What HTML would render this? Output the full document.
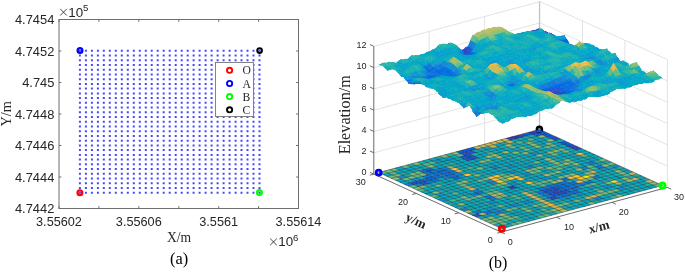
<!DOCTYPE html>
<html><head><meta charset="utf-8"><style>
html,body{margin:0;padding:0;background:#fff;width:685px;height:278px;overflow:hidden}
svg{display:block;transform:translateZ(0)}
.ts path{fill:currentColor;stroke:currentColor;stroke-width:1px;stroke-linejoin:round}
</style></head><body><svg width="685" height="278" viewBox="0 0 685 278"><rect x="59.0" y="19.5" width="239.5" height="189.0" fill="#fff" stroke="none"/><path d="M78.9 49.8h2v2h-2zM84.9 49.8h2v2h-2zM90.9 49.8h2v2h-2zM96.9 49.8h2v2h-2zM102.8 49.8h2v2h-2zM108.8 49.8h2v2h-2zM114.8 49.8h2v2h-2zM120.8 49.8h2v2h-2zM126.8 49.8h2v2h-2zM132.8 49.8h2v2h-2zM138.8 49.8h2v2h-2zM144.8 49.8h2v2h-2zM150.7 49.8h2v2h-2zM156.7 49.8h2v2h-2zM162.7 49.8h2v2h-2zM168.7 49.8h2v2h-2zM174.7 49.8h2v2h-2zM180.7 49.8h2v2h-2zM186.7 49.8h2v2h-2zM192.6 49.8h2v2h-2zM198.6 49.8h2v2h-2zM204.6 49.8h2v2h-2zM210.6 49.8h2v2h-2zM216.6 49.8h2v2h-2zM222.6 49.8h2v2h-2zM228.6 49.8h2v2h-2zM234.6 49.8h2v2h-2zM240.5 49.8h2v2h-2zM246.5 49.8h2v2h-2zM252.5 49.8h2v2h-2zM258.5 49.8h2v2h-2zM78.9 54.5h2v2h-2zM84.9 54.5h2v2h-2zM90.9 54.5h2v2h-2zM96.9 54.5h2v2h-2zM102.8 54.5h2v2h-2zM108.8 54.5h2v2h-2zM114.8 54.5h2v2h-2zM120.8 54.5h2v2h-2zM126.8 54.5h2v2h-2zM132.8 54.5h2v2h-2zM138.8 54.5h2v2h-2zM144.8 54.5h2v2h-2zM150.7 54.5h2v2h-2zM156.7 54.5h2v2h-2zM162.7 54.5h2v2h-2zM168.7 54.5h2v2h-2zM174.7 54.5h2v2h-2zM180.7 54.5h2v2h-2zM186.7 54.5h2v2h-2zM192.6 54.5h2v2h-2zM198.6 54.5h2v2h-2zM204.6 54.5h2v2h-2zM210.6 54.5h2v2h-2zM216.6 54.5h2v2h-2zM222.6 54.5h2v2h-2zM228.6 54.5h2v2h-2zM234.6 54.5h2v2h-2zM240.5 54.5h2v2h-2zM246.5 54.5h2v2h-2zM252.5 54.5h2v2h-2zM258.5 54.5h2v2h-2zM78.9 59.3h2v2h-2zM84.9 59.3h2v2h-2zM90.9 59.3h2v2h-2zM96.9 59.3h2v2h-2zM102.8 59.3h2v2h-2zM108.8 59.3h2v2h-2zM114.8 59.3h2v2h-2zM120.8 59.3h2v2h-2zM126.8 59.3h2v2h-2zM132.8 59.3h2v2h-2zM138.8 59.3h2v2h-2zM144.8 59.3h2v2h-2zM150.7 59.3h2v2h-2zM156.7 59.3h2v2h-2zM162.7 59.3h2v2h-2zM168.7 59.3h2v2h-2zM174.7 59.3h2v2h-2zM180.7 59.3h2v2h-2zM186.7 59.3h2v2h-2zM192.6 59.3h2v2h-2zM198.6 59.3h2v2h-2zM204.6 59.3h2v2h-2zM210.6 59.3h2v2h-2zM216.6 59.3h2v2h-2zM222.6 59.3h2v2h-2zM228.6 59.3h2v2h-2zM234.6 59.3h2v2h-2zM240.5 59.3h2v2h-2zM246.5 59.3h2v2h-2zM252.5 59.3h2v2h-2zM258.5 59.3h2v2h-2zM78.9 64h2v2h-2zM84.9 64h2v2h-2zM90.9 64h2v2h-2zM96.9 64h2v2h-2zM102.8 64h2v2h-2zM108.8 64h2v2h-2zM114.8 64h2v2h-2zM120.8 64h2v2h-2zM126.8 64h2v2h-2zM132.8 64h2v2h-2zM138.8 64h2v2h-2zM144.8 64h2v2h-2zM150.7 64h2v2h-2zM156.7 64h2v2h-2zM162.7 64h2v2h-2zM168.7 64h2v2h-2zM174.7 64h2v2h-2zM180.7 64h2v2h-2zM186.7 64h2v2h-2zM192.6 64h2v2h-2zM198.6 64h2v2h-2zM204.6 64h2v2h-2zM210.6 64h2v2h-2zM216.6 64h2v2h-2zM222.6 64h2v2h-2zM228.6 64h2v2h-2zM234.6 64h2v2h-2zM240.5 64h2v2h-2zM246.5 64h2v2h-2zM252.5 64h2v2h-2zM258.5 64h2v2h-2zM78.9 68.7h2v2h-2zM84.9 68.7h2v2h-2zM90.9 68.7h2v2h-2zM96.9 68.7h2v2h-2zM102.8 68.7h2v2h-2zM108.8 68.7h2v2h-2zM114.8 68.7h2v2h-2zM120.8 68.7h2v2h-2zM126.8 68.7h2v2h-2zM132.8 68.7h2v2h-2zM138.8 68.7h2v2h-2zM144.8 68.7h2v2h-2zM150.7 68.7h2v2h-2zM156.7 68.7h2v2h-2zM162.7 68.7h2v2h-2zM168.7 68.7h2v2h-2zM174.7 68.7h2v2h-2zM180.7 68.7h2v2h-2zM186.7 68.7h2v2h-2zM192.6 68.7h2v2h-2zM198.6 68.7h2v2h-2zM204.6 68.7h2v2h-2zM210.6 68.7h2v2h-2zM216.6 68.7h2v2h-2zM222.6 68.7h2v2h-2zM228.6 68.7h2v2h-2zM234.6 68.7h2v2h-2zM240.5 68.7h2v2h-2zM246.5 68.7h2v2h-2zM252.5 68.7h2v2h-2zM258.5 68.7h2v2h-2zM78.9 73.4h2v2h-2zM84.9 73.4h2v2h-2zM90.9 73.4h2v2h-2zM96.9 73.4h2v2h-2zM102.8 73.4h2v2h-2zM108.8 73.4h2v2h-2zM114.8 73.4h2v2h-2zM120.8 73.4h2v2h-2zM126.8 73.4h2v2h-2zM132.8 73.4h2v2h-2zM138.8 73.4h2v2h-2zM144.8 73.4h2v2h-2zM150.7 73.4h2v2h-2zM156.7 73.4h2v2h-2zM162.7 73.4h2v2h-2zM168.7 73.4h2v2h-2zM174.7 73.4h2v2h-2zM180.7 73.4h2v2h-2zM186.7 73.4h2v2h-2zM192.6 73.4h2v2h-2zM198.6 73.4h2v2h-2zM204.6 73.4h2v2h-2zM210.6 73.4h2v2h-2zM216.6 73.4h2v2h-2zM222.6 73.4h2v2h-2zM228.6 73.4h2v2h-2zM234.6 73.4h2v2h-2zM240.5 73.4h2v2h-2zM246.5 73.4h2v2h-2zM252.5 73.4h2v2h-2zM258.5 73.4h2v2h-2zM78.9 78.2h2v2h-2zM84.9 78.2h2v2h-2zM90.9 78.2h2v2h-2zM96.9 78.2h2v2h-2zM102.8 78.2h2v2h-2zM108.8 78.2h2v2h-2zM114.8 78.2h2v2h-2zM120.8 78.2h2v2h-2zM126.8 78.2h2v2h-2zM132.8 78.2h2v2h-2zM138.8 78.2h2v2h-2zM144.8 78.2h2v2h-2zM150.7 78.2h2v2h-2zM156.7 78.2h2v2h-2zM162.7 78.2h2v2h-2zM168.7 78.2h2v2h-2zM174.7 78.2h2v2h-2zM180.7 78.2h2v2h-2zM186.7 78.2h2v2h-2zM192.6 78.2h2v2h-2zM198.6 78.2h2v2h-2zM204.6 78.2h2v2h-2zM210.6 78.2h2v2h-2zM216.6 78.2h2v2h-2zM222.6 78.2h2v2h-2zM228.6 78.2h2v2h-2zM234.6 78.2h2v2h-2zM240.5 78.2h2v2h-2zM246.5 78.2h2v2h-2zM252.5 78.2h2v2h-2zM258.5 78.2h2v2h-2zM78.9 82.9h2v2h-2zM84.9 82.9h2v2h-2zM90.9 82.9h2v2h-2zM96.9 82.9h2v2h-2zM102.8 82.9h2v2h-2zM108.8 82.9h2v2h-2zM114.8 82.9h2v2h-2zM120.8 82.9h2v2h-2zM126.8 82.9h2v2h-2zM132.8 82.9h2v2h-2zM138.8 82.9h2v2h-2zM144.8 82.9h2v2h-2zM150.7 82.9h2v2h-2zM156.7 82.9h2v2h-2zM162.7 82.9h2v2h-2zM168.7 82.9h2v2h-2zM174.7 82.9h2v2h-2zM180.7 82.9h2v2h-2zM186.7 82.9h2v2h-2zM192.6 82.9h2v2h-2zM198.6 82.9h2v2h-2zM204.6 82.9h2v2h-2zM210.6 82.9h2v2h-2zM216.6 82.9h2v2h-2zM222.6 82.9h2v2h-2zM228.6 82.9h2v2h-2zM234.6 82.9h2v2h-2zM240.5 82.9h2v2h-2zM246.5 82.9h2v2h-2zM252.5 82.9h2v2h-2zM258.5 82.9h2v2h-2zM78.9 87.6h2v2h-2zM84.9 87.6h2v2h-2zM90.9 87.6h2v2h-2zM96.9 87.6h2v2h-2zM102.8 87.6h2v2h-2zM108.8 87.6h2v2h-2zM114.8 87.6h2v2h-2zM120.8 87.6h2v2h-2zM126.8 87.6h2v2h-2zM132.8 87.6h2v2h-2zM138.8 87.6h2v2h-2zM144.8 87.6h2v2h-2zM150.7 87.6h2v2h-2zM156.7 87.6h2v2h-2zM162.7 87.6h2v2h-2zM168.7 87.6h2v2h-2zM174.7 87.6h2v2h-2zM180.7 87.6h2v2h-2zM186.7 87.6h2v2h-2zM192.6 87.6h2v2h-2zM198.6 87.6h2v2h-2zM204.6 87.6h2v2h-2zM210.6 87.6h2v2h-2zM216.6 87.6h2v2h-2zM222.6 87.6h2v2h-2zM228.6 87.6h2v2h-2zM234.6 87.6h2v2h-2zM240.5 87.6h2v2h-2zM246.5 87.6h2v2h-2zM252.5 87.6h2v2h-2zM258.5 87.6h2v2h-2zM78.9 92.4h2v2h-2zM84.9 92.4h2v2h-2zM90.9 92.4h2v2h-2zM96.9 92.4h2v2h-2zM102.8 92.4h2v2h-2zM108.8 92.4h2v2h-2zM114.8 92.4h2v2h-2zM120.8 92.4h2v2h-2zM126.8 92.4h2v2h-2zM132.8 92.4h2v2h-2zM138.8 92.4h2v2h-2zM144.8 92.4h2v2h-2zM150.7 92.4h2v2h-2zM156.7 92.4h2v2h-2zM162.7 92.4h2v2h-2zM168.7 92.4h2v2h-2zM174.7 92.4h2v2h-2zM180.7 92.4h2v2h-2zM186.7 92.4h2v2h-2zM192.6 92.4h2v2h-2zM198.6 92.4h2v2h-2zM204.6 92.4h2v2h-2zM210.6 92.4h2v2h-2zM216.6 92.4h2v2h-2zM222.6 92.4h2v2h-2zM228.6 92.4h2v2h-2zM234.6 92.4h2v2h-2zM240.5 92.4h2v2h-2zM246.5 92.4h2v2h-2zM252.5 92.4h2v2h-2zM258.5 92.4h2v2h-2zM78.9 97.1h2v2h-2zM84.9 97.1h2v2h-2zM90.9 97.1h2v2h-2zM96.9 97.1h2v2h-2zM102.8 97.1h2v2h-2zM108.8 97.1h2v2h-2zM114.8 97.1h2v2h-2zM120.8 97.1h2v2h-2zM126.8 97.1h2v2h-2zM132.8 97.1h2v2h-2zM138.8 97.1h2v2h-2zM144.8 97.1h2v2h-2zM150.7 97.1h2v2h-2zM156.7 97.1h2v2h-2zM162.7 97.1h2v2h-2zM168.7 97.1h2v2h-2zM174.7 97.1h2v2h-2zM180.7 97.1h2v2h-2zM186.7 97.1h2v2h-2zM192.6 97.1h2v2h-2zM198.6 97.1h2v2h-2zM204.6 97.1h2v2h-2zM210.6 97.1h2v2h-2zM216.6 97.1h2v2h-2zM222.6 97.1h2v2h-2zM228.6 97.1h2v2h-2zM234.6 97.1h2v2h-2zM240.5 97.1h2v2h-2zM246.5 97.1h2v2h-2zM252.5 97.1h2v2h-2zM258.5 97.1h2v2h-2zM78.9 101.8h2v2h-2zM84.9 101.8h2v2h-2zM90.9 101.8h2v2h-2zM96.9 101.8h2v2h-2zM102.8 101.8h2v2h-2zM108.8 101.8h2v2h-2zM114.8 101.8h2v2h-2zM120.8 101.8h2v2h-2zM126.8 101.8h2v2h-2zM132.8 101.8h2v2h-2zM138.8 101.8h2v2h-2zM144.8 101.8h2v2h-2zM150.7 101.8h2v2h-2zM156.7 101.8h2v2h-2zM162.7 101.8h2v2h-2zM168.7 101.8h2v2h-2zM174.7 101.8h2v2h-2zM180.7 101.8h2v2h-2zM186.7 101.8h2v2h-2zM192.6 101.8h2v2h-2zM198.6 101.8h2v2h-2zM204.6 101.8h2v2h-2zM210.6 101.8h2v2h-2zM216.6 101.8h2v2h-2zM222.6 101.8h2v2h-2zM228.6 101.8h2v2h-2zM234.6 101.8h2v2h-2zM240.5 101.8h2v2h-2zM246.5 101.8h2v2h-2zM252.5 101.8h2v2h-2zM258.5 101.8h2v2h-2zM78.9 106.6h2v2h-2zM84.9 106.6h2v2h-2zM90.9 106.6h2v2h-2zM96.9 106.6h2v2h-2zM102.8 106.6h2v2h-2zM108.8 106.6h2v2h-2zM114.8 106.6h2v2h-2zM120.8 106.6h2v2h-2zM126.8 106.6h2v2h-2zM132.8 106.6h2v2h-2zM138.8 106.6h2v2h-2zM144.8 106.6h2v2h-2zM150.7 106.6h2v2h-2zM156.7 106.6h2v2h-2zM162.7 106.6h2v2h-2zM168.7 106.6h2v2h-2zM174.7 106.6h2v2h-2zM180.7 106.6h2v2h-2zM186.7 106.6h2v2h-2zM192.6 106.6h2v2h-2zM198.6 106.6h2v2h-2zM204.6 106.6h2v2h-2zM210.6 106.6h2v2h-2zM216.6 106.6h2v2h-2zM222.6 106.6h2v2h-2zM228.6 106.6h2v2h-2zM234.6 106.6h2v2h-2zM240.5 106.6h2v2h-2zM246.5 106.6h2v2h-2zM252.5 106.6h2v2h-2zM258.5 106.6h2v2h-2zM78.9 111.3h2v2h-2zM84.9 111.3h2v2h-2zM90.9 111.3h2v2h-2zM96.9 111.3h2v2h-2zM102.8 111.3h2v2h-2zM108.8 111.3h2v2h-2zM114.8 111.3h2v2h-2zM120.8 111.3h2v2h-2zM126.8 111.3h2v2h-2zM132.8 111.3h2v2h-2zM138.8 111.3h2v2h-2zM144.8 111.3h2v2h-2zM150.7 111.3h2v2h-2zM156.7 111.3h2v2h-2zM162.7 111.3h2v2h-2zM168.7 111.3h2v2h-2zM174.7 111.3h2v2h-2zM180.7 111.3h2v2h-2zM186.7 111.3h2v2h-2zM192.6 111.3h2v2h-2zM198.6 111.3h2v2h-2zM204.6 111.3h2v2h-2zM210.6 111.3h2v2h-2zM216.6 111.3h2v2h-2zM222.6 111.3h2v2h-2zM228.6 111.3h2v2h-2zM234.6 111.3h2v2h-2zM240.5 111.3h2v2h-2zM246.5 111.3h2v2h-2zM252.5 111.3h2v2h-2zM258.5 111.3h2v2h-2zM78.9 116h2v2h-2zM84.9 116h2v2h-2zM90.9 116h2v2h-2zM96.9 116h2v2h-2zM102.8 116h2v2h-2zM108.8 116h2v2h-2zM114.8 116h2v2h-2zM120.8 116h2v2h-2zM126.8 116h2v2h-2zM132.8 116h2v2h-2zM138.8 116h2v2h-2zM144.8 116h2v2h-2zM150.7 116h2v2h-2zM156.7 116h2v2h-2zM162.7 116h2v2h-2zM168.7 116h2v2h-2zM174.7 116h2v2h-2zM180.7 116h2v2h-2zM186.7 116h2v2h-2zM192.6 116h2v2h-2zM198.6 116h2v2h-2zM204.6 116h2v2h-2zM210.6 116h2v2h-2zM216.6 116h2v2h-2zM222.6 116h2v2h-2zM228.6 116h2v2h-2zM234.6 116h2v2h-2zM240.5 116h2v2h-2zM246.5 116h2v2h-2zM252.5 116h2v2h-2zM258.5 116h2v2h-2zM78.9 120.7h2v2h-2zM84.9 120.7h2v2h-2zM90.9 120.7h2v2h-2zM96.9 120.7h2v2h-2zM102.8 120.7h2v2h-2zM108.8 120.7h2v2h-2zM114.8 120.7h2v2h-2zM120.8 120.7h2v2h-2zM126.8 120.7h2v2h-2zM132.8 120.7h2v2h-2zM138.8 120.7h2v2h-2zM144.8 120.7h2v2h-2zM150.7 120.7h2v2h-2zM156.7 120.7h2v2h-2zM162.7 120.7h2v2h-2zM168.7 120.7h2v2h-2zM174.7 120.7h2v2h-2zM180.7 120.7h2v2h-2zM186.7 120.7h2v2h-2zM192.6 120.7h2v2h-2zM198.6 120.7h2v2h-2zM204.6 120.7h2v2h-2zM210.6 120.7h2v2h-2zM216.6 120.7h2v2h-2zM222.6 120.7h2v2h-2zM228.6 120.7h2v2h-2zM234.6 120.7h2v2h-2zM240.5 120.7h2v2h-2zM246.5 120.7h2v2h-2zM252.5 120.7h2v2h-2zM258.5 120.7h2v2h-2zM78.9 125.5h2v2h-2zM84.9 125.5h2v2h-2zM90.9 125.5h2v2h-2zM96.9 125.5h2v2h-2zM102.8 125.5h2v2h-2zM108.8 125.5h2v2h-2zM114.8 125.5h2v2h-2zM120.8 125.5h2v2h-2zM126.8 125.5h2v2h-2zM132.8 125.5h2v2h-2zM138.8 125.5h2v2h-2zM144.8 125.5h2v2h-2zM150.7 125.5h2v2h-2zM156.7 125.5h2v2h-2zM162.7 125.5h2v2h-2zM168.7 125.5h2v2h-2zM174.7 125.5h2v2h-2zM180.7 125.5h2v2h-2zM186.7 125.5h2v2h-2zM192.6 125.5h2v2h-2zM198.6 125.5h2v2h-2zM204.6 125.5h2v2h-2zM210.6 125.5h2v2h-2zM216.6 125.5h2v2h-2zM222.6 125.5h2v2h-2zM228.6 125.5h2v2h-2zM234.6 125.5h2v2h-2zM240.5 125.5h2v2h-2zM246.5 125.5h2v2h-2zM252.5 125.5h2v2h-2zM258.5 125.5h2v2h-2zM78.9 130.2h2v2h-2zM84.9 130.2h2v2h-2zM90.9 130.2h2v2h-2zM96.9 130.2h2v2h-2zM102.8 130.2h2v2h-2zM108.8 130.2h2v2h-2zM114.8 130.2h2v2h-2zM120.8 130.2h2v2h-2zM126.8 130.2h2v2h-2zM132.8 130.2h2v2h-2zM138.8 130.2h2v2h-2zM144.8 130.2h2v2h-2zM150.7 130.2h2v2h-2zM156.7 130.2h2v2h-2zM162.7 130.2h2v2h-2zM168.7 130.2h2v2h-2zM174.7 130.2h2v2h-2zM180.7 130.2h2v2h-2zM186.7 130.2h2v2h-2zM192.6 130.2h2v2h-2zM198.6 130.2h2v2h-2zM204.6 130.2h2v2h-2zM210.6 130.2h2v2h-2zM216.6 130.2h2v2h-2zM222.6 130.2h2v2h-2zM228.6 130.2h2v2h-2zM234.6 130.2h2v2h-2zM240.5 130.2h2v2h-2zM246.5 130.2h2v2h-2zM252.5 130.2h2v2h-2zM258.5 130.2h2v2h-2zM78.9 134.9h2v2h-2zM84.9 134.9h2v2h-2zM90.9 134.9h2v2h-2zM96.9 134.9h2v2h-2zM102.8 134.9h2v2h-2zM108.8 134.9h2v2h-2zM114.8 134.9h2v2h-2zM120.8 134.9h2v2h-2zM126.8 134.9h2v2h-2zM132.8 134.9h2v2h-2zM138.8 134.9h2v2h-2zM144.8 134.9h2v2h-2zM150.7 134.9h2v2h-2zM156.7 134.9h2v2h-2zM162.7 134.9h2v2h-2zM168.7 134.9h2v2h-2zM174.7 134.9h2v2h-2zM180.7 134.9h2v2h-2zM186.7 134.9h2v2h-2zM192.6 134.9h2v2h-2zM198.6 134.9h2v2h-2zM204.6 134.9h2v2h-2zM210.6 134.9h2v2h-2zM216.6 134.9h2v2h-2zM222.6 134.9h2v2h-2zM228.6 134.9h2v2h-2zM234.6 134.9h2v2h-2zM240.5 134.9h2v2h-2zM246.5 134.9h2v2h-2zM252.5 134.9h2v2h-2zM258.5 134.9h2v2h-2zM78.9 139.7h2v2h-2zM84.9 139.7h2v2h-2zM90.9 139.7h2v2h-2zM96.9 139.7h2v2h-2zM102.8 139.7h2v2h-2zM108.8 139.7h2v2h-2zM114.8 139.7h2v2h-2zM120.8 139.7h2v2h-2zM126.8 139.7h2v2h-2zM132.8 139.7h2v2h-2zM138.8 139.7h2v2h-2zM144.8 139.7h2v2h-2zM150.7 139.7h2v2h-2zM156.7 139.7h2v2h-2zM162.7 139.7h2v2h-2zM168.7 139.7h2v2h-2zM174.7 139.7h2v2h-2zM180.7 139.7h2v2h-2zM186.7 139.7h2v2h-2zM192.6 139.7h2v2h-2zM198.6 139.7h2v2h-2zM204.6 139.7h2v2h-2zM210.6 139.7h2v2h-2zM216.6 139.7h2v2h-2zM222.6 139.7h2v2h-2zM228.6 139.7h2v2h-2zM234.6 139.7h2v2h-2zM240.5 139.7h2v2h-2zM246.5 139.7h2v2h-2zM252.5 139.7h2v2h-2zM258.5 139.7h2v2h-2zM78.9 144.4h2v2h-2zM84.9 144.4h2v2h-2zM90.9 144.4h2v2h-2zM96.9 144.4h2v2h-2zM102.8 144.4h2v2h-2zM108.8 144.4h2v2h-2zM114.8 144.4h2v2h-2zM120.8 144.4h2v2h-2zM126.8 144.4h2v2h-2zM132.8 144.4h2v2h-2zM138.8 144.4h2v2h-2zM144.8 144.4h2v2h-2zM150.7 144.4h2v2h-2zM156.7 144.4h2v2h-2zM162.7 144.4h2v2h-2zM168.7 144.4h2v2h-2zM174.7 144.4h2v2h-2zM180.7 144.4h2v2h-2zM186.7 144.4h2v2h-2zM192.6 144.4h2v2h-2zM198.6 144.4h2v2h-2zM204.6 144.4h2v2h-2zM210.6 144.4h2v2h-2zM216.6 144.4h2v2h-2zM222.6 144.4h2v2h-2zM228.6 144.4h2v2h-2zM234.6 144.4h2v2h-2zM240.5 144.4h2v2h-2zM246.5 144.4h2v2h-2zM252.5 144.4h2v2h-2zM258.5 144.4h2v2h-2zM78.9 149.1h2v2h-2zM84.9 149.1h2v2h-2zM90.9 149.1h2v2h-2zM96.9 149.1h2v2h-2zM102.8 149.1h2v2h-2zM108.8 149.1h2v2h-2zM114.8 149.1h2v2h-2zM120.8 149.1h2v2h-2zM126.8 149.1h2v2h-2zM132.8 149.1h2v2h-2zM138.8 149.1h2v2h-2zM144.8 149.1h2v2h-2zM150.7 149.1h2v2h-2zM156.7 149.1h2v2h-2zM162.7 149.1h2v2h-2zM168.7 149.1h2v2h-2zM174.7 149.1h2v2h-2zM180.7 149.1h2v2h-2zM186.7 149.1h2v2h-2zM192.6 149.1h2v2h-2zM198.6 149.1h2v2h-2zM204.6 149.1h2v2h-2zM210.6 149.1h2v2h-2zM216.6 149.1h2v2h-2zM222.6 149.1h2v2h-2zM228.6 149.1h2v2h-2zM234.6 149.1h2v2h-2zM240.5 149.1h2v2h-2zM246.5 149.1h2v2h-2zM252.5 149.1h2v2h-2zM258.5 149.1h2v2h-2zM78.9 153.9h2v2h-2zM84.9 153.9h2v2h-2zM90.9 153.9h2v2h-2zM96.9 153.9h2v2h-2zM102.8 153.9h2v2h-2zM108.8 153.9h2v2h-2zM114.8 153.9h2v2h-2zM120.8 153.9h2v2h-2zM126.8 153.9h2v2h-2zM132.8 153.9h2v2h-2zM138.8 153.9h2v2h-2zM144.8 153.9h2v2h-2zM150.7 153.9h2v2h-2zM156.7 153.9h2v2h-2zM162.7 153.9h2v2h-2zM168.7 153.9h2v2h-2zM174.7 153.9h2v2h-2zM180.7 153.9h2v2h-2zM186.7 153.9h2v2h-2zM192.6 153.9h2v2h-2zM198.6 153.9h2v2h-2zM204.6 153.9h2v2h-2zM210.6 153.9h2v2h-2zM216.6 153.9h2v2h-2zM222.6 153.9h2v2h-2zM228.6 153.9h2v2h-2zM234.6 153.9h2v2h-2zM240.5 153.9h2v2h-2zM246.5 153.9h2v2h-2zM252.5 153.9h2v2h-2zM258.5 153.9h2v2h-2zM78.9 158.6h2v2h-2zM84.9 158.6h2v2h-2zM90.9 158.6h2v2h-2zM96.9 158.6h2v2h-2zM102.8 158.6h2v2h-2zM108.8 158.6h2v2h-2zM114.8 158.6h2v2h-2zM120.8 158.6h2v2h-2zM126.8 158.6h2v2h-2zM132.8 158.6h2v2h-2zM138.8 158.6h2v2h-2zM144.8 158.6h2v2h-2zM150.7 158.6h2v2h-2zM156.7 158.6h2v2h-2zM162.7 158.6h2v2h-2zM168.7 158.6h2v2h-2zM174.7 158.6h2v2h-2zM180.7 158.6h2v2h-2zM186.7 158.6h2v2h-2zM192.6 158.6h2v2h-2zM198.6 158.6h2v2h-2zM204.6 158.6h2v2h-2zM210.6 158.6h2v2h-2zM216.6 158.6h2v2h-2zM222.6 158.6h2v2h-2zM228.6 158.6h2v2h-2zM234.6 158.6h2v2h-2zM240.5 158.6h2v2h-2zM246.5 158.6h2v2h-2zM252.5 158.6h2v2h-2zM258.5 158.6h2v2h-2zM78.9 163.3h2v2h-2zM84.9 163.3h2v2h-2zM90.9 163.3h2v2h-2zM96.9 163.3h2v2h-2zM102.8 163.3h2v2h-2zM108.8 163.3h2v2h-2zM114.8 163.3h2v2h-2zM120.8 163.3h2v2h-2zM126.8 163.3h2v2h-2zM132.8 163.3h2v2h-2zM138.8 163.3h2v2h-2zM144.8 163.3h2v2h-2zM150.7 163.3h2v2h-2zM156.7 163.3h2v2h-2zM162.7 163.3h2v2h-2zM168.7 163.3h2v2h-2zM174.7 163.3h2v2h-2zM180.7 163.3h2v2h-2zM186.7 163.3h2v2h-2zM192.6 163.3h2v2h-2zM198.6 163.3h2v2h-2zM204.6 163.3h2v2h-2zM210.6 163.3h2v2h-2zM216.6 163.3h2v2h-2zM222.6 163.3h2v2h-2zM228.6 163.3h2v2h-2zM234.6 163.3h2v2h-2zM240.5 163.3h2v2h-2zM246.5 163.3h2v2h-2zM252.5 163.3h2v2h-2zM258.5 163.3h2v2h-2zM78.9 168h2v2h-2zM84.9 168h2v2h-2zM90.9 168h2v2h-2zM96.9 168h2v2h-2zM102.8 168h2v2h-2zM108.8 168h2v2h-2zM114.8 168h2v2h-2zM120.8 168h2v2h-2zM126.8 168h2v2h-2zM132.8 168h2v2h-2zM138.8 168h2v2h-2zM144.8 168h2v2h-2zM150.7 168h2v2h-2zM156.7 168h2v2h-2zM162.7 168h2v2h-2zM168.7 168h2v2h-2zM174.7 168h2v2h-2zM180.7 168h2v2h-2zM186.7 168h2v2h-2zM192.6 168h2v2h-2zM198.6 168h2v2h-2zM204.6 168h2v2h-2zM210.6 168h2v2h-2zM216.6 168h2v2h-2zM222.6 168h2v2h-2zM228.6 168h2v2h-2zM234.6 168h2v2h-2zM240.5 168h2v2h-2zM246.5 168h2v2h-2zM252.5 168h2v2h-2zM258.5 168h2v2h-2zM78.9 172.8h2v2h-2zM84.9 172.8h2v2h-2zM90.9 172.8h2v2h-2zM96.9 172.8h2v2h-2zM102.8 172.8h2v2h-2zM108.8 172.8h2v2h-2zM114.8 172.8h2v2h-2zM120.8 172.8h2v2h-2zM126.8 172.8h2v2h-2zM132.8 172.8h2v2h-2zM138.8 172.8h2v2h-2zM144.8 172.8h2v2h-2zM150.7 172.8h2v2h-2zM156.7 172.8h2v2h-2zM162.7 172.8h2v2h-2zM168.7 172.8h2v2h-2zM174.7 172.8h2v2h-2zM180.7 172.8h2v2h-2zM186.7 172.8h2v2h-2zM192.6 172.8h2v2h-2zM198.6 172.8h2v2h-2zM204.6 172.8h2v2h-2zM210.6 172.8h2v2h-2zM216.6 172.8h2v2h-2zM222.6 172.8h2v2h-2zM228.6 172.8h2v2h-2zM234.6 172.8h2v2h-2zM240.5 172.8h2v2h-2zM246.5 172.8h2v2h-2zM252.5 172.8h2v2h-2zM258.5 172.8h2v2h-2zM78.9 177.5h2v2h-2zM84.9 177.5h2v2h-2zM90.9 177.5h2v2h-2zM96.9 177.5h2v2h-2zM102.8 177.5h2v2h-2zM108.8 177.5h2v2h-2zM114.8 177.5h2v2h-2zM120.8 177.5h2v2h-2zM126.8 177.5h2v2h-2zM132.8 177.5h2v2h-2zM138.8 177.5h2v2h-2zM144.8 177.5h2v2h-2zM150.7 177.5h2v2h-2zM156.7 177.5h2v2h-2zM162.7 177.5h2v2h-2zM168.7 177.5h2v2h-2zM174.7 177.5h2v2h-2zM180.7 177.5h2v2h-2zM186.7 177.5h2v2h-2zM192.6 177.5h2v2h-2zM198.6 177.5h2v2h-2zM204.6 177.5h2v2h-2zM210.6 177.5h2v2h-2zM216.6 177.5h2v2h-2zM222.6 177.5h2v2h-2zM228.6 177.5h2v2h-2zM234.6 177.5h2v2h-2zM240.5 177.5h2v2h-2zM246.5 177.5h2v2h-2zM252.5 177.5h2v2h-2zM258.5 177.5h2v2h-2zM78.9 182.2h2v2h-2zM84.9 182.2h2v2h-2zM90.9 182.2h2v2h-2zM96.9 182.2h2v2h-2zM102.8 182.2h2v2h-2zM108.8 182.2h2v2h-2zM114.8 182.2h2v2h-2zM120.8 182.2h2v2h-2zM126.8 182.2h2v2h-2zM132.8 182.2h2v2h-2zM138.8 182.2h2v2h-2zM144.8 182.2h2v2h-2zM150.7 182.2h2v2h-2zM156.7 182.2h2v2h-2zM162.7 182.2h2v2h-2zM168.7 182.2h2v2h-2zM174.7 182.2h2v2h-2zM180.7 182.2h2v2h-2zM186.7 182.2h2v2h-2zM192.6 182.2h2v2h-2zM198.6 182.2h2v2h-2zM204.6 182.2h2v2h-2zM210.6 182.2h2v2h-2zM216.6 182.2h2v2h-2zM222.6 182.2h2v2h-2zM228.6 182.2h2v2h-2zM234.6 182.2h2v2h-2zM240.5 182.2h2v2h-2zM246.5 182.2h2v2h-2zM252.5 182.2h2v2h-2zM258.5 182.2h2v2h-2zM78.9 187h2v2h-2zM84.9 187h2v2h-2zM90.9 187h2v2h-2zM96.9 187h2v2h-2zM102.8 187h2v2h-2zM108.8 187h2v2h-2zM114.8 187h2v2h-2zM120.8 187h2v2h-2zM126.8 187h2v2h-2zM132.8 187h2v2h-2zM138.8 187h2v2h-2zM144.8 187h2v2h-2zM150.7 187h2v2h-2zM156.7 187h2v2h-2zM162.7 187h2v2h-2zM168.7 187h2v2h-2zM174.7 187h2v2h-2zM180.7 187h2v2h-2zM186.7 187h2v2h-2zM192.6 187h2v2h-2zM198.6 187h2v2h-2zM204.6 187h2v2h-2zM210.6 187h2v2h-2zM216.6 187h2v2h-2zM222.6 187h2v2h-2zM228.6 187h2v2h-2zM234.6 187h2v2h-2zM240.5 187h2v2h-2zM246.5 187h2v2h-2zM252.5 187h2v2h-2zM258.5 187h2v2h-2zM78.9 191.7h2v2h-2zM84.9 191.7h2v2h-2zM90.9 191.7h2v2h-2zM96.9 191.7h2v2h-2zM102.8 191.7h2v2h-2zM108.8 191.7h2v2h-2zM114.8 191.7h2v2h-2zM120.8 191.7h2v2h-2zM126.8 191.7h2v2h-2zM132.8 191.7h2v2h-2zM138.8 191.7h2v2h-2zM144.8 191.7h2v2h-2zM150.7 191.7h2v2h-2zM156.7 191.7h2v2h-2zM162.7 191.7h2v2h-2zM168.7 191.7h2v2h-2zM174.7 191.7h2v2h-2zM180.7 191.7h2v2h-2zM186.7 191.7h2v2h-2zM192.6 191.7h2v2h-2zM198.6 191.7h2v2h-2zM204.6 191.7h2v2h-2zM210.6 191.7h2v2h-2zM216.6 191.7h2v2h-2zM222.6 191.7h2v2h-2zM228.6 191.7h2v2h-2zM234.6 191.7h2v2h-2zM240.5 191.7h2v2h-2zM246.5 191.7h2v2h-2zM252.5 191.7h2v2h-2zM258.5 191.7h2v2h-2z" fill="#4848ff"/><rect x="59.0" y="19.5" width="239.5" height="189.0" fill="none" stroke="#6f6f6f" stroke-width="1"/><path d="M59 208.5v-2.4M59 19.5v2.4M59.0 19.5h2.4M298.5 19.5h-2.4M98.9 208.5v-2.4M98.9 19.5v2.4M59.0 51h2.4M298.5 51h-2.4M138.8 208.5v-2.4M138.8 19.5v2.4M59.0 82.5h2.4M298.5 82.5h-2.4M178.8 208.5v-2.4M178.8 19.5v2.4M59.0 114h2.4M298.5 114h-2.4M218.7 208.5v-2.4M218.7 19.5v2.4M59.0 145.5h2.4M298.5 145.5h-2.4M258.6 208.5v-2.4M258.6 19.5v2.4M59.0 177h2.4M298.5 177h-2.4M298.5 208.5v-2.4M298.5 19.5v2.4M59.0 208.5h2.4M298.5 208.5h-2.4" stroke="#6f6f6f" stroke-width="1" fill="none"/><circle cx="79.9" cy="192.7" r="2.35" fill="none" stroke="#ff0000" stroke-width="2.3"/><circle cx="80.0" cy="50.5" r="2.35" fill="none" stroke="#0000ff" stroke-width="2.3"/><circle cx="259.4" cy="192.6" r="2.35" fill="none" stroke="#00ff00" stroke-width="2.3"/><circle cx="259.6" cy="50.6" r="2.35" fill="none" stroke="#000000" stroke-width="2.0"/><rect x="215.5" y="62.5" width="38" height="54" fill="#fff" stroke="#777" stroke-width="0.9"/><circle cx="229.6" cy="70.3" r="2.6" fill="none" stroke="#ff0000" stroke-width="1.9"/><text x="242.6" y="74.3" font-family="'Liberation Serif', serif" font-size="11.6" fill="#262626">O</text><circle cx="229.6" cy="83.5" r="2.6" fill="none" stroke="#0000ff" stroke-width="1.9"/><text x="242.6" y="87.5" font-family="'Liberation Serif', serif" font-size="11.6" fill="#262626">A</text><circle cx="229.6" cy="96.6" r="2.6" fill="none" stroke="#00ff00" stroke-width="1.9"/><text x="242.6" y="100.6" font-family="'Liberation Serif', serif" font-size="11.6" fill="#262626">B</text><circle cx="229.6" cy="109.8" r="2.6" fill="none" stroke="#000000" stroke-width="1.9"/><text x="242.6" y="113.8" font-family="'Liberation Serif', serif" font-size="11.6" fill="#262626">C</text><text x="59" y="225.6" text-anchor="middle" font-family="'Liberation Sans', sans-serif" font-size="12.7" fill="#262626">3.55602</text><text x="138.8" y="225.6" text-anchor="middle" font-family="'Liberation Sans', sans-serif" font-size="12.7" fill="#262626">3.55606</text><text x="218.7" y="225.6" text-anchor="middle" font-family="'Liberation Sans', sans-serif" font-size="12.7" fill="#262626">3.5561</text><text x="298.5" y="225.6" text-anchor="middle" font-family="'Liberation Sans', sans-serif" font-size="12.7" fill="#262626">3.55614</text><text x="54.4" y="24.3" text-anchor="end" font-family="'Liberation Sans', sans-serif" font-size="12.9" fill="#262626">4.7454</text><text x="54.4" y="55.8" text-anchor="end" font-family="'Liberation Sans', sans-serif" font-size="12.9" fill="#262626">4.7452</text><text x="54.4" y="87.3" text-anchor="end" font-family="'Liberation Sans', sans-serif" font-size="12.9" fill="#262626">4.745</text><text x="54.4" y="118.8" text-anchor="end" font-family="'Liberation Sans', sans-serif" font-size="12.9" fill="#262626">4.7448</text><text x="54.4" y="150.3" text-anchor="end" font-family="'Liberation Sans', sans-serif" font-size="12.9" fill="#262626">4.7446</text><text x="54.4" y="181.8" text-anchor="end" font-family="'Liberation Sans', sans-serif" font-size="12.9" fill="#262626">4.7444</text><text x="54.4" y="213.3" text-anchor="end" font-family="'Liberation Sans', sans-serif" font-size="12.9" fill="#262626">4.7442</text><path d="M60.2 8.9l6.6 6.6M66.8 8.9l-6.6 6.6" stroke="#262626" stroke-width="0.85" fill="none"/><text x="68.2" y="16.6" font-family="'Liberation Sans', sans-serif" font-size="13.4" fill="#262626">10<tspan font-size="9.6" dy="-5.6">5</tspan></text><path d="M270.2 238.6l6.6 6.6M276.8 238.6l-6.6 6.6" stroke="#262626" stroke-width="0.85" fill="none"/><text x="278.2" y="246.3" font-family="'Liberation Sans', sans-serif" font-size="13.4" fill="#262626">10<tspan font-size="9.6" dy="-5.6">6</tspan></text><text x="179" y="242" text-anchor="middle" font-family="'Liberation Serif', serif" font-size="13.6" fill="#262626">X/m</text><text transform="translate(10.6,113.8) rotate(-90)" text-anchor="middle" font-family="'Liberation Serif', serif" font-size="14.3" fill="#262626">Y/m</text><text x="179.2" y="264" text-anchor="middle" font-family="'Liberation Serif', serif" font-size="16.4" fill="#000">(a)</text><path d="M373.8 174.1L540 129.4L667.4 187.4M373.8 152.8L540 108.1L667.4 166.1M373.8 131.5L540 86.8L667.4 144.8M373.8 110.2L540 65.5L667.4 123.5M373.8 88.9L540 44.2L667.4 102.2M373.8 67.6L540 22.9L667.4 80.9M373.8 46.3L540 1.6L667.4 59.6M429.2 159.2L429.2 31.4M484.6 144.3L484.6 16.5M540 129.4L540 1.6M667.4 187.4L667.4 59.6M624.9 168.1L624.9 40.3M582.5 148.7L582.5 20.9" stroke="#dcdcdc" stroke-width="0.8" fill="none"/><path d="M539.4 129.4V1.6" stroke="#b0b0b0" stroke-width="0.8"/><circle cx="539.4" cy="129.4" r="2.5" fill="none" stroke="#000000" stroke-width="2.6"/><path d="M501.8 228.7L507.3 227.2L503.1 225.3L497.6 226.8zM507.3 227.2L512.9 225.7L508.6 223.8L503.1 225.3zM481.5 203.4L487.1 201.9L482.8 200L477.3 201.5zM454.4 183L459.9 181.5L455.7 179.6L450.2 181.1zM483.8 184.3L489.3 182.9L485.1 180.9L479.5 182.4zM508.9 183.7L514.4 182.3L510.2 180.3L504.6 181.8zM491.2 151.6L496.7 150.1L492.5 148.2L486.9 149.7zM544.4 155.7L549.9 154.3L545.7 152.3L540.1 153.8zM605.1 179.4L610.6 177.9L606.4 176L600.8 177.5zM607.7 172.6L613.2 171.1L609 169.1L603.4 170.6z" fill="#09acbe"/><path d="M497.6 226.8L503.1 225.3L498.9 223.3L493.3 224.8zM525.8 191.5L531.4 190L527.1 188.1L521.6 189.5zM574.4 181.5L580 180L575.7 178.1L570.2 179.6zM517.6 147.6L523.1 146.1L518.9 144.1L513.3 145.6zM561.3 163.5L566.9 162L562.6 160.1L557.1 161.6zM631.8 187.6L637.4 186.1L633.1 184.2L627.6 185.7zM623.4 183.7L628.9 182.2L624.7 180.3L619.1 181.8zM582.2 161L587.7 159.5L583.5 157.5L578 159z" fill="#13b0b6"/><path d="M493.3 224.8L498.9 223.3L494.6 221.4L489.1 222.9zM489.7 195.1L495.2 193.6L490.9 191.6L485.4 193.1zM503.7 197.4L509.2 195.9L505 194L499.4 195.5zM559.8 207L565.3 205.5L561.1 203.5L555.6 205zM604.1 195L609.7 193.5L605.4 191.6L599.9 193.1zM571.5 176.1L577 174.6L572.8 172.7L567.2 174.2z" fill="#6dbf82"/><path d="M489.1 222.9L494.6 221.4L490.4 219.5L484.8 221zM437.8 187.5L443.3 186L439.1 184.1L433.5 185.5z" fill="#6fbf81"/><path d="M484.8 221L490.4 219.5L486.1 217.5L480.6 219zM467.5 201L473 199.5L468.8 197.6L463.2 199.1zM558.7 170.3L564.3 168.8L560 166.9L554.5 168.4zM512 149.1L517.6 147.6L513.3 145.6L507.8 147.1zM546.9 148.9L552.5 147.4L548.2 145.5L542.7 147z" fill="#69be84"/><path d="M480.6 219L486.1 217.5L481.9 215.6L476.3 217.1zM466.2 204.4L471.7 203L467.5 201L461.9 202.5zM413.6 172.4L419.1 171L414.9 169L409.4 170.5zM518.1 212L523.6 210.5L519.4 208.6L513.8 210.1zM476.9 189.3L482.5 187.8L478.2 185.8L472.7 187.3zM551.7 215.3L557.2 213.8L553 211.9L547.4 213.4zM531.7 202.2L537.3 200.7L533 198.8L527.5 200.3zM456.6 164L462.2 162.5L457.9 160.5L452.4 162zM497.4 174.5L503 173L498.7 171.1L493.2 172.6zM566.6 202L572.2 200.6L567.9 198.6L562.4 200.1zM520.9 165.1L526.4 163.6L522.2 161.7L516.6 163.2zM508.2 159.3L513.7 157.8L509.5 155.9L503.9 157.4zM598.2 184.3L603.8 182.8L599.5 180.9L594 182.4zM545.7 152.3L551.2 150.8L546.9 148.9L541.4 150.4zM614.9 179.9L620.4 178.4L616.2 176.4L610.6 177.9zM580.9 164.4L586.4 162.9L582.2 161L576.7 162.4zM620.4 178.4L625.9 176.9L621.7 174.9L616.2 176.4zM623 171.5L628.5 170L624.3 168.1L618.8 169.6zM593.3 158L598.8 156.5L594.6 154.5L589 156z" fill="#07aac1"/><path d="M476.3 217.1L481.9 215.6L477.6 213.7L472.1 215.2z" fill="#2d49c4"/><path d="M472.1 215.2L477.6 213.7L473.4 211.7L467.8 213.2zM455.1 207.4L460.6 205.9L456.4 204L450.9 205.5zM446.6 203.6L452.2 202.1L447.9 200.1L442.4 201.6zM429.6 195.8L435.2 194.3L430.9 192.4L425.4 193.9zM425.4 193.9L430.9 192.4L426.7 190.5L421.1 191.9zM469.1 209.8L474.7 208.3L470.4 206.4L464.9 207.9zM474.7 208.3L480.2 206.8L476 204.9L470.4 206.4zM453.5 198.6L459 197.1L454.8 195.2L449.2 196.7zM450.5 193.3L456 191.8L451.8 189.9L446.3 191.3zM529.5 221.3L535 219.8L530.8 217.8L525.3 219.3zM512.5 213.5L518.1 212L513.8 210.1L508.3 211.6zM522.3 214L527.9 212.5L523.6 210.5L518.1 212zM468.1 173.2L473.6 171.7L469.4 169.8L463.8 171.2zM438.4 159.6L443.9 158.1L439.7 156.2L434.1 157.7zM516.1 191L521.6 189.5L517.4 187.6L511.8 189.1zM465.1 167.8L470.7 166.3L466.4 164.4L460.9 165.9zM470.7 166.3L476.2 164.8L472 162.9L466.4 164.4zM522.9 186.1L528.4 184.6L524.2 182.7L518.7 184.2zM570.9 204L576.4 202.5L572.2 200.6L566.6 202zM495.8 165.7L501.3 164.2L497.1 162.3L491.5 163.8zM505.6 166.2L511.1 164.7L506.9 162.8L501.3 164.2zM515.4 166.6L520.9 165.1L516.6 163.2L511.1 164.7zM506.9 162.8L512.4 161.3L508.2 159.3L502.6 160.8zM485.6 153.1L491.2 151.6L486.9 149.7L481.4 151.1zM534.9 167.5L540.5 166L536.2 164.1L530.7 165.6zM613.9 195.5L619.5 194L615.2 192.1L609.7 193.5zM541.8 162.6L547.3 161.1L543.1 159.2L537.5 160.7zM537.5 160.7L543.1 159.2L538.8 157.2L533.3 158.7zM619.5 194L625 192.5L620.8 190.6L615.2 192.1zM611 190.1L616.5 188.6L612.3 186.7L606.7 188.2zM572.8 172.7L578.3 171.2L574.1 169.3L568.5 170.8zM552.8 159.6L558.4 158.1L554.1 156.2L548.6 157.7zM514.6 142.2L520.2 140.7L515.9 138.8L510.4 140.3zM579.6 167.8L585.2 166.3L580.9 164.4L575.4 165.9zM585.2 166.3L590.7 164.8L586.4 162.9L580.9 164.4zM600.5 165.3L606 163.8L601.8 161.8L596.2 163.3zM566.5 149.8L572.1 148.3L567.8 146.4L562.3 147.9zM640 179.3L645.5 177.8L641.3 175.8L635.7 177.3z" fill="#09abbf"/><path d="M467.8 213.2L473.4 211.7L469.1 209.8L463.6 211.3z" fill="#bebc61"/><path d="M463.6 211.3L469.1 209.8L464.9 207.9L459.4 209.4zM475.6 192.7L481.2 191.2L476.9 189.3L471.4 190.7zM529.4 169L534.9 167.5L530.7 165.6L525.1 167.1z" fill="#1483d5"/><path d="M459.4 209.4L464.9 207.9L460.6 205.9L455.1 207.4zM445.6 166.9L451.1 165.4L446.8 163.5L441.3 165zM488.9 170.6L494.5 169.2L490.2 167.2L484.7 168.7zM596.9 187.7L602.5 186.3L598.2 184.3L592.7 185.8zM531.6 149.9L537.2 148.5L532.9 146.5L527.4 148z" fill="#14b0b5"/><path d="M450.9 205.5L456.4 204L452.2 202.1L446.6 203.6zM582.6 173.2L588.1 171.7L583.9 169.7L578.3 171.2zM596.6 175.5L602.1 174L597.9 172.1L592.3 173.6zM520.2 140.7L525.7 139.2L521.5 137.3L515.9 138.8zM644.2 181.2L649.8 179.7L645.5 177.8L640 179.3z" fill="#0daeba"/><path d="M442.4 201.6L447.9 200.1L443.7 198.2L438.1 199.7zM461.2 178.1L466.8 176.6L462.5 174.7L457 176.2z" fill="#0b95d2"/><path d="M438.1 199.7L443.7 198.2L439.4 196.3L433.9 197.7zM470.4 206.4L476 204.9L471.7 203L466.2 204.4zM428 187L433.5 185.5L429.3 183.6L423.7 185.1zM484.5 208.8L490 207.3L485.8 205.3L480.2 206.8zM461.6 190.3L467.1 188.8L462.9 186.9L457.3 188.4zM536.3 216.3L541.9 214.8L537.6 212.9L532.1 214.4zM524.9 207.1L530.4 205.6L526.2 203.7L520.7 205.2zM506.3 190.6L511.8 189.1L507.6 187.2L502 188.7zM472.3 175.1L477.9 173.6L473.6 171.7L468.1 173.2zM555.6 205L561.1 203.5L556.9 201.6L551.3 203.1zM487.6 174.1L493.2 172.6L488.9 170.6L483.4 172.1zM474.9 168.3L480.5 166.8L476.2 164.8L470.7 166.3zM556.9 201.6L562.4 200.1L558.2 198.2L552.6 199.7zM480.5 166.8L486 165.3L481.7 163.4L476.2 164.8zM521.2 177.3L526.8 175.8L522.5 173.9L517 175.4zM511.1 164.7L516.6 163.2L512.4 161.3L506.9 162.8zM623.7 195.9L629.3 194.4L625 192.5L619.5 194zM524.4 142.7L530 141.2L525.7 139.2L520.2 140.7zM597.5 159.9L603.1 158.4L598.8 156.5L593.3 158zM559.3 142.5L564.9 141L560.6 139.1L555.1 140.6z" fill="#0cadbc"/><path d="M433.9 197.7L439.4 196.3L435.2 194.3L429.6 195.8zM392.7 175L398.3 173.5L394 171.6L388.5 173zM454.8 195.2L460.3 193.7L456 191.8L450.5 193.3zM543.2 211.4L548.7 209.9L544.5 208L538.9 209.5z" fill="#54bd8e"/><path d="M421.1 191.9L426.7 190.5L422.4 188.5L416.9 190z" fill="#4dbc91"/><path d="M416.9 190L422.4 188.5L418.2 186.6L412.7 188.1zM463.2 199.1L468.8 197.6L464.5 195.7L459 197.1zM555.8 165L561.3 163.5L557.1 161.6L551.5 163zM548.2 145.5L553.8 144L549.5 142.1L544 143.5z" fill="#7dbf7b"/><path d="M412.7 188.1L418.2 186.6L414 184.7L408.4 186.1zM530 141.2L535.5 139.7L531.3 137.7L525.7 139.2z" fill="#58bd8c"/><path d="M408.4 186.1L414 184.7L409.7 182.7L404.2 184.2zM576.1 190.3L581.6 188.8L577.4 186.9L571.8 188.3zM571.8 188.3L577.4 186.9L573.1 184.9L567.6 186.4zM595.3 179L600.8 177.5L596.6 175.5L591 177z" fill="#117ad9"/><path d="M404.2 184.2L409.7 182.7L405.5 180.8L399.9 182.3zM443.7 198.2L449.2 196.7L445 194.8L439.4 196.3zM480.2 206.8L485.8 205.3L481.5 203.4L476 204.9zM511.2 216.9L516.8 215.4L512.5 213.5L507 215zM495.5 205.8L501.1 204.3L496.8 202.4L491.3 203.8zM440 168.4L445.6 166.9L441.3 165L435.8 166.5zM500.7 192.1L506.3 190.6L502 188.7L496.5 190.1zM548.7 209.9L554.3 208.4L550 206.5L544.5 208zM459.6 169.3L465.1 167.8L460.9 165.9L455.3 167.4zM452.4 162L457.9 160.5L453.7 158.6L448.1 160.1zM472 162.9L477.5 161.4L473.3 159.5L467.7 161zM572.2 200.6L577.7 199.1L573.5 197.1L567.9 198.6zM525.5 179.3L531 177.8L526.8 175.8L521.2 177.3zM573.5 197.1L579 195.6L574.8 193.7L569.2 195.2zM484.3 156.5L489.9 155L485.6 153.1L480.1 154.6zM540.8 178.2L546.4 176.7L542.1 174.8L536.6 176.3zM540.1 153.8L545.7 152.3L541.4 150.4L535.9 151.9zM558.4 158.1L563.9 156.6L559.7 154.7L554.1 156.2zM542.7 147L548.2 145.5L544 143.5L538.5 145zM573.7 157.1L579.3 155.6L575 153.7L569.5 155.1zM556.7 149.3L562.3 147.9L558 145.9L552.5 147.4zM580.6 152.2L586.1 150.7L581.8 148.7L576.3 150.2z" fill="#07a9c2"/><path d="M399.9 182.3L405.5 180.8L401.2 178.8L395.7 180.3zM516.8 215.4L522.3 214L518.1 212L512.5 213.5zM533.4 211L538.9 209.5L534.7 207.6L529.2 209zM505 194L510.5 192.5L506.3 190.6L500.7 192.1zM480.8 179L486.3 177.5L482.1 175.6L476.6 177zM597.9 172.1L603.4 170.6L599.2 168.7L593.6 170.2zM633.1 184.2L638.7 182.7L634.4 180.7L628.9 182.2z" fill="#06a5c8"/><path d="M395.7 180.3L401.2 178.8L397 176.9L391.4 178.4zM617.5 173L623 171.5L618.8 169.6L613.2 171.1z" fill="#91bf73"/><path d="M391.4 178.4L397 176.9L392.7 175L387.2 176.5zM479.5 182.4L485.1 180.9L480.8 179L475.3 180.5zM504.6 181.8L510.2 180.3L505.9 178.4L500.4 179.9zM505.9 178.4L511.5 176.9L507.2 175L501.7 176.4z" fill="#6abe83"/><path d="M387.2 176.5L392.7 175L388.5 173L382.9 174.5zM450.2 181.1L455.7 179.6L451.4 177.6L445.9 179.1zM530.4 205.6L536 204.1L531.7 202.2L526.2 203.7zM521.6 189.5L527.1 188.1L522.9 186.1L517.4 187.6zM492.8 160.4L498.4 158.9L494.1 156.9L488.6 158.4zM577 174.6L582.6 173.2L578.3 171.2L572.8 172.7z" fill="#06a8c5"/><path d="M382.9 174.5L388.5 173L384.2 171.1L378.7 172.6zM615.2 192.1L620.8 190.6L616.5 188.6L611 190.1zM589.4 168.2L594.9 166.8L590.7 164.8L585.2 166.3z" fill="#67be85"/><path d="M503.1 225.3L508.6 223.8L504.4 221.9L498.9 223.3z" fill="#5dbe89"/><path d="M498.9 223.3L504.4 221.9L500.1 219.9L494.6 221.4zM397 176.9L402.5 175.4L398.3 173.5L392.7 175zM526.1 151.4L531.6 149.9L527.4 148L521.8 149.5z" fill="#62be87"/><path d="M494.6 221.4L500.1 219.9L495.9 218L490.4 219.5zM534.7 207.6L540.2 206.1L536 204.1L530.4 205.6zM537.9 172.9L543.4 171.4L539.2 169.4L533.6 170.9zM589.8 180.5L595.3 179L591 177L585.5 178.5z" fill="#65be86"/><path d="M490.4 219.5L495.9 218L491.7 216L486.1 217.5zM553.6 184L559.1 182.5L554.9 180.6L549.3 182.1zM618.2 197.4L623.7 195.9L619.5 194L613.9 195.5z" fill="#8fbf74"/><path d="M486.1 217.5L491.7 216L487.4 214.1L481.9 215.6z" fill="#079bd0"/><path d="M481.9 215.6L487.4 214.1L483.2 212.2L477.6 213.7z" fill="#a4be6b"/><path d="M477.6 213.7L483.2 212.2L478.9 210.2L473.4 211.7zM426.3 178.2L431.9 176.8L427.6 174.8L422.1 176.3zM474.3 196.1L479.9 194.6L475.6 192.7L470.1 194.2zM479.9 194.6L485.4 193.1L481.2 191.2L475.6 192.7zM448.5 172.3L454 170.8L449.8 168.9L444.3 170.4zM567.6 186.4L573.1 184.9L568.9 183L563.3 184.5z" fill="#0d75dc"/><path d="M473.4 211.7L478.9 210.2L474.7 208.3L469.1 209.8zM461.9 202.5L467.5 201L463.2 199.1L457.7 200.6zM485.8 205.3L491.3 203.8L487.1 201.9L481.5 203.4zM504 209.6L509.6 208.2L505.3 206.2L499.8 207.7zM541.9 214.8L547.4 213.4L543.2 211.4L537.6 212.9zM508.5 171.5L514.1 170L509.8 168.1L504.3 169.6zM523.8 170.5L529.4 169L525.1 167.1L519.6 168.6zM503.9 157.4L509.5 155.9L505.2 154L499.7 155.5zM499.7 155.5L505.2 154L501 152L495.4 153.5zM495.4 153.5L501 152L496.7 150.1L491.2 151.6zM543.1 159.2L548.6 157.7L544.4 155.7L538.8 157.2z" fill="#10afb8"/><path d="M464.9 207.9L470.4 206.4L466.2 204.4L460.6 205.9zM483.2 212.2L488.7 210.7L484.5 208.8L478.9 210.2zM470.1 194.2L475.6 192.7L471.4 190.7L465.8 192.2zM507.9 199.4L513.5 197.9L509.2 195.9L503.7 197.4zM446.8 163.5L452.4 162L448.1 160.1L442.6 161.6zM442.6 161.6L448.1 160.1L443.9 158.1L438.4 159.6zM460.9 165.9L466.4 164.4L462.2 162.5L456.6 164zM584.6 194.1L590.1 192.7L585.9 190.7L580.3 192.2zM513.3 145.6L518.9 144.1L514.6 142.2L509.1 143.7zM603.8 182.8L609.3 181.3L605.1 179.4L599.5 180.9zM548.6 157.7L554.1 156.2L549.9 154.3L544.4 155.7zM586.4 162.9L592 161.4L587.7 159.5L582.2 161zM642.9 184.6L648.5 183.1L644.2 181.2L638.7 182.7z" fill="#07a9c3"/><path d="M460.6 205.9L466.2 204.4L461.9 202.5L456.4 204zM505.2 154L510.8 152.5L506.5 150.5L501 152zM538.8 157.2L544.4 155.7L540.1 153.8L534.6 155.3zM541.1 138.2L546.6 136.7L542.3 134.8L536.8 136.2z" fill="#8cbf75"/><path d="M456.4 204L461.9 202.5L457.7 200.6L452.2 202.1zM514.2 222.3L519.7 220.8L515.5 218.9L509.9 220.4zM476 204.9L481.5 203.4L477.3 201.5L471.7 203zM525.3 219.3L530.8 217.8L526.6 215.9L521 217.4zM410.7 167.1L416.2 165.6L411.9 163.7L406.4 165.2zM535 219.8L540.6 218.3L536.3 216.3L530.8 217.8zM532.1 214.4L537.6 212.9L533.4 211L527.9 212.5zM516.4 203.2L522 201.8L517.7 199.8L512.2 201.3zM496.5 190.1L502 188.7L497.8 186.7L492.2 188.2zM462.5 174.7L468.1 173.2L463.8 171.2L458.3 172.7zM500 167.7L505.6 166.2L501.3 164.2L495.8 165.7zM509.5 155.9L515 154.4L510.8 152.5L505.2 154zM594 182.4L599.5 180.9L595.3 179L589.8 180.5zM531.3 137.7L536.8 136.2L532.6 134.3L527 135.8zM553.8 144L559.3 142.5L555.1 140.6L549.5 142.1z" fill="#0bacbd"/><path d="M452.2 202.1L457.7 200.6L453.5 198.6L447.9 200.1zM469.4 169.8L474.9 168.3L470.7 166.3L465.1 167.8zM593.6 170.2L599.2 168.7L594.9 166.8L589.4 168.2z" fill="#42bb98"/><path d="M447.9 200.1L453.5 198.6L449.2 196.7L443.7 198.2zM442 189.4L447.6 187.9L443.3 186L437.8 187.5zM501.1 204.3L506.6 202.8L502.4 200.9L496.8 202.4zM531.4 190L536.9 188.5L532.7 186.6L527.1 188.1zM507.2 175L512.8 173.5L508.5 171.5L503 173zM503 173L508.5 171.5L504.3 169.6L498.7 171.1zM522.5 173.9L528.1 172.4L523.8 170.5L518.3 172zM583.3 197.6L588.8 196.1L584.6 194.1L579 195.6zM543.4 171.4L549 169.9L544.7 168L539.2 169.4zM523.5 158.3L529 156.8L524.8 154.9L519.2 156.3zM544 143.5L549.5 142.1L545.3 140.1L539.8 141.6zM638.7 182.7L644.2 181.2L640 179.3L634.4 180.7zM545.3 140.1L550.8 138.6L546.6 136.7L541.1 138.2z" fill="#06a7c5"/><path d="M439.4 196.3L445 194.8L440.7 192.8L435.2 194.3zM509.6 208.2L515.1 206.7L510.9 204.7L505.3 206.2z" fill="#0a96d1"/><path d="M435.2 194.3L440.7 192.8L436.5 190.9L430.9 192.4zM566.9 162L572.4 160.5L568.2 158.6L562.6 160.1z" fill="#7fbf7a"/><path d="M430.9 192.4L436.5 190.9L432.2 189L426.7 190.5zM408.1 173.9L413.6 172.4L409.4 170.5L403.8 172zM530.8 217.8L536.3 216.3L532.1 214.4L526.6 215.9zM459.9 181.5L465.5 180L461.2 178.1L455.7 179.6zM529.2 209L534.7 207.6L530.4 205.6L524.9 207.1zM514.8 194.5L520.3 193L516.1 191L510.5 192.5zM498.7 171.1L504.3 169.6L500 167.7L494.5 169.2zM531 177.8L536.6 176.3L532.3 174.4L526.8 175.8zM516.6 163.2L522.2 161.7L517.9 159.8L512.4 161.3zM540.5 166L546 164.5L541.8 162.6L536.2 164.1zM567.2 174.2L572.8 172.7L568.5 170.8L563 172.3zM612.3 186.7L617.8 185.2L613.6 183.3L608 184.8zM523.1 146.1L528.7 144.6L524.4 142.7L518.9 144.1zM626.3 189.1L631.8 187.6L627.6 185.7L622.1 187.1zM640.3 191.5L645.9 190L641.6 188L636.1 189.5zM525.7 139.2L531.3 137.7L527 135.8L521.5 137.3zM589 156L594.6 154.5L590.3 152.6L584.8 154.1z" fill="#0aacbe"/><path d="M426.7 190.5L432.2 189L428 187L422.4 188.5zM443.3 186L448.9 184.5L444.6 182.6L439.1 184.1zM453.1 186.4L458.6 184.9L454.4 183L448.9 184.5zM424.7 169.5L430.2 168L426 166L420.4 167.5zM538.9 209.5L544.5 208L540.2 206.1L534.7 207.6zM482.1 175.6L487.6 174.1L483.4 172.1L477.9 173.6zM538.6 197.3L544.1 195.8L539.9 193.9L534.3 195.3zM453.7 158.6L459.2 157.1L455 155.2L449.4 156.7zM542.1 174.8L547.7 173.3L543.4 171.4L537.9 172.9zM516.3 151L521.8 149.5L517.6 147.6L512 149.1zM569.5 155.1L575 153.7L570.8 151.7L565.2 153.2z" fill="#0cadbb"/><path d="M422.4 188.5L428 187L423.7 185.1L418.2 186.6z" fill="#6cbf83"/><path d="M418.2 186.6L423.7 185.1L419.5 183.2L414 184.7z" fill="#127dd8"/><path d="M414 184.7L419.5 183.2L415.3 181.2L409.7 182.7z" fill="#284dcb"/><path d="M409.7 182.7L415.3 181.2L411 179.3L405.5 180.8zM478.9 210.2L484.5 208.8L480.2 206.8L474.7 208.3zM449.2 196.7L454.8 195.2L450.5 193.3L445 194.8zM406.8 177.4L412.3 175.9L408.1 173.9L402.5 175.4zM507 215L512.5 213.5L508.3 211.6L502.7 213.1zM447.6 187.9L453.1 186.4L448.9 184.5L443.3 186zM457.3 188.4L462.9 186.9L458.6 184.9L453.1 186.4zM419.1 171L424.7 169.5L420.4 167.5L414.9 169zM505.3 206.2L510.9 204.7L506.6 202.8L501.1 204.3zM510.9 204.7L516.4 203.2L512.2 201.3L506.6 202.8zM512.2 201.3L517.7 199.8L513.5 197.9L507.9 199.4zM435.8 166.5L441.3 165L437.1 163.1L431.5 164.6zM520.3 193L525.8 191.5L521.6 189.5L516.1 191zM568.3 210.8L573.8 209.3L569.6 207.4L564.1 208.9zM535.6 191.9L541.2 190.4L536.9 188.5L531.4 190zM491.5 163.8L497.1 162.3L492.8 160.4L487.3 161.9zM581.6 188.8L587.2 187.3L582.9 185.4L577.4 186.9zM568.9 183L574.4 181.5L570.2 179.6L564.6 181.1zM608.4 197L613.9 195.5L609.7 193.5L604.1 195zM532 162.2L537.5 160.7L533.3 158.7L527.7 160.2zM519.2 156.3L524.8 154.9L520.5 152.9L515 154.4z" fill="#0dadbb"/><path d="M405.5 180.8L411 179.3L406.8 177.4L401.2 178.8zM411 179.3L416.5 177.8L412.3 175.9L406.8 177.4z" fill="#77bf7e"/><path d="M401.2 178.8L406.8 177.4L402.5 175.4L397 176.9zM614.5 167.6L620.1 166.2L615.8 164.2L610.3 165.7z" fill="#108fd2"/><path d="M388.5 173L394 171.6L389.8 169.6L384.2 171.1zM601.8 161.8L607.3 160.4L603.1 158.4L597.5 159.9z" fill="#79bf7d"/><path d="M512.9 225.7L518.4 224.2L514.2 222.3L508.6 223.8zM473 199.5L478.6 198L474.3 196.1L468.8 197.6z" fill="#49bc94"/><path d="M508.6 223.8L514.2 222.3L509.9 220.4L504.4 221.9zM459 197.1L464.5 195.7L460.3 193.7L454.8 195.2zM468.8 197.6L474.3 196.1L470.1 194.2L464.5 195.7zM465.8 192.2L471.4 190.7L467.1 188.8L461.6 190.3zM519.4 208.6L524.9 207.1L520.7 205.2L515.1 206.7zM427.3 162.6L432.8 161.1L428.6 159.2L423 160.7zM522 201.8L527.5 200.3L523.3 198.3L517.7 199.8zM441.3 165L446.8 163.5L442.6 161.6L437.1 163.1zM432.8 161.1L438.4 159.6L434.1 157.7L428.6 159.2zM551.3 203.1L556.9 201.6L552.6 199.7L547.1 201.2zM493.2 172.6L498.7 171.1L494.5 169.2L488.9 170.6zM484.7 168.7L490.2 167.2L486 165.3L480.5 166.8zM476.2 164.8L481.7 163.4L477.5 161.4L472 162.9zM480.1 154.6L485.6 153.1L481.4 151.1L475.9 152.6zM602.8 198.5L608.4 197L604.1 195L598.6 196.5zM564.3 168.8L569.8 167.4L565.6 165.4L560 166.9zM527.4 148L532.9 146.5L528.7 144.6L523.1 146.1z" fill="#0badbc"/><path d="M504.4 221.9L509.9 220.4L505.7 218.4L500.1 219.9zM431.5 164.6L437.1 163.1L432.8 161.1L427.3 162.6z" fill="#51bc90"/><path d="M500.1 219.9L505.7 218.4L501.4 216.5L495.9 218z" fill="#56bd8d"/><path d="M495.9 218L501.4 216.5L497.2 214.6L491.7 216zM403.8 172L409.4 170.5L405.1 168.6L399.6 170.1zM526.6 215.9L532.1 214.4L527.9 212.5L522.3 214zM468.4 185.4L474 183.9L469.7 182L464.2 183.5zM520.7 205.2L526.2 203.7L522 201.8L516.4 203.2zM478.2 185.8L483.8 184.3L479.5 182.4L474 183.9zM509.2 195.9L514.8 194.5L510.5 192.5L505 194zM483.4 172.1L488.9 170.6L484.7 168.7L479.2 170.2zM529.7 181.2L535.3 179.7L531 177.8L525.5 179.3zM514.1 170L519.6 168.6L515.4 166.6L509.8 168.1zM580.3 192.2L585.9 190.7L581.6 188.8L576.1 190.3zM534.2 143.1L539.8 141.6L535.5 139.7L530 141.2z" fill="#08aac1"/><path d="M491.7 216L497.2 214.6L493 212.6L487.4 214.1zM471.7 203L477.3 201.5L473 199.5L467.5 201zM462.2 162.5L467.7 161L463.5 159L457.9 160.5zM483 159.9L488.6 158.4L484.3 156.5L478.8 158zM585.9 190.7L591.4 189.2L587.2 187.3L581.6 188.8z" fill="#09abbe"/><path d="M487.4 214.1L493 212.6L488.7 210.7L483.2 212.2zM566.3 189.8L571.8 188.3L567.6 186.4L562 187.9z" fill="#0972de"/><path d="M457.7 200.6L463.2 199.1L459 197.1L453.5 198.6z" fill="#24b5aa"/><path d="M445 194.8L450.5 193.3L446.3 191.3L440.7 192.8zM402.5 175.4L408.1 173.9L403.8 172L398.3 173.5zM486.3 177.5L491.9 176L487.6 174.1L482.1 175.6zM473.6 171.7L479.2 170.2L474.9 168.3L469.4 169.8zM580.7 204.4L586.2 202.9L582 201L576.4 202.5zM601.5 201.9L607.1 200.4L602.8 198.5L597.3 200zM513.7 157.8L519.2 156.3L515 154.4L509.5 155.9z" fill="#12afb7"/><path d="M440.7 192.8L446.3 191.3L442 189.4L436.5 190.9zM482.5 187.8L488 186.3L483.8 184.3L478.2 185.8zM569.6 207.4L575.1 205.9L570.9 204L565.3 205.5z" fill="#16b1b4"/><path d="M436.5 190.9L442 189.4L437.8 187.5L432.2 189zM398.3 173.5L403.8 172L399.6 170.1L394 171.6zM527.5 200.3L533 198.8L528.8 196.8L523.3 198.3zM490.2 167.2L495.8 165.7L491.5 163.8L486 165.3zM588.8 196.1L594.4 194.6L590.1 192.7L584.6 194.1zM581.3 176.6L586.8 175.1L582.6 173.2L577 174.6z" fill="#06a6c7"/><path d="M432.2 189L437.8 187.5L433.5 185.5L428 187zM477.3 201.5L482.8 200L478.6 198L473 199.5zM496.8 202.4L502.4 200.9L498.1 198.9L492.6 200.4zM481.2 191.2L486.7 189.7L482.5 187.8L476.9 189.3zM469.7 182L475.3 180.5L471 178.5L465.5 180zM507.6 187.2L513.1 185.7L508.9 183.7L503.3 185.2zM625 192.5L630.5 191L626.3 189.1L620.8 190.6zM634.8 192.9L640.3 191.5L636.1 189.5L630.5 191zM572.4 160.5L578 159L573.7 157.1L568.2 158.6zM570.8 151.7L576.3 150.2L572.1 148.3L566.5 149.8zM606 163.8L611.6 162.3L607.3 160.4L601.8 161.8z" fill="#0faeb9"/><path d="M423.7 185.1L429.3 183.6L425 181.7L419.5 183.2zM555.2 192.8L560.7 191.3L556.5 189.4L551 190.9zM576.3 150.2L581.8 148.7L577.6 146.8L572.1 148.3zM555.1 140.6L560.6 139.1L556.4 137.1L550.8 138.6z" fill="#2c4ac6"/><path d="M419.5 183.2L425 181.7L420.8 179.7L415.3 181.2zM471.6 150.7L477.1 149.2L472.9 147.3L467.4 148.8z" fill="#0661e0"/><path d="M415.3 181.2L420.8 179.7L416.5 177.8L411 179.3z" fill="#0c93d2"/><path d="M394 171.6L399.6 170.1L395.3 168.1L389.8 169.6zM462.9 186.9L468.4 185.4L464.2 183.5L458.6 184.9zM532.3 174.4L537.9 172.9L533.6 170.9L528.1 172.4z" fill="#63be87"/><path d="M518.4 224.2L524 222.7L519.7 220.8L514.2 222.3zM499.8 207.7L505.3 206.2L501.1 204.3L495.5 205.8z" fill="#61be88"/><path d="M509.9 220.4L515.5 218.9L511.2 216.9L505.7 218.4zM485.1 180.9L490.6 179.4L486.3 177.5L480.8 179z" fill="#66be85"/><path d="M505.7 218.4L511.2 216.9L507 215L501.4 216.5z" fill="#6bbf83"/><path d="M501.4 216.5L507 215L502.7 213.1L497.2 214.6z" fill="#a3be6c"/><path d="M497.2 214.6L502.7 213.1L498.5 211.1L493 212.6z" fill="#1481d6"/><path d="M493 212.6L498.5 211.1L494.3 209.2L488.7 210.7zM489.3 182.9L494.8 181.4L490.6 179.4L485.1 180.9zM579 195.6L584.6 194.1L580.3 192.2L574.8 193.7z" fill="#118cd2"/><path d="M488.7 210.7L494.3 209.2L490 207.3L484.5 208.8z" fill="#089ad0"/><path d="M446.3 191.3L451.8 189.9L447.6 187.9L442 189.4zM537.6 212.9L543.2 211.4L538.9 209.5L533.4 211zM475.3 180.5L480.8 179L476.6 177L471 178.5zM523.3 198.3L528.8 196.8L524.6 194.9L519 196.4zM564.1 208.9L569.6 207.4L565.3 205.5L559.8 207zM542.8 199.2L548.4 197.7L544.1 195.8L538.6 197.3zM579.4 207.8L584.9 206.4L580.7 204.4L575.1 205.9zM536.9 188.5L542.5 187L538.2 185.1L532.7 186.6zM519.6 168.6L525.1 167.1L520.9 165.1L515.4 166.6zM486.9 149.7L492.5 148.2L488.2 146.2L482.7 147.7zM501 152L506.5 150.5L502.3 148.6L496.7 150.1zM520.5 152.9L526.1 151.4L521.8 149.5L516.3 151zM641.6 188L647.2 186.5L642.9 184.6L637.4 186.1z" fill="#08abc0"/><path d="M433.5 185.5L439.1 184.1L434.8 182.1L429.3 183.6zM471 178.5L476.6 177L472.3 175.1L466.8 176.6zM596 203.4L601.5 201.9L597.3 200L591.8 201.4zM533.3 158.7L538.8 157.2L534.6 155.3L529 156.8zM636.1 189.5L641.6 188L637.4 186.1L631.8 187.6zM596.2 163.3L601.8 161.8L597.5 159.9L592 161.4zM635.7 177.3L641.3 175.8L637 173.9L631.5 175.4z" fill="#11afb7"/><path d="M429.3 183.6L434.8 182.1L430.6 180.2L425 181.7zM443 173.8L448.5 172.3L444.3 170.4L438.7 171.8zM438.7 171.8L444.3 170.4L440 168.4L434.5 169.9zM452.7 174.2L458.3 172.7L454 170.8L448.5 172.3z" fill="#0e76dc"/><path d="M425 181.7L430.6 180.2L426.3 178.2L420.8 179.7z" fill="#066edf"/><path d="M420.8 179.7L426.3 178.2L422.1 176.3L416.5 177.8zM536 204.1L541.5 202.6L537.3 200.7L531.7 202.2zM534 183.1L539.5 181.7L535.3 179.7L529.7 181.2zM616.2 176.4L621.7 174.9L617.5 173L611.9 174.5z" fill="#12b0b6"/><path d="M416.5 177.8L422.1 176.3L417.8 174.4L412.3 175.9zM546.1 216.8L551.7 215.3L547.4 213.4L541.9 214.8zM518.9 144.1L524.4 142.7L520.2 140.7L514.6 142.2z" fill="#5abd8b"/><path d="M412.3 175.9L417.8 174.4L413.6 172.4L408.1 173.9zM476.6 177L482.1 175.6L477.9 173.6L472.3 175.1zM590.5 204.9L596 203.4L591.8 201.4L586.2 202.9z" fill="#7bbf7c"/><path d="M399.6 170.1L405.1 168.6L400.9 166.6L395.3 168.1zM460.3 193.7L465.8 192.2L461.6 190.3L456 191.8zM420.4 167.5L426 166L421.7 164.1L416.2 165.6zM524.2 182.7L529.7 181.2L525.5 179.3L520 180.8zM477.5 161.4L483 159.9L478.8 158L473.3 159.5zM584.9 206.4L590.5 204.9L586.2 202.9L580.7 204.4zM481.4 151.1L486.9 149.7L482.7 147.7L477.1 149.2zM525.1 167.1L530.7 165.6L526.4 163.6L520.9 165.1zM512.4 161.3L517.9 159.8L513.7 157.8L508.2 159.3zM547.7 173.3L553.2 171.8L549 169.9L543.4 171.4zM510.8 152.5L516.3 151L512 149.1L506.5 150.5zM529 156.8L534.6 155.3L530.3 153.4L524.8 154.9zM576.7 162.4L582.2 161L578 159L572.4 160.5zM535.5 139.7L541.1 138.2L536.8 136.2L531.3 137.7zM592 161.4L597.5 159.9L593.3 158L587.7 159.5z" fill="#06a7c6"/><path d="M524 222.7L529.5 221.3L525.3 219.3L519.7 220.8zM439.1 184.1L444.6 182.6L440.4 180.6L434.8 182.1z" fill="#12b0b7"/><path d="M519.7 220.8L525.3 219.3L521 217.4L515.5 218.9zM647.2 186.5L652.7 185.1L648.5 183.1L642.9 184.6z" fill="#1db3af"/><path d="M515.5 218.9L521 217.4L516.8 215.4L511.2 216.9zM549.3 182.1L554.9 180.6L550.6 178.7L545.1 180.2z" fill="#5fbe88"/><path d="M502.7 213.1L508.3 211.6L504 209.6L498.5 211.1z" fill="#1487d3"/><path d="M498.5 211.1L504 209.6L499.8 207.7L494.3 209.2zM437.1 163.1L442.6 161.6L438.4 159.6L432.8 161.1z" fill="#0997d1"/><path d="M494.3 209.2L499.8 207.7L495.5 205.8L490 207.3zM521 217.4L526.6 215.9L522.3 214L516.8 215.4zM519 196.4L524.6 194.9L520.3 193L514.8 194.5zM477.9 173.6L483.4 172.1L479.2 170.2L473.6 171.7zM517 175.4L522.5 173.9L518.3 172L512.8 173.5zM607.1 200.4L612.6 198.9L608.4 197L602.8 198.5zM594.4 194.6L599.9 193.1L595.6 191.2L590.1 192.7zM569.8 167.4L575.4 165.9L571.1 163.9L565.6 165.4zM535.9 151.9L541.4 150.4L537.2 148.5L531.6 149.9zM630.5 191L636.1 189.5L631.8 187.6L626.3 189.1zM610.6 177.9L616.2 176.4L611.9 174.5L606.4 176zM563.9 156.6L569.5 155.1L565.2 153.2L559.7 154.7zM645.9 190L651.4 188.5L647.2 186.5L641.6 188zM609 169.1L614.5 167.6L610.3 165.7L604.7 167.2zM587.7 159.5L593.3 158L589 156L583.5 157.5z" fill="#08aac0"/><path d="M490 207.3L495.5 205.8L491.3 203.8L485.8 205.3zM448.9 184.5L454.4 183L450.2 181.1L444.6 182.6zM444.6 182.6L450.2 181.1L445.9 179.1L440.4 180.6zM488 186.3L493.5 184.8L489.3 182.9L483.8 184.3zM455.3 167.4L460.9 165.9L456.6 164L451.1 165.4zM548 185.5L553.6 184L549.3 182.1L543.8 183.6zM591.8 201.4L597.3 200L593.1 198L587.5 199.5zM556.1 177.2L561.7 175.7L557.4 173.8L551.9 175.2zM526.4 163.6L532 162.2L527.7 160.2L522.2 161.7zM605.4 191.6L611 190.1L606.7 188.2L601.2 189.7zM503.6 145.2L509.1 143.7L504.9 141.8L499.3 143.3zM599.5 180.9L605.1 179.4L600.8 177.5L595.3 179zM637.4 186.1L642.9 184.6L638.7 182.7L633.1 184.2zM611.9 174.5L617.5 173L613.2 171.1L607.7 172.6zM594.9 166.8L600.5 165.3L596.2 163.3L590.7 164.8zM584.8 154.1L590.3 152.6L586.1 150.7L580.6 152.2z" fill="#0aacbd"/><path d="M464.5 195.7L470.1 194.2L465.8 192.2L460.3 193.7zM558 145.9L563.6 144.4L559.3 142.5L553.8 144z" fill="#06a4c9"/><path d="M456 191.8L461.6 190.3L457.3 188.4L451.8 189.9zM482.8 200L488.4 198.5L484.1 196.5L478.6 198zM414.9 169L420.4 167.5L416.2 165.6L410.7 167.1zM502.4 200.9L507.9 199.4L503.7 197.4L498.1 198.9zM472.7 187.3L478.2 185.8L474 183.9L468.4 185.4zM474 183.9L479.5 182.4L475.3 180.5L469.7 182zM465.5 180L471 178.5L466.8 176.6L461.2 178.1zM457.9 160.5L463.5 159L459.2 157.1L453.7 158.6zM575.1 205.9L580.7 204.4L576.4 202.5L570.9 204zM486 165.3L491.5 163.8L487.3 161.9L481.7 163.4zM582 201L587.5 199.5L583.3 197.6L577.7 199.1zM539.5 181.7L545.1 180.2L540.8 178.2L535.3 179.7zM536.6 176.3L542.1 174.8L537.9 172.9L532.3 174.4zM502.6 160.8L508.2 159.3L503.9 157.4L498.4 158.9zM544.7 168L550.3 166.5L546 164.5L540.5 166zM616.5 188.6L622.1 187.1L617.8 185.2L612.3 186.7zM551.2 150.8L556.7 149.3L552.5 147.4L546.9 148.9z" fill="#0eaeba"/><path d="M451.8 189.9L457.3 188.4L453.1 186.4L447.6 187.9zM573.8 209.3L579.4 207.8L575.1 205.9L569.6 207.4zM527.1 188.1L532.7 186.6L528.4 184.6L522.9 186.1zM475.9 152.6L481.4 151.1L477.1 149.2L471.6 150.7zM590.1 192.7L595.6 191.2L591.4 189.2L585.9 190.7zM559.7 154.7L565.2 153.2L561 151.3L555.4 152.8z" fill="#07aac2"/><path d="M434.8 182.1L440.4 180.6L436.1 178.7L430.6 180.2z" fill="#0a72de"/><path d="M430.6 180.2L436.1 178.7L431.9 176.8L426.3 178.2zM455.7 179.6L461.2 178.1L457 176.2L451.4 177.6z" fill="#046de0"/><path d="M422.1 176.3L427.6 174.8L423.4 172.9L417.8 174.4z" fill="#7abf7d"/><path d="M417.8 174.4L423.4 172.9L419.1 171L413.6 172.4zM449.8 168.9L455.3 167.4L451.1 165.4L445.6 166.9zM609.7 193.5L615.2 192.1L611 190.1L605.4 191.6z" fill="#70bf81"/><path d="M409.4 170.5L414.9 169L410.7 167.1L405.1 168.6zM510.5 192.5L516.1 191L511.8 189.1L506.3 190.6zM478.8 158L484.3 156.5L480.1 154.6L474.6 156.1zM501.3 164.2L506.9 162.8L502.6 160.8L497.1 162.3zM530.7 165.6L536.2 164.1L532 162.2L526.4 163.6zM496.7 150.1L502.3 148.6L498 146.7L492.5 148.2zM563 172.3L568.5 170.8L564.3 168.8L558.7 170.3zM546 164.5L551.5 163L547.3 161.1L541.8 162.6zM629.3 194.4L634.8 192.9L630.5 191L625 192.5zM600.8 177.5L606.4 176L602.1 174L596.6 175.5zM627.6 185.7L633.1 184.2L628.9 182.2L623.4 183.7zM578 159L583.5 157.5L579.3 155.6L573.7 157.1zM539.8 141.6L545.3 140.1L541.1 138.2L535.5 139.7z" fill="#06a8c4"/><path d="M405.1 168.6L410.7 167.1L406.4 165.2L400.9 166.6zM508.3 211.6L513.8 210.1L509.6 208.2L504 209.6zM539.2 169.4L544.7 168L540.5 166L534.9 167.5z" fill="#72bf80"/><path d="M491.3 203.8L496.8 202.4L492.6 200.4L487.1 201.9zM603.4 170.6L609 169.1L604.7 167.2L599.2 168.7z" fill="#108ed2"/><path d="M487.1 201.9L492.6 200.4L488.4 198.5L482.8 200zM619.1 181.8L624.7 180.3L620.4 178.4L614.9 179.9z" fill="#18b1b2"/><path d="M478.6 198L484.1 196.5L479.9 194.6L474.3 196.1zM500.4 179.9L505.9 178.4L501.7 176.4L496.1 177.9zM608 184.8L613.6 183.3L609.3 181.3L603.8 182.8z" fill="#7abf7c"/><path d="M440.4 180.6L445.9 179.1L441.7 177.2L436.1 178.7zM434.5 169.9L440 168.4L435.8 166.5L430.2 168zM491.9 176L497.4 174.5L493.2 172.6L487.6 174.1zM535.3 179.7L540.8 178.2L536.6 176.3L531 177.8z" fill="#06a6c6"/><path d="M436.1 178.7L441.7 177.2L437.4 175.3L431.9 176.8zM590.7 164.8L596.2 163.3L592 161.4L586.4 162.9z" fill="#0e76db"/><path d="M431.9 176.8L437.4 175.3L433.2 173.3L427.6 174.8zM494.5 169.2L500 167.7L495.8 165.7L490.2 167.2zM597.3 200L602.8 198.5L598.6 196.5L593.1 198z" fill="#1480d6"/><path d="M427.6 174.8L433.2 173.3L428.9 171.4L423.4 172.9zM433.2 173.3L438.7 171.8L434.5 169.9L428.9 171.4z" fill="#0e77db"/><path d="M423.4 172.9L428.9 171.4L424.7 169.5L419.1 171z" fill="#0a73de"/><path d="M513.8 210.1L519.4 208.6L515.1 206.7L509.6 208.2zM513.5 197.9L519 196.4L514.8 194.5L509.2 195.9zM501.7 176.4L507.2 175L503 173L497.4 174.5zM583.5 157.5L589 156L584.8 154.1L579.3 155.6z" fill="#50bc90"/><path d="M492.6 200.4L498.1 198.9L493.9 197L488.4 198.5zM546.7 188.9L552.3 187.5L548 185.5L542.5 187z" fill="#1079da"/><path d="M488.4 198.5L493.9 197L489.7 195.1L484.1 196.5zM569.2 195.2L574.8 193.7L570.5 191.8L565 193.3zM557.8 186L563.3 184.5L559.1 182.5L553.6 184zM599.2 168.7L604.7 167.2L600.5 165.3L594.9 166.8z" fill="#0d76dc"/><path d="M484.1 196.5L489.7 195.1L485.4 193.1L479.9 194.6zM451.1 165.4L456.6 164L452.4 162L446.8 163.5z" fill="#21b4ac"/><path d="M471.4 190.7L476.9 189.3L472.7 187.3L467.1 188.8z" fill="#c9bb5c"/><path d="M467.1 188.8L472.7 187.3L468.4 185.4L462.9 186.9zM527.9 212.5L533.4 211L529.2 209L523.6 210.5zM560.4 179.1L565.9 177.6L561.7 175.7L556.1 177.2z" fill="#80bf7a"/><path d="M458.6 184.9L464.2 183.5L459.9 181.5L454.4 183zM487.3 161.9L492.8 160.4L488.6 158.4L483 159.9z" fill="#6cbf82"/><path d="M445.9 179.1L451.4 177.6L447.2 175.7L441.7 177.2z" fill="#117ada"/><path d="M441.7 177.2L447.2 175.7L443 173.8L437.4 175.3zM444.3 170.4L449.8 168.9L445.6 166.9L440 168.4z" fill="#137dd8"/><path d="M437.4 175.3L443 173.8L438.7 171.8L433.2 173.3zM451.4 177.6L457 176.2L452.7 174.2L447.2 175.7z" fill="#0c75dd"/><path d="M428.9 171.4L434.5 169.9L430.2 168L424.7 169.5z" fill="#0266e1"/><path d="M416.2 165.6L421.7 164.1L417.5 162.2L411.9 163.7z" fill="#86bf77"/><path d="M540.6 218.3L546.1 216.8L541.9 214.8L536.3 216.3z" fill="#57bd8c"/><path d="M523.6 210.5L529.2 209L524.9 207.1L519.4 208.6z" fill="#57bd8d"/><path d="M515.1 206.7L520.7 205.2L516.4 203.2L510.9 204.7z" fill="#0d92d2"/><path d="M506.6 202.8L512.2 201.3L507.9 199.4L502.4 200.9zM554.9 180.6L560.4 179.1L556.1 177.2L550.6 178.7zM498 146.7L503.6 145.2L499.3 143.3L493.8 144.7zM568.2 158.6L573.7 157.1L569.5 155.1L563.9 156.6zM538.5 145L544 143.5L539.8 141.6L534.2 143.1z" fill="#06a8c3"/><path d="M498.1 198.9L503.7 197.4L499.4 195.5L493.9 197z" fill="#75bf7f"/><path d="M493.9 197L499.4 195.5L495.2 193.6L489.7 195.1z" fill="#b3bd65"/><path d="M485.4 193.1L490.9 191.6L486.7 189.7L481.2 191.2zM421.7 164.1L427.3 162.6L423 160.7L417.5 162.2zM504.3 169.6L509.8 168.1L505.6 166.2L500 167.7zM522.2 161.7L527.7 160.2L523.5 158.3L517.9 159.8zM574.1 169.3L579.6 167.8L575.4 165.9L569.8 167.4z" fill="#15b1b4"/><path d="M464.2 183.5L469.7 182L465.5 180L459.9 181.5z" fill="#8ebf74"/><path d="M447.2 175.7L452.7 174.2L448.5 172.3L443 173.8zM574.8 193.7L580.3 192.2L576.1 190.3L570.5 191.8z" fill="#0c74dd"/><path d="M430.2 168L435.8 166.5L431.5 164.6L426 166zM528.1 172.4L533.6 170.9L529.4 169L523.8 170.5zM532.9 146.5L538.5 145L534.2 143.1L528.7 144.6z" fill="#87bf77"/><path d="M426 166L431.5 164.6L427.3 162.6L421.7 164.1z" fill="#52bd8f"/><path d="M499.4 195.5L505 194L500.7 192.1L495.2 193.6z" fill="#aebe67"/><path d="M495.2 193.6L500.7 192.1L496.5 190.1L490.9 191.6zM521.8 149.5L527.4 148L523.1 146.1L517.6 147.6z" fill="#53bd8f"/><path d="M490.9 191.6L496.5 190.1L492.2 188.2L486.7 189.7z" fill="#2cb7a5"/><path d="M486.7 189.7L492.2 188.2L488 186.3L482.5 187.8zM561.1 203.5L566.6 202L562.4 200.1L556.9 201.6zM518.3 172L523.8 170.5L519.6 168.6L514.1 170z" fill="#10afb9"/><path d="M457 176.2L462.5 174.7L458.3 172.7L452.7 174.2zM493.5 184.8L499.1 183.3L494.8 181.4L489.3 182.9z" fill="#1482d5"/><path d="M547.4 213.4L553 211.9L548.7 209.9L543.2 211.4z" fill="#37b99e"/><path d="M526.2 203.7L531.7 202.2L527.5 200.3L522 201.8zM545.1 180.2L550.6 178.7L546.4 176.7L540.8 178.2z" fill="#118dd2"/><path d="M517.7 199.8L523.3 198.3L519 196.4L513.5 197.9z" fill="#48bb94"/><path d="M492.2 188.2L497.8 186.7L493.5 184.8L488 186.3zM449.4 156.7L455 155.2L450.7 153.2L445.2 154.7z" fill="#30b7a2"/><path d="M466.8 176.6L472.3 175.1L468.1 173.2L462.5 174.7z" fill="#fbd02c"/><path d="M458.3 172.7L463.8 171.2L459.6 169.3L454 170.8z" fill="#daba55"/><path d="M454 170.8L459.6 169.3L455.3 167.4L449.8 168.9z" fill="#fec536"/><path d="M557.2 213.8L562.8 212.3L558.5 210.4L553 211.9z" fill="#4ebc91"/><path d="M553 211.9L558.5 210.4L554.3 208.4L548.7 209.9zM537.2 148.5L542.7 147L538.5 145L532.9 146.5z" fill="#84bf78"/><path d="M544.5 208L550 206.5L545.8 204.6L540.2 206.1z" fill="#83bf78"/><path d="M540.2 206.1L545.8 204.6L541.5 202.6L536 204.1zM459.2 157.1L464.8 155.6L460.5 153.7L455 155.2zM542.5 187L548 185.5L543.8 183.6L538.2 185.1z" fill="#4bbc93"/><path d="M502 188.7L507.6 187.2L503.3 185.2L497.8 186.7zM595.6 191.2L601.2 189.7L596.9 187.7L591.4 189.2z" fill="#29b6a7"/><path d="M497.8 186.7L503.3 185.2L499.1 183.3L493.5 184.8z" fill="#59bd8b"/><path d="M463.8 171.2L469.4 169.8L465.1 167.8L459.6 169.3zM534.3 195.3L539.9 193.9L535.6 191.9L530.1 193.4zM518.7 184.2L524.2 182.7L520 180.8L514.4 182.3zM577.7 199.1L583.3 197.6L579 195.6L573.5 197.1zM527.7 160.2L533.3 158.7L529 156.8L523.5 158.3zM506.5 150.5L512 149.1L507.8 147.1L502.3 148.6zM550.3 166.5L555.8 165L551.5 163L546 164.5z" fill="#15b0b5"/><path d="M562.8 212.3L568.3 210.8L564.1 208.9L558.5 210.4z" fill="#b7bd64"/><path d="M558.5 210.4L564.1 208.9L559.8 207L554.3 208.4zM631.5 175.4L637 173.9L632.8 172L627.2 173.4z" fill="#c3bc5f"/><path d="M554.3 208.4L559.8 207L555.6 205L550 206.5z" fill="#c9bc5c"/><path d="M550 206.5L555.6 205L551.3 203.1L545.8 204.6z" fill="#fec13a"/><path d="M545.8 204.6L551.3 203.1L547.1 201.2L541.5 202.6z" fill="#cabb5c"/><path d="M541.5 202.6L547.1 201.2L542.8 199.2L537.3 200.7z" fill="#cbbb5c"/><path d="M537.3 200.7L542.8 199.2L538.6 197.3L533 198.8z" fill="#c1bc60"/><path d="M533 198.8L538.6 197.3L534.3 195.3L528.8 196.8z" fill="#cebb5a"/><path d="M528.8 196.8L534.3 195.3L530.1 193.4L524.6 194.9z" fill="#e5b950"/><path d="M524.6 194.9L530.1 193.4L525.8 191.5L520.3 193z" fill="#bcbd62"/><path d="M511.8 189.1L517.4 187.6L513.1 185.7L507.6 187.2z" fill="#353cab"/><path d="M503.3 185.2L508.9 183.7L504.6 181.8L499.1 183.3zM565.6 165.4L571.1 163.9L566.9 162L561.3 163.5z" fill="#99bf70"/><path d="M499.1 183.3L504.6 181.8L500.4 179.9L494.8 181.4z" fill="#f9d429"/><path d="M494.8 181.4L500.4 179.9L496.1 177.9L490.6 179.4z" fill="#fec733"/><path d="M490.6 179.4L496.1 177.9L491.9 176L486.3 177.5zM515.7 178.8L521.2 177.3L517 175.4L511.5 176.9z" fill="#fec635"/><path d="M448.1 160.1L453.7 158.6L449.4 156.7L443.9 158.1zM627.2 173.4L632.8 172L628.5 170L623 171.5z" fill="#06a1cc"/><path d="M443.9 158.1L449.4 156.7L445.2 154.7L439.7 156.2z" fill="#81bf7a"/><path d="M547.1 201.2L552.6 199.7L548.4 197.7L542.8 199.2zM586.2 202.9L591.8 201.4L587.5 199.5L582 201z" fill="#06a3cb"/><path d="M530.1 193.4L535.6 191.9L531.4 190L525.8 191.5zM606.4 176L611.9 174.5L607.7 172.6L602.1 174z" fill="#17b1b3"/><path d="M517.4 187.6L522.9 186.1L518.7 184.2L513.1 185.7z" fill="#06a4ca"/><path d="M513.1 185.7L518.7 184.2L514.4 182.3L508.9 183.7zM620.8 190.6L626.3 189.1L622.1 187.1L616.5 188.6zM622.1 187.1L627.6 185.7L623.4 183.7L617.8 185.2z" fill="#0e91d2"/><path d="M496.1 177.9L501.7 176.4L497.4 174.5L491.9 176z" fill="#fec734"/><path d="M479.2 170.2L484.7 168.7L480.5 166.8L474.9 168.3z" fill="#7cbf7b"/><path d="M466.4 164.4L472 162.9L467.7 161L462.2 162.5zM497.1 162.3L502.6 160.8L498.4 158.9L492.8 160.4zM601.2 189.7L606.7 188.2L602.5 186.3L596.9 187.7z" fill="#0badbd"/><path d="M565.3 205.5L570.9 204L566.6 202L561.1 203.5z" fill="#73bf7f"/><path d="M552.6 199.7L558.2 198.2L553.9 196.2L548.4 197.7z" fill="#2f47c0"/><path d="M548.4 197.7L553.9 196.2L549.7 194.3L544.1 195.8zM570.5 191.8L576.1 190.3L571.8 188.3L566.3 189.8z" fill="#127cd8"/><path d="M544.1 195.8L549.7 194.3L545.4 192.4L539.9 193.9zM582.9 185.4L588.5 183.9L584.2 181.9L578.7 183.4z" fill="#117bd9"/><path d="M539.9 193.9L545.4 192.4L541.2 190.4L535.6 191.9z" fill="#0f77db"/><path d="M514.4 182.3L520 180.8L515.7 178.8L510.2 180.3z" fill="#06a3ca"/><path d="M510.2 180.3L515.7 178.8L511.5 176.9L505.9 178.4z" fill="#fcce2d"/><path d="M467.7 161L473.3 159.5L469 157.5L463.5 159z" fill="#105bdd"/><path d="M463.5 159L469 157.5L464.8 155.6L459.2 157.1z" fill="#135adb"/><path d="M455 155.2L460.5 153.7L456.3 151.7L450.7 153.2zM515 154.4L520.5 152.9L516.3 151L510.8 152.5zM652.7 185.1L658.3 183.6L654 181.6L648.5 183.1z" fill="#81bf79"/><path d="M562.4 200.1L567.9 198.6L563.7 196.7L558.2 198.2z" fill="#0c94d2"/><path d="M558.2 198.2L563.7 196.7L559.5 194.7L553.9 196.2z" fill="#1078da"/><path d="M553.9 196.2L559.5 194.7L555.2 192.8L549.7 194.3z" fill="#2152d3"/><path d="M549.7 194.3L555.2 192.8L551 190.9L545.4 192.4z" fill="#1857d8"/><path d="M545.4 192.4L551 190.9L546.7 188.9L541.2 190.4z" fill="#2251d2"/><path d="M541.2 190.4L546.7 188.9L542.5 187L536.9 188.5zM563.3 184.5L568.9 183L564.6 181.1L559.1 182.5z" fill="#0f78db"/><path d="M532.7 186.6L538.2 185.1L534 183.1L528.4 184.6z" fill="#5dbe8a"/><path d="M528.4 184.6L534 183.1L529.7 181.2L524.2 182.7z" fill="#fec833"/><path d="M520 180.8L525.5 179.3L521.2 177.3L515.7 178.8z" fill="#ffc536"/><path d="M511.5 176.9L517 175.4L512.8 173.5L507.2 175z" fill="#5cbe8a"/><path d="M481.7 163.4L487.3 161.9L483 159.9L477.5 161.4zM557.4 173.8L563 172.3L558.7 170.3L553.2 171.8z" fill="#85bf78"/><path d="M473.3 159.5L478.8 158L474.6 156.1L469 157.5zM466.1 152.2L471.6 150.7L467.4 148.8L461.8 150.3z" fill="#1e54d5"/><path d="M469 157.5L474.6 156.1L470.3 154.1L464.8 155.6z" fill="#1956d8"/><path d="M464.8 155.6L470.3 154.1L466.1 152.2L460.5 153.7z" fill="#1a56d7"/><path d="M460.5 153.7L466.1 152.2L461.8 150.3L456.3 151.7z" fill="#0462e1"/><path d="M576.4 202.5L582 201L577.7 199.1L572.2 200.6zM543.8 183.6L549.3 182.1L545.1 180.2L539.5 181.7zM561 151.3L566.5 149.8L562.3 147.9L556.7 149.3z" fill="#68be84"/><path d="M567.9 198.6L573.5 197.1L569.2 195.2L563.7 196.7zM534.6 155.3L540.1 153.8L535.9 151.9L530.3 153.4z" fill="#1388d3"/><path d="M563.7 196.7L569.2 195.2L565 193.3L559.5 194.7z" fill="#0b73dd"/><path d="M559.5 194.7L565 193.3L560.7 191.3L555.2 192.8z" fill="#294cca"/><path d="M551 190.9L556.5 189.4L552.3 187.5L546.7 188.9zM550.8 138.6L556.4 137.1L552.1 135.2L546.6 136.7z" fill="#0c5dde"/><path d="M538.2 185.1L543.8 183.6L539.5 181.7L534 183.1z" fill="#5ebe89"/><path d="M512.8 173.5L518.3 172L514.1 170L508.5 171.5zM509.8 168.1L515.4 166.6L511.1 164.7L505.6 166.2z" fill="#128ad3"/><path d="M474.6 156.1L480.1 154.6L475.9 152.6L470.3 154.1z" fill="#1cb3b0"/><path d="M470.3 154.1L475.9 152.6L471.6 150.7L466.1 152.2zM565 193.3L570.5 191.8L566.3 189.8L560.7 191.3z" fill="#1f53d4"/><path d="M560.7 191.3L566.3 189.8L562 187.9L556.5 189.4z" fill="#046ce0"/><path d="M556.5 189.4L562 187.9L557.8 186L552.3 187.5z" fill="#0e5dde"/><path d="M552.3 187.5L557.8 186L553.6 184L548 185.5z" fill="#0b74dd"/><path d="M526.8 175.8L532.3 174.4L528.1 172.4L522.5 173.9z" fill="#1389d3"/><path d="M488.6 158.4L494.1 156.9L489.9 155L484.3 156.5z" fill="#92bf72"/><path d="M587.5 199.5L593.1 198L588.8 196.1L583.3 197.6z" fill="#bfbc60"/><path d="M562 187.9L567.6 186.4L563.3 184.5L557.8 186z" fill="#0a73dd"/><path d="M498.4 158.9L503.9 157.4L499.7 155.5L494.1 156.9z" fill="#96bf71"/><path d="M494.1 156.9L499.7 155.5L495.4 153.5L489.9 155z" fill="#92bf73"/><path d="M489.9 155L495.4 153.5L491.2 151.6L485.6 153.1z" fill="#3bb99c"/><path d="M477.1 149.2L482.7 147.7L478.4 145.8L472.9 147.3zM488.2 146.2L493.8 144.7L489.5 142.8L484 144.3zM493.8 144.7L499.3 143.3L495.1 141.3L489.5 142.8zM499.3 143.3L504.9 141.8L500.6 139.8L495.1 141.3zM504.9 141.8L510.4 140.3L506.2 138.3L500.6 139.8z" fill="#cebb5b"/><path d="M593.1 198L598.6 196.5L594.4 194.6L588.8 196.1z" fill="#d6ba57"/><path d="M559.1 182.5L564.6 181.1L560.4 179.1L554.9 180.6z" fill="#98bf70"/><path d="M550.6 178.7L556.1 177.2L551.9 175.2L546.4 176.7z" fill="#06a9c3"/><path d="M546.4 176.7L551.9 175.2L547.7 173.3L542.1 174.8z" fill="#a8be6a"/><path d="M533.6 170.9L539.2 169.4L534.9 167.5L529.4 169z" fill="#71bf80"/><path d="M482.7 147.7L488.2 146.2L484 144.3L478.4 145.8zM648.5 183.1L654 181.6L649.8 179.7L644.2 181.2z" fill="#c0bc60"/><path d="M598.6 196.5L604.1 195L599.9 193.1L594.4 194.6zM617.8 185.2L623.4 183.7L619.1 181.8L613.6 183.3zM555.4 152.8L561 151.3L556.7 149.3L551.2 150.8z" fill="#88bf77"/><path d="M577.4 186.9L582.9 185.4L578.7 183.4L573.1 184.9z" fill="#127bd9"/><path d="M573.1 184.9L578.7 183.4L574.4 181.5L568.9 183zM588.5 183.9L594 182.4L589.8 180.5L584.2 181.9z" fill="#0971de"/><path d="M564.6 181.1L570.2 179.6L565.9 177.6L560.4 179.1z" fill="#066fdf"/><path d="M551.9 175.2L557.4 173.8L553.2 171.8L547.7 173.3z" fill="#51bd8f"/><path d="M517.9 159.8L523.5 158.3L519.2 156.3L513.7 157.8z" fill="#20b4ad"/><path d="M492.5 148.2L498 146.7L493.8 144.7L488.2 146.2zM509.1 143.7L514.6 142.2L510.4 140.3L504.9 141.8z" fill="#b8bd63"/><path d="M612.6 198.9L618.2 197.4L613.9 195.5L608.4 197zM554.5 168.4L560 166.9L555.8 165L550.3 166.5z" fill="#3eba9a"/><path d="M599.9 193.1L605.4 191.6L601.2 189.7L595.6 191.2zM549 169.9L554.5 168.4L550.3 166.5L544.7 168zM624.7 180.3L630.2 178.8L625.9 176.9L620.4 178.4z" fill="#7ebf7b"/><path d="M591.4 189.2L596.9 187.7L592.7 185.8L587.2 187.3z" fill="#0999d1"/><path d="M587.2 187.3L592.7 185.8L588.5 183.9L582.9 185.4z" fill="#34b8a0"/><path d="M578.7 183.4L584.2 181.9L580 180L574.4 181.5z" fill="#f3b948"/><path d="M570.2 179.6L575.7 178.1L571.5 176.1L565.9 177.6z" fill="#f8ba45"/><path d="M565.9 177.6L571.5 176.1L567.2 174.2L561.7 175.7z" fill="#77bf7d"/><path d="M561.7 175.7L567.2 174.2L563 172.3L557.4 173.8z" fill="#06a2cb"/><path d="M553.2 171.8L558.7 170.3L554.5 168.4L549 169.9z" fill="#1ab2b1"/><path d="M536.2 164.1L541.8 162.6L537.5 160.7L532 162.2zM565.2 153.2L570.8 151.7L566.5 149.8L561 151.3z" fill="#61be87"/><path d="M502.3 148.6L507.8 147.1L503.6 145.2L498 146.7z" fill="#18b1b3"/><path d="M592.7 185.8L598.2 184.3L594 182.4L588.5 183.9zM552.5 147.4L558 145.9L553.8 144L548.2 145.5z" fill="#60be88"/><path d="M584.2 181.9L589.8 180.5L585.5 178.5L580 180z" fill="#6bbe83"/><path d="M580 180L585.5 178.5L581.3 176.6L575.7 178.1z" fill="#fdca31"/><path d="M575.7 178.1L581.3 176.6L577 174.6L571.5 176.1z" fill="#fdcb30"/><path d="M524.8 154.9L530.3 153.4L526.1 151.4L520.5 152.9z" fill="#76bf7e"/><path d="M507.8 147.1L513.3 145.6L509.1 143.7L503.6 145.2z" fill="#9abf6f"/><path d="M606.7 188.2L612.3 186.7L608 184.8L602.5 186.3z" fill="#0f90d2"/><path d="M602.5 186.3L608 184.8L603.8 182.8L598.2 184.3z" fill="#1bb2b1"/><path d="M585.5 178.5L591 177L586.8 175.1L581.3 176.6z" fill="#f5e81a"/><path d="M568.5 170.8L574.1 169.3L569.8 167.4L564.3 168.8z" fill="#1cb3af"/><path d="M560 166.9L565.6 165.4L561.3 163.5L555.8 165z" fill="#55bd8e"/><path d="M551.5 163L557.1 161.6L552.8 159.6L547.3 161.1zM604.7 167.2L610.3 165.7L606 163.8L600.5 165.3z" fill="#8dbf74"/><path d="M547.3 161.1L552.8 159.6L548.6 157.7L543.1 159.2zM578.3 171.2L583.9 169.7L579.6 167.8L574.1 169.3z" fill="#95bf71"/><path d="M530.3 153.4L535.9 151.9L531.6 149.9L526.1 151.4zM562.6 160.1L568.2 158.6L563.9 156.6L558.4 158.1zM630.2 178.8L635.7 177.3L631.5 175.4L625.9 176.9zM613.2 171.1L618.8 169.6L614.5 167.6L609 169.1z" fill="#11afb8"/><path d="M591 177L596.6 175.5L592.3 173.6L586.8 175.1z" fill="#b9bd63"/><path d="M586.8 175.1L592.3 173.6L588.1 171.7L582.6 173.2z" fill="#7cbf7c"/><path d="M557.1 161.6L562.6 160.1L558.4 158.1L552.8 159.6z" fill="#15b0b4"/><path d="M510.4 140.3L515.9 138.8L511.7 136.8L506.2 138.3z" fill="#3244ba"/><path d="M613.6 183.3L619.1 181.8L614.9 179.9L609.3 181.3z" fill="#f5ec18"/><path d="M609.3 181.3L614.9 179.9L610.6 177.9L605.1 179.4z" fill="#19b2b2"/><path d="M592.3 173.6L597.9 172.1L593.6 170.2L588.1 171.7z" fill="#c6bc5e"/><path d="M588.1 171.7L593.6 170.2L589.4 168.2L583.9 169.7z" fill="#4abc94"/><path d="M583.9 169.7L589.4 168.2L585.2 166.3L579.6 167.8z" fill="#1486d4"/><path d="M575.4 165.9L580.9 164.4L576.7 162.4L571.1 163.9zM549.9 154.3L555.4 152.8L551.2 150.8L545.7 152.3z" fill="#88bf76"/><path d="M571.1 163.9L576.7 162.4L572.4 160.5L566.9 162z" fill="#4fbc91"/><path d="M554.1 156.2L559.7 154.7L555.4 152.8L549.9 154.3z" fill="#64be86"/><path d="M541.4 150.4L546.9 148.9L542.7 147L537.2 148.5z" fill="#14b0b6"/><path d="M528.7 144.6L534.2 143.1L530 141.2L524.4 142.7z" fill="#78bf7d"/><path d="M515.9 138.8L521.5 137.3L517.2 135.4L511.7 136.8z" fill="#3637a2"/><path d="M602.1 174L607.7 172.6L603.4 170.6L597.9 172.1z" fill="#0fafb9"/><path d="M521.5 137.3L527 135.8L522.8 133.9L517.2 135.4z" fill="#3046bf"/><path d="M628.9 182.2L634.4 180.7L630.2 178.8L624.7 180.3z" fill="#aabe69"/><path d="M527 135.8L532.6 134.3L528.3 132.4L522.8 133.9z" fill="#0364e1"/><path d="M651.4 188.5L657 187L652.7 185.1L647.2 186.5z" fill="#06a5c9"/><path d="M634.4 180.7L640 179.3L635.7 177.3L630.2 178.8z" fill="#c4bc5f"/><path d="M625.9 176.9L631.5 175.4L627.2 173.4L621.7 174.9z" fill="#51bd90"/><path d="M621.7 174.9L627.2 173.4L623 171.5L617.5 173zM610.3 165.7L615.8 164.2L611.6 162.3L606 163.8z" fill="#74bf7f"/><path d="M579.3 155.6L584.8 154.1L580.6 152.2L575 153.7z" fill="#fec03b"/><path d="M575 153.7L580.6 152.2L576.3 150.2L570.8 151.7z" fill="#16b1b3"/><path d="M562.3 147.9L567.8 146.4L563.6 144.4L558 145.9z" fill="#0daebb"/><path d="M549.5 142.1L555.1 140.6L550.8 138.6L545.3 140.1z" fill="#82bf79"/><path d="M536.8 136.2L542.3 134.8L538.1 132.8L532.6 134.3z" fill="#1658da"/><path d="M532.6 134.3L538.1 132.8L533.9 130.9L528.3 132.4z" fill="#353baa"/><path d="M657 187L662.5 185.5L658.3 183.6L652.7 185.1z" fill="#63be86"/><path d="M618.8 169.6L624.3 168.1L620.1 166.2L614.5 167.6z" fill="#19b2b1"/><path d="M572.1 148.3L577.6 146.8L573.4 144.9L567.8 146.4z" fill="#2d48c3"/><path d="M567.8 146.4L573.4 144.9L569.1 142.9L563.6 144.4z" fill="#0e5cde"/><path d="M563.6 144.4L569.1 142.9L564.9 141L559.3 142.5z" fill="#0b5edf"/><path d="M546.6 136.7L552.1 135.2L547.9 133.3L542.3 134.8z" fill="#0265e1"/><path d="M542.3 134.8L547.9 133.3L543.6 131.3L538.1 132.8z" fill="#2252d2"/><path d="M538.1 132.8L543.6 131.3L539.4 129.4L533.9 130.9z" fill="#1758d9"/><path d="M501.8 228.7L378.7 172.6M501.8 228.7L662.5 185.5M507.3 227.2L384.2 171.1M497.6 226.8L658.3 183.6M512.9 225.7L389.8 169.6M493.3 224.8L654 181.6M518.4 224.2L395.3 168.1M489.1 222.9L649.8 179.7M524 222.7L400.9 166.6M484.8 221L645.5 177.8M529.5 221.3L406.4 165.2M480.6 219L641.3 175.8M535 219.8L411.9 163.7M476.3 217.1L637 173.9M540.6 218.3L417.5 162.2M472.1 215.2L632.8 172M546.1 216.8L423 160.7M467.8 213.2L628.5 170M551.7 215.3L428.6 159.2M463.6 211.3L624.3 168.1M557.2 213.8L434.1 157.7M459.4 209.4L620.1 166.2M562.8 212.3L439.7 156.2M455.1 207.4L615.8 164.2M568.3 210.8L445.2 154.7M450.9 205.5L611.6 162.3M573.8 209.3L450.7 153.2M446.6 203.6L607.3 160.4M579.4 207.8L456.3 151.7M442.4 201.6L603.1 158.4M584.9 206.4L461.8 150.3M438.1 199.7L598.8 156.5M590.5 204.9L467.4 148.8M433.9 197.7L594.6 154.5M596 203.4L472.9 147.3M429.6 195.8L590.3 152.6M601.5 201.9L478.4 145.8M425.4 193.9L586.1 150.7M607.1 200.4L484 144.3M421.1 191.9L581.8 148.7M612.6 198.9L489.5 142.8M416.9 190L577.6 146.8M618.2 197.4L495.1 141.3M412.7 188.1L573.4 144.9M623.7 195.9L500.6 139.8M408.4 186.1L569.1 142.9M629.3 194.4L506.2 138.3M404.2 184.2L564.9 141M634.8 192.9L511.7 136.8M399.9 182.3L560.6 139.1M640.3 191.5L517.2 135.4M395.7 180.3L556.4 137.1M645.9 190L522.8 133.9M391.4 178.4L552.1 135.2M651.4 188.5L528.3 132.4M387.2 176.5L547.9 133.3M657 187L533.9 130.9M382.9 174.5L543.6 131.3M662.5 185.5L539.4 129.4M378.7 172.6L539.4 129.4" stroke="#000" stroke-width="0.36" fill="none"/><filter id="sm" x="0" y="0" width="1" height="1"><feGaussianBlur stdDeviation="0.4"/><feComposite in2="SourceAlpha" operator="in"/></filter><g class="ts" filter="url(#sm)"><path color="#3046be" d="M539.4 28.5l-2.8 .8 2.2 1 2.7-.9"/><path color="#3046be" d="M533.9 30.1l2.1 1 2.8-.8-2.2-1"/><path color="#3046be" d="M543.6 30.4l-2.1-1-2.7 .9 2.1 1"/><path color="#3340b3" d="M533.9 30.1l-2.8 1.1 2.1 1 2.8-1.1"/><path color="#3145bc" d="M543.6 30.4l-2.7 .9 2.1 .9 2.8-.7"/><path color="#3046be" d="M538.1 32.1l2.8-.8-2.1-1-2.8 .8"/><path color="#363398" d="M528.3 32.4l2.1 .9 2.8-1.1-2.1-1"/><path color="#3340b3" d="M538.1 32.1l-2.1-1-2.8 1.1 2.1 1"/><path color="#3145bc" d="M538.1 32.1l2.1 .9 2.8-.8-2.1-.9"/><path color="#36359d" d="M528.3 32.4l-2.8 .2 2.2 .9 2.7-.2"/><path color="#3342b7" d="M547.9 32.6l-2.1-1.1-2.8 .7 2.1 1"/><path color="#3340b3" d="M538.1 32.1l-2.8 1.1 2.2 .4 2.7-.6"/><path color="#363398" d="M532.6 34.2l2.7-1-2.1-1-2.8 1.1"/><path color="#3145bc" d="M547.9 32.6l-2.8 .6 2.1 .4 2.8-.5"/><path color="#2d49c4" d="M522.8 32.8l2.1 .9 2.8-.2-2.2-.9"/><path color="#3342b7" d="M542.3 33.9l2.8-.7-2.1-1-2.8 .8"/><path color="#36359d" d="M532.6 34.2l-2.2-.9-2.7 .2 2.1 .9"/><path color="#3637a1" d="M532.6 34.2l2.1 .1 2.8-.7-2.2-.4"/><path color="#2a4bc8" d="M522.8 32.8l-2.8 1.2 2.1 .8 2.8-1.1"/><path color="#3342b7" d="M542.3 33.9l-2.1-.9-2.7 .6 2.1 .5"/><path color="#3145bc" d="M542.3 33.9l2.2 .1 2.7-.4-2.1-.4"/><path color="#353dae" d="M532.6 34.2l-2.8 .2 2.1-.9 2.8 .8"/><path color="#2d49c4" d="M527 34.6l2.8-.2-2.1-.9-2.8 .2"/><path color="#2450cf" d="M552.1 33.7l-2.1-.6-2.8 .5 2.2 .3"/><path color="#353dad" d="M517.2 35.1l2.2 .8 2.7-1.1-2.1-.8"/><path color="#284dcb" d="M542.3 33.9l-2.7 .2 2.1-1.4 2.8 1.3"/><path color="#3341b4" d="M536.8 34.3l2.8-.2-2.1-.5-2.8 .7"/><path color="#2a4bc8" d="M527 34.6l-2.1-.9-2.8 1.1 2.1 .9"/><path color="#36359c" d="M517.2 35.1l-2.7 .9 2.1 .8 2.8-.9"/><path color="#2052d3" d="M552.1 33.7l-2.7 .2 2.1 1.5 2.8-.3"/><path color="#0364e1" d="M527 34.6l2.1-1.8 2.8 .7-2.1 .9"/><path color="#2450cf" d="M546.6 34.1l2.8-.2-2.2-.3-2.7 .4"/><path color="#0b5edf" d="M536.8 34.3l-2.1 0-2.8-.8 2.1-.8"/><path color="#036ae1" d="M536.8 34.3l2.1-2.9 2.8 1.3-2.1 1.4"/><path color="#353dad" d="M521.5 36.7l2.7-1-2.1-.9-2.7 1.1"/><path color="#0269e1" d="M527 34.6l-2.8 1.1 2.2-2.1 2.7-.8"/><path color="#352d8c" d="M511.7 36.9l2.1 .9 2.8-1-2.1-.8"/><path color="#066fdf" d="M546.6 34.1l-2.1-.1-2.8-1.3 2.1-1.4"/><path color="#2052d3" d="M546.6 34.1l2.1 1.5 2.8-.2-2.1-1.5"/><path color="#284dca" d="M556.4 36.5l-2.1-1.4-2.8 .3 2.1 1.4"/><path color="#36359c" d="M521.5 36.7l-2.1-.8-2.8 .9 2.1 .9"/><path color="#127bd9" d="M536.8 34.3l-2.8-1.6 2.2-1.2 2.7-.1"/><path color="#352d8b" d="M511.7 36.9l-2.8-.3 2.1 .9 2.8 .3"/><path color="#0860df" d="M521.5 36.7l2.1-2.4 2.8-.7-2.2 2.1"/><path color="#1486d4" d="M531.3 31.1l2.7 1.6-2.1 .8-2.8-.7"/><path color="#0a72de" d="M546.6 34.1l-2.8-2.8 2.1 2.2 2.8 2.1"/><path color="#2f47c0" d="M556.4 36.5l-2.8 .3 2.1 1.3 2.8-.2"/><path color="#352d8c" d="M515.9 38.6l2.8-.9-2.1-.9-2.8 1"/><path color="#1757d9" d="M521.5 36.7l-2.8 1 2.1-2.6 2.8-.8"/><path color="#284dca" d="M550.8 37.1l2.8-.3-2.1-1.4-2.8 .2"/><path color="#0998d1" d="M531.3 31.1l-2.2 1.7-2.7 .8 2.1-2.1"/><path color="#069fce" d="M541.1 28.6l2.7 2.7-2.1 1.4-2.8-1.3"/><path color="#363399" d="M506.2 36.2l2.1 1 2.7 .3-2.1-.9"/><path color="#089ad0" d="M531.3 31.1l2.1 .5 2.8-.1-2.2 1.2"/><path color="#352d8b" d="M515.9 38.6l-2.1-.8-2.8-.3 2.2 .8"/><path color="#2f47c0" d="M550.8 37.1l2.2 1.2 2.7-.2-2.1-1.3"/><path color="#026ae1" d="M550.8 37.1l-2.1-1.5-2.8-2.1 2.2 2.2"/><path color="#343eaf" d="M560.6 39.3l-2.1-1.4-2.8 .2 2.2 1.3"/><path color="#2450d0" d="M515.9 38.6l2.2-2.7 2.7-.8-2.1 2.6"/><path color="#07aac1" d="M541.1 28.6l-2.2 2.8-2.7 .1 2.1-1.2"/><path color="#07a9c3" d="M541.1 28.6l2.1 2.8 2.7 2.1-2.1-2.2"/><path color="#06a6c7" d="M531.3 31.1l-2.8 .4 2.1 .1 2.8 0"/><path color="#0c94d2" d="M525.7 31.9l2.8-.4-2.1 2.1-2.8 .7"/><path color="#0972de" d="M506.2 36.2l-2.8-4.6 2.1 1.1 2.8 4.5"/><path color="#0266e1" d="M550.8 37.1l-2.7-1.4 2.1 .3 2.8 2.3"/><path color="#244fcf" d="M515.9 38.6l-2.7-.3 2.1-2.2 2.8-.2"/><path color="#0a5fdf" d="M560.6 39.3l-2.7 .1 2.1-1.7 2.7-.4"/><path color="#363399" d="M510.4 38.1l2.8 .2-2.2-.8-2.7-.3"/><path color="#0c94d2" d="M525.7 31.9l-2.1 2.4-2.8 .8 2.2-2.5"/><path color="#17b1b3" d="M541.1 28.6l-2.8 1.7 2.1 2.1 2.8-1"/><path color="#343eaf" d="M555.1 39.5l2.8-.1-2.2-1.3-2.7 .2"/><path color="#06a5c8" d="M535.5 32l2.8-1.7-2.1 1.2-2.8 .1"/><path color="#0899d1" d="M545.3 34.2l2.8 1.5-2.2-2.2-2.7-2.1"/><path color="#07a9c3" d="M525.7 31.9l2.1-.2 2.8-.1-2.1-.1"/><path color="#06a6c7" d="M535.5 32l-2.1-.4-2.8 0 2.1 .2"/><path color="#0972de" d="M510.4 38.1l-2.1-.9-2.8-4.5 2.1 1"/><path color="#1b55d6" d="M510.4 38.1l2.1-1.9 2.8-.1-2.1 2.2"/><path color="#0269e1" d="M555.1 39.5l-2.1-1.2-2.8-2.3 2.1 .4"/><path color="#06a6c7" d="M535.5 32l2.1 1.4 2.8-1-2.1-2.1"/><path color="#0a5fdf" d="M555.1 39.5l2.1-1.5 2.8-.3-2.1 1.7"/><path color="#0c94d2" d="M520.2 33.2l2.8-.6-2.2 2.5-2.7 .8"/><path color="#07a9c2" d="M525.7 31.9l-2.7 .7 2.1 .2 2.7-1.1"/><path color="#06a6c6" d="M545.3 34.2l-2.1-2.8-2.8 1 2.1 2.1"/><path color="#0998d1" d="M545.3 34.2l2.1-.5 2.8 2.3-2.1-.3"/><path color="#06a5c8" d="M535.5 32l-2.8-.2 2.2 1.7 2.7-.1"/><path color="#5abd8b" d="M500.6 27.1l2.1 1.1 2.8 4.5-2.1-1.1"/><path color="#0c93d2" d="M520.2 33.2l-2.1 2.7-2.8 .2 2.1-2.3"/><path color="#0a96d1" d="M564.9 35.4l-2.2 1.9-2.7 .4 2.1-1.8"/><path color="#1480d6" d="M510.4 38.1l-2.8-4.4 2.1-.2 2.8 2.7"/><path color="#0f78db" d="M555.1 39.5l-2.8-3.1 2.1 .2 2.8 1.4"/><path color="#06a6c7" d="M545.3 34.2l-2.8 .3 2.1 .2 2.8-1"/><path color="#0eaeb9" d="M530 31.5l2.7 .3-2.1-.2-2.8 .1"/><path color="#06a8c4" d="M520.2 33.2l2.1 .7 2.8-1.1-2.1-.2"/><path color="#06a2cb" d="M539.8 34.8l2.7-.3-2.1-2.1-2.8 1"/><path color="#bbbd62" d="M500.6 27.1l-2.8-.1 2.2 1.2 2.7 0"/><path color="#0998d1" d="M564.9 35.4l-2.8 .5 2.1 3.9 2.8-.5"/><path color="#11afb7" d="M530 31.5l-2.2 .2-2.7 1.1 2.1 .3"/><path color="#06a6c7" d="M549.5 33.3l2.8 3.1-2.1-.4-2.8-2.3"/><path color="#06a8c4" d="M520.2 33.2l-2.8 .6 2.1 .5 2.8-.4"/><path color="#0d93d2" d="M514.6 34.4l2.8-.6-2.1 2.3-2.8 .1"/><path color="#0daeba" d="M530 31.5l2.1 2.1 2.8-.1-2.2-1.7"/><path color="#06a2cb" d="M539.8 34.8l-2.2-1.4-2.7 .1 2.1 1.8"/><path color="#0a96d1" d="M559.3 36.5l2.8-.6-2.1 1.8-2.8 .3"/><path color="#5abd8b" d="M504.9 29.3l2.7 4.4-2.1-1-2.8-4.5"/><path color="#06a2cb" d="M539.8 34.8l2.1 .9 2.7-1-2.1-.2"/><path color="#026ae1" d="M569.1 43.3l-2.1-4-2.8 .5 2.1 3.8"/><path color="#12afb7" d="M530 31.5l-2.8 1.6 2.1 1.1 2.8-.6"/><path color="#15b1b4" d="M549.5 33.3l-2.1 .4-2.8 1 2.2 .2"/><path color="#07aac1" d="M524.4 34.6l2.8-1.5-2.1-.3-2.8 1.1"/><path color="#07a9c3" d="M549.5 33.3l2.2 1.8 2.7 1.5-2.1-.2"/><path color="#089bd0" d="M559.3 36.5l-2.1 1.5-2.8-1.4 2.2 .2"/><path color="#06a2cc" d="M539.8 34.8l-2.8 .5 2.1 1 2.8-.6"/><path color="#06a6c7" d="M514.6 34.4l-2.1 1.8-2.8-2.7 2.2-.2"/><path color="#0998d1" d="M559.3 36.5l2.1 3.7 2.8-.4-2.1-3.9"/><path color="#5ebe89" d="M504.9 29.3l2.1 1.4 2.7 2.8-2.1 .2"/><path color="#bbbd62" d="M495.1 26.9l2.1 1.2 2.8 .1-2.2-1.2"/><path color="#07a9c3" d="M514.6 34.4l2.2 .3 2.7-.4-2.1-.5"/><path color="#bbbd62" d="M504.9 29.3l-2.2-1.1-2.7 0 2.1 1.1"/><path color="#06a7c6" d="M534.2 35.7l2.8-.4-2.1-1.8-2.8 .1"/><path color="#2b4bc8" d="M569.1 43.3l-2.8 .3 2.2 1.1 2.7-.3"/><path color="#07aac1" d="M524.4 34.6l-2.1-.7-2.8 .4 2.2 .5"/><path color="#1ab2b1" d="M549.5 33.3l-2.7 1.6 2.1 .8 2.8-.6"/><path color="#06a6c6" d="M544 36.6l2.8-1.7-2.2-.2-2.7 1"/><path color="#089bd0" d="M559.3 36.5l-2.7 .3 2.1 2.7 2.7 .7"/><path color="#0cadbc" d="M524.4 34.6l2.2 .1 2.7-.5-2.1-1.1"/><path color="#bbbd62" d="M495.1 26.9l-2.8 .7 2.1 1.3 2.8-.8"/><path color="#026ae1" d="M563.6 43.9l2.7-.3-2.1-3.8-2.8 .4"/><path color="#15b1b4" d="M514.6 34.4l-2.7-1.1 2.1 1.7 2.8-.3"/><path color="#b0bd66" d="M504.9 29.3l-2.8 0 2.1 2.8 2.8-1.4"/><path color="#09abbf" d="M534.2 35.7l-2.1-2.1-2.8 .6 2.1 1.1"/><path color="#06a3cb" d="M534.2 35.7l2.1 1.1 2.8-.5-2.1-1"/><path color="#06a9c3" d="M553.8 37l2.8-.2-2.2-.2-2.7-1.5"/><path color="#06a1cc" d="M544 36.6l-2.1-.9-2.8 .6 2.1 1"/><path color="#0cadbb" d="M524.4 34.6l-2.7 .2 2.1 1 2.8-1.1"/><path color="#bbbd62" d="M499.3 29.4l2.8-.1-2.1-1.1-2.8-.1"/><path color="#77bf7e" d="M509.1 32.2l2.8 1.1-2.2 .2-2.7-2.8"/><path color="#2b4bc8" d="M563.6 43.9l2.1 1 2.8-.2-2.2-1.1"/><path color="#0d76dc" d="M563.6 43.9l-2.2-3.7-2.7-.7 2.1 2.8"/><path color="#09abbf" d="M544 36.6l2.1-.4 2.8-.5-2.1-.8"/><path color="#11afb7" d="M518.9 34.9l2.8-.1-2.2-.5-2.7 .4"/><path color="#2c4ac6" d="M573.4 45.5l-2.2-1.1-2.7 .3 2.1 1"/><path color="#07a9c3" d="M534.2 35.7l-2.8-.4 2.2 1 2.7 .5"/><path color="#bbbd62" d="M489.5 28.3l2.1 1.3 2.8-.7-2.1-1.3"/><path color="#06a3ca" d="M553.8 37l2.1 1.9 2.8 .6-2.1-2.7"/><path color="#0eaeba" d="M553.8 37l-2.1-1.9-2.8 .6 2.1 .7"/><path color="#98bf70" d="M499.3 29.4l2.1 4 2.8-1.3-2.1-2.8"/><path color="#bbbd62" d="M499.3 29.4l-2.1-1.3-2.8 .8 2.1 1.2"/><path color="#89bf76" d="M509.1 32.2l-2.1-1.5-2.8 1.4 2.1 2.7"/><path color="#06a6c6" d="M544 36.6l-2.8 .7 2.2 .1 2.7-1.2"/><path color="#54bd8e" d="M509.1 32.2l2.1 3.1 2.8-.3-2.1-1.7"/><path color="#19b2b2" d="M528.7 34.9l2.7 .4-2.1-1.1-2.7 .5"/><path color="#0266e1" d="M563.6 43.9l-2.8-1.6 2.1 .9 2.8 1.7"/><path color="#14b0b5" d="M518.9 34.9l-2.1-.2-2.8 .3 2.1 1.6"/><path color="#06a2cb" d="M538.5 37.9l2.7-.6-2.1-1-2.8 .5"/><path color="#3046bf" d="M573.4 45.5l-2.8 .2 2.1 1.1 2.8-.3"/><path color="#13b0b6" d="M518.9 34.9l2.1 2 2.8-1.1-2.1-1"/><path color="#bbbd62" d="M489.5 28.3l-2.7 .8 2.1 1.2 2.7-.7"/><path color="#07a9c2" d="M553.8 37l-2.8-.6 2.1 1.6 2.8 .9"/><path color="#90bf73" d="M499.3 29.4l-2.8 .7 2.2 4.2 2.7-.9"/><path color="#2c4ac6" d="M567.8 46l2.8-.3-2.1-1-2.8 .2"/><path color="#1ab2b1" d="M528.7 34.9l-2.1-.2-2.8 1.1 2.1 1.1"/><path color="#57bd8d" d="M509.1 32.2l-2.8 2.6 2.2 1.5 2.7-1"/><path color="#34b8a0" d="M503.6 37.4l2.7-2.6-2.1-2.7-2.8 1.3"/><path color="#0d92d2" d="M558 40.7l2.8 1.6-2.1-2.8-2.8-.6"/><path color="#22b4ab" d="M528.7 34.9l2.1 .9 2.8 .5-2.2-1"/><path color="#10afb8" d="M518.9 34.9l-2.8 1.7 2.1 1.6 2.8-1.3"/><path color="#06a8c3" d="M538.5 37.9l-2.2-1.1-2.7-.5 2.1 1"/><path color="#bbbd62" d="M493.8 30.8l2.7-.7-2.1-1.2-2.8 .7"/><path color="#19b2b2" d="M548.2 35.8l2.8 .6-2.1-.7-2.8 .5"/><path color="#12afb7" d="M513.3 38.4l2.8-1.8-2.1-1.6-2.8 .3"/><path color="#06a3cb" d="M538.5 37.9l2.1 .8 2.8-1.3-2.2-.1"/><path color="#16b1b3" d="M503.6 37.4l-2.2-4-2.7 .9 2.1 4.1"/><path color="#bbbd62" d="M484 29.8l2.1 1.3 2.8-.8-2.1-1.2"/><path color="#1cb3b0" d="M503.6 37.4l2.1-.1 2.8-1-2.2-1.5"/><path color="#0269e1" d="M567.8 46l-2.1-1.1-2.8-1.7 2.1 .9"/><path color="#3046bf" d="M567.8 46l2.1 1 2.8-.2-2.1-1.1"/><path color="#0badbc" d="M523.1 39l2.8-2.1-2.1-1.1-2.8 1.1"/><path color="#24b5aa" d="M528.7 34.9l-2.8 2 2.1 .9 2.8-2"/><path color="#8ebf74" d="M493.8 30.8l2.1 4.3 2.8-.8-2.2-4.2"/><path color="#108fd2" d="M558 40.7l2.2 .8 2.7 1.7-2.1-.9"/><path color="#bbbd62" d="M493.8 30.8l-2.2-1.2-2.7 .7 2.1 1.2"/><path color="#15b0b4" d="M548.2 35.8l-2.1 .4-2.7 1.2 2.1 .2"/><path color="#353dad" d="M577.6 47.6l-2.1-1.1-2.8 .3 2.1 1"/><path color="#17b1b3" d="M513.3 38.4l-2.1-3.1-2.7 1 2.1 1.5"/><path color="#06a5c8" d="M558 40.7l-2.1-1.8-2.8-.9 2.2 1.5"/><path color="#06a8c4" d="M538.5 37.9l-2.8-.6 2.1 .9 2.8 .5"/><path color="#06a8c4" d="M513.3 38.4l2.2 1.1 2.7-1.3-2.1-1.6"/><path color="#21b4ac" d="M548.2 35.8l2.2 1.2 2.7 1-2.1-1.6"/><path color="#b8bd63" d="M484 29.8l-2.8 1.1 2.1 1.2 2.8-1"/><path color="#08abc0" d="M503.6 37.4l-2.8 1 2.1 .5 2.8-1.6"/><path color="#07aac1" d="M523.1 39l-2.1-2.1-2.8 1.3 2.2 1.6"/><path color="#24b5aa" d="M532.9 36.7l2.8 .6-2.1-1-2.8-.5"/><path color="#95bf71" d="M493.8 30.8l-2.8 .7 2.1 3.4 2.8 .2"/><path color="#0267e1" d="M567.8 46l-2.8-1.9 2.2 .9 2.7 2"/><path color="#08abc0" d="M523.1 39l2.2 .9 2.7-2.1-2.1-.9"/><path color="#12b0b7" d="M498 39.4l2.8-1-2.1-4.1-2.8 .8"/><path color="#08aac0" d="M513.3 38.4l-2.7-.6 2.1 1.4 2.8 .3"/><path color="#06a5c9" d="M558 40.7l-2.7-1.2 2.1 1.5 2.8 .5"/><path color="#06a7c5" d="M542.7 39.5l2.8-1.9-2.1-.2-2.8 1.3"/><path color="#363aa7" d="M577.6 47.6l-2.8 .2 2.2 .4 2.7-.2"/><path color="#22b4ab" d="M548.2 35.8l-2.7 1.8 2.1 .6 2.8-1.2"/><path color="#bbbd62" d="M488.2 32.3l2.8-.8-2.1-1.2-2.8 .8"/><path color="#353dad" d="M572.1 48l2.7-.2-2.1-1-2.8 .2"/><path color="#06a8c5" d="M523.1 39l-2.7 .8 2.1 .7 2.8-.6"/><path color="#27b5a8" d="M532.9 36.7l-2.1-.9-2.8 2 2.1 1"/><path color="#25b5a9" d="M507.8 37.2l2.8 .6-2.1-1.5-2.8 1"/><path color="#06a6c7" d="M498 39.4l2.1 1 2.8-1.5-2.1-.5"/><path color="#afbe67" d="M478.4 31.9l2.2 1.2 2.7-1-2.1-1.2"/><path color="#2cb7a5" d="M498 39.4l-2.1-4.3-2.8-.2 2.1 3.4"/><path color="#0a96d1" d="M562.3 42.2l2.7 1.9-2.1-.9-2.7-1.7"/><path color="#25b5a9" d="M532.9 36.7l2.1 1 2.8 .5-2.1-.9"/><path color="#07a9c3" d="M517.6 40.6l2.8-.8-2.2-1.6-2.7 1.3"/><path color="#19b2b2" d="M552.5 38.3l2.8 1.2-2.2-1.5-2.7-1"/><path color="#07a9c3" d="M542.7 39.5l-2.1-.8-2.8-.5 2.1 .9"/><path color="#b8bd63" d="M488.2 32.3l-2.1-1.2-2.8 1 2.2 1.2"/><path color="#b0bd67" d="M488.2 32.3l2.2 2.4 2.7 .2-2.1-3.4"/><path color="#0aacbd" d="M542.7 39.5l2.1-.1 2.8-1.2-2.1-.6"/><path color="#25b5aa" d="M507.8 37.2l-2.1 .1-2.8 1.6 2.1 .5"/><path color="#afbe67" d="M478.4 31.9l-2.7 1.6 2.1 1.1 2.8-1.5"/><path color="#0dadbb" d="M498 39.4l-2.8-1.1 2.2 2.2 2.7-.1"/><path color="#0860df" d="M572.1 48l-2.2-1-2.7-2 2.1 .9"/><path color="#363aa7" d="M572.1 48l2.1 .5 2.8-.3-2.2-.4"/><path color="#09abbf" d="M527.4 40.9l2.7-2.1-2.1-1-2.7 2.1"/><path color="#29b6a7" d="M532.9 36.7l-2.8 2.1 2.2 .9 2.7-2"/><path color="#2bb6a6" d="M507.8 37.2l2.1 1.7 2.8 .3-2.1-1.4"/><path color="#0bacbd" d="M517.6 40.6l-2.1-1.1-2.8-.3 2.1 1.4"/><path color="#0998d1" d="M562.3 42.2l2.1 .8 2.8 2-2.2-.9"/><path color="#06a6c7" d="M562.3 42.2l-2.1-.7-2.8-.5 2.1 1.6"/><path color="#26b5a9" d="M552.5 38.3l-2.1-1.3-2.8 1.2 2.1 .7"/><path color="#0eaeba" d="M552.5 38.3l2.1 2.3 2.8 .4-2.1-1.5"/><path color="#09abbf" d="M517.6 40.6l2.1 .4 2.8-.5-2.1-.7"/><path color="#353ba9" d="M581.8 48.4l-2.1-.4-2.7 .2 2.1 .5"/><path color="#adbe68" d="M488.2 32.3l-2.7 1 2.1 3.2 2.8-1.8"/><path color="#0aacbe" d="M542.7 39.5l-2.8-.4 2.2 1.1 2.7-.8"/><path color="#07a9c2" d="M527.4 40.9l-2.1-1-2.8 .6 2.1 .7"/><path color="#afbe67" d="M482.7 34.3l2.8-1-2.2-1.2-2.7 1"/><path color="#0daeba" d="M502.3 41.5l2.7-2.1-2.1-.5-2.8 1.5"/><path color="#30b7a2" d="M507.8 37.2l-2.8 2.2 2.2 1.4 2.7-1.9"/><path color="#86bf77" d="M492.5 37.1l2.7 1.2-2.1-3.4-2.7-.2"/><path color="#b8bd63" d="M472.9 35l2.1 1.1 2.8-1.5-2.1-1.1"/><path color="#25b5a9" d="M537.2 38.7l2.7 .4-2.1-.9-2.8-.5"/><path color="#0d5dde" d="M572.1 48l-2.8-2.1 2.1 .5 2.8 2.1"/><path color="#0bacbd" d="M527.4 40.9l2.1 .8 2.8-2-2.2-.9"/><path color="#0faeb9" d="M517.6 40.6l-2.8 0 2.1 1.3 2.8-.9"/><path color="#1ab2b1" d="M552.5 38.3l-2.8 .6 2.1 2.2 2.8-.5"/><path color="#06a7c5" d="M562.3 42.2l-2.8 .4 2.1 0 2.8 .4"/><path color="#64be86" d="M472.9 35l-2.8 5.8 2.2 1 2.7-5.7"/><path color="#137dd8" d="M467.4 46.5l2.1 1 2.8-5.7-2.2-1"/><path color="#afbe67" d="M482.7 34.3l-2.1-1.2-2.8 1.5 2.1 1.2"/><path color="#08aac1" d="M502.3 41.5l-2.2-1.1-2.7 .1 2.1 2.3"/><path color="#1db3af" d="M546.9 39.4l2.8-.5-2.1-.7-2.8 1.2"/><path color="#8cbf75" d="M482.7 34.3l2.1 4 2.8-1.8-2.1-3.2"/><path color="#23b5ab" d="M512 40.6l2.8 0-2.1-1.4-2.8-.3"/><path color="#50bc90" d="M492.5 37.1l2.1 3.5 2.8-.1-2.2-2.2"/><path color="#06a7c5" d="M556.7 42.9l2.8-.3-2.1-1.6-2.8-.4"/><path color="#87bf77" d="M492.5 37.1l-2.1-2.4-2.8 1.8 2.1 3.2"/><path color="#0e5dde" d="M581.8 48.4l-2.7 .3 2.1-2.3 2.8-.6"/><path color="#294cca" d="M467.4 46.5l-2.8 1.7 2.1 .9 2.8-1.6"/><path color="#2ab6a6" d="M537.2 38.7l-2.2-1-2.7 2 2.1 1"/><path color="#08abc0" d="M527.4 40.9l-2.8 .3 2.1 .8 2.8-.3"/><path color="#353ba9" d="M576.3 49l2.8-.3-2.1-.5-2.8 .3"/><path color="#12b0b7" d="M502.3 41.5l2.1 1.2 2.8-1.9-2.2-1.4"/><path color="#1eb3ae" d="M537.2 38.7l2.1 2.2 2.8-.7-2.2-1.1"/><path color="#0c94d2" d="M566.5 43.7l2.8 2.2-2.1-.9-2.8-2"/><path color="#12afb7" d="M521.8 41.5l2.8-.3-2.1-.7-2.8 .5"/><path color="#85bf78" d="M482.7 34.3l-2.8 1.5 2.1 3.8 2.8-1.3"/><path color="#17b1b3" d="M546.9 39.4l-2.1 0-2.7 .8 2.1 1.1"/><path color="#25b5aa" d="M512 40.6l-2.1-1.7-2.7 1.9 2.1 1.4"/><path color="#51bc90" d="M492.5 37.1l-2.8 2.6 2.1 2.4 2.8-1.5"/><path color="#08aac1" d="M502.3 41.5l-2.8 1.3 2.1 1 2.8-1.1"/><path color="#1db3af" d="M546.9 39.4l2.2 2.2 2.7-.5-2.1-2.2"/><path color="#06a8c3" d="M556.7 42.9l-2.1-2.3-2.8 .5 2.2 2.3"/><path color="#18b1b2" d="M512 40.6l2.2 2.1 2.7-.8-2.1-1.3"/><path color="#2eb7a4" d="M486.9 42.2l2.8-2.5-2.1-3.2-2.8 1.8"/><path color="#b8bd63" d="M477.1 37.2l2.8-1.4-2.1-1.2-2.8 1.5"/><path color="#20b4ad" d="M537.2 38.7l-2.8 2 2.1 1.8 2.8-1.6"/><path color="#06a8c4" d="M556.7 42.9l2.2-.6 2.7 .3-2.1 0"/><path color="#0eaeba" d="M531.6 42.6l2.8-1.9-2.1-1-2.8 2"/><path color="#0dadbb" d="M496.7 44l2.8-1.2-2.1-2.3-2.8 .1"/><path color="#095fdf" d="M576.3 49l-2.1-.5-2.8-2.1 2.1 .6"/><path color="#3046bd" d="M461.8 49.9l2.1 .8 2.8-1.6-2.1-.9"/><path color="#14b0b6" d="M521.8 41.5l-2.1-.5-2.8 .9 2.2 1.3"/><path color="#64be86" d="M477.1 37.2l-2.1-1.1-2.7 5.7 2.1 1"/><path color="#0c94d2" d="M566.5 43.7l2.1 .7 2.8 2-2.1-.5"/><path color="#07a9c3" d="M566.5 43.7l-2.1-.7-2.8-.4 2.2 .1"/><path color="#137dd8" d="M471.6 48.4l2.8-5.6-2.1-1-2.8 5.7"/><path color="#0e5dde" d="M576.3 49l2.1-2.1 2.8-.5-2.1 2.3"/><path color="#18b1b2" d="M521.8 41.5l2.2 .8 2.7-.3-2.1-.8"/><path color="#12afb7" d="M486.9 42.2l-2.1-3.9-2.8 1.3 2.2 3.9"/><path color="#17b1b3" d="M546.9 39.4l-2.7 1.9 2.1 1.8 2.8-1.5"/><path color="#17b1b3" d="M512 40.6l-2.7 1.6 2.1 1.7 2.8-1.2"/><path color="#0eaeba" d="M486.9 42.2l2.2 1.5 2.7-1.6-2.1-2.4"/><path color="#12afb7" d="M541.4 43.1l2.8-1.8-2.1-1.1-2.8 .7"/><path color="#8abf76" d="M477.1 37.2l2.2 3.8 2.7-1.4-2.1-3.8"/><path color="#294cca" d="M471.6 48.4l-2.1-.9-2.8 1.6 2.1 .9"/><path color="#0eaeb9" d="M506.5 43.9l2.8-1.7-2.1-1.4-2.8 1.9"/><path color="#0badbc" d="M531.6 42.6l-2.1-.9-2.8 .3 2.1 .9"/><path color="#0bacbd" d="M496.7 44l-2.1-3.4-2.8 1.5 2.2 2.5"/><path color="#07a9c3" d="M556.7 42.9l-2.7 .5 2.1-.8 2.8-.3"/><path color="#3046be" d="M461.8 49.9l-2.8-.3 2.2 .9 2.7 .2"/><path color="#06a5c9" d="M496.7 44l2.1 1 2.8-1.2-2.1-1"/><path color="#0badbc" d="M531.6 42.6l2.1 1.6 2.8-1.7-2.1-1.8"/><path color="#3cba9b" d="M477.1 37.2l-2.7 5.6 2.1 1.5 2.8-3.3"/><path color="#18b1b3" d="M521.8 41.5l-2.7 1.7 2.1 .8 2.8-1.7"/><path color="#08abc0" d="M551.2 43.9l2.8-.5-2.2-2.3-2.7 .5"/><path color="#0cadbc" d="M516.3 44.8l2.8-1.6-2.2-1.3-2.7 .8"/><path color="#06a4c9" d="M486.9 42.2l-2.7 1.3 2.1 1.1 2.8-.9"/><path color="#0972de" d="M576.3 49l-2.8-2 2.2-.9 2.7 .8"/><path color="#0badbc" d="M541.4 43.1l-2.1-2.2-2.8 1.6 2.1 1.9"/><path color="#1486d3" d="M471.6 48.4l2.1-.7 2.8-3.4-2.1-1.5"/><path color="#07aac1" d="M566.5 43.7l-2.7-1 2.1 .9 2.7 .8"/><path color="#07aac1" d="M506.5 43.9l-2.1-1.2-2.8 1.1 2.1 1.1"/><path color="#0f90d2" d="M586.1 43.3l-2.1 2.5-2.8 .6 2.1-2.4"/><path color="#0aacbe" d="M541.4 43.1l2.1 1.5 2.8-1.5-2.1-1.8"/><path color="#09abbf" d="M506.5 43.9l2.1 1.3 2.8-1.3-2.1-1.7"/><path color="#0faeb9" d="M481.4 44.7l2.8-1.2-2.2-3.9-2.7 1.4"/><path color="#0aacbe" d="M531.6 42.6l-2.8 .3 2.2 1.7 2.7-.4"/><path color="#06a3ca" d="M496.7 44l-2.7 .6 2.1 .8 2.7-.4"/><path color="#3046bd" d="M466.1 51.6l2.7-1.6-2.1-.9-2.8 1.6"/><path color="#0265e1" d="M471.6 48.4l-2.8 1.6 2.2-.1 2.7-2.2"/><path color="#08aac0" d="M551.2 43.9l-2.1-2.3-2.8 1.5 2.1 1.8"/><path color="#07a9c2" d="M516.3 44.8l-2.1-2.1-2.8 1.2 2.1 1.8"/><path color="#12b0b6" d="M561 41.7l2.8 1-2.2-.1-2.7-.3"/><path color="#0a97d1" d="M570.8 45l2.7 2-2.1-.6-2.8-2"/><path color="#06a7c6" d="M491.2 45.2l2.8-.6-2.2-2.5-2.7 1.6"/><path color="#1cb3af" d="M526.1 43.1l2.7-.2-2.1-.9-2.7 .3"/><path color="#09abbe" d="M551.2 43.9l2.1-.9 2.8-.4-2.1 .8"/><path color="#08aac1" d="M516.3 44.8l2.1 .8 2.8-1.6-2.1-.8"/><path color="#06a8c4" d="M541.4 43.1l-2.8 1.3 2.2 1.3 2.7-1.1"/><path color="#09abbf" d="M481.4 44.7l-2.1-3.7-2.8 3.3 2.1 1.5"/><path color="#284dcb" d="M456.3 49.4l2.1 .9 2.8 .2-2.2-.9"/><path color="#07a9c3" d="M506.5 43.9l-2.8 1 2.2 .3 2.7 0"/><path color="#06a2cb" d="M481.4 44.7l2.1 .9 2.8-1-2.1-1.1"/><path color="#06a8c4" d="M535.9 45.7l2.7-1.3-2.1-1.9-2.8 1.7"/><path color="#3046be" d="M466.1 51.6l-2.2-.9-2.7-.2 2.1 .9"/><path color="#06a6c7" d="M501 45.9l2.7-1-2.1-1.1-2.8 1.2"/><path color="#06a4ca" d="M586.1 43.3l-2.8 .7 2.1 .3 2.8-.6"/><path color="#0f90d2" d="M580.6 44.8l2.7-.8-2.1 2.4-2.8 .5"/><path color="#06a5c8" d="M491.2 45.2l-2.1-1.5-2.8 .9 2.1 1.2"/><path color="#2c4ac5" d="M466.1 51.6l2.1 .5 2.8-2.2-2.2 .1"/><path color="#19b2b2" d="M526.1 43.1l-2.1-.8-2.8 1.7 2.1 .8"/><path color="#1eb3ae" d="M561 41.7l-2.1 .6-2.8 .3 2.1-.7"/><path color="#06a6c6" d="M516.3 44.8l-2.8 .9 2.1 .1 2.8-.2"/><path color="#0aacbe" d="M551.2 43.9l-2.8 1 2.1-.9 2.8-1"/><path color="#06a6c7" d="M491.2 45.2l2.1 .7 2.8-.5-2.1-.8"/><path color="#1cb3b0" d="M561 41.7l2.1 1.2 2.8 .7-2.1-.9"/><path color="#16b1b4" d="M526.1 43.1l2.1 1.9 2.8-.4-2.2-1.7"/><path color="#06a7c6" d="M545.7 46l2.7-1.1-2.1-1.8-2.8 1.5"/><path color="#09abbf" d="M570.8 45l-2.2-.6-2.7-.8 2.1 .9"/><path color="#079cd0" d="M570.8 45l2.1 .4 2.8 .7-2.2 .9"/><path color="#06a2cc" d="M481.4 44.7l-2.8 1.1 2.1 .6 2.8-.8"/><path color="#06a7c5" d="M535.9 45.7l-2.2-1.5-2.7 .4 2.1 1.7"/><path color="#06a5c9" d="M510.8 46.5l2.7-.8-2.1-1.8-2.8 1.3"/><path color="#089ad1" d="M475.9 47l2.7-1.2-2.1-1.5-2.8 3.4"/><path color="#06a5c8" d="M501 45.9l-2.2-.9-2.7 .4 2.1 .8"/><path color="#06a5c8" d="M535.9 45.7l2.1 1.2 2.8-1.2-2.2-1.3"/><path color="#0a73de" d="M456.3 49.4l-2.8-3.3 2.1 .9 2.8 3.3"/><path color="#3045bd" d="M466.1 51.6l-2.8-.2 2.1 .8 2.8-.1"/><path color="#0997d1" d="M580.6 44.8l-2.2 2.1-2.7-.8 2.1-.8"/><path color="#08aac0" d="M501 45.9l2.1-.6 2.8-.1-2.2-.3"/><path color="#06a5c8" d="M545.7 46l-2.2-1.4-2.7 1.1 2.1 1.4"/><path color="#06a7c6" d="M491.2 45.2l-2.8 .6 2.1 .4 2.8-.3"/><path color="#1483d5" d="M475.9 47l-2.2 .7-2.7 2.2 2.1-.1"/><path color="#15b1b4" d="M526.1 43.1l-2.8 1.7 2.1 .9 2.8-.7"/><path color="#07a9c2" d="M520.5 46.5l2.8-1.7-2.1-.8-2.8 1.6"/><path color="#29b6a7" d="M561 41.7l-2.8 .2 2.1 2 2.8-1"/><path color="#06a8c4" d="M510.8 46.5l-2.2-1.3-2.7 0 2.1 .4"/><path color="#284dcb" d="M460.5 51.2l2.8 .2-2.1-.9-2.8-.2"/><path color="#06a4ca" d="M580.6 44.8l2.1 .1 2.7-.6-2.1-.3"/><path color="#06a4c9" d="M535.9 45.7l-2.8 .6 2.1 1.8 2.8-1.2"/><path color="#06a4c9" d="M485.6 46.4l2.8-.6-2.1-1.2-2.8 1"/><path color="#0aacbe" d="M570.8 45l-2.8-.5 2.1 1.2 2.8-.3"/><path color="#08aac1" d="M545.7 46l2.1-1 2.7-1-2.1 .9"/><path color="#06a7c5" d="M510.8 46.5l2.1-.5 2.7-.2-2.1-.1"/><path color="#26b5a9" d="M555.4 42.2l2.8-.3-2.1 .7-2.8 .4"/><path color="#06a3ca" d="M475.9 47l2.1 .2 2.7-.8-2.1-.6"/><path color="#08aac1" d="M501 45.9l-2.8 .3 2.1 0 2.8-.9"/><path color="#09abbf" d="M530.3 46.9l2.8-.6-2.1-1.7-2.8 .4"/><path color="#06a6c7" d="M590.3 44.1l-2.1-.4-2.8 .6 2.2 .3"/><path color="#0b5edf" d="M470.3 52.7l2.8-2.9-2.1 .1-2.8 2.2"/><path color="#07a9c2" d="M520.5 46.5l-2.1-.9-2.8 .2 2.2 .2"/><path color="#1cb3af" d="M565.2 44.1l2.8 .4-2.1-.9-2.8-.7"/><path color="#06a8c5" d="M495.4 46.6l2.8-.4-2.1-.8-2.8 .5"/><path color="#06a8c4" d="M545.7 46l-2.8 1.1 2.1-.4 2.8-1.7"/><path color="#06a4c9" d="M485.6 46.4l-2.1-.8-2.8 .8 2.2 .6"/><path color="#06a9c3" d="M580.6 44.8l-2.8 .5 2.1-1 2.8 .6"/><path color="#0aacbd" d="M520.5 46.5l2.2-.1 2.7-.7-2.1-.9"/><path color="#06a4ca" d="M540.1 48.1l2.8-1-2.1-1.4-2.8 1.2"/><path color="#0a97d1" d="M475.9 47l-2.8 2.8 2.1-.7 2.8-1.9"/><path color="#06a7c5" d="M575 45.8l2.8-.5-2.1 .8-2.8-.7"/><path color="#2b4bc7" d="M460.5 51.2l2.1 1.1 2.8-.1-2.1-.8"/><path color="#29b6a7" d="M555.4 42.2l-2.1 .8-2.8 1 2.2-.9"/><path color="#09abbf" d="M510.8 46.5l-2.8-.9 2.1 .8 2.8-.4"/><path color="#06a8c5" d="M485.6 46.4l2.2 .1 2.7-.3-2.1-.4"/><path color="#0a73de" d="M460.5 51.2l-2.1-.9-2.8-3.3 2.2 .9"/><path color="#26b5a9" d="M555.4 42.2l2.2 2.6 2.7-.9-2.1-2"/><path color="#3243b9" d="M470.3 52.7l-2.1-.6-2.8 .1 2.1 .8"/><path color="#0faeb9" d="M530.3 46.9l-2.1-1.9-2.8 .7 2.2 .9"/><path color="#06a3cb" d="M530.3 46.9l2.1 2.3 2.8-1.1-2.1-1.8"/><path color="#1cb3af" d="M565.2 44.1l-2.1-1.2-2.8 1 2.2 1.9"/><path color="#07aac1" d="M495.4 46.6l-2.1-.7-2.8 .3 2.2 .4"/><path color="#06a6c7" d="M590.3 44.1l-2.7 .5 2.1 1.1 2.8-.6"/><path color="#15b0b5" d="M565.2 44.1l2.1 2 2.8-.4-2.1-1.2"/><path color="#1ab2b1" d="M505.2 44.7l2.8 .9-2.1-.4-2.8 .1"/><path color="#069ece" d="M540.1 48.1l-2.1-1.2-2.8 1.2 2.1 1.7"/><path color="#0cadbc" d="M520.5 46.5l-2.7-.5 2.1 1 2.8-.6"/><path color="#0aacbd" d="M450.7 42.8l2.2 .9 2.7 3.3-2.1-.9"/><path color="#07a9c2" d="M495.4 46.6l2.1 .5 2.8-.9-2.1 0"/><path color="#0d76dc" d="M470.3 52.7l2.1-1.8 2.8-1.8-2.1 .7"/><path color="#09abc0" d="M575 45.8l-2.1-.4-2.8 .3 2.1 1.2"/><path color="#06a6c7" d="M584.8 45.1l2.8-.5-2.2-.3-2.7 .6"/><path color="#06a8c5" d="M485.6 46.4l-2.7 .6 2.1 .4 2.8-.9"/><path color="#06a5c9" d="M540.1 48.1l2.1 .2 2.8-1.6-2.1 .4"/><path color="#29b6a7" d="M555.4 42.2l-2.7 .9 2.1 2.2 2.8-.5"/><path color="#0871de" d="M460.5 51.2l-2.7-3.3 2.1 1.4 2.7 3"/><path color="#06a6c7" d="M480.1 47.5l2.8-.5-2.2-.6-2.7 .8"/><path color="#17b1b3" d="M515 45.5l2.8 .5-2.2-.2-2.7 .2"/><path color="#06a7c6" d="M530.3 46.9l-2.7-.3 2.1 2.4 2.7 .2"/><path color="#27b6a8" d="M575 45.8l2.1-2.1 2.8 .6-2.1 1"/><path color="#27b6a8" d="M549.9 44l2.8-.9-2.2 .9-2.7 1"/><path color="#12afb7" d="M565.2 44.1l-2.7 1.7 2.1 1.7 2.7-1.4"/><path color="#0363e1" d="M470.3 52.7l-2.8 .3 2.2-.4 2.7-1.7"/><path color="#1eb3ae" d="M505.2 44.7l-2.1 .6-2.8 .9 2.1-.1"/><path color="#0bacbd" d="M559.7 47.5l2.8-1.7-2.2-1.9-2.7 .9"/><path color="#09abbf" d="M495.4 46.6l-2.7 0 2.1 .1 2.7 .4"/><path color="#1db3af" d="M505.2 44.7l2.1 2.1 2.8-.4-2.1-.8"/><path color="#3046bf" d="M464.8 53.4l2.7-.4-2.1-.8-2.8 .1"/><path color="#069fce" d="M540.1 48.1l-2.8 1.7 2.2-.8 2.7-.7"/><path color="#0f8fd2" d="M534.6 51.5l2.7-1.7-2.1-1.7-2.8 1.1"/><path color="#1eb3ae" d="M584.8 45.1l-2.1-.2-2.8-.6 2.1-.9"/><path color="#1ab2b1" d="M524.8 46.3l2.8 .3-2.2-.9-2.7 .7"/><path color="#2cb7a5" d="M450.7 42.8l-2.7 .6 2.1 .9 2.8-.6"/><path color="#06a5c8" d="M480.1 47.5l-2.1-.3-2.8 1.9 2.1-.8"/><path color="#06a6c7" d="M584.8 45.1l2.1 1.3 2.8-.7-2.1-1.1"/><path color="#1ab2b1" d="M549.9 44l-2.1 1-2.8 1.7 2.1-.5"/><path color="#0cadbc" d="M489.9 46.6l2.8 0-2.2-.4-2.7 .3"/><path color="#1ab2b1" d="M515 45.5l-2.1 .5-2.8 .4 2.1 .9"/><path color="#29b6a7" d="M575 45.8l-2.8 1.1 2.2-.6 2.7-2.6"/><path color="#09abbf" d="M569.5 48.1l2.7-1.2-2.1-1.2-2.8 .4"/><path color="#06a6c7" d="M480.1 47.5l2.1 .9 2.8-1-2.1-.4"/><path color="#06a6c7" d="M594.6 46.1l-2.1-1-2.8 .6 2.1 1.2"/><path color="#1cb3af" d="M515 45.5l2.1 2.1 2.8-.6-2.1-1"/><path color="#33b8a1" d="M549.9 44l2.1 1.7 2.8-.4-2.1-2.2"/><path color="#0badbd" d="M559.7 47.5l-2.1-2.7-2.8 .5 2.1 2.1"/><path color="#0aacbd" d="M455 44.6l2.8 3.3-2.2-.9-2.7-3.3"/><path color="#06a7c5" d="M559.7 47.5l2.1 1.5 2.8-1.5-2.1-1.7"/><path color="#1fb4ad" d="M505.2 44.7l-2.8 1.4 2.2 1.7 2.7-1"/><path color="#0f90d2" d="M534.6 51.5l-2.2-2.3-2.7-.2 2.1 2.5"/><path color="#19b2b1" d="M524.8 46.3l-2.1 .1-2.8 .6 2.1 1"/><path color="#0badbc" d="M499.7 47.6l2.7-1.5-2.1 .1-2.8 .9"/><path color="#14b0b5" d="M524.8 46.3l2.1 2.6 2.8 .1-2.1-2.4"/><path color="#2c4ac6" d="M464.8 53.4l2.1 .9 2.8-1.7-2.2 .4"/><path color="#046ce0" d="M464.8 53.4l-2.2-1.1-2.7-3 2.1 1.4"/><path color="#0aacbe" d="M489.9 46.6l-2.1-.1-2.8 .9 2.1 .5"/><path color="#07aac2" d="M569.5 48.1l-2.2-2-2.7 1.4 2.1 1.7"/><path color="#0a96d1" d="M534.6 51.5l2.1-1.9 2.8-.6-2.2 .8"/><path color="#20b4ad" d="M584.8 45.1l-2.8-1.7 2.1 2.2 2.8 .8"/><path color="#07a9c2" d="M544.4 48.4l2.7-2.2-2.1 .5-2.8 1.6"/><path color="#06a7c5" d="M480.1 47.5l-2.8 .8 2.1 1 2.8-.9"/><path color="#1bb2b0" d="M515 45.5l-2.8 1.8 2.1 1.5 2.8-1.2"/><path color="#25b5aa" d="M549.9 44l-2.8 2.2 2.1 1.5 2.8-2"/><path color="#06a0cd" d="M474.6 49l2.7-.7-2.1 .8-2.8 1.8"/><path color="#16b1b3" d="M489.9 46.6l2.1-.4 2.8 .5-2.1-.1"/><path color="#0eaeba" d="M509.5 49l2.7-1.7-2.1-.9-2.8 .4"/><path color="#08aac1" d="M569.5 48.1l2.1 .8 2.8-2.6-2.2 .6"/><path color="#17b1b3" d="M445.2 44l2.1 1 2.8-.7-2.1-.9"/><path color="#06a7c5" d="M559.7 47.5l-2.8-.1 2.1 1.9 2.8-.3"/><path color="#06a5c8" d="M594.6 46.1l-2.8 .8 2.1 1.2 2.8-.8"/><path color="#08abc0" d="M455 44.6l2.1 1.7 2.8 3-2.1-1.4"/><path color="#0dadbb" d="M499.7 47.6l-2.2-.5-2.7-.4 2.1 0"/><path color="#2cb7a5" d="M455 44.6l-2.1-.9-2.8 .6 2.1 1"/><path color="#15b0b5" d="M524.8 46.3l-2.8 1.7 2.1 2 2.8-1.1"/><path color="#06a6c7" d="M589 47.7l2.8-.8-2.1-1.2-2.8 .7"/><path color="#0b96d1" d="M534.6 51.5l-2.8 0 2.1-.9 2.8-1"/><path color="#a4be6b" d="M579.3 41.7l2.7 1.7-2.1 .9-2.8-.6"/><path color="#0badbc" d="M499.7 47.6l2.1 1.1 2.8-.9-2.2-1.7"/><path color="#07a9c3" d="M544.4 48.4l-2.2-.1-2.7 .7 2.1-.9"/><path color="#0266e1" d="M464.8 53.4l-2.8-2.7 2.1 2.5 2.8 1.1"/><path color="#0faeb9" d="M519.2 49.7l2.8-1.7-2.1-1-2.8 .6"/><path color="#118cd2" d="M474.6 49l-2.2 1.9-2.7 1.7 2.1-.5"/><path color="#06a6c7" d="M569.5 48.1l-2.8 1.1 2.1 .9 2.8-1.2"/><path color="#1fb4ad" d="M554.1 47.3l2.8 .1-2.1-2.1-2.8 .4"/><path color="#09abbf" d="M509.5 49l-2.2-2.2-2.7 1 2.1 1.6"/><path color="#15b1b4" d="M489.9 46.6l-2.8 1.3 2.1-.7 2.8-1"/><path color="#06a6c6" d="M484.3 49.2l2.8-1.3-2.1-.5-2.8 1"/><path color="#17b1b3" d="M445.2 44l-2.8 .1 2.1 1 2.8-.1"/><path color="#08aac1" d="M544.4 48.4l2.1 1.4 2.7-2.1-2.1-1.5"/><path color="#06a5c8" d="M563.9 50.4l2.8-1.2-2.1-1.7-2.8 1.5"/><path color="#06a1cc" d="M529 51.5l2.8 0-2.1-2.5-2.8-.1"/><path color="#09abbf" d="M509.5 49l2.1 1 2.7-1.2-2.1-1.5"/><path color="#08aac1" d="M474.6 49l2.1 1.2 2.7-.9-2.1-1"/><path color="#a3be6c" d="M579.3 41.7l-2.2 2-2.7 2.6 2.1-.6"/><path color="#09abbe" d="M589 47.7l-2.1-1.3-2.8-.8 2.2 2.2"/><path color="#09acbe" d="M519.2 49.7l-2.1-2.1-2.8 1.2 2.2 1.6"/><path color="#26b5a9" d="M455 44.6l-2.8 .7 2.1 1.8 2.8-.8"/><path color="#0eaeba" d="M499.7 47.6l-2.8-.9 2.1 1.2 2.8 .8"/><path color="#06a5c8" d="M589 47.7l2.2 1.3 2.7-.9-2.1-1.2"/><path color="#0364e1" d="M469 55.2l2.8-3.1-2.1 .5-2.8 1.7"/><path color="#1cb3af" d="M554.1 47.3l-2.1-1.6-2.8 2 2.2 1.5"/><path color="#07aac2" d="M519.2 49.7l2.2 1.4 2.7-1.1-2.1-2"/><path color="#aabe69" d="M579.3 41.7l2.1 3.1 2.7 .8-2.1-2.2"/><path color="#06a4ca" d="M484.3 49.2l-2.1-.8-2.8 .9 2.2 1"/><path color="#11afb8" d="M554.1 47.3l2.2 2.4 2.7-.4-2.1-1.9"/><path color="#07aac2" d="M544.4 48.4l-2.8-.3 2.1 1.8 2.8-.1"/><path color="#06a4c9" d="M563.9 50.4l-2.1-1.4-2.8 .3 2.2 1.9"/><path color="#17b1b3" d="M449.4 45.9l2.8-.6-2.1-1-2.8 .7"/><path color="#06a8c5" d="M509.5 49l-2.8 .4 2.1 1.2 2.8-.6"/><path color="#06a4c9" d="M598.8 48.5l-2.1-1.2-2.8 .8 2.2 1.3"/><path color="#06a6c7" d="M529 51.5l-2.1-2.6-2.8 1.1 2.2 2"/><path color="#079cd0" d="M474.6 49l-2.8 3.1 2.1 1.1 2.8-3"/><path color="#06a7c6" d="M459.2 48l2.8 2.7-2.1-1.4-2.8-3"/><path color="#1bb2b1" d="M573.7 49.6l2.8-3.9-2.1 .6-2.8 2.6"/><path color="#06a4c9" d="M563.9 50.4l2.1 1 2.8-1.3-2.1-.9"/><path color="#069ece" d="M529 51.5l2.2 .1 2.7-1-2.1 .9"/><path color="#27b5a8" d="M494.1 45.9l2.8 .8-2.1 0-2.8-.5"/><path color="#09acbe" d="M484.3 49.2l2.2-1 2.7-1-2.1 .7"/><path color="#11afb8" d="M538.8 47.8l2.8 .3-2.1 .9-2.8 .6"/><path color="#07a9c2" d="M503.9 49.8l2.8-.4-2.1-1.6-2.8 .9"/><path color="#06a8c4" d="M589 47.7l-2.7 .1 2.1 1.7 2.8-.5"/><path color="#2a4cc9" d="M469 55.2l-2.1-.9-2.8-1.1 2.1 2.5"/><path color="#06a7c5" d="M519.2 49.7l-2.7 .7 2.1 1.1 2.8-.4"/><path color="#a7be6a" d="M579.3 41.7l-2.8 4 2.1 2.1 2.8-3"/><path color="#2cb7a5" d="M439.7 44.3l2.1 1 2.7-.2-2.1-1"/><path color="#10afb8" d="M554.1 47.3l-2.7 1.9 2.1 1.6 2.8-1.1"/><path color="#06a4ca" d="M573.7 49.6l-2.1-.7-2.8 1.2 2.1 .9"/><path color="#06a8c4" d="M548.6 51.1l2.8-1.9-2.2-1.5-2.7 2.1"/><path color="#0268e1" d="M469 55.2l2.1 .9 2.8-2.9-2.1-1.1"/><path color="#17b1b3" d="M449.4 45.9l-2.1-.9-2.8 .1 2.2 1"/><path color="#06a4ca" d="M563.9 50.4l-2.7 .8 2.1 .8 2.7-.6"/><path color="#07aac2" d="M513.7 51l2.8-.6-2.2-1.6-2.7 1.2"/><path color="#0c93d2" d="M459.2 48l2.2 4 2.7 1.2-2.1-2.5"/><path color="#12b0b6" d="M449.4 45.9l2.2 1.9 2.7-.7-2.1-1.8"/><path color="#06a8c4" d="M484.3 49.2l-2.7 1.1 2.1-.4 2.8-1.7"/><path color="#06a2cb" d="M529 51.5l-2.7 .5 2.1 .2 2.8-.6"/><path color="#06a4c9" d="M598.8 48.5l-2.7 .9 2.1 .8 2.8-1"/><path color="#3bb99c" d="M583.5 48l2.8-.2-2.2-2.2-2.7-.8"/><path color="#06a4c9" d="M478.8 51.4l2.8-1.1-2.2-1-2.7 .9"/><path color="#12b0b7" d="M538.8 47.8l-2.1 1.8-2.8 1 2.1-.9"/><path color="#19b2b2" d="M573.7 49.6l2.1 1.2 2.8-3-2.1-2.1"/><path color="#19b2b2" d="M459.2 48l-2.1-1.7-2.8 .8 2.2 1.7"/><path color="#33b8a0" d="M494.1 45.9l-2.1 .3-2.8 1 2.2-.7"/><path color="#06a7c5" d="M558.4 52l2.8-.8-2.2-1.9-2.7 .4"/><path color="#06a4c9" d="M593.3 50.3l2.8-.9-2.2-1.3-2.7 .9"/><path color="#25b5a9" d="M439.7 44.3l-2.8 2.4 2.1 .9 2.8-2.3"/><path color="#0eaeba" d="M503.9 49.8l-2.1-1.1-2.8-.8 2.1 1.1"/><path color="#30b7a3" d="M494.1 45.9l2.1 1.2 2.8 .8-2.1-1.2"/><path color="#06a3cb" d="M523.5 52.5l2.8-.5-2.2-2-2.7 1.1"/><path color="#06a8c4" d="M503.9 49.8l2.1 1.5 2.8-.7-2.1-1.2"/><path color="#3045bd" d="M469 55.2l-2.8 .5 2.2 .9 2.7-.5"/><path color="#1eb3ae" d="M538.8 47.8l2.1 2.3 2.8-.2-2.1-1.8"/><path color="#06a5c8" d="M548.6 51.1l-2.1-1.3-2.8 .1 2.1 1.8"/><path color="#06a8c4" d="M513.7 51l-2.1-1-2.8 .6 2.1 1.3"/><path color="#0c94d2" d="M478.8 51.4l-2.1-1.2-2.8 3 2.1 1"/><path color="#06a7c6" d="M548.6 51.1l2.1 .9 2.8-1.2-2.1-1.6"/><path color="#06a2cb" d="M573.7 49.6l-2.8 1.4 2.2 .8 2.7-1"/><path color="#10afb8" d="M449.4 45.9l-2.7 .2 2.1 2.4 2.8-.7"/><path color="#38b99e" d="M583.5 48l-2.1-3.2-2.8 3 2.1 2.2"/><path color="#06a3cb" d="M568.2 52.4l2.7-1.4-2.1-.9-2.8 1.3"/><path color="#08aac1" d="M513.7 51l2.1 .8 2.8-.3-2.1-1.1"/><path color="#0eaeba" d="M583.5 48l2.1 2.1 2.8-.6-2.1-1.7"/><path color="#0268e1" d="M463.5 56.1l2.7-.4-2.1-2.5-2.7-1.2"/><path color="#06a5c8" d="M459.2 48l-2.7 .8 2.1 2.8 2.8 .4"/><path color="#06a7c5" d="M558.4 52l-2.1-2.3-2.8 1.1 2.1 1.6"/><path color="#06a5c8" d="M593.3 50.3l-2.1-1.3-2.8 .5 2.1 1.7"/><path color="#08abc0" d="M533.3 51.7l2.7-2-2.1 .9-2.7 1"/><path color="#06a5c8" d="M523.5 52.5l-2.1-1.4-2.8 .4 2.1 1"/><path color="#06a4ca" d="M478.8 51.4l2.1 .1 2.8-1.6-2.1 .4"/><path color="#06a4c9" d="M558.4 52l2.1 .7 2.8-.7-2.1-.8"/><path color="#08aac0" d="M434.1 49l2.1 1 2.8-2.4-2.1-.9"/><path color="#20b4ad" d="M538.8 47.8l-2.8 1.9 2.2 1.8 2.7-1.4"/><path color="#3dba9b" d="M494.1 45.9l-2.7 .6 2.1 1.9 2.7-1.3"/><path color="#0aacbd" d="M503.9 49.8l-2.8-.8 2.2 2.1 2.7 .2"/><path color="#2cb7a5" d="M443.9 46.3l2.8-.2-2.2-1-2.7 .2"/><path color="#06a4c9" d="M593.3 50.3l2.1 .8 2.8-.9-2.1-.8"/><path color="#06a3ca" d="M523.5 52.5l2.1 .4 2.8-.7-2.1-.2"/><path color="#09acbe" d="M453.7 49.7l2.8-.9-2.2-1.7-2.7 .7"/><path color="#2cb7a5" d="M488.6 47.1l2.8-.6-2.2 .7-2.7 1"/><path color="#06a5c8" d="M548.6 51.1l-2.8 .6 2.2 .2 2.7 .1"/><path color="#0363e1" d="M473.3 57l2.7-2.8-2.1-1-2.8 2.9"/><path color="#06a4ca" d="M568.2 52.4l-2.2-1-2.7 .6 2.1 .8"/><path color="#0dadbb" d="M583.5 48l-2.8 2 2.2 1.5 2.7-1.4"/><path color="#07aac2" d="M513.7 51l-2.8 .9 2.2 .9 2.7-1"/><path color="#06a8c3" d="M578 52.1l2.7-2.1-2.1-2.2-2.8 3"/><path color="#06a6c6" d="M603.1 50l-2.1-.8-2.8 1 2.1 .8"/><path color="#2f47c0" d="M463.5 56.1l2.1 .9 2.8-.4-2.2-.9"/><path color="#0c94d2" d="M478.8 51.4l-2.8 2.8 2.2-.7 2.7-2"/><path color="#06a6c7" d="M434.1 49l-2.8 1.3 2.2 1 2.7-1.3"/><path color="#09abbe" d="M543.1 52.3l2.7-.6-2.1-1.8-2.8 .2"/><path color="#06a3ca" d="M568.2 52.4l2.1 .5 2.8-1.1-2.2-.8"/><path color="#06a8c4" d="M533.3 51.7l-2.1-.1-2.8 .6 2.1 .3"/><path color="#117ad9" d="M463.5 56.1l-2.1-4.1-2.8-.4 2.1 2.7"/><path color="#06a6c7" d="M508.2 52.7l2.7-.8-2.1-1.3-2.8 .7"/><path color="#25b5a9" d="M443.9 46.3l-2.1-1-2.8 2.3 2.1 1"/><path color="#31b8a2" d="M498.4 48.3l2.7 .7-2.1-1.1-2.8-.8"/><path color="#06a5c8" d="M558.4 52l-2.8 .4 2.1 .7 2.8-.4"/><path color="#06a4c9" d="M593.3 50.3l-2.8 .9 2.1 1.1 2.8-1.2"/><path color="#3144bb" d="M473.3 57l-2.2-.9-2.7 .5 2.1 .9"/><path color="#1db3af" d="M488.6 47.1l-2.1 1.1-2.8 1.7 2.1-.5"/><path color="#1ab2b1" d="M443.9 46.3l2.1 2.9 2.8-.7-2.1-2.4"/><path color="#06a7c5" d="M453.7 49.7l-2.1-1.9-2.8 .7 2.1 2.5"/><path color="#06a6c7" d="M523.5 52.5l-2.8 0 2.1 .8 2.8-.4"/><path color="#0bacbd" d="M533.3 51.7l2.1 1.3 2.8-1.5-2.2-1.8"/><path color="#06a8c4" d="M453.7 49.7l2.1 1.4 2.8 .5-2.1-2.8"/><path color="#06a7c5" d="M587.7 52.2l2.8-1-2.1-1.7-2.8 .6"/><path color="#06a3cb" d="M578 52.1l-2.2-1.3-2.7 1 2.1 .9"/><path color="#06a5c8" d="M552.8 52.8l2.8-.4-2.1-1.6-2.8 1.2"/><path color="#2db7a4" d="M488.6 47.1l2.1 2.6 2.8-1.3-2.1-1.9"/><path color="#0aacbe" d="M543.1 52.3l-2.2-2.2-2.7 1.4 2.1 1.8"/><path color="#09abbf" d="M517.9 52.6l2.8-.1-2.1-1-2.8 .3"/><path color="#0972de" d="M473.3 57l2.1-1.6 2.8-1.9-2.2 .7"/><path color="#06a7c6" d="M578 52.1l2.1 .8 2.8-1.4-2.2-1.5"/><path color="#06a6c7" d="M568.2 52.4l-2.8 .4 2.1 .1 2.8 0"/><path color="#0268e1" d="M463.5 56.1l-2.8-1.8 2.1 1.1 2.8 1.6"/><path color="#06a7c6" d="M508.2 52.7l-2.2-1.4-2.7-.2 2.1 2"/><path color="#2fb7a3" d="M498.4 48.3l-2.2-1.2-2.7 1.3 2.1 1.9"/><path color="#09acbe" d="M543.1 52.3l2.1-.5 2.8 .1-2.2-.2"/><path color="#14b0b5" d="M443.9 46.3l-2.8 2.3 2.2 2.2 2.7-1.6"/><path color="#08aac0" d="M438.4 51l2.7-2.4-2.1-1-2.8 2.4"/><path color="#09abbf" d="M603.1 50l-2.8 1 2.1-.6 2.8-1"/><path color="#23b4ab" d="M498.4 48.3l2.1 2.6 2.8 .2-2.2-2.1"/><path color="#07a9c2" d="M533.3 51.7l-2.8 .8 2.1 1.2 2.8-.7"/><path color="#06a7c6" d="M562.6 53.3l2.8-.5-2.1-.8-2.8 .7"/><path color="#06a5c9" d="M508.2 52.7l2.1 1.1 2.8-1-2.2-.9"/><path color="#06a6c6" d="M428.6 51.6l2.1 1 2.8-1.3-2.2-1"/><path color="#06a6c6" d="M597.5 52l2.8-1-2.1-.8-2.8 .9"/><path color="#06a8c4" d="M587.7 52.2l-2.1-2.1-2.7 1.4 2.1 1.4"/><path color="#06a5c8" d="M453.7 49.7l-2.8 1.3 2.1 1.1 2.8-1"/><path color="#07a9c2" d="M483 51.6l2.8-2.2-2.1 .5-2.8 1.6"/><path color="#07a9c3" d="M527.7 53.3l2.8-.8-2.1-.3-2.8 .7"/><path color="#07a9c2" d="M552.8 52.8l-2.1-.8-2.7-.1 2.1 .1"/><path color="#1eb3ae" d="M488.6 47.1l-2.8 2.3 2.1 1.1 2.8-.8"/><path color="#06a3ca" d="M587.7 52.2l2.2 1.2 2.7-1.1-2.1-1.1"/><path color="#0363e1" d="M473.3 57l-2.8 .5 2.1-1.5 2.8-.6"/><path color="#06a4c9" d="M578 52.1l-2.8 .6 2.1 1 2.8-.8"/><path color="#06a6c7" d="M552.8 52.8l2.2 .7 2.7-.4-2.1-.7"/><path color="#06a4c9" d="M448.1 52.2l2.8-1.2-2.1-2.5-2.8 .7"/><path color="#09abbf" d="M517.9 52.6l-2.1-.8-2.7 1 2.1 .9"/><path color="#2f47c1" d="M467.7 58l2.8-.5-2.1-.9-2.8 .4"/><path color="#06a6c7" d="M438.4 51l-2.2-1-2.7 1.3 2.1 .9"/><path color="#0aacbd" d="M543.1 52.3l-2.8 1 2.1 0 2.8-1.5"/><path color="#0aacbe" d="M517.9 52.6l2.2 1.1 2.7-.4-2.1-.8"/><path color="#06a6c7" d="M572.4 53.4l2.8-.7-2.1-.9-2.8 1.1"/><path color="#06a7c6" d="M428.6 51.6l-2.8 1.2 2.1 .9 2.8-1.1"/><path color="#1fb3ae" d="M498.4 48.3l-2.8 2 2.1 2 2.8-1.4"/><path color="#06a4c9" d="M508.2 52.7l-2.8 .4 2.1 1.2 2.8-.5"/><path color="#06a5c8" d="M597.5 52l-2.1-.9-2.8 1.2 2.2 1"/><path color="#06a1cc" d="M483 51.6l-2.1-.1-2.7 2 2.1-.8"/><path color="#07a9c3" d="M562.6 53.3l-2.1-.6-2.8 .4 2.2 .6"/><path color="#079dcf" d="M457.9 52.6l2.8 1.7-2.1-2.7-2.8-.5"/><path color="#06a8c5" d="M537.5 54.2l2.8-.9-2.1-1.8-2.8 1.5"/><path color="#07a9c3" d="M438.4 51l2.1 1.4 2.8-1.6-2.2-2.2"/><path color="#0cadbb" d="M492.8 52.3l2.8-2-2.1-1.9-2.8 1.3"/><path color="#07aac2" d="M527.7 53.3l-2.1-.4-2.8 .4 2.2 .7"/><path color="#06a5c9" d="M587.7 52.2l-2.7 .7 2.1 1.3 2.8-.8"/><path color="#09abbf" d="M562.6 53.3l2.2-.4 2.7 0-2.1-.1"/><path color="#06a3ca" d="M448.1 52.2l-2.1-3-2.7 1.6 2.1 2.2"/><path color="#09abbf" d="M597.5 52l2.2-.5 2.7-1.1-2.1 .6"/><path color="#09acbe" d="M502.6 53.6l2.8-.5-2.1-2-2.8-.2"/><path color="#08aac1" d="M527.7 53.3l2.2 1.2 2.7-.8-2.1-1.2"/><path color="#0dadbb" d="M483 51.6l2.2-.2 2.7-.9-2.1-1.1"/><path color="#069ece" d="M448.1 52.2l2.2 .8 2.7-.9-2.1-1.1"/><path color="#09acbe" d="M552.8 52.8l-2.7-.8 2.1 .8 2.8 .7"/><path color="#06a8c4" d="M582.2 53.7l2.8-.8-2.1-1.4-2.8 1.4"/><path color="#09acbe" d="M517.9 52.6l-2.7 1.1 2.1 1 2.8-1"/><path color="#0267e1" d="M467.7 58l-2.1-1-2.8-1.6 2.1 1"/><path color="#06a4c9" d="M438.4 51l-2.8 1.2 2.1 1.5 2.8-1.3"/><path color="#09abbf" d="M572.4 53.4l-2.1-.5-2.8 0 2.1 0"/><path color="#06a7c6" d="M537.5 54.2l-2.1-1.2-2.8 .7 2.1 1.2"/><path color="#09abbf" d="M492.8 52.3l-2.1-2.6-2.8 .8 2.2 1.2"/><path color="#06a4c9" d="M512.4 54.9l2.8-1.2-2.1-.9-2.8 1"/><path color="#06a6c6" d="M432.8 53.5l2.8-1.3-2.1-.9-2.8 1.3"/><path color="#06a7c6" d="M457.9 52.6l-2.1-1.5-2.8 1 2.2 1"/><path color="#06a6c7" d="M572.4 53.4l2.1 1.1 2.8-.8-2.1-1"/><path color="#0265e1" d="M467.7 58l2.1-1.5 2.8-.5-2.1 1.5"/><path color="#0998d1" d="M457.9 52.6l2.2 1.1 2.7 1.7-2.1-1.1"/><path color="#06a8c4" d="M492.8 52.3l2.2 1.4 2.7-1.4-2.1-2"/><path color="#07aac1" d="M597.5 52l-2.7 1.3 2.1 .1 2.8-1.9"/><path color="#06a7c6" d="M537.5 54.2l2.1 .6 2.8-1.5-2.1 0"/><path color="#20b4ad" d="M547.3 51.2l2.8 .8-2.1-.1-2.8-.1"/><path color="#0cadbc" d="M562.6 53.3l-2.7 .4 2.1 .1 2.8-.9"/><path color="#06a7c6" d="M423 54l2.2 .8 2.7-1.1-2.1-.9"/><path color="#06a2cb" d="M592 54.6l2.8-1.3-2.2-1-2.7 1.1"/><path color="#0d92d2" d="M477.5 53.8l2.8-1.1-2.1 .8-2.8 1.9"/><path color="#07a9c3" d="M483 51.6l-2.7 1.1 2.1-.6 2.8-.7"/><path color="#23b5ab" d="M607.3 48.7l-2.1 .7-2.8 1 2.1-.5"/><path color="#0aacbe" d="M502.6 53.6l-2.1-2.7-2.8 1.4 2.1 2"/><path color="#08aac0" d="M527.7 53.3l-2.7 .7 2.1 1.2 2.8-.7"/><path color="#079dcf" d="M448.1 52.2l-2.7 .8 2.1 .8 2.8-.8"/><path color="#06a7c6" d="M582.2 53.7l-2.1-.8-2.8 .8 2.1 1"/><path color="#06a7c6" d="M502.6 53.6l2.1 1.2 2.8-.5-2.1-1.2"/><path color="#07aac2" d="M557.1 54.1l2.8-.4-2.2-.6-2.7 .4"/><path color="#06a7c5" d="M582.2 53.7l2.1 1.3 2.8-.8-2.1-1.3"/><path color="#09acbe" d="M522.2 54.7l2.8-.7-2.2-.7-2.7 .4"/><path color="#06a2cb" d="M442.6 53.8l2.8-.8-2.1-2.2-2.8 1.6"/><path color="#06a2cb" d="M512.4 54.9l-2.1-1.1-2.8 .5 2.1 1.2"/><path color="#06a7c6" d="M432.8 53.5l-2.1-.9-2.8 1.1 2.1 .9"/><path color="#06a7c6" d="M492.8 52.3l-2.7-.6 2.1 2 2.8 0"/><path color="#09abbf" d="M572.4 53.4l-2.8-.5 2.2 1.1 2.7 .5"/><path color="#06a6c7" d="M537.5 54.2l-2.8 .7 2.2 .3 2.7-.4"/><path color="#0d75dc" d="M467.7 58l-2.8-1.6 2.2-.4 2.7 .5"/><path color="#06a5c8" d="M512.4 54.9l2.1 .8 2.8-1-2.1-1"/><path color="#06a8c4" d="M423 54l-2.7 .8 2.1 .8 2.8-.8"/><path color="#108ed2" d="M477.5 53.8l-2.1 1.6-2.8 .6 2.1-1.6"/><path color="#06a1cc" d="M592 54.6l-2.1-1.2-2.8 .8 2.1 1.3"/><path color="#21b4ac" d="M547.3 51.2l-2.1 .6-2.8 1.5 2.1 0"/><path color="#06a3cb" d="M432.8 53.5l2.1 1.5 2.8-1.3-2.1-1.5"/><path color="#06a7c6" d="M457.9 52.6l-2.7 .5 2.1 1.1 2.8-.5"/><path color="#06a8c4" d="M532 55.6l2.7-.7-2.1-1.2-2.7 .8"/><path color="#06a7c5" d="M502.6 53.6l-2.8 .7 2.2 1.3 2.7-.8"/><path color="#2db7a4" d="M547.3 51.2l2.1 1 2.8 .6-2.1-.8"/><path color="#06a4c9" d="M592 54.6l2.1 .6 2.8-1.8-2.1-.1"/><path color="#24b5aa" d="M607.3 48.7l-2.8 1.2 2.2 2.5 2.7-1"/><path color="#06a3cb" d="M452.4 53.7l2.8-.6-2.2-1-2.7 .9"/><path color="#0eaeba" d="M557.1 54.1l-2.1-.6-2.8-.7 2.1 .8"/><path color="#06a0cd" d="M442.6 53.8l-2.1-1.4-2.8 1.3 2.1 1.5"/><path color="#1cb3b0" d="M566.9 52.4l2.7 .5-2.1 0-2.7 0"/><path color="#06a7c6" d="M582.2 53.7l-2.8 1 2.2 1.1 2.7-.8"/><path color="#08abc0" d="M522.2 54.7l-2.1-1-2.8 1 2.1 .9"/><path color="#15b0b5" d="M487.3 51.2l2.8 .5-2.2-1.2-2.7 .9"/><path color="#23b5ab" d="M601.8 51l2.7-1.1-2.1 .5-2.7 1.1"/><path color="#06a7c5" d="M477.5 53.8l2.1-.9 2.8-.8-2.1 .6"/><path color="#09abbf" d="M557.1 54.1l2.1 .7 2.8-1-2.1-.1"/><path color="#06a7c6" d="M497.1 55l2.7-.7-2.1-2-2.7 1.4"/><path color="#06a1cd" d="M442.6 53.8l2.1 .8 2.8-.8-2.1-.8"/><path color="#08aac0" d="M522.2 54.7l2.1 1.3 2.8-.8-2.1-1.2"/><path color="#06a4ca" d="M576.7 55.7l2.7-1-2.1-1-2.8 .8"/><path color="#0a96d1" d="M462.2 54.8l2.7 1.6-2.1-1-2.7-1.7"/><path color="#06a2cb" d="M512.4 54.9l-2.8 .6 2.2 .9 2.7-.7"/><path color="#06a4c9" d="M432.8 53.5l-2.8 1.1 2.2 .7 2.7-.3"/><path color="#06a7c6" d="M427.3 55.7l2.7-1.1-2.1-.9-2.7 1.1"/><path color="#06a1cc" d="M592 54.6l-2.8 .9 2.1 1.5 2.8-1.8"/><path color="#08aac1" d="M541.8 55.4l2.7-2.1-2.1 0-2.8 1.5"/><path color="#06a8c4" d="M532 55.6l-2.1-1.1-2.8 .7 2.1 1.2"/><path color="#06a5c8" d="M506.9 56.1l2.7-.6-2.1-1.2-2.8 .5"/><path color="#2cb7a5" d="M547.3 51.2l-2.8 2.1 2.2 1.1 2.7-2.2"/><path color="#06a1cc" d="M452.4 53.7l-2.1-.7-2.8 .8 2.1 .8"/><path color="#1ab2b1" d="M601.8 51l-2.1 .5-2.8 1.9 2.1 0"/><path color="#1eb3ae" d="M566.9 52.4l-2.1 .5-2.8 .9 2.1 .2"/><path color="#06a3ca" d="M586.4 56.4l2.8-.9-2.1-1.3-2.8 .8"/><path color="#07aac1" d="M532 55.6l2.1 0 2.8-.4-2.2-.3"/><path color="#08aac0" d="M417.5 55.5l2.1 .9 2.8-.8-2.1-.8"/><path color="#06a6c6" d="M477.5 53.8l-2.8 .6 2.2-.1 2.7-1.4"/><path color="#1fb4ad" d="M487.3 51.2l-2.1 .2-2.8 .7 2.1-.5"/><path color="#0e91d2" d="M472 55l2.7-.6-2.1 1.6-2.8 .5"/><path color="#06a4c9" d="M452.4 53.7l2.1 1 2.8-.5-2.1-1.1"/><path color="#069fce" d="M442.6 53.8l-2.8 1.4 2.2 .5 2.7-1.1"/><path color="#06a7c6" d="M497.1 55l-2.1-1.3-2.8 0 2.1 2"/><path color="#07a9c2" d="M522.2 54.7l-2.8 .9 2.1 1.3 2.8-.9"/><path color="#10afb8" d="M557.1 54.1l-2.8-.5 2.1 .9 2.8 .3"/><path color="#14b0b5" d="M487.3 51.2l2.1 2.5 2.8 0-2.1-2"/><path color="#22b4ac" d="M566.9 52.4l2.1 1.1 2.8 .5-2.2-1.1"/><path color="#06a7c6" d="M576.7 55.7l-2.2-1.2-2.7-.5 2.1 1.2"/><path color="#24b5aa" d="M601.8 51l2.1 2.4 2.8-1-2.2-2.5"/><path color="#06a6c7" d="M497.1 55l2.1 1.4 2.8-.8-2.2-1.3"/><path color="#0998d1" d="M437.1 56.5l2.7-1.3-2.1-1.5-2.8 1.3"/><path color="#0bacbd" d="M611.6 54l-2.2-2.6-2.7 1 2.1 2.5"/><path color="#06a6c7" d="M462.2 54.8l-2.1-1.1-2.8 .5 2.1 1"/><path color="#06a3cb" d="M576.7 55.7l2.1 .9 2.8-.8-2.2-1.1"/><path color="#06a6c6" d="M516.6 56.5l2.8-.9-2.1-.9-2.8 1"/><path color="#06a8c4" d="M427.3 55.7l-2.1-.9-2.8 .8 2.1 .8"/><path color="#06a9c3" d="M541.8 55.4l-2.2-.6-2.7 .4 2.1 .3"/><path color="#0899d1" d="M462.2 54.8l2.1 .7 2.8 .5-2.2 .4"/><path color="#06a5c8" d="M506.9 56.1l-2.2-1.3-2.7 .8 2.1 1.3"/><path color="#2fb7a3" d="M551.5 53.2l2.8 .4-2.1-.8-2.8-.6"/><path color="#07a9c3" d="M427.3 55.7l2.1-.1 2.8-.3-2.2-.7"/><path color="#06a4ca" d="M586.4 56.4l-2.1-1.4-2.7 .8 2.1 1.1"/><path color="#08aac1" d="M532 55.6l-2.8 .8 2.1 .5 2.8-1.3"/><path color="#08aac1" d="M541.8 55.4l2.1 1.2 2.8-2.2-2.2-1.1"/><path color="#06a5c8" d="M506.9 56.1l2.1 .9 2.8-.6-2.2-.9"/><path color="#09abbf" d="M596.2 55.9l2.8-2.5-2.1 0-2.8 1.8"/><path color="#10afb8" d="M417.5 55.5l-2.8-.1 2.1 .9 2.8 .1"/><path color="#06a4ca" d="M452.4 53.7l-2.8 .9 2.1 .7 2.8-.6"/><path color="#0a97d1" d="M472 55l-2.2 1.5-2.7-.5 2.1-.4"/><path color="#0899d1" d="M586.4 56.4l2.2 2.3 2.7-1.7-2.1-1.5"/><path color="#1bb2b0" d="M601.8 51l-2.8 2.4 2.1 1.8 2.8-1.8"/><path color="#06a8c4" d="M526.4 57.2l2.8-.8-2.1-1.2-2.8 .8"/><path color="#21b4ac" d="M487.3 51.2l-2.8 .4 2.1 2.7 2.8-.6"/><path color="#06a6c7" d="M497.1 55l-2.8 .7 2.1 1.4 2.8-.7"/><path color="#26b5a9" d="M566.9 52.4l-2.8 1.6 2.1 .2 2.8-.7"/><path color="#079dcf" d="M437.1 56.5l-2.2-1.5-2.7 .3 2.1 .7"/><path color="#0dadbb" d="M561.3 55.5l2.8-1.5-2.1-.2-2.8 1"/><path color="#06a2cb" d="M446.8 55.5l2.8-.9-2.1-.8-2.8 .8"/><path color="#06a5c8" d="M516.6 56.5l-2.1-.8-2.7 .7 2.1 .9"/><path color="#06a6c7" d="M576.7 55.7l-2.8-.5 2.1 .7 2.8 .7"/><path color="#0998d1" d="M437.1 56.5l2.1 .3 2.8-1.1-2.2-.5"/><path color="#06a4c9" d="M472 55l2.1 .7 2.8-1.4-2.2 .1"/><path color="#0aacbd" d="M611.6 54l-2.8 .9 2.1-.3 2.8-.8"/><path color="#22b4ab" d="M481.7 52l2.8-.4-2.1 .5-2.8 .8"/><path color="#06a5c8" d="M462.2 54.8l-2.8 .4 2.1 1 2.8-.7"/><path color="#06a7c6" d="M516.6 56.5l2.2 1.3 2.7-.9-2.1-1.3"/><path color="#069fce" d="M596.2 55.9l-2.1-.7-2.8 1.8 2.2 1.4"/><path color="#06a8c4" d="M541.8 55.4l-2.8 .1 2.1 1.6 2.8-.5"/><path color="#29b6a7" d="M551.5 53.2l-2.1-1-2.7 2.2 2.1 1.1"/><path color="#08aac0" d="M491.5 56.3l2.8-.6-2.1-2-2.8 0"/><path color="#08abc0" d="M427.3 55.7l-2.8 .7 2.1 0 2.8-.8"/><path color="#06a5c8" d="M506.9 56.1l-2.8 .8 2.1 1.1 2.8-1"/><path color="#0bacbd" d="M606 55.8l2.8-.9-2.1-2.5-2.8 1"/><path color="#089ad0" d="M586.4 56.4l-2.7 .5 2.1 1.8 2.8 0"/><path color="#08aac0" d="M421.7 57.2l2.8-.8-2.1-.8-2.8 .8"/><path color="#2db7a5" d="M551.5 53.2l2.2 1 2.7 .3-2.1-.9"/><path color="#06a4c9" d="M456.6 55.7l2.8-.5-2.1-1-2.8 .5"/><path color="#06a7c6" d="M526.4 57.2l-2.1-1.2-2.8 .9 2.2 1.2"/><path color="#0aacbe" d="M596.2 55.9l2.2 1.1 2.7-1.8-2.1-1.8"/><path color="#06a4ca" d="M501.3 57.8l2.8-.9-2.1-1.3-2.8 .8"/><path color="#06a3cb" d="M446.8 55.5l-2.1-.9-2.7 1.1 2.1 .5"/><path color="#16b1b4" d="M571.1 54.6l2.8 .6-2.1-1.2-2.8-.5"/><path color="#0eaeba" d="M561.3 55.5l-2.1-.7-2.8-.3 2.2 .8"/><path color="#13b0b6" d="M536.2 55.5l2.8 0-2.1-.3-2.8 .4"/><path color="#06a6c6" d="M526.4 57.2l2.2 1.1 2.7-1.4-2.1-.5"/><path color="#06a4c9" d="M472 55l-2.8 .6 2.1 .9 2.8-.8"/><path color="#079dcf" d="M437.1 56.5l-2.8-.5 2.1 .9 2.8-.1"/><path color="#06a3cb" d="M580.9 57.4l2.8-.5-2.1-1.1-2.8 .8"/><path color="#19b2b2" d="M481.7 52l-2.1 .9-2.7 1.4 2.1-.1"/><path color="#06a5c8" d="M446.8 55.5l2.2 .4 2.7-.6-2.1-.7"/><path color="#06a6c7" d="M516.6 56.5l-2.7 .8 2.1 1.3 2.8-.8"/><path color="#16b1b4" d="M561.3 55.5l2.2-.5 2.7-.8-2.1-.2"/><path color="#09abbf" d="M606 55.8l-2.1-2.4-2.8 1.8 2.1 1.7"/><path color="#06a4ca" d="M466.4 56.2l2.8-.6-2.1 .4-2.8-.5"/><path color="#1483d5" d="M590.7 61l2.8-2.6-2.2-1.4-2.7 1.7"/><path color="#09abbe" d="M491.5 56.3l-2.1-2.6-2.8 .6 2.2 2.7"/><path color="#2bb6a5" d="M411.9 55.3l2.2 .9 2.7 .1-2.1-.9"/><path color="#06a7c6" d="M491.5 56.3l2.2 1.5 2.7-.7-2.1-1.4"/><path color="#27b5a8" d="M481.7 52l2.2 2.8 2.7-.5-2.1-2.7"/><path color="#07a9c3" d="M546 57.8l2.8-2.3-2.1-1.1-2.8 2.2"/><path color="#06a1cd" d="M596.2 55.9l-2.7 2.5 2.1 .3 2.8-1.7"/><path color="#06a6c6" d="M511.1 58l2.8-.7-2.1-.9-2.8 .6"/><path color="#27b6a8" d="M551.5 53.2l-2.7 2.3 2.1 .7 2.8-2"/><path color="#10afb8" d="M421.7 57.2l-2.1-.8-2.8-.1 2.2 .8"/><path color="#06a6c7" d="M456.6 55.7l-2.1-1-2.8 .6 2.2 .7"/><path color="#0aacbd" d="M606 55.8l2.1-.3 2.8-.9-2.1 .3"/><path color="#06a3ca" d="M501.3 57.8l-2.1-1.4-2.8 .7 2.2 1.5"/><path color="#0aacbe" d="M431.5 55.5l2.8 .5-2.1-.7-2.8 .3"/><path color="#12afb7" d="M536.2 55.5l-2.1 .1-2.8 1.3 2.1 .5"/><path color="#06a5c8" d="M526.4 57.2l-2.7 .9 2.1 1.2 2.8-1"/><path color="#27b5a9" d="M571.1 54.6l-2.1-1.1-2.8 .7 2.1 .3"/><path color="#06a4ca" d="M456.6 55.7l2.2 1.1 2.7-.6-2.1-1"/><path color="#0bacbd" d="M421.7 57.2l2.2 .1 2.7-.9-2.1 0"/><path color="#06a3ca" d="M501.3 57.8l2.1 1.1 2.8-.9-2.1-1.1"/><path color="#16b1b4" d="M571.1 54.6l2.1 .7 2.8 .6-2.1-.7"/><path color="#06a6c7" d="M446.8 55.5l-2.7 .7 2.1 .7 2.8-1"/><path color="#12afb7" d="M536.2 55.5l2.1 2 2.8-.4-2.1-1.6"/><path color="#06a8c3" d="M580.9 57.4l-2.1-.8-2.8-.7 2.1 .7"/><path color="#16b1b4" d="M561.3 55.5l-2.7-.2 2.1 .2 2.8-.5"/><path color="#06a5c8" d="M520.9 59l2.8-.9-2.2-1.2-2.7 .9"/><path color="#1482d5" d="M590.7 61l-2.1-2.3-2.8 0 2.1 1.8"/><path color="#06a2cb" d="M580.9 57.4l2.1 1.3 2.8 0-2.1-1.8"/><path color="#28b6a8" d="M411.9 55.3l-2.7 2.1 2.1 .9 2.8-2.1"/><path color="#06a4c9" d="M546 57.8l-2.1-1.2-2.8 .5 2.1 1.6"/><path color="#07aac1" d="M476.2 56.3l2.8-2.1-2.1 .1-2.8 1.4"/><path color="#1db3af" d="M481.7 52l-2.7 2.2 2.1 2.1 2.8-1.5"/><path color="#06a2cb" d="M441.3 57l2.8-.8-2.1-.5-2.8 1.1"/><path color="#06a6c7" d="M466.4 56.2l-2.1-.7-2.8 .7 2.1 .9"/><path color="#06a7c6" d="M491.5 56.3l-2.7 .7 2.1 1.6 2.8-.8"/><path color="#06a6c6" d="M511.1 58l-2.1-1-2.8 1 2.1 1"/><path color="#22b4ab" d="M615.8 53.5l-2.1 .3-2.8 .8 2.1-.3"/><path color="#0aacbe" d="M606 55.8l-2.8 1.1 2.2-.4 2.7-1"/><path color="#1484d4" d="M590.7 61l2.1-.7 2.8-1.6-2.1-.3"/><path color="#06a6c7" d="M466.4 56.2l2.1 1.1 2.8-.8-2.1-.9"/><path color="#07aac1" d="M546 57.8l2.1 .5 2.8-2.1-2.1-.7"/><path color="#29b6a7" d="M555.8 55.1l2.8 .2-2.2-.8-2.7-.3"/><path color="#16b1b4" d="M431.5 55.5l-2.1 .1-2.8 .8 2.2 0"/><path color="#06a8c5" d="M600.5 58.1l2.7-1.2-2.1-1.7-2.7 1.8"/><path color="#06a7c6" d="M511.1 58l2.1 1.4 2.8-.8-2.1-1.3"/><path color="#06a6c7" d="M456.6 55.7l-2.7 .3 2.1 1.3 2.8-.5"/><path color="#11afb7" d="M421.7 57.2l-2.7-.1 2.1 1.3 2.8-1.1"/><path color="#06a3ca" d="M501.3 57.8l-2.7 .8 2.1 1.1 2.7-.8"/><path color="#0aacbd" d="M486 57.6l2.8-.6-2.2-2.7-2.7 .5"/><path color="#11afb8" d="M536.2 55.5l-2.8 1.9 2.2 1.6 2.7-1.5"/><path color="#0aacbe" d="M431.5 55.5l2.1 1.5 2.8-.1-2.1-.9"/><path color="#06a7c6" d="M530.7 59.4l2.7-2-2.1-.5-2.7 1.4"/><path color="#27b5a8" d="M571.1 54.6l-2.8-.1 2.2 1.7 2.7-.9"/><path color="#06a4c9" d="M520.9 59l-2.1-1.2-2.8 .8 2.1 1.3"/><path color="#06a6c7" d="M476.2 56.3l-2.1-.6-2.8 .8 2.1 .9"/><path color="#06a4c9" d="M441.3 57l-2.1-.2-2.8 .1 2.1 .9"/><path color="#06a5c8" d="M495.8 59.3l2.8-.7-2.2-1.5-2.7 .7"/><path color="#08abc0" d="M451.1 56.4l2.8-.4-2.2-.7-2.7 .6"/><path color="#07a9c3" d="M580.9 57.4l-2.8-.8 2.2 1.9 2.7 .2"/><path color="#06a3ca" d="M520.9 59l2.1 1.2 2.8-.9-2.1-1.2"/><path color="#2bb6a5" d="M416.2 57.1l2.8 0-2.2-.8-2.7-.1"/><path color="#09abbf" d="M406.4 59.5l2.1 .9 2.8-2.1-2.1-.9"/><path color="#06a5c9" d="M546 57.8l-2.8 .9 2.2 .4 2.7-.8"/><path color="#1484d4" d="M590.7 61l-2.8-.5 2.1-.5 2.8 .3"/><path color="#09abbf" d="M476.2 56.3l2.1 1.4 2.8-1.4-2.1-2.1"/><path color="#06a5c8" d="M600.5 58.1l-2.1-1.1-2.8 1.7 2.1 .2"/><path color="#06a6c7" d="M466.4 56.2l-2.8 .9 2.2 1.1 2.7-.9"/><path color="#14b0b5" d="M615.8 53.5l-2.8 .8 2.2 4 2.7-.8"/><path color="#28b6a7" d="M555.8 55.1l-2.1-.9-2.8 2 2.1 .7"/><path color="#06a7c5" d="M441.3 57l2.1 .8 2.8-.9-2.1-.7"/><path color="#06a6c7" d="M511.1 58l-2.8 1 2.2 1.7 2.7-1.3"/><path color="#2eb7a4" d="M565.6 54.4l2.7 .1-2.1-.3-2.7 .8"/><path color="#06a8c3" d="M540.5 59.5l2.7-.8-2.1-1.6-2.8 .4"/><path color="#09acbe" d="M486 57.6l-2.1-2.8-2.8 1.5 2.1 2.1"/><path color="#06a2cb" d="M530.7 59.4l-2.1-1.1-2.8 1 2.1 1.1"/><path color="#06a4ca" d="M460.9 58l2.7-.9-2.1-.9-2.7 .6"/><path color="#06a6c6" d="M486 57.6l2.1 1.7 2.8-.7-2.1-1.6"/><path color="#26b5a9" d="M555.8 55.1l2.1 1 2.8-.6-2.1-.2"/><path color="#06a5c8" d="M505.6 59.9l2.7-.9-2.1-1-2.8 .9"/><path color="#18b2b2" d="M431.5 55.5l-2.7 .9 2.1 .9 2.7-.3"/><path color="#09abbf" d="M600.5 58.1l2.1-.5 2.8-1.1-2.2 .4"/><path color="#22b4ab" d="M610.3 55.2l2.7-.9-2.1 .3-2.8 .9"/><path color="#079cd0" d="M585.2 60l2.7 .5-2.1-1.8-2.8 0"/><path color="#22b4ac" d="M575.4 55.9l2.7 .7-2.1-.7-2.8-.6"/><path color="#06a7c6" d="M530.7 59.4l2.1 1 2.8-1.4-2.2-1.6"/><path color="#18b1b2" d="M426 57.4l2.8-1-2.2 0-2.7 .9"/><path color="#06a4c9" d="M495.8 59.3l-2.1-1.5-2.8 .8 2.1 1.6"/><path color="#0aacbe" d="M451.1 56.4l-2.1-.5-2.8 1 2.1 .6"/><path color="#06a3ca" d="M520.9 59l-2.8 .9 2.1 1 2.8-.7"/><path color="#28b6a8" d="M416.2 57.1l-2.1-.9-2.8 2.1 2.1 .9"/><path color="#08abc0" d="M406.4 59.5l-2.8-.1 2.2 .9 2.7 .1"/><path color="#06a7c6" d="M476.2 56.3l-2.8 1.1 2.2 1.2 2.7-.9"/><path color="#06a5c9" d="M495.8 59.3l2.1 1.2 2.8-.8-2.1-1.1"/><path color="#06a8c5" d="M441.3 57l-2.8 .8 2.2 1.1 2.7-1.1"/><path color="#09abbf" d="M451.1 56.4l2.1 1.3 2.8-.4-2.1-1.3"/><path color="#2fb7a3" d="M565.6 54.4l-2.1 .6-2.8 .5 2.1 .3"/><path color="#1db3af" d="M416.2 57.1l2.1 2.3 2.8-1-2.1-1.3"/><path color="#06a6c7" d="M470.7 58.5l2.7-1.1-2.1-.9-2.8 .8"/><path color="#06a5c8" d="M515.4 60.7l2.7-.8-2.1-1.3-2.8 .8"/><path color="#07a9c3" d="M540.5 59.5l-2.2-2-2.7 1.5 2.1 1.5"/><path color="#0c94d2" d="M620.1 61.5l-2.2-4-2.7 .8 2.1 3.9"/><path color="#06a4ca" d="M460.9 58l-2.1-1.2-2.8 .5 2.1 1.3"/><path color="#07a9c3" d="M600.5 58.1l-2.8 .8 2.1 .9 2.8-2.2"/><path color="#2bb6a6" d="M565.6 54.4l2.1 2.8 2.8-1-2.2-1.7"/><path color="#0cadbc" d="M550.3 58.7l2.7-1.8-2.1-.7-2.8 2.1"/><path color="#25b5aa" d="M555.8 55.1l-2.8 1.8 2.1 .6 2.8-1.4"/><path color="#06a5c8" d="M505.6 59.9l-2.2-1-2.7 .8 2.1 1.1"/><path color="#07a9c2" d="M435.8 58.5l2.7-.7-2.1-.9-2.8 .1"/><path color="#06a6c6" d="M486 57.6l-2.8 .8 2.1 1.4 2.8-.5"/><path color="#24b5aa" d="M610.3 55.2l-2.2 .3-2.7 1 2.1-.4"/><path color="#06a6c7" d="M540.5 59.5l2.1 .5 2.8-.9-2.2-.4"/><path color="#079ecf" d="M594.9 59.7l2.8-.8-2.1-.2-2.8 1.6"/><path color="#06a1cd" d="M530.7 59.4l-2.8 1 2.1 1.4 2.8-1.4"/><path color="#06a4c9" d="M460.9 58l2.1 1.1 2.8-.9-2.2-1.1"/><path color="#11afb7" d="M426 57.4l-2.1-.1-2.8 1.1 2.1 1.2"/><path color="#06a1cd" d="M505.6 59.9l2.1 2 2.8-1.2-2.2-1.7"/><path color="#14b0b5" d="M610.3 55.2l2.1 3.8 2.8-.7-2.2-4"/><path color="#26b5a9" d="M575.4 55.9l-2.2-.6-2.7 .9 2.1 1.7"/><path color="#06a6c7" d="M585.2 60l-2.2-1.3-2.7-.2 2.1 1.9"/><path color="#1ab2b1" d="M575.4 55.9l2.1 2.5 2.8 .1-2.2-1.9"/><path color="#06a3cb" d="M495.8 59.3l-2.8 .9 2.1 1.7 2.8-1.4"/><path color="#06a1cc" d="M525.1 61.4l2.8-1-2.1-1.1-2.8 .9"/><path color="#06a8c4" d="M480.5 59.1l2.7-.7-2.1-2.1-2.8 1.4"/><path color="#06a1cc" d="M585.2 60l2.1-.4 2.7 .4-2.1 .5"/><path color="#19b2b2" d="M416.2 57.1l-2.8 2.1 2.1 1.7 2.8-1.5"/><path color="#09abbf" d="M410.7 61.3l2.7-2.1-2.1-.9-2.8 2.1"/><path color="#0cadbb" d="M451.1 56.4l-2.8 1.1 2.1 .8 2.8-.6"/><path color="#06a1cd" d="M515.4 60.7l-2.2-1.3-2.7 1.3 2.1 1.6"/><path color="#06a5c8" d="M470.7 58.5l-2.2-1.2-2.7 .9 2.1 1.1"/><path color="#21b4ac" d="M426 57.4l2.1 .3 2.8-.4-2.1-.9"/><path color="#07a9c3" d="M550.3 58.7l-2.2-.4-2.7 .8 2.1 .5"/><path color="#08abc0" d="M445.6 58.6l2.7-1.1-2.1-.6-2.8 .9"/><path color="#06a2cb" d="M490.2 61.1l2.8-.9-2.1-1.6-2.8 .7"/><path color="#29b6a7" d="M565.6 54.4l-2.8 1.4 2.1 2.4 2.8-1"/><path color="#108fd2" d="M620.1 61.5l-2.8 .7 2.1-.3 2.8-.7"/><path color="#06a6c7" d="M470.7 58.5l2.1 1 2.8-.9-2.2-1.2"/><path color="#06a5c9" d="M515.4 60.7l2.1 1 2.7-.8-2.1-1"/><path color="#0eaeba" d="M435.8 58.5l-2.2-1.5-2.7 .3 2.1 1"/><path color="#06a7c6" d="M540.5 59.5l-2.8 1 2.1-.3 2.8-.2"/><path color="#06a2cb" d="M594.9 59.7l-2.1 .6-2.8-.3 2.2-.5"/><path color="#06a4ca" d="M460.9 58l-2.8 .6 2.1 1 2.8-.5"/><path color="#28b6a7" d="M560 57.1l2.8-1.3-2.1-.3-2.8 .6"/><path color="#06a1cd" d="M505.6 59.9l-2.8 .9 2.1 1.5 2.8-.4"/><path color="#06a7c6" d="M435.8 58.5l2.1 1.4 2.8-1-2.2-1.1"/><path color="#18b1b3" d="M610.3 55.2l-2.8 .9 2.1 3.4 2.8-.5"/><path color="#20b4ad" d="M400.9 59.3l2.1 .9 2.8 .1-2.2-.9"/><path color="#11afb7" d="M550.3 58.7l2.1 .2 2.7-1.4-2.1-.6"/><path color="#06a5c8" d="M534.9 61.4l2.8-.9-2.1-1.5-2.8 1.4"/><path color="#06a7c6" d="M480.5 59.1l-2.2-1.4-2.7 .9 2.1 1.2"/><path color="#1bb2b0" d="M575.4 55.9l-2.8 2 2.1 1.7 2.8-1.2"/><path color="#06a2cc" d="M525.1 61.4l-2.1-1.2-2.8 .7 2.2 1.1"/><path color="#07aac1" d="M420.4 61.7l2.8-2.1-2.1-1.2-2.8 1"/><path color="#069fce" d="M594.9 59.7l2.2 2.3 2.7-2.2-2.1-.9"/><path color="#0c94d2" d="M614.5 62.8l2.8-.6-2.1-3.9-2.8 .7"/><path color="#17b1b3" d="M426 57.4l-2.8 2.2 2.1 .4 2.8-2.3"/><path color="#08abc0" d="M410.7 61.3l-2.2-.9-2.7-.1 2.1 .9"/><path color="#06a6c7" d="M500 61.8l2.8-1-2.1-1.1-2.8 .8"/><path color="#0faeb9" d="M569.8 59.9l2.8-2-2.1-1.7-2.8 1"/><path color="#06a8c5" d="M585.2 60l-2.8 .4 2.1 .7 2.8-1.5"/><path color="#06a7c5" d="M455.3 59.1l2.8-.5-2.1-1.3-2.8 .4"/><path color="#06a7c6" d="M480.5 59.1l2.1 1.2 2.7-.5-2.1-1.4"/><path color="#28b6a7" d="M604.7 57.1l2.8-1-2.1 .4-2.8 1.1"/><path color="#089ad0" d="M525.1 61.4l2.2 1.7 2.7-1.3-2.1-1.4"/><path color="#07a9c3" d="M445.6 58.6l-2.2-.8-2.7 1.1 2.1 1.1"/><path color="#08abc0" d="M410.7 61.3l2.1 1.1 2.7-1.5-2.1-1.7"/><path color="#06a2cb" d="M490.2 61.1l-2.1-1.8-2.8 .5 2.2 1.5"/><path color="#06a0cd" d="M515.4 60.7l-2.8 1.6 2.1 .6 2.8-1.2"/><path color="#06a6c7" d="M470.7 58.5l-2.8 .8 2.1 .7 2.8-.5"/><path color="#089ad0" d="M490.2 61.1l2.2 2.2 2.7-1.4-2.1-1.7"/><path color="#0f90d2" d="M509.8 64l2.8-1.7-2.1-1.6-2.8 1.2"/><path color="#07a9c2" d="M579.6 60.9l2.8-.5-2.1-1.9-2.8-.1"/><path color="#20b4ad" d="M560 57.1l-2.1-1-2.8 1.4 2.2 .6"/><path color="#0eaeba" d="M445.6 58.6l2.1 .2 2.7-.5-2.1-.8"/><path color="#0bacbd" d="M550.3 58.7l-2.8 .9 2.1-.1 2.8-.6"/><path color="#08aac0" d="M435.8 58.5l-2.8-.2 2.1 2.2 2.8-.6"/><path color="#079ecf" d="M534.9 61.4l-2.1-1-2.8 1.4 2.2 1.3"/><path color="#1db3af" d="M400.9 59.3l-2.8 1.9 2.1 .9 2.8-1.9"/><path color="#06a5c8" d="M465.1 60.2l2.8-.9-2.1-1.1-2.8 .9"/><path color="#06a7c5" d="M420.4 61.7l-2.1-2.3-2.8 1.5 2.2 1.7"/><path color="#1cb3af" d="M560 57.1l2.2 2.1 2.7-1-2.1-2.4"/><path color="#06a8c4" d="M544.7 60.4l2.8-.8-2.1-.5-2.8 .9"/><path color="#0cadbb" d="M604.7 57.1l-2.1 .5-2.8 2.2 2.2 .9"/><path color="#069fce" d="M500 61.8l-2.1-1.3-2.8 1.4 2.2 1.7"/><path color="#06a3cb" d="M594.9 59.7l-2.7-.2 2.1 1.7 2.8 .8"/><path color="#08abc0" d="M569.8 59.9l-2.1-2.7-2.8 1 2.2 2.4"/><path color="#089bd0" d="M614.5 62.8l-2.1-3.8-2.8 .5 2.1 3.4"/><path color="#108fd2" d="M614.5 62.8l2.1-.3 2.8-.6-2.1 .3"/><path color="#079bd0" d="M525.1 61.4l-2.7 .6 2.1 1.3 2.8-.2"/><path color="#09abbe" d="M455.3 59.1l-2.1-1.4-2.8 .6 2.2 .8"/><path color="#06a8c4" d="M480.5 59.1l-2.8 .7 2.1 .7 2.8-.2"/><path color="#08aac0" d="M569.8 59.9l2.1 1 2.8-1.3-2.1-1.7"/><path color="#06a7c6" d="M420.4 61.7l2.2 .5 2.7-2.2-2.1-.4"/><path color="#07a9c2" d="M534.9 61.4l2.1-.9 2.8-.3-2.1 .3"/><path color="#08aac1" d="M410.7 61.3l-2.8-.1 2.1 1.6 2.8-.4"/><path color="#06a6c7" d="M500 61.8l2.1 .8 2.8-.3-2.1-1.5"/><path color="#25b5aa" d="M604.7 57.1l2.1 2.9 2.8-.5-2.1-3.4"/><path color="#06a5c8" d="M455.3 59.1l2.2 1.1 2.7-.6-2.1-1"/><path color="#26b5a9" d="M430.2 58.1l2.8 .2-2.1-1-2.8 .4"/><path color="#0d92d2" d="M509.8 64l-2.1-2.1-2.8 .4 2.1 1.4"/><path color="#089bd0" d="M490.2 61.1l-2.7 .2 2.1 1.8 2.8 .2"/><path color="#08abc0" d="M445.6 58.6l-2.8 1.4 2.1 1.3 2.8-2.5"/><path color="#06a7c6" d="M474.9 60.5l2.8-.7-2.1-1.2-2.8 .9"/><path color="#10afb8" d="M589.4 59.3l2.8 .2-2.2 .5-2.7-.4"/><path color="#06a4ca" d="M519.6 62.7l2.8-.7-2.2-1.1-2.7 .8"/><path color="#08abc0" d="M579.6 60.9l-2.1-2.5-2.8 1.2 2.1 1.8"/><path color="#06a6c7" d="M440 61.3l2.8-1.3-2.1-1.1-2.8 1"/><path color="#06a4c9" d="M465.1 60.2l-2.1-1.1-2.8 .5 2.2 1.1"/><path color="#06a0cd" d="M579.6 60.9l2.1 1.7 2.8-1.5-2.1-.7"/><path color="#1389d3" d="M599.2 64.3l2.8-3.6-2.2-.9-2.7 2.2"/><path color="#0f90d2" d="M509.8 64l2.1 .1 2.8-1.2-2.1-.6"/><path color="#17b1b3" d="M560 57.1l-2.7 1 2.1 1.5 2.8-.4"/><path color="#20b4ad" d="M405.1 61.1l2.8 .1-2.1-.9-2.8-.1"/><path color="#09abbf" d="M544.7 60.4l-2.1-.4-2.8 .2 2.1-.2"/><path color="#06a7c6" d="M624.3 60.9l-2.1 .3-2.8 .7 2.1-.4"/><path color="#06a6c7" d="M395.3 63.1l2.1 .9 2.8-1.9-2.1-.9"/><path color="#06a3ca" d="M420.4 61.7l-2.7 .9 2.1 .6 2.8-1"/><path color="#06a8c4" d="M465.1 60.2l2.1 .3 2.8-.5-2.1-.7"/><path color="#1389d3" d="M529.4 64.9l2.8-1.8-2.2-1.3-2.7 1.3"/><path color="#06a7c6" d="M569.8 59.9l-2.7 .7 2.1 1 2.7-.7"/><path color="#0bacbd" d="M604.7 57.1l-2.7 3.6 2.1 1.8 2.7-2.5"/><path color="#15b1b4" d="M554.5 59.1l2.8-1-2.2-.6-2.7 1.4"/><path color="#0b96d1" d="M614.5 62.8l-2.8 .1 2.2 .1 2.7-.5"/><path color="#06a6c7" d="M484.7 61.6l2.8-.3-2.2-1.5-2.7 .5"/><path color="#06a4c9" d="M534.9 61.4l-2.7 1.7 2.1-1.5 2.7-1.1"/><path color="#06a1cc" d="M500 61.8l-2.7 1.8 2.1 .4 2.7-1.4"/><path color="#1388d3" d="M494.5 65.5l2.8-1.9-2.2-1.7-2.7 1.4"/><path color="#0badbd" d="M544.7 60.4l2.1-.3 2.8-.6-2.1 .1"/><path color="#24b5aa" d="M430.2 58.1l-2.1-.4-2.8 2.3 2.2 .4"/><path color="#06a7c5" d="M414.9 63.5l2.8-.9-2.2-1.7-2.7 1.5"/><path color="#0aacbe" d="M455.3 59.1l-2.7 0 2.1 .1 2.8 1"/><path color="#06a4ca" d="M519.6 62.7l-2.1-1-2.8 1.2 2.1 .6"/><path color="#07a9c3" d="M474.9 60.5l-2.1-1-2.8 .5 2.1 .7"/><path color="#09acbe" d="M589.4 59.3l-2.1 .3-2.8 1.5 2.1 .7"/><path color="#19b2b1" d="M430.2 58.1l2.1 3 2.8-.6-2.1-2.2"/><path color="#08aac1" d="M564.3 61.3l2.8-.7-2.2-2.4-2.7 1"/><path color="#06a4c9" d="M440 61.3l-2.1-1.4-2.8 .6 2.1 2.2"/><path color="#1487d3" d="M599.2 64.3l-2.1-2.3-2.8-.8 2.1 1.8"/><path color="#0d92d2" d="M509.8 64l-2.8-.3 2.2 .7 2.7-.3"/><path color="#06a2cb" d="M579.6 60.9l-2.8 .5 2.2 .7 2.7 .5"/><path color="#06a6c6" d="M609 62.9l2.7 0-2.1-3.4-2.8 .5"/><path color="#06a4ca" d="M519.6 62.7l2.1 .8 2.8-.2-2.1-1.3"/><path color="#08abc0" d="M474.9 60.5l2.1 .1 2.8-.1-2.1-.7"/><path color="#1db3af" d="M405.1 61.1l-2.1-.9-2.8 1.9 2.1 .9"/><path color="#069fce" d="M440 61.3l2.1 2.4 2.8-2.4-2.1-1.3"/><path color="#16b1b4" d="M589.4 59.3l2.1 1.2 2.8 .7-2.1-1.7"/><path color="#1483d5" d="M599.2 64.3l2.1 .7 2.8-2.5-2.1-1.8"/><path color="#19b2b2" d="M449.8 59.1l2.8 0-2.2-.8-2.7 .5"/><path color="#06a5c8" d="M395.3 63.1l-2.7-.5 2.1 .8 2.7 .6"/><path color="#06a8c5" d="M465.1 60.2l-2.7 .5 2.1 .6 2.7-.8"/><path color="#128bd2" d="M529.4 64.9l-2.1-1.8-2.8 .2 2.1 1.2"/><path color="#16b1b3" d="M554.5 59.1l-2.1-.2-2.8 .6 2.1-.1"/><path color="#15b0b5" d="M405.1 61.1l2.1 2.2 2.8-.5-2.1-1.6"/><path color="#08abc0" d="M484.7 61.6l-2.1-1.3-2.8 .2 2.1 .6"/><path color="#138ad3" d="M494.5 65.5l-2.1-2.2-2.8-.2 2.1 1.8"/><path color="#07aac1" d="M574.1 61.8l2.7-.4-2.1-1.8-2.8 1.3"/><path color="#09abbf" d="M624.3 60.9l-2.8 .6 2.1 1.5 2.8-.6"/><path color="#06a8c5" d="M414.9 63.5l-2.1-1.1-2.8 .4 2.1 1.7"/><path color="#06a5c8" d="M484.7 61.6l2.1 1.4 2.8 .1-2.1-1.8"/><path color="#0faeb9" d="M544.7 60.4l-2.8-.4 2.2 .9 2.7-.8"/><path color="#06a5c8" d="M504.3 63.5l2.7 .2-2.1-1.4-2.8 .3"/><path color="#1ab2b1" d="M554.5 59.1l2.1 .8 2.8-.3-2.1-1.5"/><path color="#06a4c9" d="M459.6 61.2l2.8-.5-2.2-1.1-2.7 .6"/><path color="#15b0b5" d="M430.2 58.1l-2.7 2.3 2.1 3.2 2.7-2.5"/><path color="#08abc0" d="M424.7 62.7l2.8-2.3-2.2-.4-2.7 2.2"/><path color="#128ad3" d="M494.5 65.5l2.1-.1 2.8-1.4-2.1-.4"/><path color="#0c93d2" d="M529.4 64.9l2.1-2.1 2.8-1.2-2.1 1.5"/><path color="#06a7c6" d="M618.8 62.2l2.7-.7-2.1 .4-2.8 .6"/><path color="#0cadbc" d="M564.3 61.3l-2.1-2.1-2.8 .4 2.1 1.5"/><path color="#06a7c6" d="M414.9 63.5l2.1 .7 2.8-1-2.1-.6"/><path color="#0899d1" d="M440 61.3l-2.8 1.4 2.2 2.5 2.7-1.5"/><path color="#06a4c9" d="M609 62.9l-2.2-2.9-2.7 2.5 2.1 1.8"/><path color="#0c93d2" d="M583.9 64.2l2.7-2.4-2.1-.7-2.8 1.5"/><path color="#06a8c4" d="M564.3 61.3l2.1 1 2.8-.7-2.1-1"/><path color="#0bacbd" d="M449.8 59.1l-2.1-.3-2.8 2.5 2.1 1.3"/><path color="#06a5c8" d="M519.6 62.7l-2.8 .8 2.1 .8 2.8-.8"/><path color="#0badbc" d="M474.9 60.5l-2.8 .2 2.2 .9 2.7-1"/><path color="#1480d6" d="M599.2 64.3l-2.8-1.3 2.1 1.2 2.8 .8"/><path color="#17b1b3" d="M539.2 59.5l2.7 .5-2.1 .2-2.8 .3"/><path color="#0faeb9" d="M589.4 59.3l-2.8 2.5 2.1 .1 2.8-1.4"/><path color="#06a1cc" d="M609 62.9l2.1 .5 2.8-.4-2.2-.1"/><path color="#12afb7" d="M405.1 61.1l-2.8 1.9 2.2 1.6 2.7-1.3"/><path color="#069fce" d="M514.1 64.3l2.7-.8-2.1-.6-2.8 1.2"/><path color="#06a6c6" d="M434.5 64.1l2.7-1.4-2.1-2.2-2.8 .6"/><path color="#06a6c7" d="M399.6 64.9l2.7-1.9-2.1-.9-2.8 1.9"/><path color="#08aac0" d="M574.1 61.8l-2.2-.9-2.7 .7 2.1 .9"/><path color="#06a6c7" d="M424.7 62.7l-2.1-.5-2.8 1 2.1 .6"/><path color="#0cadbb" d="M469.4 60.9l2.7-.2-2.1-.7-2.8 .5"/><path color="#48bb94" d="M449.8 59.1l2.1-.8 2.8 .9-2.1-.1"/><path color="#06a8c4" d="M504.3 63.5l-2.2-.9-2.7 1.4 2.1 .4"/><path color="#1db3af" d="M554.5 59.1l-2.8 .3 2.1 1.5 2.8-1"/><path color="#09abbf" d="M484.7 61.6l-2.8-.5 2.1 2.1 2.8-.2"/><path color="#128cd2" d="M494.5 65.5l-2.8-.6 2.1 .5 2.8 0"/><path color="#0b95d2" d="M529.4 64.9l-2.8-.4 2.1-1.4 2.8-.3"/><path color="#0badbc" d="M574.1 61.8l2.1-.3 2.8 .6-2.2-.7"/><path color="#06a7c6" d="M414.9 63.5l-2.8 1 2.1 .6 2.8-.9"/><path color="#06a2cc" d="M424.7 62.7l2.1 3.4 2.8-2.5-2.1-3.2"/><path color="#06a7c6" d="M618.8 62.2l-2.2 .3-2.7 .5 2.1 .1"/><path color="#1db3af" d="M459.6 61.2l-2.1-1-2.8-1 2.1 .2"/><path color="#118dd2" d="M444.3 66.1l2.7-3.5-2.1-1.3-2.8 2.4"/><path color="#06a5c8" d="M504.3 63.5l2.1 1.1 2.8-.2-2.2-.7"/><path color="#06a6c7" d="M459.6 61.2l2.1 .9 2.8-.8-2.1-.6"/><path color="#0a96d1" d="M583.9 64.2l-2.2-1.6-2.7-.5 2.1 .7"/><path color="#09abbf" d="M564.3 61.3l-2.8-.2 2.1 1.5 2.8-.3"/><path color="#21b4ac" d="M549 59.8l2.7-.4-2.1 .1-2.8 .6"/><path color="#06a7c5" d="M409.4 65.6l2.7-1.1-2.1-1.7-2.8 .5"/><path color="#1cb3af" d="M539.2 59.5l-2.2 1-2.7 1.1 2.1-1.5"/><path color="#079cd0" d="M434.5 64.1l-2.2-3-2.7 2.5 2.1 3.2"/><path color="#06a1cc" d="M609 62.9l-2.8 1.4 2.1 .2 2.8-1.1"/><path color="#07aac1" d="M593.6 61.7l2.8 1.3-2.1-1.8-2.8-.7"/><path color="#09abbf" d="M618.8 62.2l2.1 1.3 2.7-.5-2.1-1.5"/><path color="#06a2cc" d="M523.8 64.2l2.8 .3-2.1-1.2-2.8 .2"/><path color="#18b1b3" d="M389.8 62l2.1 .9 2.8 .5-2.1-.8"/><path color="#1388d3" d="M603.4 65.7l2.8-1.4-2.1-1.8-2.8 2.5"/><path color="#0899d1" d="M583.9 64.2l2.1-.8 2.7-1.5-2.1-.1"/><path color="#06a1cd" d="M514.1 64.3l-2.2-.2-2.7 .3 2.1 .6"/><path color="#0b95d1" d="M434.5 64.1l2.1 2.6 2.8-1.5-2.2-2.5"/><path color="#06a5c8" d="M399.6 64.9l-2.2-.9-2.7-.6 2.1 .9"/><path color="#2db7a4" d="M449.8 59.1l-2.8 3.5 2.1 .2 2.8-4.5"/><path color="#1ab2b1" d="M479.2 60.6l2.7 .5-2.1-.6-2.8 .1"/><path color="#17b1b3" d="M539.2 59.5l2.1 2.2 2.8-.8-2.2-.9"/><path color="#06a6c7" d="M628.5 63.9l-2.1-1.5-2.8 .6 2.2 1.4"/><path color="#06a3ca" d="M488.9 64.4l2.8 .5-2.1-1.8-2.8-.1"/><path color="#0eaeba" d="M469.4 60.9l-2.2-.4-2.7 .8 2.1 .7"/><path color="#127cd8" d="M444.3 66.1l-2.2-2.4-2.7 1.5 2.1 2.5"/><path color="#06a6c7" d="M399.6 64.9l2.1 1 2.8-1.3-2.2-1.6"/><path color="#089ad0" d="M424.7 62.7l-2.8 1.1 2.1 3 2.8-.7"/><path color="#06a5c8" d="M514.1 64.3l2.1 .9 2.7-.9-2.1-.8"/><path color="#1cb2b0" d="M558.7 60.8l2.8 .3-2.1-1.5-2.8 .3"/><path color="#10afb8" d="M574.1 61.8l-2.8 .7 2.1 .4 2.8-1.4"/><path color="#10afb8" d="M469.4 60.9l2.1 1.8 2.8-1.1-2.2-.9"/><path color="#07aac1" d="M504.3 63.5l-2.8 .9 2.1 1.1 2.8-.9"/><path color="#1ab2b1" d="M549 59.8l-2.2 .3-2.7 .8 2.1 .9"/><path color="#06a8c5" d="M419.1 64.9l2.8-1.1-2.1-.6-2.8 1"/><path color="#06a6c6" d="M409.4 65.6l-2.2-2.3-2.7 1.3 2.1 1.6"/><path color="#1487d3" d="M444.3 66.1l2.1 1.2 2.7-4.5-2.1-.2"/><path color="#0aacbe" d="M568.5 63.2l2.8-.7-2.1-.9-2.8 .7"/><path color="#1486d3" d="M434.5 64.1l-2.8 2.7 2.1 1.7 2.8-1.8"/><path color="#25b5aa" d="M459.6 61.2l-2.8-1.8 2.1 1.4 2.8 1.3"/><path color="#06a1cd" d="M498.7 65.2l2.8-.8-2.1-.4-2.8 1.4"/><path color="#117ad9" d="M428.9 69.5l2.8-2.7-2.1-3.2-2.8 2.5"/><path color="#09abbf" d="M618.8 62.2l-2.8 .9 2.1 .4 2.8 0"/><path color="#06a8c4" d="M523.8 64.2l-2.1-.7-2.8 .8 2.2 .8"/><path color="#17b1b3" d="M593.6 61.7l-2.1-1.2-2.8 1.4 2.2 .2"/><path color="#1486d4" d="M603.4 65.7l-2.1-.7-2.8-.8 2.2 1.2"/><path color="#089ad0" d="M583.9 64.2l-2.8-1.4 2.1 .6 2.8 0"/><path color="#06a3ca" d="M409.4 65.6l2.1 .5 2.7-1-2.1-.6"/><path color="#06a4c9" d="M593.6 61.7l2.2 1.7 2.7 .8-2.1-1.2"/><path color="#25b5aa" d="M549 59.8l2.1 2 2.7-.9-2.1-1.5"/><path color="#28b6a7" d="M389.8 62l-2.8 .4 2.1 .8 2.8-.3"/><path color="#1cb3af" d="M479.2 60.6l-2.2 0-2.7 1 2.1 1"/><path color="#06a8c4" d="M613.2 63.9l2.8-.8-2.1-.1-2.8 .4"/><path color="#20b4ad" d="M539.2 59.5l-2.8 .6 2.1 1.7 2.8-.1"/><path color="#0d93d2" d="M603.4 65.7l2.2-.1 2.7-1.1-2.1-.2"/><path color="#06a5c8" d="M514.1 64.3l-2.8 .7 2.1 1.4 2.8-1.2"/><path color="#06a5c8" d="M399.6 64.9l-2.8-.6 2.1 1.6 2.8 0"/><path color="#07aac2" d="M488.9 64.4l-2.1-1.4-2.8 .2 2.2 2"/><path color="#19b2b2" d="M479.2 60.6l2.1 2.7 2.7-.1-2.1-2.1"/><path color="#06a2cc" d="M628.5 63.9l-2.7 .5 2.1 1.4 2.8-.4"/><path color="#06a8c5" d="M523.8 64.2l2.2-.9 2.7-.2-2.1 1.4"/><path color="#0972de" d="M444.3 66.1l-2.8 1.6 2.1 1.2 2.8-1.6"/><path color="#06a3ca" d="M488.9 64.4l2.2 1.1 2.7-.1-2.1-.5"/><path color="#20b4ad" d="M558.7 60.8l-2.1-.9-2.8 1 2.2 1.4"/><path color="#10afb9" d="M469.4 60.9l-2.8 1.1 2.1 1.8 2.8-1.1"/><path color="#12afb7" d="M533.6 60.7l2.8-.6-2.1 1.5-2.8 1.2"/><path color="#13b0b6" d="M558.7 60.8l2.2 2.2 2.7-.4-2.1-1.5"/><path color="#1079da" d="M438.7 69.3l2.8-1.6-2.1-2.5-2.8 1.5"/><path color="#06a7c6" d="M419.1 64.9l-2.1-.7-2.8 .9 2.2 .6"/><path color="#06a8c4" d="M508.5 65.6l2.8-.6-2.1-.6-2.8 .2"/><path color="#0770df" d="M428.9 69.5l-2.1-3.4-2.8 .7 2.2 2.9"/><path color="#08abc0" d="M463.8 63.1l2.8-1.1-2.1-.7-2.8 .8"/><path color="#08abc0" d="M568.5 63.2l-2.1-.9-2.8 .3 2.2 1.6"/><path color="#06a0cd" d="M498.7 65.2l-2.1 .2-2.8 0 2.2 .5"/><path color="#079cd0" d="M419.1 64.9l2.2 2.5 2.7-.6-2.1-3"/><path color="#06a6c7" d="M623 64.8l2.8-.4-2.2-1.4-2.7 .5"/><path color="#b0bd66" d="M454 57.5l2.8 1.9-2.1-.2-2.8-.9"/><path color="#15b0b4" d="M578.3 61.3l2.8 1.5-2.1-.7-2.8-.6"/><path color="#046de0" d="M428.9 69.5l2.1 .8 2.8-1.8-2.1-1.7"/><path color="#1ab2b1" d="M549 59.8l-2.8 2 2.1 1.7 2.8-1.7"/><path color="#06a2cb" d="M409.4 65.6l-2.8 .6 2.1 .5 2.8-.6"/><path color="#08abc0" d="M543.4 63.9l2.8-2.1-2.1-.9-2.8 .8"/><path color="#18b1b3" d="M394 63.8l2.8 .5-2.1-.9-2.8-.5"/><path color="#0bacbd" d="M568.5 63.2l2.2 1.2 2.7-1.5-2.1-.4"/><path color="#06a7c6" d="M613.2 63.9l-2.1-.5-2.8 1.1 2.1 .2"/><path color="#06a6c7" d="M498.7 65.2l2.1 1.2 2.8-.9-2.1-1.1"/><path color="#13b0b6" d="M593.6 61.7l-2.7 .4 2.1 .6 2.8 .7"/><path color="#1ab2b1" d="M479.2 60.6l-2.8 2 2.1 2.1 2.8-1.4"/><path color="#0e91d2" d="M603.4 65.7l-2.7-.3 2.1 .3 2.8-.1"/><path color="#0bacbd" d="M523.8 64.2l-2.7 .9 2.1 0 2.8-1.8"/><path color="#06a3ca" d="M403.8 66.9l2.8-.7-2.1-1.6-2.8 1.3"/><path color="#0eaeb9" d="M473.6 64.5l2.8-1.9-2.1-1-2.8 1.1"/><path color="#14b0b5" d="M533.6 60.7l-2.1 2.1-2.8 .3 2.2-1.5"/><path color="#07a9c3" d="M488.9 64.4l-2.7 .8 2.1 1.1 2.8-.8"/><path color="#0d75dc" d="M438.7 69.3l-2.1-2.6-2.8 1.8 2.1 1.7"/><path color="#06a8c4" d="M518.3 66l2.8-.9-2.2-.8-2.7 .9"/><path color="#0dadbb" d="M613.2 63.9l2.1-.5 2.8 .1-2.1-.4"/><path color="#0aacbd" d="M588.1 62.5l2.8-.4-2.2-.2-2.7 1.5"/><path color="#18b1b3" d="M558.7 60.8l-2.7 1.5 2.1 1 2.8-.3"/><path color="#96bf71" d="M454 57.5l-2.1 .8-2.8 4.5 2.2 .2"/><path color="#06a8c4" d="M508.5 65.6l-2.1-1-2.8 .9 2.1 1.1"/><path color="#066edf" d="M438.7 69.3l2.1 1.2 2.8-1.6-2.1-1.2"/><path color="#0761e0" d="M428.9 69.5l-2.7 .2 2.1 .8 2.7-.2"/><path color="#2fb7a3" d="M384.2 62.7l2.2 .9 2.7-.4-2.1-.8"/><path color="#17b1b3" d="M553.2 63.8l2.8-1.5-2.2-1.4-2.7 .9"/><path color="#0c93d2" d="M448.5 68.5l2.8-5.5-2.2-.2-2.7 4.5"/><path color="#28b6a8" d="M463.8 63.1l-2.1-1-2.8-1.3 2.2 1.5"/><path color="#06a3ca" d="M508.5 65.6l2.1 2 2.8-1.2-2.1-1.4"/><path color="#29b6a7" d="M533.6 60.7l2.2 1.3 2.7-.2-2.1-1.7"/><path color="#069fce" d="M419.1 64.9l-2.7 .8 2.1 1 2.8 .7"/><path color="#079dcf" d="M597.9 65.2l2.8 .2-2.2-1.2-2.7-.8"/><path color="#07aac2" d="M483.4 66l2.8-.8-2.2-2-2.7 .1"/><path color="#23b4ab" d="M578.3 61.3l-2.1 .2-2.8 1.4 2.1 .5"/><path color="#09abbf" d="M463.8 63.1l2.2 1.9 2.7-1.2-2.1-1.8"/><path color="#08abc0" d="M623 64.8l-2.1-1.3-2.8 0 2.1 .4"/><path color="#08abc0" d="M543.4 63.9l-2.1-2.2-2.8 .1 2.1 1.7"/><path color="#07aac1" d="M568.5 63.2l-2.7 1 2.1 1.1 2.8-.9"/><path color="#06a2cc" d="M623 64.8l2.1 1.5 2.8-.5-2.1-1.4"/><path color="#06a5c8" d="M498.7 65.2l-2.7 .7 2.1 1.1 2.7-.6"/><path color="#06a7c6" d="M543.4 63.9l2.1 1.2 2.8-1.6-2.1-1.7"/><path color="#ccbb5b" d="M454 57.5l2.2 2 2.7 1.3-2.1-1.4"/><path color="#15b0b5" d="M578.3 61.3l2.1 2.1 2.8 0-2.1-.6"/><path color="#28b6a7" d="M394 63.8l-2.1-.9-2.8 .3 2.2 .9"/><path color="#06a4c9" d="M413.6 66.6l2.8-.9-2.2-.6-2.7 1"/><path color="#0eaeba" d="M394 63.8l2.2 2.1 2.7 0-2.1-1.6"/><path color="#079bd0" d="M632.8 66.8l-2.1-1.4-2.8 .4 2.1 1.5"/><path color="#08abc0" d="M473.6 64.5l-2.1-1.8-2.8 1.1 2.1 1.9"/><path color="#06a3ca" d="M403.8 66.9l-2.1-1-2.8 0 2.1 1.6"/><path color="#06a8c3" d="M563 65.2l2.8-1-2.2-1.6-2.7 .4"/><path color="#06a3cb" d="M518.3 66l-2.1-.8-2.8 1.2 2.1 1.4"/><path color="#056ee0" d="M448.5 68.5l-2.1-1.2-2.8 1.6 2.1 1.2"/><path color="#0d75dc" d="M423.4 70l2.8-.3-2.2-2.9-2.7 .6"/><path color="#06a6c6" d="M493.2 66.6l2.8-.7-2.2-.5-2.7 .1"/><path color="#0bacbd" d="M613.2 63.9l-2.8 .8 2.2 .2 2.7-1.5"/><path color="#08abc0" d="M588.1 62.5l-2.1 .9-2.8 0 2.1 .6"/><path color="#0aacbe" d="M473.6 64.5l2.1 1.5 2.8-1.3-2.1-2.1"/><path color="#056de0" d="M438.7 69.3l-2.8 .9 2.2 1.2 2.7-.9"/><path color="#06a4ca" d="M403.8 66.9l2.1 .4 2.8-.6-2.1-.5"/><path color="#06a2cb" d="M607.7 65.6l2.7-.9-2.1-.2-2.7 1.1"/><path color="#0cadbc" d="M553.2 63.8l-2.1-2-2.8 1.7 2.1 1.6"/><path color="#2fb7a3" d="M384.2 62.7l-2.7 .8 2.1 .9 2.8-.8"/><path color="#06a8c3" d="M518.3 66l2.1 .8 2.8-1.7-2.1 0"/><path color="#06a2cb" d="M508.5 65.6l-2.8 1 2.2 1.4 2.7-.4"/><path color="#07a9c3" d="M483.4 66l-2.1-2.7-2.8 1.4 2.1 2.1"/><path color="#2eb7a4" d="M533.6 60.7l-2.7 .9 2.1 1.3 2.8-.9"/><path color="#b3bd65" d="M454 57.5l-2.7 5.5 2.1 1.7 2.8-5.2"/><path color="#20b4ad" d="M463.8 63.1l-2.7-.8 2.1 2.8 2.8-.1"/><path color="#046ce0" d="M433.2 71.1l2.7-.9-2.1-1.7-2.8 1.8"/><path color="#2fb7a3" d="M588.1 62.5l2.1-.6 2.8 .8-2.1-.6"/><path color="#25b5aa" d="M528.1 62.4l2.8-.8-2.2 1.5-2.7 .2"/><path color="#06a6c7" d="M483.4 66l2.1 1 2.8-.7-2.1-1.1"/><path color="#16b1b4" d="M553.2 63.8l2.1-.1 2.8-.4-2.1-1"/><path color="#06a6c7" d="M543.4 63.9l-2.8-.4 2.2 1.8 2.7-.2"/><path color="#0b95d2" d="M448.5 68.5l2.1 1.4 2.8-5.2-2.1-1.7"/><path color="#09acbe" d="M572.8 65.6l2.7-2.2-2.1-.5-2.7 1.5"/><path color="#20b4ad" d="M578.3 61.3l-2.8 2.1 2.2 1.6 2.7-1.6"/><path color="#0faeb9" d="M597.9 65.2l-2.1-1.8-2.8-.7 2.1 .6"/><path color="#079dcf" d="M597.9 65.2l2.1 .6 2.8-.1-2.1-.3"/><path color="#06a8c4" d="M623 64.8l-2.8-.9 2.2 1.5 2.7 .9"/><path color="#06a4ca" d="M503 67.6l2.7-1-2.1-1.1-2.8 .9"/><path color="#06a4ca" d="M413.6 66.6l-2.1-.5-2.8 .6 2.1 .5"/><path color="#1bb2b0" d="M394 63.8l-2.7 .3 2.1 1.8 2.8 0"/><path color="#09abbf" d="M563 65.2l-2.1-2.2-2.8 .3 2.1 1.1"/><path color="#06a8c4" d="M473.6 64.5l-2.8 1.2 2.2 1.1 2.7-.8"/><path color="#06a8c5" d="M493.2 66.6l-2.1-1.1-2.8 .8 2.1 1"/><path color="#06a5c8" d="M563 65.2l2.1 1.1 2.8-1-2.1-1.1"/><path color="#0268e1" d="M423.4 70l2.1 .8 2.8-.3-2.1-.8"/><path color="#06a7c5" d="M413.6 66.6l2.1-.6 2.8 .7-2.1-1"/><path color="#046ce0" d="M448.5 68.5l-2.8 1.6 2.2 1.3 2.7-1.5"/><path color="#1486d3" d="M423.4 70l-2.1-2.6-2.8-.7 2.1 1"/><path color="#06a4ca" d="M403.8 66.9l-2.8 .6 2.2 .3 2.7-.5"/><path color="#06a2cb" d="M518.3 66l-2.8 1.8 2.2 .3 2.7-1.3"/><path color="#06a2cc" d="M607.7 65.6l-2.1 0-2.8 .1 2.1 .3"/><path color="#0d93d2" d="M512.8 69.6l2.7-1.8-2.1-1.4-2.8 1.2"/><path color="#056de0" d="M443 71.7l2.7-1.6-2.1-1.2-2.8 1.6"/><path color="#06a6c7" d="M493.2 66.6l2.1 1.1 2.8-.7-2.1-1.1"/><path color="#06a8c4" d="M468.1 66.9l2.7-1.2-2.1-1.9-2.7 1.2"/><path color="#07aac1" d="M632.8 66.8l-2.8 .5 2.1-2.1 2.8-.7"/><path color="#1cb3af" d="M537.9 63.2l2.7 .3-2.1-1.7-2.7 .2"/><path color="#1bb2b0" d="M528.1 62.4l-2.1 .9-2.8 1.8 2.1 0"/><path color="#036ae1" d="M433.2 71.1l-2.2-.8-2.7 .2 2.1 .8"/><path color="#2fb7a3" d="M388.5 64.4l2.8-.3-2.2-.9-2.7 .4"/><path color="#079bd0" d="M627.2 67.7l2.8-.4-2.1-1.5-2.8 .5"/><path color="#babd63" d="M458.3 61.5l2.8 .8-2.2-1.5-2.7-1.3"/><path color="#0eaeba" d="M553.2 63.8l-2.8 1.3 2.2-.3 2.7-1.1"/><path color="#06a5c9" d="M483.4 66l-2.8 .8 2.2 .9 2.7-.7"/><path color="#0cadbc" d="M582.6 65.6l2.7-1.6-2.1-.6-2.8 0"/><path color="#20b4ad" d="M617.5 63l2.7 .9-2.1-.4-2.8-.1"/><path color="#06a7c6" d="M572.8 65.6l-2.1-1.2-2.8 .9 2.1 1.2"/><path color="#06a5c8" d="M398.3 68.1l2.7-.6-2.1-1.6-2.7 0"/><path color="#2cb6a5" d="M588.1 62.5l-2.8 1.5 2.2-.6 2.7-1.5"/><path color="#06a7c5" d="M607.7 65.6l2.1 .7 2.8-1.4-2.2-.2"/><path color="#06a4c9" d="M547.7 66.4l2.7-1.3-2.1-1.6-2.8 1.6"/><path color="#06a2cb" d="M503 67.6l-2.2-1.2-2.7 .6 2.1 1.2"/><path color="#056de0" d="M433.2 71.1l2.1 1.2 2.8-.9-2.2-1.2"/><path color="#2ab6a6" d="M378.7 64.4l2.1 .9 2.8-.9-2.1-.9"/><path color="#0bacbd" d="M597.9 65.2l-2.8-1.9 2.1 1.7 2.8 .8"/><path color="#07a9c2" d="M572.8 65.6l2.1 .9 2.8-1.5-2.2-1.6"/><path color="#06a1cc" d="M503 67.6l2.1 .8 2.8-.4-2.2-1.4"/><path color="#06a6c7" d="M477.9 67.6l2.7-.8-2.1-2.1-2.8 1.3"/><path color="#33b8a1" d="M528.1 62.4l2.1 1.5 2.8-1-2.1-1.3"/><path color="#06a7c5" d="M563 65.2l-2.8-.8 2.1 2 2.8-.1"/><path color="#046de0" d="M443 71.7l-2.2-1.2-2.7 .9 2.1 1.2"/><path color="#07a9c3" d="M413.6 66.6l-2.8 .6 2.2-.8 2.7-.4"/><path color="#0f90d2" d="M512.8 69.6l-2.2-2-2.7 .4 2.1 1.4"/><path color="#07a9c2" d="M468.1 66.9l-2.1-1.9-2.8 .1 2.1 2.8"/><path color="#9bbf6f" d="M458.3 61.5l-2.1-2-2.8 5.2 2.1 1.7"/><path color="#06a6c7" d="M493.2 66.6l-2.8 .7 2.1 1.1 2.8-.7"/><path color="#137dd8" d="M423.4 70l-2.8-2.3 2.1 .8 2.8 2.3"/><path color="#06a5c8" d="M408.1 67.8l2.7-.6-2.1-.5-2.8 .6"/><path color="#29b6a7" d="M537.9 63.2l-2.1-1.2-2.8 .9 2.1 1.4"/><path color="#2fb7a3" d="M388.5 64.4l-2.1-.8-2.8 .8 2.1 .9"/><path color="#09abbf" d="M582.6 65.6l-2.2-2.2-2.7 1.6 2.1 1.5"/><path color="#06a7c6" d="M468.1 66.9l2.1 .6 2.8-.7-2.2-1.1"/><path color="#046de0" d="M443 71.7l2.1 1.3 2.8-1.6-2.2-1.3"/><path color="#0e91d2" d="M512.8 69.6l2.1-.2 2.8-1.3-2.2-.3"/><path color="#11afb7" d="M537.9 63.2l2.1 2.2 2.8-.1-2.2-1.8"/><path color="#85bf78" d="M458.3 61.5l2.1 3.7 2.8-.1-2.1-2.8"/><path color="#21b4ac" d="M617.5 63l-2.2 .4-2.7 1.5 2.1 .1"/><path color="#06a7c6" d="M607.7 65.6l-2.8 .4 2.1 .9 2.8-.6"/><path color="#06a8c4" d="M522.5 67.7l2.8-2.6-2.1 0-2.8 1.7"/><path color="#06a3cb" d="M547.7 66.4l-2.2-1.3-2.7 .2 2.1 1.8"/><path color="#0e91d2" d="M452.7 71.3l2.8-4.9-2.1-1.7-2.8 5.2"/><path color="#07a9c2" d="M398.3 68.1l-2.1-2.2-2.8 0 2.1 1.8"/><path color="#06a7c6" d="M487.6 68l2.8-.7-2.1-1-2.8 .7"/><path color="#29b6a7" d="M388.5 64.4l2.1 1.4 2.8 .1-2.1-1.8"/><path color="#06a4c9" d="M627.2 67.7l-2.1-1.4-2.7-.9 2.1 1.4"/><path color="#056ee0" d="M433.2 71.1l-2.8 .2 2.1 1.3 2.8-.3"/><path color="#20b4ad" d="M528.1 62.4l-2.8 2.7 2.1 1.5 2.8-2.7"/><path color="#06a2cb" d="M398.3 68.1l2.1 .2 2.8-.5-2.2-.3"/><path color="#27b6a8" d="M617.5 63l2.1 1.4 2.8 1-2.2-1.5"/><path color="#06a5c8" d="M572.8 65.6l-2.8 .9 2.1 .1 2.8-.1"/><path color="#06a6c7" d="M602.1 66.5l2.8-.5-2.1-.3-2.8 .1"/><path color="#06a6c7" d="M477.9 67.6l-2.2-1.6-2.7 .8 2.1 1.1"/><path color="#10afb8" d="M582.6 65.6l2.1-.8 2.8-1.4-2.2 .6"/><path color="#1fb3ae" d="M557.4 63.6l2.8 .8-2.1-1.1-2.8 .4"/><path color="#06a8c4" d="M547.7 66.4l2.1-.5 2.8-1.1-2.2 .3"/><path color="#06a2cb" d="M503 67.6l-2.8 .6 2.1-.1 2.8 .3"/><path color="#07aac1" d="M627.2 67.7l2.2-1.8 2.7-.7-2.1 2.1"/><path color="#68be84" d="M592.3 61.4l2.8 1.9-2.1-.6-2.8-.8"/><path color="#06a5c8" d="M567.2 67.4l2.8-.9-2.1-1.2-2.8 1"/><path color="#046de0" d="M452.7 71.3l-2.1-1.4-2.7 1.5 2.1 1.4"/><path color="#06a5c8" d="M477.9 67.6l2.1 .8 2.8-.7-2.2-.9"/><path color="#046de0" d="M427.6 71.6l2.8-.3-2.1-.8-2.8 .3"/><path color="#60be88" d="M458.3 61.5l-2.8 4.9 2.1 2.5 2.8-3.7"/><path color="#06a2cb" d="M522.5 67.7l-2.1-.9-2.7 1.3 2.1 .3"/><path color="#06a4ca" d="M497.4 68.7l2.8-.5-2.1-1.2-2.8 .7"/><path color="#046de0" d="M443 71.7l-2.8 .9 2.1 1.1 2.8-.7"/><path color="#06a6c7" d="M408.1 67.8l-2.2-.5-2.7 .5 2.1 .3"/><path color="#07a9c2" d="M468.1 66.9l-2.8 1 2.1-.8 2.8 .4"/><path color="#0f90d2" d="M512.8 69.6l-2.8-.2 2.1-.5 2.8 .5"/><path color="#1cb3af" d="M537.9 63.2l-2.8 1.1 2.1 2.1 2.8-1"/><path color="#08aac1" d="M417.8 65.3l2.8 2.4-2.1-1-2.8-.7"/><path color="#06a7c6" d="M487.6 68l-2.1-1-2.7 .7 2.1 .9"/><path color="#29b6a7" d="M388.5 64.4l-2.8 .9 2.1 1.8 2.8-1.3"/><path color="#108ed2" d="M452.7 71.3l2.2 1.2 2.7-3.6-2.1-2.5"/><path color="#046ce0" d="M437.4 73.5l2.8-.9-2.1-1.2-2.8 .9"/><path color="#07aac1" d="M582.6 65.6l-2.8 .9 2.1-.3 2.8-1.4"/><path color="#08abc0" d="M611.9 67l2.8-2-2.1-.1-2.8 1.4"/><path color="#06a3ca" d="M522.5 67.7l2.2 1.7 2.7-2.8-2.1-1.5"/><path color="#18b1b2" d="M462.5 69l2.8-1.1-2.1-2.8-2.8 .1"/><path color="#2ab6a6" d="M617.5 63l-2.8 2 2.1 1.2 2.8-1.8"/><path color="#08aac1" d="M408.1 67.8l2.1-.9 2.8-.5-2.2 .8"/><path color="#06a7c6" d="M398.3 68.1l-2.8-.4 2.1 .3 2.8 .3"/><path color="#06a6c7" d="M487.6 68l2.2 1 2.7-.6-2.1-1.1"/><path color="#06a7c6" d="M547.7 66.4l-2.8 .7 2.1-.7 2.8-.5"/><path color="#2ab6a6" d="M532.3 65.3l2.8-1-2.1-1.4-2.8 1"/><path color="#26b5a9" d="M557.4 63.6l-2.1 .1-2.7 1.1 2.1-.3"/><path color="#06a4c9" d="M577 67.5l2.8-1-2.1-1.5-2.8 1.5"/><path color="#07a9c3" d="M602.1 66.5l-2.1-.7-2.8-.8 2.2 1.8"/><path color="#2ab6a6" d="M382.9 66.1l2.8-.8-2.1-.9-2.8 .9"/><path color="#0daebb" d="M627.2 67.7l-2.7-.9 2.1-.3 2.8-.6"/><path color="#079cd0" d="M507.2 69.2l2.8 .2-2.1-1.4-2.8 .4"/><path color="#06a4c9" d="M567.2 67.4l-2.1-1.1-2.8 .1 2.2 2"/><path color="#14b0b5" d="M557.4 63.6l2.2 2.9 2.7-.1-2.1-2"/><path color="#7cbf7c" d="M592.3 61.4l-2.1 .5-2.7 1.5 2.1-.7"/><path color="#06a6c7" d="M477.9 67.6l-2.8 .3 2.1 .5 2.8 0"/><path color="#07a9c3" d="M602.1 66.5l2.2 1 2.7-.6-2.1-.9"/><path color="#5dbe8a" d="M592.3 61.4l2.2 2.8 2.7 .8-2.1-1.7"/><path color="#07a9c3" d="M542.1 67.7l2.8-.6-2.1-1.8-2.8 .1"/><path color="#066fdf" d="M452.7 71.3l-2.7 1.5 2.1 1.2 2.8-1.5"/><path color="#06a4ca" d="M497.4 68.7l-2.1-1-2.8 .7 2.2 1"/><path color="#7ebf7b" d="M637 62.3l-2.1 2.2-2.8 .7 2.2-2"/><path color="#07a9c2" d="M567.2 67.4l2.2-.7 2.7-.1-2.1-.1"/><path color="#0770df" d="M427.6 71.6l2.2 1.3 2.7-.3-2.1-1.3"/><path color="#046ce0" d="M447.2 74.3l2.8-1.5-2.1-1.4-2.8 1.6"/><path color="#137fd6" d="M427.6 71.6l-2.1-.8-2.8-2.3 2.2 .7"/><path color="#18b1b3" d="M392.7 67.3l2.8 .4-2.1-1.8-2.8-.1"/><path color="#09acbe" d="M462.5 69l-2.1-3.8-2.8 3.7 2.2 2.4"/><path color="#079dcf" d="M522.5 67.7l-2.7 .7 2.1 1.1 2.8-.1"/><path color="#06a6c6" d="M472.3 68.2l2.8-.3-2.1-1.1-2.8 .7"/><path color="#06a7c5" d="M611.9 67l-2.1-.7-2.8 .6 2.1 .8"/><path color="#12afb7" d="M532.3 65.3l-2.1-1.4-2.8 2.7 2.2 1.6"/><path color="#06a6c6" d="M497.4 68.7l2.2-.8 2.7 .2-2.1 .1"/><path color="#066edf" d="M437.4 73.5l-2.1-1.2-2.8 .3 2.1 1.2"/><path color="#1fb3ad" d="M417.8 65.3l-2.1 .7-2.7 .4 2.1-.8"/><path color="#1eb3ae" d="M621.7 65.9l2.8 .9-2.1-1.4-2.8-1"/><path color="#08aac0" d="M408.1 67.8l-2.8 .3 2.1 0 2.8-1.2"/><path color="#06a6c7" d="M487.6 68l-2.7 .6 2.1 1 2.8-.6"/><path color="#0badbc" d="M417.8 65.3l2.2 .8 2.7 2.4-2.1-.8"/><path color="#069fce" d="M517 69.1l2.8-.7-2.1-.3-2.8 1.3"/><path color="#056ee0" d="M437.4 73.5l2.1 .9 2.8-.7-2.1-1.1"/><path color="#06a7c6" d="M577 67.5l-2.1-1-2.8 .1 2.1 .2"/><path color="#1cb3af" d="M532.3 65.3l2.2 2.1 2.7-1-2.1-2.1"/><path color="#0aacbd" d="M611.9 67l2.1 1 2.8-1.8-2.1-1.2"/><path color="#24b5aa" d="M462.5 69l2.2-2.4 2.7 .5-2.1 .8"/><path color="#06a7c5" d="M402.5 68.5l2.8-.4-2.1-.3-2.8 .5"/><path color="#1eb3ae" d="M557.4 63.6l-2.7 .9 2.1 2.7 2.8-.7"/><path color="#06a5c8" d="M507.2 69.2l-2.1-.8-2.8-.3 2.1 0"/><path color="#1db3af" d="M382.9 66.1l2.2 2.3 2.7-1.3-2.1-1.8"/><path color="#07a9c2" d="M602.1 66.5l-2.7 .3 2.1 1.4 2.8-.7"/><path color="#09abbf" d="M542.1 67.7l-2.1-2.3-2.8 1 2.1 2.2"/><path color="#06a7c6" d="M482.1 69.3l2.8-.7-2.1-.9-2.8 .7"/><path color="#06a3cb" d="M577 67.5l2.1 .1 2.8-1.4-2.1 .3"/><path color="#056de0" d="M447.2 74.3l-2.1-1.3-2.8 .7 2.1 1.2"/><path color="#06a1cc" d="M507.2 69.2l2.1-.7 2.8 .4-2.1 .5"/><path color="#07a9c3" d="M567.2 67.4l-2.7 1 2.1-.9 2.8-.8"/><path color="#7abf7c" d="M592.3 61.4l-2.7 1.3 2.1 1.4 2.8 .1"/><path color="#18b1b3" d="M551.9 65.4l2.8-.9-2.1 .3-2.8 1.1"/><path color="#3bb99c" d="M586.8 64l2.8-1.3-2.1 .7-2.8 1.4"/><path color="#18b2b2" d="M392.7 67.3l-2.1-1.5-2.8 1.3 2.2 1.9"/><path color="#09acbe" d="M542.1 67.7l2.1-.9 2.8-.4-2.1 .7"/><path color="#1484d4" d="M457 73.7l2.8-2.4-2.2-2.4-2.7 3.6"/><path color="#137fd7" d="M427.6 71.6l-2.7-2.4 2.1 2.8 2.8 .9"/><path color="#89bf76" d="M637 62.3l-2.7 .9 2.1 3.7 2.8-.8"/><path color="#06a4c9" d="M561.7 69.5l2.8-1.1-2.2-2-2.7 .1"/><path color="#0a96d1" d="M526.8 71.1l2.8-2.9-2.2-1.6-2.7 2.8"/><path color="#046ce0" d="M447.2 74.3l2.1 1.2 2.8-1.5-2.1-1.2"/><path color="#25b5aa" d="M472.3 68.2l-2.1-.7-2.8-.4 2.1-.9"/><path color="#26b5a9" d="M621.7 65.9l-2.1-1.5-2.8 1.8 2.1 1.3"/><path color="#07a9c2" d="M497.4 68.7l-2.7 .7 2.1-2.2 2.8 .7"/><path color="#15b0b5" d="M392.7 67.3l2.2 .3 2.7 .4-2.1-.3"/><path color="#15b0b5" d="M596.6 67.1l2.8-.3-2.2-1.8-2.7-.8"/><path color="#0aacbd" d="M532.3 65.3l-2.7 2.9 2.1 1.2 2.8-2"/><path color="#13b0b6" d="M462.5 69l-2.7 2.3 2.1-1.1 2.8-3.6"/><path color="#08aac0" d="M472.3 68.2l2.1 .2 2.8 0-2.1-.5"/><path color="#0770df" d="M437.4 73.5l-2.8 .3 2.2 1.2 2.7-.6"/><path color="#06a8c4" d="M611.9 67l-2.8 .7 2.2 1.2 2.7-.9"/><path color="#7ebf7b" d="M631.5 64.1l2.8-.9-2.2 2-2.7 .7"/><path color="#06a2cb" d="M491.9 70.1l2.8-.7-2.2-1-2.7 .6"/><path color="#06a3ca" d="M517 69.1l-2.1 .3-2.8-.5 2.1-.5"/><path color="#1eb3ae" d="M621.7 65.9l2.1 1.1 2.8-.5-2.1 .3"/><path color="#2eb7a4" d="M417.8 65.3l-2.7 .3 2.1 .9 2.8-.4"/><path color="#09abbf" d="M402.5 68.5l-2.1-.2-2.8-.3 2.1 .2"/><path color="#06a3ca" d="M517 69.1l2.1 .5 2.8-.1-2.1-1.1"/><path color="#0c74dd" d="M457 73.7l-2.1-1.2-2.8 1.5 2.1 1.2"/><path color="#08aac1" d="M606.4 68.4l2.7-.7-2.1-.8-2.7 .6"/><path color="#08aac0" d="M482.1 69.3l-2.1-.9-2.8 0 2.1 .5"/><path color="#16b1b4" d="M586.8 64l-2.1 .8-2.8 1.4 2.1-.3"/><path color="#07a9c3" d="M577 67.5l-2.8-.7 2.2-.8 2.7 1.6"/><path color="#0b73dd" d="M431.9 74.1l2.7-.3-2.1-1.2-2.7 .3"/><path color="#1ab2b1" d="M551.9 65.4l-2.1 .5-2.8 .5 2.1-.7"/><path color="#07a9c2" d="M402.5 68.5l2.1 .8 2.8-1.2-2.1 0"/><path color="#22b4ab" d="M412.3 66l2.8-.4-2.1 .8-2.8 .5"/><path color="#0aacbd" d="M542.1 67.7l-2.8 .9 2.2 .1 2.7-1.9"/><path color="#108fd2" d="M526.8 71.1l-2.1-1.7-2.8 .1 2.1 1.1"/><path color="#06a8c5" d="M482.1 69.3l2.1 .8 2.8-.5-2.1-1"/><path color="#056de0" d="M447.2 74.3l-2.8 .6 2.2 1.1 2.7-.5"/><path color="#07aac2" d="M507.2 69.2l-2.8-1.1 2.2-.1 2.7 .5"/><path color="#06a5c8" d="M561.7 69.5l-2.1-3-2.8 .7 2.1 2.7"/><path color="#19b2b2" d="M551.9 65.4l2.1 2.5 2.8-.7-2.1-2.7"/><path color="#09abbf" d="M536.6 69.5l2.7-.9-2.1-2.2-2.7 1"/><path color="#17b1b3" d="M392.7 67.3l-2.7 1.7 2.1-.4 2.8-1"/><path color="#0a96d1" d="M526.8 71.1l2.1 .2 2.8-1.9-2.1-1.2"/><path color="#65be86" d="M631.5 64.1l-2.1 1.8-2.8 .6 2.1-.4"/><path color="#1db3af" d="M641.3 69.9l-2.1-3.8-2.8 .8 2.1 3.6"/><path color="#08aac1" d="M387.2 70.6l2.8-1.6-2.2-1.9-2.7 1.3"/><path color="#06a7c5" d="M596.6 67.1l2.1 1.8 2.8-.7-2.1-1.4"/><path color="#128bd2" d="M457 73.7l2.1 .2 2.8-3.7-2.1 1.1"/><path color="#06a3ca" d="M491.9 70.1l-2.1-1.1-2.8 .6 2.1 .9"/><path color="#5dbe8a" d="M586.8 64l2.1-.1 2.8 .2-2.1-1.4"/><path color="#06a5c9" d="M561.7 69.5l2.1-1.3 2.8-.7-2.1 .9"/><path color="#13b0b6" d="M571.5 66l2.7 .8-2.1-.2-2.7 .1"/><path color="#20b4ad" d="M621.7 65.9l-2.8 1.6 2.2 1.2 2.7-1.7"/><path color="#0971de" d="M441.7 75.4l2.7-.5-2.1-1.2-2.8 .7"/><path color="#32b8a2" d="M596.6 67.1l-2.1-2.9-2.8-.1 2.1 1.3"/><path color="#0daebb" d="M422.1 66.9l2.8 2.3-2.2-.7-2.7-2.4"/><path color="#32b8a1" d="M472.3 68.2l-2.8-2 2.2 2.1 2.7 .1"/><path color="#0cadbc" d="M616.2 69.1l2.7-1.6-2.1-1.3-2.8 1.8"/><path color="#89bf76" d="M631.5 64.1l2.1 3.5 2.8-.7-2.1-3.7"/><path color="#07a9c2" d="M606.4 68.4l-2.1-.9-2.8 .7 2.1 1.4"/><path color="#0cadbc" d="M501.7 67.1l2.7 1-2.1 0-2.7-.2"/><path color="#19b2b1" d="M412.3 66l-2.1 .9-2.8 1.2 2.1-.1"/><path color="#09abbf" d="M402.5 68.5l-2.8-.3 2.2 1.7 2.7-.6"/><path color="#09abbf" d="M517 69.1l-2.8-.7 2.2-.6 2.7 1.8"/><path color="#17b1b3" d="M491.9 70.1l2.1-3.5 2.8 .6-2.1 2.2"/><path color="#07aac2" d="M606.4 68.4l2.1 1.4 2.8-.9-2.2-1.2"/><path color="#0e77db" d="M431.9 74.1l-2.1-1.2-2.8-.9 2.1 2.8"/><path color="#09abbf" d="M482.1 69.3l-2.8-.4 2.2 1.7 2.7-.5"/><path color="#1079da" d="M457 73.7l-2.8 1.5 2.1 .5 2.8-1.8"/><path color="#0b74dd" d="M431.9 74.1l2.1 1.5 2.8-.6-2.2-1.2"/><path color="#07aac2" d="M536.6 69.5l-2.1-2.1-2.8 2 2.1 1.1"/><path color="#06a5c8" d="M581.3 67.8l2.7-1.9-2.1 .3-2.8 1.4"/><path color="#066edf" d="M451.4 76.6l2.8-1.4-2.1-1.2-2.8 1.5"/><path color="#1cb3af" d="M551.9 65.4l-2.8 .3 2.2 2.8 2.7-.6"/><path color="#0f90d2" d="M526.8 71.1l-2.8-.5 2.1 .7 2.8 0"/><path color="#07a9c3" d="M641.3 69.9l-2.8 .6 2.1 1.3 2.8-.5"/><path color="#2eb7a4" d="M412.3 66l2.1 .9 2.8-.4-2.1-.9"/><path color="#06a5c8" d="M561.7 69.5l-2.8 .4 2.1-1 2.8-.7"/><path color="#3eba9a" d="M586.8 64l-2.8 1.9 2.2-1.8 2.7-.2"/><path color="#06a8c4" d="M536.6 69.5l2.1 1 2.8-1.8-2.2-.1"/><path color="#07a9c3" d="M616.2 69.1l-2.2-1.1-2.7 .9 2.1 1.2"/><path color="#0972de" d="M441.7 75.4l-2.2-1-2.7 .6 2.1 1.3"/><path color="#0daebb" d="M511.5 67.8l2.7 .6-2.1 .5-2.8-.4"/><path color="#1eb3ae" d="M571.5 66l-2.1 .7-2.8 .8 2.1-1"/><path color="#0eaeba" d="M596.6 67.1l-2.8-1.7 2.1 3.5 2.8 0"/><path color="#b3bd65" d="M466.8 64.3l2.7 1.9-2.1 .9-2.7-.5"/><path color="#06a4ca" d="M422.1 66.9l2.1 4.2 2.8 .9-2.1-2.8"/><path color="#6dbf82" d="M631.5 64.1l-2.8 2 2.1 2.8 2.8-1.3"/><path color="#1bb2b0" d="M397 67.9l2.7 .3-2.1-.2-2.7-.4"/><path color="#35b8a0" d="M625.9 68.2l2.8-2.1-2.1 .4-2.8 .5"/><path color="#08aac1" d="M387.2 70.6l2.1-.9 2.8-1.1-2.1 .4"/><path color="#2fb7a3" d="M546.4 65.9l2.7-.2-2.1 .7-2.8 .4"/><path color="#1ab2b1" d="M476.6 68.6l2.7 .3-2.1-.5-2.8 0"/><path color="#0a72de" d="M441.7 75.4l2.1 1.1 2.8-.5-2.2-1.1"/><path color="#2eb7a4" d="M422.1 66.9l-2.1-.8-2.8 .4 2.1 .8"/><path color="#0aacbd" d="M616.2 69.1l2.1 1.4 2.8-1.8-2.2-1.2"/><path color="#06a8c4" d="M556.1 70.3l2.8-.4-2.1-2.7-2.8 .7"/><path color="#06a1cc" d="M521.2 70.1l2.8 .5-2.1-1.1-2.8 .1"/><path color="#07a9c3" d="M606.4 68.4l-2.8 1.2 2.1 1.1 2.8-.9"/><path color="#45bb96" d="M571.5 66l2.1-1.6 2.8 1.6-2.2 .8"/><path color="#1db3af" d="M635.7 71.2l2.8-.7-2.1-3.6-2.8 .7"/><path color="#3bb99c" d="M501.7 67.1l-2.1 .8-2.8-.7 2.1-2.1"/><path color="#21b4ac" d="M491.9 70.1l-2.8 .4 2.1-3.3 2.8-.6"/><path color="#046de0" d="M451.4 76.6l-2.1-1.1-2.7 .5 2.1 1.1"/><path color="#0b73dd" d="M431.9 74.1l-2.8 .7 2.1 1.6 2.8-.8"/><path color="#06a8c4" d="M486.3 71l2.8-.5-2.1-.9-2.8 .5"/><path color="#09abbf" d="M406.8 70.1l2.7-2.1-2.1 .1-2.8 1.2"/><path color="#16b1b4" d="M501.7 67.1l2.1 .4 2.8 .5-2.2 .1"/><path color="#06a5c8" d="M600.8 70.8l2.8-1.2-2.1-1.4-2.8 .7"/><path color="#16b1b4" d="M581.3 67.8l-2.2-.2-2.7-1.6 2.1-.8"/><path color="#24b5aa" d="M412.3 66l-2.8 2 2.2 .2 2.7-1.3"/><path color="#06a7c6" d="M536.6 69.5l-2.8 1 2.1 1.2 2.8-1.2"/><path color="#a4be6b" d="M466.8 64.3l-2.1 2.3-2.8 3.6 2.1-1"/><path color="#056ee0" d="M451.4 76.6l2.2 1 2.7-1.9-2.1-.5"/><path color="#17b1b3" d="M625.9 68.2l-2.1-1.2-2.7 1.7 2.1 1.3"/><path color="#25b5a9" d="M546.4 65.9l-2.2 .9-2.7 1.9 2.1 0"/><path color="#06a2cb" d="M531 71.5l2.8-1-2.1-1.1-2.8 1.9"/><path color="#23b4ab" d="M397 67.9l-2.1-.3-2.8 1 2.1-.3"/><path color="#19b2b2" d="M511.5 67.8l-2.2 .7-2.7-.5 2.1-.2"/><path color="#06a8c4" d="M616.2 69.1l-2.8 1 2.1 1.2 2.8-.8"/><path color="#0c74dd" d="M441.7 75.4l-2.8 .9 2.1 .3 2.8-.1"/><path color="#70bf80" d="M591 63.8l2.8 1.6-2.1-1.3-2.8-.2"/><path color="#24b5aa" d="M476.6 68.6l-2.2-.2-2.7-.1 2.1 2.2"/><path color="#137ed7" d="M426.3 75.4l2.8-.6-2.1-2.8-2.8-.9"/><path color="#2fb7a3" d="M581.3 67.8l2.1-3.4 2.8-.3-2.2 1.8"/><path color="#07a9c2" d="M556.1 70.3l-2.1-2.4-2.7 .6 2.1 2.8"/><path color="#0faeb9" d="M422.1 66.9l-2.8 .4 2.1 3.6 2.8 .2"/><path color="#06a6c7" d="M461.2 74.1l2.8-4.9-2.1 1-2.8 3.7"/><path color="#0cadbc" d="M397 67.9l2.1 2.6 2.8-.6-2.2-1.7"/><path color="#2cb7a5" d="M625.9 68.2l2.2 1.9 2.7-1.2-2.1-2.8"/><path color="#b7bd64" d="M466.8 64.3l2.1 4 2.8 0-2.2-2.1"/><path color="#16b1b4" d="M476.6 68.6l2.1 2.5 2.8-.5-2.2-1.7"/><path color="#2db7a5" d="M546.4 65.9l2.1 3.2 2.8-.6-2.2-2.8"/><path color="#19b2b1" d="M635.7 71.2l-2.1-3.6-2.8 1.3 2.2 2.7"/><path color="#07a9c3" d="M635.7 71.2l2.2 1 2.7-.4-2.1-1.3"/><path color="#06a7c6" d="M610.6 71.1l2.8-1-2.1-1.2-2.8 .9"/><path color="#06a4c9" d="M406.8 70.1l-2.2-.8-2.7 .6 2.1 1.7"/><path color="#41ba99" d="M511.5 67.8l2.1-1.7 2.8 1.7-2.2 .6"/><path color="#0871de" d="M436.1 77.1l2.8-.8-2.1-1.3-2.8 .6"/><path color="#07a9c2" d="M556.1 70.3l2.2-.7 2.7-.7-2.1 1"/><path color="#06a8c4" d="M486.3 71l-2.1-.9-2.7 .5 2.1 1.7"/><path color="#66be85" d="M571.5 66l-2.8 .5 2.1-1.2 2.8-.9"/><path color="#1cb3af" d="M565.9 67l2.8-.5-2.1 1-2.8 .7"/><path color="#06a1cc" d="M521.2 70.1l2.2 1.2 2.7 0-2.1-.7"/><path color="#079ecf" d="M600.8 70.8l-2.1-1.9-2.8 0 2.2 3.5"/><path color="#23b4ab" d="M521.2 70.1l-2.1-.5-2.7-1.8 2.1-.6"/><path color="#06a6c7" d="M645.5 72.7l-2.1-1.4-2.8 .5 2.2 1.2"/><path color="#137ed7" d="M461.2 74.1l-2.1-.2-2.8 1.8 2.2 .6"/><path color="#046de0" d="M451.4 76.6l-2.7 .5 2.1 .3 2.8 .2"/><path color="#06a4c9" d="M600.8 70.8l2.2 .8 2.7-.9-2.1-1.1"/><path color="#4ebc91" d="M501.7 67.1l-2.8-2 2.1 1.5 2.8 .9"/><path color="#28b6a7" d="M416.5 67.8l2.8-.5-2.1-.8-2.8 .4"/><path color="#06a0cd" d="M531 71.5l-2.1-.2-2.8 0 2.2 .7"/><path color="#10afb9" d="M406.8 70.1l2.1-.6 2.8-1.3-2.2-.2"/><path color="#07aac1" d="M540.8 71.6l2.8-2.9-2.1 0-2.8 1.8"/><path color="#a9be69" d="M466.8 64.3l-2.8 4.9 2.1 2.1 2.8-3"/><path color="#11afb7" d="M625.9 68.2l-2.7 1.8 2.1 .7 2.8-.6"/><path color="#3dba9b" d="M591 63.8l2.2 5 2.7 .1-2.1-3.5"/><path color="#046de0" d="M426.3 75.4l2.2 1.8 2.7-.8-2.1-1.6"/><path color="#20b4ad" d="M546.4 65.9l-2.8 2.8 2.1 2.6 2.8-2.2"/><path color="#2eb7a4" d="M486.3 71l2.2-3.2 2.7-.6-2.1 3.3"/><path color="#07a9c3" d="M620.4 71.8l2.8-1.8-2.1-1.3-2.8 1.8"/><path color="#0870df" d="M445.9 77.5l2.8-.4-2.1-1.1-2.8 .5"/><path color="#06a5c8" d="M531 71.5l2.2 1.3 2.7-1.1-2.1-1.2"/><path color="#17b1b3" d="M476.6 68.6l-2.8 1.9 2.1 1.9 2.8-1.3"/><path color="#13b0b6" d="M397 67.9l-2.8 .4 2.1 1.7 2.8 .5"/><path color="#64be86" d="M581.3 67.8l-2.8-2.6 2.1-1.4 2.8 .6"/><path color="#acbe68" d="M591 63.8l-2.1 .1-2.7 .2 2.1-1.7"/><path color="#128bd3" d="M426.3 75.4l-2.1-4.3-2.8-.2 2.2 3.5"/><path color="#06a6c7" d="M610.6 71.1l-2.1-1.3-2.8 .9 2.1 1"/><path color="#07a9c2" d="M556.1 70.3l-2.7 1 2.1-.1 2.8-1.6"/><path color="#056ee0" d="M436.1 77.1l-2.1-1.5-2.8 .8 2.2 1.7"/><path color="#08abc0" d="M635.7 71.2l-2.7 .4 2.1 0 2.8 .6"/><path color="#1eb3ae" d="M565.9 67l-2.1 1.2-2.8 .7 2.2-1"/><path color="#37b99e" d="M471 72.3l2.8-1.8-2.1-2.2-2.8 0"/><path color="#09acbe" d="M461.2 74.1l2.2 .2 2.7-3-2.1-2.1"/><path color="#06a5c8" d="M610.6 71.1l2.1 1 2.8-.8-2.1-1.2"/><path color="#5dbe89" d="M511.5 67.8l-2.8 0 2.1-1.6 2.8-.1"/><path color="#1cb3b0" d="M391.4 68.8l2.8-.5-2.1 .3-2.8 1.1"/><path color="#089bd0" d="M600.8 70.8l-2.7 1.6 2.1 .3 2.8-1.1"/><path color="#07aac1" d="M550.6 72.4l2.8-1.1-2.1-2.8-2.8 .6"/><path color="#adbe68" d="M496.1 63.1l2.8 2-2.1 2.1-2.8-.6"/><path color="#0f77db" d="M436.1 77.1l2.1-.3 2.8-.2-2.1-.3"/><path color="#06a3ca" d="M540.8 71.6l-2.1-1.1-2.8 1.2 2.1 1.2"/><path color="#06a8c5" d="M406.8 70.1l-2.8 1.5 2.1-.9 2.8-1.2"/><path color="#089ad0" d="M401.2 73.2l2.8-1.6-2.1-1.7-2.8 .6"/><path color="#26b5a9" d="M416.5 67.8l-2.1-.9-2.7 1.3 2.1 .1"/><path color="#24b5ab" d="M505.9 67.9l2.8-.1-2.1 .2-2.8-.5"/><path color="#06a6c7" d="M645.5 72.7l-2.7 .3 2.1 .9 2.7-.5"/><path color="#19b2b2" d="M416.5 67.8l2.2 2.8 2.7 .3-2.1-3.6"/><path color="#046de0" d="M455.7 78.5l2.8-2.2-2.2-.6-2.7 1.9"/><path color="#2ab6a7" d="M521.2 70.1l-2.7-2.9 2.1 1.5 2.8 2.6"/><path color="#06a7c6" d="M480.8 73.6l2.8-1.3-2.1-1.7-2.8 .5"/><path color="#0cadbb" d="M630.2 72l2.8-.4-2.2-2.7-2.7 1.2"/><path color="#26b5a9" d="M486.3 71l-2.7 1.3 2.1-2.2 2.8-2.3"/><path color="#06a5c8" d="M620.4 71.8l-2.1-1.3-2.8 .8 2.1 1.2"/><path color="#0b95d2" d="M595.3 73.9l2.8-1.5-2.2-3.5-2.7-.1"/><path color="#06a5c8" d="M540.8 71.6l2.1 2 2.8-2.3-2.1-2.6"/><path color="#1389d3" d="M461.2 74.1l-2.7 2.2 2.1-.4 2.8-1.6"/><path color="#62be87" d="M565.9 67l2.2-.7 2.7-1-2.1 1.2"/><path color="#06a4c9" d="M531 71.5l-2.7 .5 2.1 1.4 2.8-.6"/><path color="#b3bd65" d="M575.7 62.7l2.8 2.5-2.1 .8-2.8-1.6"/><path color="#0e76dc" d="M426.3 75.4l-2.7-1 2.1 2.6 2.8 .2"/><path color="#1079da" d="M445.9 77.5l-2.1-1-2.8 .1 2.1 .4"/><path color="#29b6a7" d="M471 72.3l-2.1-4-2.8 3 2.1 2.2"/><path color="#8bbf75" d="M591 63.8l-2.7-1.4 2.1 4.8 2.8 1.6"/><path color="#06a6c7" d="M640 73.3l2.8-.3-2.2-1.2-2.7 .4"/><path color="#09abbf" d="M620.4 71.8l2.1-.5 2.8-.6-2.1-.7"/><path color="#0f78db" d="M445.9 77.5l2.1-.4 2.8 .3-2.1-.3"/><path color="#09abbe" d="M471 72.3l2.1 1.4 2.8-1.3-2.1-1.9"/><path color="#06a5c8" d="M550.6 72.4l-2.1-3.3-2.8 2.2 2.1 2.6"/><path color="#06a5c8" d="M610.6 71.1l-2.8 .6 2.2 .8 2.7-.4"/><path color="#06a3ca" d="M525.5 72.4l2.8-.4-2.2-.7-2.7 0"/><path color="#0c74dd" d="M436.1 77.1l-2.7 1 2.1 .1 2.7-1.4"/><path color="#d6ba57" d="M496.1 63.1l-2.1 3.5-2.8 .6 2.2-3.3"/><path color="#06a4ca" d="M550.6 72.4l2.1 .4 2.8-1.6-2.1 .1"/><path color="#0870df" d="M455.7 78.5l-2.1-.9-2.8-.2 2.1 .2"/><path color="#06a6c7" d="M480.8 73.6l-2.1-2.5-2.8 1.3 2.1 2"/><path color="#06a1cd" d="M401.2 73.2l-2.1-2.7-2.8-.5 2.1 1.6"/><path color="#079ecf" d="M540.8 71.6l-2.8 1.3 2.2 1.2 2.7-.5"/><path color="#06a5c8" d="M605.1 72.4l2.7-.7-2.1-1-2.7 .9"/><path color="#1bb2b0" d="M416.5 67.8l-2.7 .5 2.1 3.2 2.8-.9"/><path color="#0267e1" d="M430.6 79l2.8-.9-2.2-1.7-2.7 .8"/><path color="#0faeb9" d="M630.2 72l-2.1-1.9-2.8 .6 2.1 .7"/><path color="#50bc90" d="M565.9 67l-2.7 .9 2.1 1.5 2.8-3.1"/><path color="#28b6a8" d="M391.4 68.8l2.2 .6 2.7 .6-2.1-1.7"/><path color="#31b8a2" d="M505.9 67.9l-2.1-.4-2.8-.9 2.2 1.4"/><path color="#23b5ab" d="M560.4 68.9l2.8-1-2.2 1-2.7 .7"/><path color="#1484d4" d="M595.3 73.9l2.1-.1 2.8-1.1-2.1-.3"/><path color="#079cd0" d="M401.2 73.2l2.1-1.2 2.8-1.3-2.1 .9"/><path color="#06a1cc" d="M535.3 74.1l2.7-1.2-2.1-1.2-2.7 1.1"/><path color="#18b1b2" d="M630.2 72l2.1-1.1 2.8 .7-2.1 0"/><path color="#bfbc60" d="M496.1 63.1l2.2 2.6 2.7 .9-2.1-1.5"/><path color="#b1bd66" d="M515.7 64.4l2.8 2.8-2.1 .6-2.8-1.7"/><path color="#06a1cd" d="M595.3 73.9l-2.1-5.1-2.8-1.6 2.1 4.9"/><path color="#1079da" d="M455.7 78.5l2.1-1.1 2.8-1.5-2.1 .4"/><path color="#e4b950" d="M575.7 62.7l-2.1 1.7-2.8 .9 2.2-1.2"/><path color="#07a9c2" d="M480.8 73.6l2.1-1.3 2.8-2.2-2.1 2.2"/><path color="#06a8c4" d="M620.4 71.8l-2.8 .7 2.2-.4 2.7-.8"/><path color="#06a5c8" d="M420.8 73.4l2.8 1-2.2-3.5-2.7-.3"/><path color="#06a8c3" d="M471 72.3l-2.8 1.2 2.2 1 2.7-.8"/><path color="#64be86" d="M505.9 67.9l2.1-1.6 2.8-.1-2.1 1.6"/><path color="#23b4ab" d="M411 68.8l2.8-.5-2.1-.1-2.8 1.3"/><path color="#e1b952" d="M585.5 61l2.8 1.4-2.1 1.7-2.8 .3"/><path color="#12afb7" d="M640 73.3l-2.1-1.1-2.8-.6 2.1-.1"/><path color="#1482d5" d="M445.9 77.5l-2.8-.5 2.2-.1 2.7 .2"/><path color="#06a6c7" d="M640 73.3l2.1 1 2.8-.4-2.1-.9"/><path color="#06a4ca" d="M614.9 73.1l2.7-.6-2.1-1.2-2.8 .8"/><path color="#06a8c4" d="M465.5 74.6l2.7-1.1-2.1-2.2-2.7 3"/><path color="#069ece" d="M550.6 72.4l-2.8 1.5 2.2-.4 2.7-.7"/><path color="#e4b950" d="M575.7 62.7l2.1 .6 2.8 .5-2.1 1.4"/><path color="#06a3ca" d="M525.5 72.4l2.1 1.5 2.8-.5-2.1-1.4"/><path color="#06a4ca" d="M605.1 72.4l-2.1-.8-2.8 1.1 2.1 .4"/><path color="#0d92d2" d="M545.1 75.5l2.7-1.6-2.1-2.6-2.8 2.3"/><path color="#17b1b3" d="M560.4 68.9l-2.1 .7-2.8 1.6 2.1-.1"/><path color="#24b5aa" d="M525.5 72.4l-2.1-1.1-2.8-2.6 2.1 1.4"/><path color="#0268e1" d="M430.6 79l-2.1-1.8-2.8-.2 2.1 2.7"/><path color="#06a7c5" d="M649.8 74.1l-2.2-.7-2.7 .5 2.1 .9"/><path color="#06a1cc" d="M535.3 74.1l-2.1-1.3-2.8 .6 2.1 1.4"/><path color="#06a0cd" d="M401.2 73.2l-2.8-1.6 2.2 .8 2.7-.4"/><path color="#128bd3" d="M440.4 76.5l2.7 .5-2.1-.4-2.8 .2"/><path color="#128bd2" d="M595.3 73.9l-2.8-1.8 2.1 1.3 2.8 .4"/><path color="#0268e1" d="M430.6 79l2.1 .6 2.8-1.4-2.1-.1"/><path color="#06a6c7" d="M480.8 73.6l-2.8 .8 2.2-1 2.7-1.1"/><path color="#06a7c6" d="M605.1 72.4l2.1 .6 2.8-.5-2.2-.8"/><path color="#0d92d2" d="M420.8 73.4l2.1 3.5 2.8 .1-2.1-2.6"/><path color="#127cd8" d="M455.7 78.5l-2.8-.9 2.1-.3 2.8 .1"/><path color="#24b5aa" d="M630.2 72l-2.8-.6 2.1-.5 2.8 0"/><path color="#20b4ad" d="M411 68.8l-2.1 .7-2.8 1.2 2.1-.9"/><path color="#16b1b3" d="M560.4 68.9l2.1 3.6 2.8-3.1-2.1-1.5"/><path color="#ecb94c" d="M496.1 63.1l-2.7 .8 2.1 1.9 2.8-.1"/><path color="#06a1cc" d="M535.3 74.1l2.1 .6 2.8-.6-2.2-1.2"/><path color="#5dbe8a" d="M505.9 67.9l-2.7 .1 2.1-.3 2.7-1.4"/><path color="#06a5c8" d="M475.3 75.1l2.7-.7-2.1-2-2.8 1.3"/><path color="#07a9c3" d="M420.8 73.4l-2.1-2.8-2.8 .9 2.1 3.2"/><path color="#d9ba56" d="M490.6 64.6l2.8-.7-2.2 3.3-2.7 .6"/><path color="#06a2cc" d="M465.5 74.6l-2.1-.3-2.8 1.6 2.1-.4"/><path color="#e4b950" d="M515.7 64.4l-2.1 1.7-2.8 .1 2.1-1.6"/><path color="#fabc42" d="M585.5 61l-2.1 3.4-2.8-.6 2.1-1.4"/><path color="#16b1b3" d="M411 68.8l2.1 3.6 2.8-.9-2.1-3.2"/><path color="#d7ba56" d="M515.7 64.4l2.1 1.7 2.8 2.6-2.1-1.5"/><path color="#06a5c8" d="M614.9 73.1l-2.2-1-2.7 .4 2.1 .8"/><path color="#e8b94f" d="M585.5 61l2.1 4.6 2.8 1.6-2.1-4.8"/><path color="#0e92d2" d="M545.1 75.5l-2.2-1.9-2.7 .5 2.1 1.3"/><path color="#fec239" d="M575.7 62.7l-2.7 1.4 2.1 2 2.7-2.8"/><path color="#d9ba56" d="M570.2 65.6l2.8-1.5-2.2 1.2-2.7 1"/><path color="#10afb8" d="M640 73.3l-2.8-1.8 2.1 2.3 2.8 .5"/><path color="#5ebe89" d="M500.4 68.2l2.8-.2-2.2-1.4-2.7-.9"/><path color="#1bb2b0" d="M624.7 70.7l2.7 .7-2.1-.7-2.8 .6"/><path color="#06a8c3" d="M465.5 74.6l2.1 .7 2.8-.8-2.2-1"/><path color="#1389d3" d="M450.2 76.8l2.7 .8-2.1-.2-2.8-.3"/><path color="#06a6c7" d="M614.9 73.1l2.1-.2 2.8-.8-2.2 .4"/><path color="#19b2b2" d="M525.5 72.4l-2.8-2.3 2.1 3 2.8 .8"/><path color="#0364e1" d="M430.6 79l-2.8 .7 2.1 .6 2.8-.7"/><path color="#1388d3" d="M440.4 76.5l-2.2 .3-2.7 1.4 2.1 .2"/><path color="#06a7c5" d="M554.9 73.2l2.7-2.1-2.1 .1-2.8 1.6"/><path color="#0a96d1" d="M545.1 75.5l2.1-1.4 2.8-.6-2.2 .4"/><path color="#1fb3ae" d="M395.7 70l2.7 1.6-2.1-1.6-2.7-.6"/><path color="#09acbe" d="M560.4 68.9l-2.8 2.2 2.1 1.6 2.8-.2"/><path color="#06a7c6" d="M605.1 72.4l-2.8 .7 2.1 .7 2.8-.8"/><path color="#b4bd65" d="M490.6 64.6l-2.1 3.2-2.8 2.3 2.1-2.3"/><path color="#0998d1" d="M420.8 73.4l-2.8 1.3 2.1 3.4 2.8-1.2"/><path color="#06a7c6" d="M475.3 75.1l-2.2-1.4-2.7 .8 2.1 1.1"/><path color="#06a2cb" d="M535.3 74.1l-2.8 .7 2.1 .4 2.8-.5"/><path color="#8cbf75" d="M570.2 65.6l-2.1 .7-2.8 3.1 2.1 1.5"/><path color="#069ece" d="M599.5 73.8l2.8-.7-2.1-.4-2.8 1.1"/><path color="#18b2b2" d="M411 68.8l-2.8 1 2.2 3.2 2.7-.6"/><path color="#19b2b2" d="M649.8 74.1l-2.8 .7 2.1-1.6 2.8-.8"/><path color="#0899d1" d="M440.4 76.5l2.1 .2 2.8 .2-2.2 .1"/><path color="#3fba9a" d="M589.8 70.2l2.7 1.9-2.1-4.9-2.8-1.6"/><path color="#0a72de" d="M425 80.4l2.8-.7-2.1-2.7-2.8-.1"/><path color="#06a7c5" d="M644.2 75.4l2.8-.6-2.1-.9-2.8 .4"/><path color="#06a3cb" d="M529.7 75.4l2.8-.6-2.1-1.4-2.8 .5"/><path color="#06a8c4" d="M475.3 75.1l2.1-.6 2.8-1.1-2.2 1"/><path color="#079ecf" d="M564.6 76.1l2.8-5.2-2.1-1.5-2.8 3.1"/><path color="#fdbe3d" d="M585.5 61l-2.8 1.4 2.2 4.1 2.7-.9"/><path color="#fec13a" d="M515.7 64.4l-2.8 .2 2.2 3.4 2.7-1.9"/><path color="#61be88" d="M634.4 69.8l2.8 1.7-2.1 .1-2.8-.7"/><path color="#17b1b3" d="M405.5 70.8l2.7-1-2.1 .9-2.8 1.3"/><path color="#07a9c3" d="M465.5 74.6l-2.8 .9 2.1-.1 2.8-.1"/><path color="#069ece" d="M415.3 76.1l2.7-1.4-2.1-3.2-2.8 .9"/><path color="#1bb2b0" d="M624.7 70.7l-2.2 .6-2.7 .8 2.1-.4"/><path color="#079bd0" d="M459.9 76.4l2.8-.9-2.1 .4-2.8 1.5"/><path color="#fec239" d="M490.6 64.6l2.1 1.2 2.8 0-2.1-1.9"/><path color="#06a5c8" d="M554.9 73.2l-2.2-.4-2.7 .7 2.1-.5"/><path color="#99bf70" d="M500.4 68.2l-2.1-2.5-2.8 .1 2.1 1.8"/><path color="#d8ba56" d="M570.2 65.6l2.1 3.4 2.8-2.9-2.1-2"/><path color="#089ad0" d="M450.2 76.8l-2.2 .3-2.7-.2 2.1 0"/><path color="#fec932" d="M580 63.9l2.7-1.5-2.1 1.4-2.8-.5"/><path color="#089ad1" d="M545.1 75.5l-2.8-.1 2.1-1 2.8-.3"/><path color="#37b99e" d="M500.4 68.2l2.1 .8 2.8-1.3-2.1 .3"/><path color="#08abc0" d="M614.9 73.1l-2.8 .2 2.1-2.6 2.8 2.2"/><path color="#41ba98" d="M485.1 71l2.7-3.2-2.1 2.3-2.8 2.2"/><path color="#ebb94d" d="M510.2 64.7l2.7-.1-2.1 1.6-2.8 .1"/><path color="#32b8a2" d="M624.7 70.7l2.1 .3 2.7-.1-2.1 .5"/><path color="#13b0b6" d="M395.7 70l2.1 2.8 2.8-.4-2.2-.8"/><path color="#0998d1" d="M450.2 76.8l2.1 .4 2.7 .1-2.1 .3"/><path color="#07a9c2" d="M609.3 73.5l2.8-.2-2.1-.8-2.8 .5"/><path color="#0972de" d="M434.8 80.2l2.8-1.8-2.1-.2-2.8 1.4"/><path color="#08aac0" d="M589.8 70.2l2.1 2.7 2.7 .5-2.1-1.3"/><path color="#06a0cd" d="M599.5 73.8l-2.1 0-2.8-.4 2.2 1.3"/><path color="#09abbf" d="M554.9 73.2l2.1-.4 2.7-.1-2.1-1.6"/><path color="#d5bb58" d="M520 67.8l2.7 2.3-2.1-1.4-2.8-2.6"/><path color="#7ebf7b" d="M570.2 65.6l-2.8 5.3 2.1 1.8 2.8-3.7"/><path color="#0998d1" d="M440.4 76.5l-2.8 1.9 2.1-.6 2.8-1.1"/><path color="#06a2cc" d="M539.5 75.3l2.8 .1-2.1-1.3-2.8 .6"/><path color="#118cd2" d="M564.6 76.1l-2.1-3.6-2.8 .2 2.2 1.6"/><path color="#0971de" d="M425 80.4l-2.1-3.5-2.8 1.2 2.2 3.3"/><path color="#07a9c2" d="M475.3 75.1l-2.8 .5 2.1 .2 2.8-1.3"/><path color="#1485d4" d="M415.3 76.1l2.1 3.1 2.7-1.1-2.1-3.4"/><path color="#0265e1" d="M425 80.4l2.2 .7 2.7-.8-2.1-.6"/><path color="#0daeba" d="M405.5 70.8l-2.2 1.2-2.7 .4 2.1 .8"/><path color="#06a8c4" d="M644.2 75.4l-2.1-1.1-2.8-.5 2.2 2.4"/><path color="#dfba53" d="M490.6 64.6l-2.8 3.2 2.1 2.2 2.8-4.2"/><path color="#06a6c7" d="M599.5 73.8l2.2 .9 2.7-.9-2.1-.7"/><path color="#6dbf82" d="M589.8 70.2l-2.2-4.6-2.7 .9 2.1 4.1"/><path color="#06a6c7" d="M529.7 75.4l-2.1-1.5-2.8-.8 2.2 3.1"/><path color="#079ecf" d="M415.3 76.1l-2.2-3.7-2.7 .6 2.1 3.1"/><path color="#e7b94f" d="M580 63.9l-2.2-.6-2.7 2.8 2.1 2.1"/><path color="#0a97d1" d="M564.6 76.1l2.2 .2 2.7-3.6-2.1-1.8"/><path color="#19b2b2" d="M485.1 71l-2.2 1.3-2.7 1.1 2.1-.9"/><path color="#079cd0" d="M459.9 76.4l-2.1 1-2.8-.1 2.2-.3"/><path color="#7bbf7c" d="M634.4 69.8l-2.1 1.1-2.8 0 2.2-.4"/><path color="#06a8c4" d="M469.7 76.1l2.8-.5-2.1-1.1-2.8 .8"/><path color="#06a4c9" d="M529.7 75.4l2.2 .2 2.7-.4-2.1-.4"/><path color="#5abd8b" d="M634.4 69.8l2.2 3.6 2.7 .4-2.1-2.3"/><path color="#21b4ac" d="M405.5 70.8l2.1 2.7 2.8-.5-2.2-3.2"/><path color="#19b2b2" d="M644.2 75.4l2.1-1.5 2.8-.7-2.1 1.6"/><path color="#c8bc5d" d="M510.2 64.7l-2.2 1.6-2.7 1.4 2.1-.4"/><path color="#6abe83" d="M500.4 68.2l-2.8-.6 2.1 .8 2.8 .6"/><path color="#f0b94a" d="M580 63.9l2.1 3.5 2.8-.9-2.2-4.1"/><path color="#0269e1" d="M434.8 80.2l-2.1-.6-2.8 .7 2.2 .7"/><path color="#2db7a4" d="M624.7 70.7l-2.8 1 2.1 .8 2.8-1.5"/><path color="#07a9c2" d="M609.3 73.5l-2.1-.5-2.8 .8 2.2 .8"/><path color="#0cadbc" d="M619.1 72.7l2.8-1-2.1 .4-2.8 .8"/><path color="#a0be6d" d="M520 67.8l2.1 4.5 2.7 .8-2.1-3"/><path color="#06a3ca" d="M450.2 76.8l-2.8 .1 2.1 .6 2.8-.3"/><path color="#6ebf82" d="M574.4 72.5l2.8-4.3-2.1-2.1-2.8 2.9"/><path color="#0bacbd" d="M554.9 73.2l-2.8-.2 2.1 .1 2.8-.3"/><path color="#e3b951" d="M510.2 64.7l2.1 5.3 2.8-2-2.2-3.4"/><path color="#08abc0" d="M459.9 76.4l2.2-.9 2.7-.1-2.1 .1"/><path color="#18b2b2" d="M589.8 70.2l-2.8 .4 2.1 3.8 2.8-1.5"/><path color="#41ba98" d="M485.1 71l2.1 3.1 2.7-4.1-2.1-2.2"/><path color="#dbba55" d="M520 67.8l-2.2-1.7-2.7 1.9 2.1 3.5"/><path color="#06a7c5" d="M539.5 75.3l-2.1-.6-2.8 .5 2.2 .3"/><path color="#1484d4" d="M564.6 76.1l-2.7-1.8 2.1 2.4 2.8-.4"/><path color="#0562e0" d="M425 80.4l-2.7 1 2.1 .8 2.8-1.1"/><path color="#1483d5" d="M415.3 76.1l-2.8 0 2.1 3.6 2.8-.5"/><path color="#06a6c7" d="M599.5 73.8l-2.7 .9 2.1 .9 2.8-.9"/><path color="#1480d6" d="M434.8 80.2l2.1-1.3 2.8-1.1-2.1 .6"/><path color="#09abbf" d="M549.3 72.8l2.8 .2-2.1 .5-2.8 .6"/><path color="#06a3cb" d="M444.6 76.9l2.8 0-2.1 0-2.8-.2"/><path color="#c2bc5f" d="M580 63.9l-2.8 4.3 2.1 1.3 2.8-2.1"/><path color="#15b0b5" d="M405.5 70.8l-2.8 2.4 2.1 1.9 2.8-1.6"/><path color="#06a7c5" d="M539.5 75.3l2.1-.6 2.8-.3-2.1 1"/><path color="#20b4ad" d="M574.4 72.5l-2.1-3.5-2.8 3.7 2.2 1.8"/><path color="#07a9c2" d="M399.9 75.5l2.8-2.3-2.1-.8-2.8 .4"/><path color="#edb94c" d="M494.8 67.1l2.8 .5-2.1-1.8-2.8 0"/><path color="#37b99e" d="M609.3 73.5l2.1-4.9 2.8 2.1-2.1 2.6"/><path color="#11afb7" d="M644.2 75.4l-2.7 .8 2.1-.5 2.7-1.8"/><path color="#0aacbd" d="M469.7 76.1l-2.1-.8-2.8 .1 2.2 0"/><path color="#06a8c3" d="M594 75.6l2.8-.9-2.2-1.3-2.7-.5"/><path color="#06a8c5" d="M529.7 75.4l-2.7 .8 2.1-1.2 2.8 .6"/><path color="#0267e1" d="M419.5 82.4l2.8-1-2.2-3.3-2.7 1.1"/><path color="#71bf80" d="M634.4 69.8l-2.7 .7 2.1 3.5 2.8-.6"/><path color="#12afb7" d="M485.1 71l-2.8 1.5 2.1 2.7 2.8-1.1"/><path color="#b6bd64" d="M510.2 64.7l-2.8 2.6 2.1 4.2 2.8-1.5"/><path color="#5dbe8a" d="M504.6 69.9l2.8-2.6-2.1 .4-2.8 1.3"/><path color="#07a9c3" d="M469.7 76.1l2.1 1 2.8-1.3-2.1-.2"/><path color="#1cb3b0" d="M479.5 74l2.8-1.5-2.1 .9-2.8 1.1"/><path color="#52bd8f" d="M514.4 75.2l2.8-3.7-2.1-3.5-2.8 2"/><path color="#0cadbc" d="M638.7 76.9l2.8-.7-2.2-2.4-2.7-.4"/><path color="#9dbe6e" d="M520 67.8l-2.8 3.7 2.1 2.9 2.8-2.1"/><path color="#85bf78" d="M654 70.6l-2.1 1.8-2.8 .8 2.1-1.6"/><path color="#09abbf" d="M459.9 76.4l-2.7 .6 2.1-.7 2.8-.8"/><path color="#66be85" d="M584.2 70.9l2.8-.3-2.1-4.1-2.8 .9"/><path color="#15b1b4" d="M524.2 76.9l2.8-.7-2.2-3.1-2.7-.8"/><path color="#62be87" d="M574.4 72.5l2.1-.8 2.8-2.2-2.1-1.3"/><path color="#06a3ca" d="M454.4 77.6l2.8-.6-2.2 .3-2.7-.1"/><path color="#06a8c4" d="M409.7 76.1l2.8 0-2.1-3.1-2.8 .5"/><path color="#5bbd8a" d="M628.9 71.2l2.8-.7-2.2 .4-2.7 .1"/><path color="#cebb5a" d="M494.8 67.1l-2.1-1.3-2.8 4.2 2.2 2.1"/><path color="#37b99e" d="M619.1 72.7l-2.1 .2-2.8-2.2 2.1-2.5"/><path color="#1078da" d="M434.8 80.2l-2.7 .8 2.1-1.5 2.7-.6"/><path color="#11afb7" d="M619.1 72.7l2.1 1.3 2.8-1.5-2.1-.8"/><path color="#0eaeba" d="M559.1 72.4l2.8 1.9-2.2-1.6-2.7 .1"/><path color="#06a5c8" d="M603.8 75.7l2.8-1.1-2.2-.8-2.7 .9"/><path color="#036be1" d="M429.3 81.8l2.8-.8-2.2-.7-2.7 .8"/><path color="#10afb8" d="M549.3 72.8l-2.1 1.3-2.8 .3 2.1-1"/><path color="#06a4c9" d="M444.6 76.9l-2.1-.2-2.8 1.1 2.1-.6"/><path color="#0aacbe" d="M539.5 75.3l-2.7 .2 2.1-.2 2.7-.6"/><path color="#06a2cb" d="M594 75.6l-2.1-2.7-2.8 1.5 2.1 3.7"/><path color="#38b99e" d="M609.3 73.5l-2.7 1.1 2.1-3 2.7-3"/><path color="#0eaeba" d="M489.3 77.2l2.8-5.1-2.2-2.1-2.7 4.1"/><path color="#0562e0" d="M419.5 82.4l-2.1-3.2-2.8 .5 2.1 3.5"/><path color="#06a2cb" d="M568.9 76.6l2.8-2.1-2.2-1.8-2.7 3.6"/><path color="#06a5c8" d="M399.9 75.5l2.1 1.2 2.8-1.6-2.1-1.9"/><path color="#16b1b4" d="M514.4 75.2l-2.1-5.2-2.8 1.5 2.1 4.2"/><path color="#20b4ad" d="M574.4 72.5l-2.7 2 2.1 .9 2.7-3.7"/><path color="#2450cf" d="M419.5 82.4l2.1 1 2.8-1.2-2.1-.8"/><path color="#0cadbc" d="M584.2 70.9l2.1 4.9 2.8-1.4-2.1-3.8"/><path color="#15b0b4" d="M479.5 74l-2.1 .5-2.8 1.3 2.1 .2"/><path color="#eab94e" d="M494.8 67.1l2.2 .7 2.7 .6-2.1-.8"/><path color="#14b0b5" d="M514.4 75.2l2.1 1.4 2.8-2.2-2.1-2.9"/><path color="#06a5c8" d="M444.6 76.9l2.1 .9 2.8-.3-2.1-.6"/><path color="#06a6c7" d="M594 75.6l2.1 .8 2.8-.8-2.1-.9"/><path color="#6abe83" d="M504.6 69.9l-2.1-.9-2.8-.6 2.2 .8"/><path color="#06a8c3" d="M534 75.8l2.8-.3-2.2-.3-2.7 .4"/><path color="#0aacbd" d="M469.7 76.1l-2.7-.7 2.1 1.8 2.7-.1"/><path color="#1eb3ae" d="M549.3 72.8l2.1 .5 2.8-.2-2.1-.1"/><path color="#83bf79" d="M584.2 70.9l-2.1-3.5-2.8 2.1 2.1 1.4"/><path color="#48bb94" d="M504.6 69.9l2.1 3.2 2.8-1.6-2.1-4.2"/><path color="#0bacbd" d="M638.7 76.9l-2.1-3.5-2.8 .6 2.1 3.6"/><path color="#0e90d2" d="M409.7 76.1l2.1 4 2.8-.4-2.1-3.6"/><path color="#18b1b2" d="M524.2 76.9l-2.1-4.6-2.8 2.1 2.1 3"/><path color="#38b99e" d="M628.9 71.2l-2.1-.2-2.8 1.5 2.1 .8"/><path color="#08aac1" d="M409.7 76.1l-2.1-2.6-2.8 1.6 2.1 1.9"/><path color="#06a5c9" d="M638.7 76.9l2.1 .6 2.8-1.8-2.1 .5"/><path color="#1bb2b1" d="M479.5 74l2.1 2.3 2.8-1.1-2.1-2.7"/><path color="#0899d1" d="M489.3 77.2l-2.1-3.1-2.8 1.1 2.1 2.8"/><path color="#06a5c8" d="M454.4 77.6l-2.1-.4-2.8 .3 2.1 .6"/><path color="#16b1b3" d="M524.2 76.9l2.1-2.4 2.8 .5-2.1 1.2"/><path color="#44bb97" d="M628.9 71.2l2.1 3.5 2.8-.7-2.1-3.5"/><path color="#0364e1" d="M429.3 81.8l-2.1-.7-2.8 1.1 2.1 .9"/><path color="#0c94d2" d="M568.9 76.6l-2.1-.3-2.8 .4 2.1 2.5"/><path color="#96bf71" d="M654 70.6l-2.8 1 2.2 2 2.7-.8"/><path color="#06a3ca" d="M603.8 75.7l-2.1-1-2.8 .9 2.1 .8"/><path color="#cdbb5b" d="M494.8 67.1l-2.7 5 2.1 1 2.8-5.3"/><path color="#06a7c5" d="M559.1 72.4l2.1 4.7 2.8-.4-2.1-2.4"/><path color="#2fb7a3" d="M559.1 72.4l-2.1 .4-2.8 .3 2.1 0"/><path color="#85bf78" d="M648.5 72.5l2.7-.9-2.1 1.6-2.8 .7"/><path color="#06a0cd" d="M514.4 75.2l-2.8 .5 2.2 2 2.7-1.1"/><path color="#3eba9a" d="M619.1 72.7l-2.8-4.5 2.2 3.4 2.7 2.4"/><path color="#1fb3ad" d="M464.2 74.7l2.8 .7-2.2 0-2.7 .1"/><path color="#08aac1" d="M454.4 77.6l2.1-.5 2.8-.8-2.1 .7"/><path color="#2d49c4" d="M419.5 82.4l-2.8 .8 2.1 .3 2.8-.1"/><path color="#079ecf" d="M594 75.6l-2.8 2.5 2.1-.6 2.8-1.1"/><path color="#1486d4" d="M588.5 80.6l2.7-2.5-2.1-3.7-2.8 1.4"/><path color="#22b4ab" d="M584.2 70.9l-2.8 0 2.2 5.3 2.7-.4"/><path color="#06a6c7" d="M489.3 77.2l2.1 1.2 2.8-5.3-2.1-1"/><path color="#06a3cb" d="M568.9 76.6l2.1 2.6 2.8-3.8-2.1-.9"/><path color="#06a7c6" d="M444.6 76.9l-2.8 .3 2.2 .9 2.7-.3"/><path color="#28b6a8" d="M549.3 72.8l-2.8 .6 2.2 1.4 2.7-1.5"/><path color="#50bc90" d="M504.6 69.9l-2.7-.7 2.1 3.1 2.7 .8"/><path color="#117ada" d="M429.3 81.8l2.1-1.6 2.8-.7-2.1 1.5"/><path color="#0bacbd" d="M603.8 75.7l2.1-1.1 2.8-3-2.1 3"/><path color="#15b0b5" d="M479.5 74l-2.8 2 2.2 1.8 2.7-1.5"/><path color="#09abbf" d="M474 78l2.7-2-2.1-.2-2.8 1.3"/><path color="#0a97d1" d="M409.7 76.1l-2.8 .9 2.2 3.4 2.7-.3"/><path color="#26b5a9" d="M534 75.8l-2.1-.2-2.8-.6 2.1-1.1"/><path color="#06a1cd" d="M638.7 76.9l-2.8 .7 2.1 .5 2.8-.6"/><path color="#1bb2b0" d="M543.8 74.1l2.7-.7-2.1 1-2.8 .3"/><path color="#06a0cd" d="M439.1 77.5l2.7-.3-2.1 .6-2.8 1.1"/><path color="#0462e1" d="M414 84.1l2.7-.9-2.1-3.5-2.8 .4"/><path color="#25b5aa" d="M628.9 71.2l-2.8 2.1 2.1 2.7 2.8-1.3"/><path color="#1388d3" d="M489.3 77.2l-2.8 .8 2.1 1 2.8-.6"/><path color="#08abc0" d="M508.9 76.3l2.7-.6-2.1-4.2-2.8 1.6"/><path color="#19b2b1" d="M524.2 76.9l-2.8 .5 2.1-.7 2.8-2.2"/><path color="#0bacbd" d="M534 75.8l2.1 .1 2.8-.6-2.1 .2"/><path color="#12afb7" d="M623.4 75.4l2.7-2.1-2.1-.8-2.8 1.5"/><path color="#59bd8b" d="M648.5 72.5l-2.2 1.4-2.7 1.8 2.1-.5"/><path color="#0e90d2" d="M568.9 76.6l-2.8 2.6 2.1 2.1 2.8-2.1"/><path color="#17b1b3" d="M559.1 72.4l-2.8 .7 2.1 5 2.8-1"/><path color="#1389d3" d="M563.3 81.8l2.8-2.6-2.1-2.5-2.8 .4"/><path color="#1480d6" d="M588.5 80.6l-2.2-4.8-2.7 .4 2.1 5.4"/><path color="#07a9c2" d="M454.4 77.6l-2.8 .5 2.1 .2 2.8-1.2"/><path color="#07aac2" d="M518.7 78l2.7-.6-2.1-3-2.8 2.2"/><path color="#aebe67" d="M578.7 70.9l2.7 0-2.1-1.4-2.8 2.2"/><path color="#06a8c4" d="M633.1 78.2l2.8-.6-2.1-3.6-2.8 .7"/><path color="#06a4c9" d="M404.2 77.9l2.7-.9-2.1-1.9-2.8 1.6"/><path color="#28b6a8" d="M464.2 74.7l-2.1 .8-2.8 .8 2.1-.7"/><path color="#06a8c5" d="M603.8 75.7l-2.8 .7 2.1-.3 2.8-1.5"/><path color="#06a6c7" d="M483.8 78.7l2.7-.7-2.1-2.8-2.8 1.1"/><path color="#2d49c4" d="M423.7 84.4l2.8-1.3-2.1-.9-2.8 1.2"/><path color="#1484d4" d="M588.5 80.6l2.1-1.9 2.7-1.2-2.1 .6"/><path color="#0d75dc" d="M429.3 81.8l-2.8 1.3 2.1-2 2.8-.9"/><path color="#1eb3ae" d="M464.2 74.7l2.1 2.6 2.8-.1-2.1-1.8"/><path color="#f1b94a" d="M499.1 68.6l2.8 .6-2.2-.8-2.7-.6"/><path color="#06a6c7" d="M448.9 78.6l2.7-.5-2.1-.6-2.8 .3"/><path color="#96bf71" d="M648.5 72.5l2.1 1.9 2.8-.8-2.2-2"/><path color="#06a8c4" d="M474 78l-2.2-.9-2.7 .1 2.1 1.7"/><path color="#06a4c9" d="M598.2 77.1l2.8-.7-2.1-.8-2.8 .8"/><path color="#50bc90" d="M658.3 75l-2.2-2.2-2.7 .8 2.1 2.1"/><path color="#1eb3ae" d="M543.8 74.1l-2.2 .6-2.7 .6 2.1-.2"/><path color="#069fce" d="M439.1 77.5l-2.2 1.4-2.7 .6 2.1-1.5"/><path color="#37b99f" d="M553.6 73.9l2.7-.8-2.1 0-2.8 .2"/><path color="#06a0cd" d="M508.9 76.3l2.1 2.5 2.8-1.1-2.2-2"/><path color="#7bbf7c" d="M578.7 70.9l-2.2 .8-2.7 3.7 2.1 1"/><path color="#08aac1" d="M474 78l2.1 1.3 2.8-1.5-2.2-1.8"/><path color="#0269e1" d="M414 84.1l-2.2-4-2.7 .3 2.1 3.4"/><path color="#2a4cc8" d="M414 84.1l2.1-.6 2.7 0-2.1-.3"/><path color="#d1bb59" d="M613.6 63.6l2.7 4.6-2.1 2.5-2.8-2.1"/><path color="#15b0b5" d="M508.9 76.3l-2.2-3.2-2.7-.8 2.1 3.2"/><path color="#0badbd" d="M642.9 78l2.8-2.8-2.1 .5-2.8 1.8"/><path color="#34b8a0" d="M534 75.8l-2.8-1.9 2.1 1.6 2.8 .4"/><path color="#1482d5" d="M563.3 81.8l-2.1-4.7-2.8 1 2.2 4.9"/><path color="#16b1b4" d="M623.4 75.4l-2.2-1.4-2.7-2.4 2.1 3.5"/><path color="#1fb3ae" d="M543.8 74.1l2.1 2.2 2.8-1.5-2.2-1.4"/><path color="#0cadbc" d="M623.4 75.4l2.1 2 2.7-1.4-2.1-2.7"/><path color="#06a4ca" d="M518.7 78l-2.2-1.4-2.7 1.1 2.1 1.9"/><path color="#0f78db" d="M563.3 81.8l2.2 1.6 2.7-2.1-2.1-2.1"/><path color="#0998d1" d="M573.1 81.8l2.8-5.4-2.1-1-2.8 3.8"/><path color="#84bf78" d="M578.7 70.9l2.1 5.8 2.8-.5-2.2-5.3"/><path color="#d3bb58" d="M499.1 68.6l-2.1-.8-2.8 5.3 2.1 .9"/><path color="#07a9c3" d="M439.1 77.5l2.1 .9 2.8-.3-2.2-.9"/><path color="#06a7c6" d="M633.1 78.2l-2.1-3.5-2.8 1.3 2.2 2.8"/><path color="#0899d1" d="M404.2 77.9l2.1 2.8 2.8-.3-2.2-3.4"/><path color="#07a9c3" d="M483.8 78.7l-2.2-2.4-2.7 1.5 2.1 1.8"/><path color="#06a0cd" d="M633.1 78.2l2.2 .5 2.7-.6-2.1-.5"/><path color="#127cd8" d="M588.5 80.6l-2.8 1 2.1-1.8 2.8-1.1"/><path color="#6cbf83" d="M648.5 72.5l-2.8 2.7 2.1 1.3 2.8-2.1"/><path color="#06a4c9" d="M493.5 79.5l2.8-5.5-2.1-.9-2.8 5.3"/><path color="#2c4ac5" d="M423.7 84.4l-2.1-1-2.8 .1 2.2 .2"/><path color="#09abbf" d="M518.7 78l2.1 .9 2.7-2.2-2.1 .7"/><path color="#06a0cd" d="M483.8 78.7l2.1 .8 2.7-.5-2.1-1"/><path color="#06a6c6" d="M598.2 77.1l-2.1-.7-2.8 1.1 2.2-.6"/><path color="#29b6a7" d="M464.2 74.7l-2.8 .9 2.1 2 2.8-.3"/><path color="#06a7c6" d="M448.9 78.6l-2.2-.8-2.7 .3 2.1 .8"/><path color="#cfbb5a" d="M499.1 68.6l2.1 3 2.8 .7-2.1-3.1"/><path color="#29b6a7" d="M553.6 73.9l-2.2-.6-2.7 1.5 2.1 1.4"/><path color="#0c75dc" d="M573.1 81.8l-2.1-2.6-2.8 2.1 2.2 2.1"/><path color="#14b0b5" d="M553.6 73.9l2.1 5.1 2.7-.9-2.1-5"/><path color="#06a7c6" d="M474 78l-2.8 .9 2.1 1 2.8-.6"/><path color="#0d92d2" d="M582.9 82.5l2.8-.9-2.1-5.4-2.8 .5"/><path color="#33b8a1" d="M658.3 75l-2.8 .7 2.1 1.6 2.8-.7"/><path color="#21b4ac" d="M458.6 76.6l2.8-1-2.1 .7-2.8 .8"/><path color="#57bd8d" d="M578.7 70.9l-2.8 5.5 2.1 3.5 2.8-3.2"/><path color="#06a7c6" d="M508.9 76.3l-2.8-.8 2.1 2.8 2.8 .5"/><path color="#06a7c5" d="M448.9 78.6l2.1 .9 2.7-1.2-2.1-.2"/><path color="#06a3cb" d="M642.9 78l-2.1-.5-2.8 .6 2.2 .5"/><path color="#056ee0" d="M563.3 81.8l-2.7 1.2 2.1 1.5 2.8-1.1"/><path color="#1484d4" d="M493.5 79.5l-2.1-1.1-2.8 .6 2.2 .9"/><path color="#06a6c7" d="M598.2 77.1l2.2 .5 2.7-1.5-2.1 .3"/><path color="#0267e1" d="M423.7 84.4l2.2-2.4 2.7-.9-2.1 2"/><path color="#d9ba56" d="M613.6 63.6l-2.2 5-2.7 3 2.1-3"/><path color="#a8be6a" d="M528.4 72l2.8 1.9-2.1 1.1-2.8-.5"/><path color="#1eb3ae" d="M543.8 74.1l-2.8 1 2.1 1.9 2.8-.7"/><path color="#09abbf" d="M623.4 75.4l-2.8-.3 2.1 2.8 2.8-.5"/><path color="#0d5dde" d="M414 84.1l-2.8-.3 2.1-1.4 2.8 1.1"/><path color="#07aac1" d="M468.4 79.8l2.8-.9-2.1-1.7-2.8 .1"/><path color="#138ad3" d="M573.1 81.8l2.1 1.4 2.8-3.3-2.1-3.5"/><path color="#08aac1" d="M439.1 77.5l-2.8 .5 2.1 .4 2.8 0"/><path color="#06a5c8" d="M518.7 78l-2.8 1.6 2.1 1 2.8-1.7"/><path color="#1db3af" d="M538.2 76.1l2.8-1-2.1 .2-2.8 .6"/><path color="#dbba55" d="M613.6 63.6l2.1 5.6 2.8 2.4-2.2-3.4"/><path color="#06a1cd" d="M633.1 78.2l-2.7 .6 2.1 .4 2.8-.5"/><path color="#50bc90" d="M652.7 76.4l2.8-.7-2.1-2.1-2.8 .8"/><path color="#b6bd64" d="M499.1 68.6l-2.8 5.4 2.1 1 2.8-3.4"/><path color="#11afb7" d="M642.9 78l2.1 .7 2.8-2.2-2.1-1.3"/><path color="#06a0cd" d="M433.5 78.5l2.8-.5-2.1 1.5-2.8 .7"/><path color="#59bd8c" d="M608 73.6l2.8-5-2.1 3-2.8 3"/><path color="#0b96d1" d="M513.1 81.3l2.8-1.7-2.1-1.9-2.8 1.1"/><path color="#06a6c7" d="M483.8 78.7l-2.8 .9 2.1 .7 2.8-.8"/><path color="#1481d6" d="M557.8 84.1l2.8-1.1-2.2-4.9-2.7 .9"/><path color="#0aacbd" d="M553.6 73.9l-2.8 2.3 2.1 4.5 2.8-1.7"/><path color="#0e91d2" d="M582.9 82.5l-2.1-5.8-2.8 3.2 2.1 3.6"/><path color="#07a9c2" d="M493.5 79.5l2.2-1.1 2.7-3.4-2.1-1"/><path color="#15b1b4" d="M458.6 76.6l-2.1 .5-2.8 1.2 2.2 .1"/><path color="#0e76dc" d="M408.4 83.6l2.8 .2-2.1-3.4-2.8 .3"/><path color="#036be0" d="M573.1 81.8l-2.7 1.6 2.1 1.1 2.7-1.3"/><path color="#06a4c9" d="M627.6 79.4l2.8-.6-2.2-2.8-2.7 1.4"/><path color="#06a6c7" d="M478.2 80.5l2.8-.9-2.1-1.8-2.8 1.5"/><path color="#0faeb9" d="M548 78.5l2.8-2.3-2.1-1.4-2.8 1.5"/><path color="#06a7c6" d="M448.9 78.6l-2.8 .3 2.1 1.1 2.8-.5"/><path color="#137ed7" d="M582.9 82.5l2.1-1.6 2.8-1.1-2.1 1.8"/><path color="#07a9c2" d="M598.2 77.1l-2.7-.2 2.1 1.2 2.8-.5"/><path color="#a6be6b" d="M528.4 72l-2.1 2.5-2.8 2.2 2.2-.8"/><path color="#056ee0" d="M567.6 84.9l2.8-1.5-2.2-2.1-2.7 2.1"/><path color="#0269e1" d="M423.7 84.4l-2.7-.7 2.1-2.4 2.8 .7"/><path color="#1ab2b1" d="M608 73.6l-2.1 1-2.8 1.5 2.2-.2"/><path color="#62be87" d="M503.3 74.6l2.8 .9-2.1-3.2-2.8-.7"/><path color="#65be86" d="M617.8 74.9l2.8 .2-2.1-3.5-2.8-2.4"/><path color="#2bb6a6" d="M458.6 76.6l2.2 1.3 2.7-.3-2.1-2"/><path color="#3eba9a" d="M652.7 76.4l-2.1-2-2.8 2.1 2.1 1.3"/><path color="#06a5c8" d="M642.9 78l-2.7 .6 2.1 .8 2.7-.7"/><path color="#0cadbc" d="M468.4 79.8l-2.1-2.5-2.8 .3 2.2 1.9"/><path color="#25b5aa" d="M538.2 76.1l-2.1-.2-2.8-.4 2.2 1.7"/><path color="#e2b952" d="M613.6 63.6l-2.8 5 2.1 4.3 2.8-3.7"/><path color="#06a5c8" d="M468.4 79.8l2.2 .8 2.7-.7-2.1-1"/><path color="#06a8c4" d="M443.3 79.3l2.8-.4-2.1-.8-2.8 .3"/><path color="#0e91d2" d="M493.5 79.5l-2.7 .4 2.1-.5 2.8-1"/><path color="#b7bd64" d="M528.4 72l2.2 3.1 2.7 .4-2.1-1.6"/><path color="#06a8c3" d="M592.7 76.7l2.8 .2-2.2 .6-2.7 1.2"/><path color="#069ece" d="M433.5 78.5l-2.1 1.7-2.8 .9 2.2-2"/><path color="#046de0" d="M557.8 84.1l2.1 1.5 2.8-1.1-2.1-1.5"/><path color="#0265e1" d="M418.2 83l2.8 .7-2.2-.2-2.7 0"/><path color="#33b8a1" d="M652.7 76.4l2.1 1.6 2.8-.7-2.1-1.6"/><path color="#137fd7" d="M557.8 84.1l-2.1-5.1-2.8 1.7 2.1 4.4"/><path color="#0997d1" d="M513.1 81.3l-2.1-2.5-2.8-.5 2.1 2.8"/><path color="#22b4ac" d="M538.2 76.1l2.2 1.7 2.7-.8-2.1-1.9"/><path color="#06a4c9" d="M637.4 79.2l2.8-.6-2.2-.5-2.7 .6"/><path color="#0c94d2" d="M513.1 81.3l2.1 1.1 2.8-1.8-2.1-1"/><path color="#069fce" d="M488 80.4l2.8-.5-2.2-.9-2.7 .5"/><path color="#21b4ac" d="M522.9 79.8l2.8-3.9-2.2 .8-2.7 2.2"/><path color="#2ab6a6" d="M662.5 78.3l-2.1-1.7-2.8 .7 2.1 1.6"/><path color="#0bacbd" d="M548 78.5l-2.1-2.2-2.8 .7 2.1 2"/><path color="#5ebe89" d="M608 73.6l2.2 2.9 2.7-3.6-2.1-4.3"/><path color="#06a2cc" d="M548 78.5l2.1 3.9 2.8-1.7-2.1-4.5"/><path color="#06a1cd" d="M627.6 79.4l-2.1-2-2.8 .5 2.1 2.8"/><path color="#06a5c8" d="M478.2 80.5l-2.1-1.2-2.8 .6 2.1 1.1"/><path color="#137fd6" d="M582.9 82.5l-2.8 1 2.2-1.2 2.7-1.4"/><path color="#046ce0" d="M567.6 84.9l-2.1-1.5-2.8 1.1 2.1 1.5"/><path color="#14b0b5" d="M617.8 74.9l2.1 3.5 2.8-.5-2.1-2.8"/><path color="#20b4ad" d="M503.3 74.6l2.1 3.2 2.8 .5-2.1-2.8"/><path color="#0bacbd" d="M433.5 78.5l2.1-.1 2.8 0-2.1-.4"/><path color="#06a3cb" d="M627.6 79.4l2.1 .4 2.8-.6-2.1-.4"/><path color="#68be84" d="M503.3 74.6l-2.1-3-2.8 3.4 2.2 1"/><path color="#0e77db" d="M577.4 84.5l2.7-1-2.1-3.6-2.8 3.3"/><path color="#1079da" d="M408.4 83.6l2.1-2.3 2.8 1.1-2.1 1.4"/><path color="#08aac0" d="M453.1 80.3l2.8-1.9-2.2-.1-2.7 1.2"/><path color="#1eb3ae" d="M458.6 76.6l-2.7 1.8 2.1 1.3 2.8-1.8"/><path color="#06a6c7" d="M478.2 80.5l2.1 .6 2.8-.8-2.1-.7"/><path color="#64be86" d="M617.8 74.9l-2.1-5.7-2.8 3.7 2.1 4.3"/><path color="#046ce0" d="M567.6 84.9l2.1 .8 2.8-1.2-2.1-1.1"/><path color="#0dadbb" d="M602.5 78.1l2.8-2.2-2.2 .2-2.7 1.5"/><path color="#b2bd66" d="M528.4 72l-2.7 3.9 2.1 2.3 2.8-3.1"/><path color="#1ab2b1" d="M608 73.6l-2.7 2.3 2.1 2.7 2.8-2.1"/><path color="#036be0" d="M557.8 84.1l-2.8 1 2.2 1.7 2.7-1.2"/><path color="#07a9c2" d="M592.7 76.7l-2.1 2-2.8 1.1 2.1-1.8"/><path color="#27b5a8" d="M652.7 76.4l-2.8 1.4 2.2 1.7 2.7-1.5"/><path color="#06a4c9" d="M522.9 79.8l-2.1-.9-2.8 1.7 2.1 1"/><path color="#07a9c2" d="M468.4 79.8l-2.7-.3 2.1 .7 2.8 .4"/><path color="#09abbf" d="M443.3 79.3l-2.1-.9-2.8 0 2.1 .3"/><path color="#20b4ad" d="M538.2 76.1l-2.7 1.1 2.1 2 2.8-1.4"/><path color="#108fd2" d="M513.1 81.3l-2.8-.2 2.2 2.6 2.7-1.3"/><path color="#12b0b7" d="M647.2 79.3l2.7-1.5-2.1-1.3-2.8 2.2"/><path color="#06a6c7" d="M637.4 79.2l-2.1-.5-2.8 .5 2.1 .5"/><path color="#06a7c5" d="M443.3 79.3l2.1 1.3 2.8-.6-2.1-1.1"/><path color="#069fce" d="M548 78.5l-2.8 .5 2.2 4 2.7-.6"/><path color="#06a7c6" d="M488 80.4l-2.1-.9-2.8 .8 2.1 .7"/><path color="#117ad9" d="M418.2 83l-2.1 .5-2.8-1.1 2.1-1.3"/><path color="#0871df" d="M577.4 84.5l-2.2-1.3-2.7 1.3 2.1 1.1"/><path color="#14b0b5" d="M592.7 76.7l2.1 2 2.8-.6-2.1-1.2"/><path color="#12b0b6" d="M617.8 74.9l-2.8 2.3 2.2 2.4 2.7-1.2"/><path color="#06a6c7" d="M637.4 79.2l2.1 .9 2.8-.7-2.1-.8"/><path color="#4fbc90" d="M532.7 78.3l2.8-1.1-2.2-1.7-2.7-.4"/><path color="#1079da" d="M552.3 86.2l2.7-1.1-2.1-4.4-2.8 1.7"/><path color="#06a0cd" d="M627.6 79.4l-2.8 1.3 2.2 .2 2.7-1.1"/><path color="#1fb4ad" d="M522.9 79.8l2.1 1.4 2.8-3-2.1-2.3"/><path color="#06a7c5" d="M453.1 80.3l-2.1-.8-2.8 .5 2.1 1.1"/><path color="#0aacbe" d="M433.5 78.5l-2.7 .6 2.1 .3 2.7-1"/><path color="#2cb7a5" d="M503.3 74.6l-2.7 1.4 2.1 2.6 2.7-.8"/><path color="#06a3cb" d="M488 80.4l2.1 0 2.8-1-2.1 .5"/><path color="#06a6c7" d="M478.2 80.5l-2.8 .5 2.2 .7 2.7-.6"/><path color="#0998d1" d="M428 79.6l2.8-.5-2.2 2-2.7 .9"/><path color="#046ce0" d="M567.6 84.9l-2.8 1.1 2.1 .9 2.8-1.2"/><path color="#127dd8" d="M418.2 83l2.1-2.3 2.8 .6-2.1 2.4"/><path color="#09abbe" d="M602.5 78.1l-2.1-.5-2.8 .5 2.1 1.3"/><path color="#1db3af" d="M462.9 79.2l2.8 .3-2.2-1.9-2.7 .3"/><path color="#16b1b4" d="M612.3 79.5l2.7-2.3-2.1-4.3-2.7 3.6"/><path color="#089bd0" d="M622.1 82l2.7-1.3-2.1-2.8-2.8 .5"/><path color="#18b1b3" d="M497.8 77.4l2.8-1.4-2.2-1-2.7 3.4"/><path color="#137ed7" d="M577.4 84.5l2.1-.8 2.8-1.4-2.2 1.2"/><path color="#2ab6a6" d="M657 79.6l2.7-.7-2.1-1.6-2.8 .7"/><path color="#09abbf" d="M453.1 80.3l2.1 1.1 2.8-1.7-2.1-1.3"/><path color="#036be1" d="M562 87.1l2.8-1.1-2.1-1.5-2.8 1.1"/><path color="#07a9c3" d="M507.6 81l2.7 .1-2.1-2.8-2.8-.5"/><path color="#08aac1" d="M647.2 79.3l-2.2-.6-2.7 .7 2.1 .8"/><path color="#17b1b3" d="M542.5 79.5l2.7-.5-2.1-2-2.7 .8"/><path color="#08aac0" d="M602.5 78.1l2.1 2.6 2.8-2.1-2.1-2.7"/><path color="#06a7c6" d="M472.7 81.4l2.7-.4-2.1-1.1-2.7 .7"/><path color="#06a3ca" d="M522.9 79.8l-2.8 1.8 2.2 1 2.7-1.4"/><path color="#08aac0" d="M443.3 79.3l-2.8-.6 2.2 2 2.7-.1"/><path color="#079bd0" d="M517.4 83.5l2.7-1.9-2.1-1-2.8 1.8"/><path color="#0eaeba" d="M647.2 79.3l2.1 1.8 2.8-1.6-2.2-1.7"/><path color="#17b1b3" d="M592.7 76.7l-2.8 1.3 2.2 2.1 2.7-1.4"/><path color="#40ba99" d="M532.7 78.3l-2.1-3.2-2.8 3.1 2.1 2.2"/><path color="#06a7c5" d="M587.2 79.3l2.7-1.3-2.1 1.8-2.8 1.1"/><path color="#06a6c7" d="M612.3 79.5l-2.1-3-2.8 2.1 2.1 2.7"/><path color="#0267e1" d="M552.3 86.2l2.1 1.8 2.8-1.2-2.2-1.7"/><path color="#1079da" d="M552.3 86.2l-2.2-3.8-2.7 .6 2.1 4"/><path color="#06a7c6" d="M637.4 79.2l-2.8 .5 2.1 .8 2.8-.4"/><path color="#1ab2b1" d="M532.7 78.3l2.1 2.4 2.8-1.5-2.1-2"/><path color="#07a9c3" d="M488 80.4l-2.8 .6 2.2 .5 2.7-1.1"/><path color="#0aacbe" d="M497.8 77.4l-2.1 1-2.8 1 2.1-.5"/><path color="#07aac1" d="M612.3 79.5l2.1 1.2 2.8-1.1-2.2-2.4"/><path color="#1db3af" d="M462.9 79.2l-2.1-1.3-2.8 1.8 2.1 1.2"/><path color="#127cd8" d="M577.4 84.5l-2.8 1.1 2.1-.2 2.8-1.7"/><path color="#079dcf" d="M428 79.6l-2.1 2.4-2.8-.7 2.1-2.3"/><path color="#06a7c5" d="M453.1 80.3l-2.8 .8 2.2 1.2 2.7-.9"/><path color="#079ccf" d="M622.1 82l-2.2-3.6-2.7 1.2 2.1 2.4"/><path color="#0266e1" d="M562 87.1l-2.1-1.5-2.7 1.2 2.1 1.7"/><path color="#1bb2b0" d="M657 79.6l-2.2-1.6-2.7 1.5 2.1 1.7"/><path color="#06a8c4" d="M631.8 80.2l2.8-.5-2.1-.5-2.8 .6"/><path color="#06a8c5" d="M602.5 78.1l-2.8 1.3 2.1 1.9 2.8-.6"/><path color="#07a9c2" d="M482.5 81.6l2.7-.6-2.1-.7-2.8 .8"/><path color="#0e92d2" d="M507.6 81l2.1 4 2.8-1.3-2.2-2.6"/><path color="#0871df" d="M571.8 86.6l2.8-1-2.1-1.1-2.8 1.2"/><path color="#06a7c6" d="M542.5 79.5l2.1 4.1 2.8-.6-2.2-4"/><path color="#16b1b4" d="M542.5 79.5l-2.1-1.7-2.8 1.4 2.1 2.1"/><path color="#1cb3af" d="M462.9 79.2l2.1 .6 2.8 .4-2.1-.7"/><path color="#0c94d2" d="M418.2 83l-2.8-1.9 2.2-1.3 2.7 .9"/><path color="#18b1b2" d="M437.8 78.2l2.7 .5-2.1-.3-2.8 0"/><path color="#0c94d2" d="M622.1 82l2.1 .1 2.8-1.2-2.2-.2"/><path color="#1487d3" d="M517.4 83.5l-2.2-1.1-2.7 1.3 2.1 2.6"/><path color="#21b4ac" d="M497.8 77.4l2.1 2 2.8-.8-2.1-2.6"/><path color="#0eaeba" d="M507.6 81l-2.2-3.2-2.7 .8 2.1 2.6"/><path color="#09abbf" d="M472.7 81.4l-2.1-.8-2.8-.4 2.1 .8"/><path color="#036ae1" d="M562 87.1l2.2 .9 2.7-1.1-2.1-.9"/><path color="#06a8c5" d="M447.6 81.9l2.7-.8-2.1-1.1-2.8 .6"/><path color="#0cadbc" d="M596.9 80.6l2.8-1.2-2.1-1.3-2.8 .6"/><path color="#06a5c9" d="M587.2 79.3l-2.2 1.6-2.7 1.4 2.1-1.3"/><path color="#07a9c3" d="M428 79.6l2.1 .9 2.8-1.1-2.1-.3"/><path color="#07a9c2" d="M647.2 79.3l-2.8 .9 2.1 1.4 2.8-.5"/><path color="#06a7c6" d="M472.7 81.4l2.1 1 2.8-.7-2.2-.7"/><path color="#0267e1" d="M552.3 86.2l-2.8 .8 2.1 1.9 2.8-.9"/><path color="#0fafb9" d="M532.7 78.3l-2.8 2.1 2.1 1.9 2.8-1.6"/><path color="#06a2cb" d="M612.3 79.5l-2.8 1.8 2.1 .7 2.8-1.3"/><path color="#08aac0" d="M527.1 82.6l2.8-2.2-2.1-2.2-2.8 3"/><path color="#069fce" d="M517.4 83.5l2.1 .6 2.8-1.5-2.2-1"/><path color="#06a7c6" d="M641.6 81l2.8-.8-2.1-.8-2.8 .7"/><path color="#0998d1" d="M606.7 83.2l2.8-1.9-2.1-2.7-2.8 2.1"/><path color="#06a0cd" d="M412.7 79.1l2.7 2-2.1 1.3-2.8-1.1"/><path color="#0aacbd" d="M587.2 79.3l2.1 2.3 2.8-1.5-2.2-2.1"/><path color="#066fdf" d="M571.8 86.6l-2.1-.9-2.8 1.2 2.2 .9"/><path color="#06a7c5" d="M631.8 80.2l-2.1-.4-2.7 1.1 2.1 .3"/><path color="#06a6c6" d="M542.5 79.5l-2.8 1.8 2.1 3.6 2.8-1.3"/><path color="#07a9c3" d="M482.5 81.6l-2.2-.5-2.7 .6 2.1 .8"/><path color="#1eb3ae" d="M462.9 79.2l-2.8 1.7 2.1 .8 2.8-1.9"/><path color="#0c94d2" d="M622.1 82l-2.8 0 2.1 .8 2.8-.7"/><path color="#079bd0" d="M507.6 81l-2.8 .2 2.1 3.1 2.8 .7"/><path color="#19b2b2" d="M497.8 77.4l-2.8 1.5 2.1 1.9 2.8-1.4"/><path color="#09abbf" d="M457.3 82.6l2.8-1.7-2.1-1.2-2.8 1.7"/><path color="#19b2b2" d="M437.8 78.2l-2.2 .2-2.7 1 2.1 .4"/><path color="#0cadbb" d="M492.2 80.5l2.8-1.6-2.1 .5-2.8 1"/><path color="#137ed7" d="M546.7 87.8l2.8-.8-2.1-4-2.8 .6"/><path color="#0265e1" d="M562 87.1l-2.7 1.4 2.1 .8 2.8-1.3"/><path color="#07a9c2" d="M596.9 80.6l-2.1-1.9-2.7 1.4 2.1 2.2"/><path color="#026ae1" d="M511.8 89.1l2.8-2.8-2.1-2.6-2.8 1.3"/><path color="#07a9c2" d="M631.8 80.2l2.2 .8 2.7-.5-2.1-.8"/><path color="#06a7c5" d="M651.4 82.8l2.8-1.6-2.1-1.7-2.8 1.6"/><path color="#08aac1" d="M482.5 81.6l2.1 .9 2.8-1-2.2-.5"/><path color="#06a7c5" d="M447.6 81.9l-2.2-1.3-2.7 .1 2.1 2"/><path color="#14b0b5" d="M437.8 78.2l2.1 2.7 2.8-.2-2.2-2"/><path color="#09abbf" d="M536.9 83.2l2.8-1.9-2.1-2.1-2.8 1.5"/><path color="#06a3ca" d="M527.1 82.6l-2.1-1.4-2.7 1.4 2.1 1"/><path color="#0c74dd" d="M571.8 86.6l2.2 .6 2.7-1.8-2.1 .2"/><path color="#1459db" d="M556.5 89.9l2.8-1.4-2.1-1.7-2.8 1.2"/><path color="#08abc0" d="M428 79.6l-2.8-.6 2.1 1.5 2.8 0"/><path color="#128cd2" d="M517.4 83.5l-2.8 2.8 2.1-.5 2.8-1.7"/><path color="#07aac2" d="M596.9 80.6l2.2 1.3 2.7-.6-2.1-1.9"/><path color="#06a7c6" d="M447.6 81.9l2.1 1.3 2.8-.9-2.2-1.2"/><path color="#0badbc" d="M472.7 81.4l-2.8-.4 2.1 .5 2.8 .9"/><path color="#0997d1" d="M606.7 83.2l-2.1-2.5-2.8 .6 2.2 1.9"/><path color="#06a1cd" d="M581.6 82.8l2.8-1.8-2.1 1.3-2.8 1.4"/><path color="#06a7c6" d="M527.1 82.6l2.2 1.3 2.7-1.6-2.1-1.9"/><path color="#06a4c9" d="M616.5 82l2.8 0-2.1-2.4-2.8 1.1"/><path color="#06a6c7" d="M641.6 81l-2.1-.9-2.8 .4 2.2 .9"/><path color="#07a9c2" d="M587.2 79.3l-2.8 1.7 2.1 1.7 2.8-1.1"/><path color="#07a9c2" d="M422.4 78.3l2.8 .7-2.1 2.3-2.8-.6"/><path color="#0c94d2" d="M606.7 83.2l2.2 .2 2.7-1.4-2.1-.7"/><path color="#0fafb9" d="M502 81.5l2.8-.3-2.1-2.6-2.8 .8"/><path color="#06a6c7" d="M641.6 81l2.2 1.1 2.7-.5-2.1-1.4"/><path color="#06a7c6" d="M457.3 82.6l-2.1-1.2-2.7 .9 2.1 1.3"/><path color="#0aacbd" d="M492.2 80.5l-2.1-.1-2.7 1.1 2.1 .5"/><path color="#036ae1" d="M546.7 87.8l2.1 2.1 2.8-1-2.1-1.9"/><path color="#137fd7" d="M546.7 87.8l-2.1-4.2-2.8 1.3 2.1 3.6"/><path color="#06a7c5" d="M536.9 83.2l-2.1-2.5-2.8 1.6 2.2 1.9"/><path color="#0870df" d="M571.8 86.6l-2.7 1.2 2.1 .6 2.8-1.2"/><path color="#06a2cb" d="M651.4 82.8l-2.1-1.7-2.8 .5 2.1 1.4"/><path color="#24b5aa" d="M467.1 80.5l2.8 .5-2.1-.8-2.8-.4"/><path color="#07aac2" d="M482.5 81.6l-2.8 .9 2.1 1 2.8-1"/><path color="#069fce" d="M536.9 83.2l2.2 3 2.7-1.3-2.1-3.6"/><path color="#07a9c2" d="M631.8 80.2l-2.7 1 2.1 .7 2.8-.9"/><path color="#2053d4" d="M556.5 89.9l-2.1-1.9-2.8 .9 2.1 2"/><path color="#056ee0" d="M511.8 89.1l-2.1-4.1-2.8-.7 2.1 3.1"/><path color="#14b0b5" d="M437.8 78.2l-2.8 1.6 2.1 2.1 2.8-1"/><path color="#09abbf" d="M457.3 82.6l2.2 1 2.7-1.9-2.1-.8"/><path color="#036be1" d="M566.3 88.9l2.8-1.1-2.2-.9-2.7 1.1"/><path color="#06a6c6" d="M596.9 80.6l-2.7 1.7 2.1 .6 2.8-1"/><path color="#0eaeba" d="M412.7 79.1l2.1-.2 2.8 .9-2.2 1.3"/><path color="#0faeb9" d="M492.2 80.5l2.2 1.6 2.7-1.3-2.1-1.9"/><path color="#06a2cb" d="M626.3 82.2l2.8-1-2.1-.3-2.8 1.2"/><path color="#0c94d2" d="M581.6 82.8l-2.1 .9-2.8 1.7 2.1-.1"/><path color="#0269e1" d="M511.8 89.1l2.1-1.5 2.8-1.8-2.1 .5"/><path color="#06a6c7" d="M447.6 81.9l-2.8 .8 2.1 1.2 2.8-.7"/><path color="#09abbf" d="M432.2 81.3l2.8-1.5-2.1-.4-2.8 1.1"/><path color="#06a3cb" d="M527.1 82.6l-2.7 1 2.1 1 2.8-.7"/><path color="#06a6c7" d="M476.9 83.3l2.8-.8-2.1-.8-2.8 .7"/><path color="#069ece" d="M591.4 84l2.8-1.7-2.1-2.2-2.8 1.5"/><path color="#1a56d7" d="M556.5 89.9l2.1 .7 2.8-1.3-2.1-.8"/><path color="#06a7c6" d="M616.5 82l-2.1-1.3-2.8 1.3 2.1 .8"/><path color="#06a1cd" d="M521.6 84.7l2.8-1.1-2.1-1-2.8 1.5"/><path color="#0b94d2" d="M606.7 83.2l-2.7 0 2.1 .5 2.8-.3"/><path color="#0daeba" d="M502 81.5l-2.1-2.1-2.8 1.4 2.2 1.8"/><path color="#069fce" d="M616.5 82l2.1 1.5 2.8-.7-2.1-.8"/><path color="#07a9c2" d="M502 81.5l2.2 2.1 2.7 .7-2.1-3.1"/><path color="#06a7c6" d="M442 83.5l2.8-.8-2.1-2-2.8 .2"/><path color="#06a6c7" d="M641.6 81l-2.7 .4 2.1 1 2.8-.3"/><path color="#036be1" d="M546.7 87.8l-2.8 .7 2.2 2.2 2.7-.8"/><path color="#06a8c4" d="M581.6 82.8l2.1 1 2.8-1.1-2.1-1.7"/><path color="#11afb7" d="M422.4 78.3l-2.1 2.4-2.7-.9 2.1-1.3"/><path color="#079cd0" d="M536.9 83.2l-2.7 1 2.1 2 2.8 0"/><path color="#06a7c6" d="M457.3 82.6l-2.7 1 2.1 .9 2.8-.9"/><path color="#24b5aa" d="M467.1 80.5l-2.1-.7-2.8 1.9 2.2 .9"/><path color="#0267e1" d="M566.3 88.9l-2.1-.9-2.8 1.3 2.1 .8"/><path color="#0bacbd" d="M492.2 80.5l-2.7 1.5 2.1 1.1 2.8-1"/><path color="#079dcf" d="M626.3 82.2l-2.1-.1-2.8 .7 2.1 .8"/><path color="#16b1b4" d="M422.4 78.3l2.2 2.2 2.7 0-2.1-1.5"/><path color="#06a4ca" d="M601.2 83.3l2.8-.1-2.2-1.9-2.7 .6"/><path color="#07a9c3" d="M636.1 81.8l2.8-.4-2.2-.9-2.7 .5"/><path color="#274dcb" d="M556.5 89.9l-2.8 1 2.2 1 2.7-1.3"/><path color="#08aac0" d="M486.7 83.4l2.8-1.4-2.1-.5-2.8 1"/><path color="#079cd0" d="M591.4 84l-2.1-2.4-2.8 1.1 2.1 1.7"/><path color="#046ce0" d="M511.8 89.1l-2.8-1.7 2.2-.3 2.7 .5"/><path color="#07a9c3" d="M432.2 81.3l-2.1-.8-2.8 0 2.2 1.4"/><path color="#06a5c8" d="M451.8 84.5l2.8-.9-2.1-1.3-2.8 .9"/><path color="#3bb99c" d="M467.1 80.5l2.2 .2 2.7 .8-2.1-.5"/><path color="#127bd9" d="M576.1 87.8l2.7-2.5-2.1 .1-2.7 1.8"/><path color="#06a3cb" d="M531.4 85.2l2.8-1-2.2-1.9-2.7 1.6"/><path color="#079ecf" d="M521.6 84.7l-2.1-.6-2.8 1.7 2.1-.4"/><path color="#046de0" d="M566.3 88.9l2.1 .6 2.8-1.1-2.1-.6"/><path color="#127bd9" d="M541.2 89.2l2.7-.7-2.1-3.6-2.7 1.3"/><path color="#12afb7" d="M476.9 83.3l-2.1-.9-2.8-.9 2.1 .6"/><path color="#07aac1" d="M432.2 81.3l2.2 1.7 2.7-1.1-2.1-2.1"/><path color="#079dcf" d="M591.4 84l2.1-.1 2.8-1-2.1-.6"/><path color="#1c55d6" d="M551 91.9l2.7-1-2.1-2-2.8 1"/><path color="#06a7c6" d="M626.3 82.2l2.1 .7 2.8-1-2.1-.7"/><path color="#06a6c6" d="M476.9 83.3l2.1 1.2 2.8-1-2.1-1"/><path color="#06a0cd" d="M581.6 82.8l-2.8 2.5 2.2 .3 2.7-1.8"/><path color="#06a4c9" d="M616.5 82l-2.8 .8 2.2 .6 2.7 .1"/><path color="#06a6c7" d="M442 83.5l-2.1-2.6-2.8 1 2.1 2.2"/><path color="#08abc0" d="M502 81.5l-2.7 1.1 2.1 1.7 2.8-.7"/><path color="#06a4ca" d="M645.9 83.1l2.7-.1-2.1-1.4-2.7 .5"/><path color="#06a3cb" d="M442 83.5l2.1 1 2.8-.6-2.1-1.2"/><path color="#06a3ca" d="M521.6 84.7l2.1 .6 2.8-.7-2.1-1"/><path color="#06a2cc" d="M611 83.6l2.7-.8-2.1-.8-2.7 1.4"/><path color="#07aac1" d="M496.5 83.8l2.8-1.2-2.2-1.8-2.7 1.3"/><path color="#07a9c2" d="M486.7 83.4l-2.1-.9-2.8 1 2.1 1.1"/><path color="#0972de" d="M576.1 87.8l-2.1-.6-2.8 1.2 2.1 .6"/><path color="#07a9c3" d="M636.1 81.8l-2.1-.8-2.8 .9 2.1 .8"/><path color="#06a8c4" d="M601.2 83.3l-2.1-1.4-2.8 1 2.1 .7"/><path color="#09abbe" d="M461.6 84.6l2.8-2-2.2-.9-2.7 1.9"/><path color="#06a4c9" d="M451.8 84.5l-2.1-1.3-2.8 .7 2.1 1.1"/><path color="#22b4ac" d="M422.4 78.3l-2.7 .2 2.1 2 2.8 0"/><path color="#3bb99c" d="M467.1 80.5l-2.7 2.1 2.1 .5 2.8-2.4"/><path color="#0269e1" d="M566.3 88.9l-2.8 1.2 2.1 .9 2.8-1.5"/><path color="#089ad1" d="M506.3 85.7l2.7 1.7-2.1-3.1-2.7-.7"/><path color="#06a3ca" d="M531.4 85.2l-2.1-1.3-2.8 .7 2.1 .9"/><path color="#0269e1" d="M541.2 89.2l2.1 2.2 2.8-.7-2.2-2.2"/><path color="#06a2cb" d="M601.2 83.3l2.1 .7 2.8-.3-2.1-.5"/><path color="#06a7c6" d="M432.2 81.3l-2.7 .6 2.1 1.5 2.8-.4"/><path color="#079bd0" d="M591.4 84l-2.8 .4 2.2 .4 2.7-.9"/><path color="#06a8c4" d="M636.1 81.8l2.1 1 2.8-.4-2.1-1"/><path color="#06a1cc" d="M626.3 82.2l-2.8 1.4 2.2 .4 2.7-1.1"/><path color="#1484d4" d="M541.2 89.2l-2.1-3-2.8 0 2.1 2"/><path color="#06a5c8" d="M451.8 84.5l2.1 1 2.8-1-2.1-.9"/><path color="#09abbf" d="M486.7 83.4l2.1 .6 2.8-.9-2.1-1.1"/><path color="#1f53d4" d="M551 91.9l-2.2-2-2.7 .8 2.1 2.1"/><path color="#095fdf" d="M560.7 91.3l2.8-1.2-2.1-.8-2.8 1.3"/><path color="#06a1cc" d="M531.4 85.2l2.1 1 2.8 0-2.1-2"/><path color="#0c94d2" d="M620.8 85l2.7-1.4-2.1-.8-2.8 .7"/><path color="#0eaeba" d="M476.9 83.3l-2.8-1.2 2.2 2.9 2.7-.5"/><path color="#28b6a8" d="M416.9 78.8l2.8-.3-2.1 1.3-2.8-.9"/><path color="#2e48c3" d="M551 91.9l2.1 1.2 2.8-1.2-2.2-1"/><path color="#1486d4" d="M576.1 87.8l2.1-.4 2.8-1.8-2.2-.3"/><path color="#06a5c8" d="M645.9 83.1l-2.1-1-2.8 .3 2.1 1.1"/><path color="#06a4ca" d="M521.6 84.7l-2.8 .7 2.2 .6 2.7-.7"/><path color="#06a1cc" d="M442 83.5l-2.8 .6 2.2 .7 2.7-.3"/><path color="#06a3ca" d="M585.9 84.8l2.7-.4-2.1-1.7-2.8 1.1"/><path color="#06a1cc" d="M611 83.6l-2.1-.2-2.8 .3 2.1 .5"/><path color="#08abc0" d="M426.7 82.6l2.8-.7-2.2-1.4-2.7 0"/><path color="#07aac2" d="M496.5 83.8l-2.1-1.7-2.8 1 2.1 1.1"/><path color="#0d93d2" d="M516.1 86.1l2.7-.7-2.1 .4-2.8 1.8"/><path color="#06a7c5" d="M461.6 84.6l-2.1-1-2.8 .9 2.1 1"/><path color="#06a7c5" d="M496.5 83.8l2.1 1.3 2.8-.8-2.1-1.7"/><path color="#07a9c3" d="M611 83.6l2.1-.3 2.8 .1-2.2-.6"/><path color="#06a2cb" d="M436.5 84.7l2.7-.6-2.1-2.2-2.7 1.1"/><path color="#1c55d6" d="M560.7 91.3l-2.1-.7-2.7 1.3 2.1 .9"/><path color="#08aac1" d="M486.7 83.4l-2.8 1.2 2.2 .7 2.7-1.3"/><path color="#06a8c4" d="M636.1 81.8l-2.8 .9 2.1 .9 2.8-.8"/><path color="#06a5c9" d="M451.8 84.5l-2.8 .5 2.2 1.1 2.7-.6"/><path color="#06a8c5" d="M506.3 85.7l-2.1-2.1-2.8 .7 2.1 1.7"/><path color="#0badbc" d="M461.6 84.6l2.1 1 2.8-2.5-2.1-.5"/><path color="#0c74dd" d="M541.2 89.2l-2.8-1 2.1 2.5 2.8 .7"/><path color="#07a9c3" d="M601.2 83.3l-2.8 .3 2.1 .4 2.8 0"/><path color="#0b96d1" d="M506.3 85.7l2.1 .9 2.8 .5-2.2 .3"/><path color="#117ad9" d="M576.1 87.8l-2.8 1.2 2.1 .2 2.8-1.8"/><path color="#06a4c9" d="M531.4 85.2l-2.8 .3 2.1 .8 2.8-.1"/><path color="#06a8c4" d="M481.2 85.8l2.7-1.2-2.1-1.1-2.8 1"/><path color="#079bd0" d="M620.8 85l-2.2-1.5-2.7-.1 2.1 .6"/><path color="#73bf7f" d="M471.4 80.9l2.7 1.2-2.1-.6-2.7-.8"/><path color="#0971de" d="M570.5 90.1l2.8-1.1-2.1-.6-2.8 1.1"/><path color="#3046be" d="M551 91.9l-2.8 .9 2.1 1 2.8-.7"/><path color="#06a6c7" d="M630.5 83.7l2.8-1-2.1-.8-2.8 1"/><path color="#0a5fdf" d="M560.7 91.3l2.2 1.2 2.7-1.5-2.1-.9"/><path color="#06a4c9" d="M585.9 84.8l-2.2-1-2.7 1.8 2.1 .3"/><path color="#06a8c4" d="M595.6 83.9l2.8-.3-2.1-.7-2.8 1"/><path color="#0b96d1" d="M620.8 85l2.1 .1 2.8-1.1-2.2-.4"/><path color="#06a4ca" d="M446.3 85.5l2.7-.5-2.1-1.1-2.8 .6"/><path color="#0c94d2" d="M516.1 86.1l-2.2 1.5-2.7-.5 2.1-.3"/><path color="#0dadbb" d="M426.7 82.6l-2.1-2.1-2.8 0 2.1 1.9"/><path color="#06a7c6" d="M525.8 85.9l2.8-.4-2.1-.9-2.8 .7"/><path color="#2bb6a6" d="M416.9 78.8l2.1 1.7 2.8 0-2.1-2"/><path color="#06a7c5" d="M426.7 82.6l2.1 1.3 2.8-.5-2.1-1.5"/><path color="#274ecc" d="M545.4 93.7l2.8-.9-2.1-2.1-2.8 .7"/><path color="#06a2cb" d="M585.9 84.8l2.1 .9 2.8-.9-2.2-.4"/><path color="#06a8c4" d="M496.5 83.8l-2.8 .4 2.1 .8 2.8 .1"/><path color="#06a7c5" d="M461.6 84.6l-2.8 .9 2.1 1.2 2.8-1.1"/><path color="#06a3cb" d="M436.5 84.7l-2.1-1.7-2.8 .4 2.1 1.6"/><path color="#07aac1" d="M611 83.6l-2.8 .6 2.1-.4 2.8-.5"/><path color="#06a5c8" d="M516.1 86.1l2.1 .6 2.8-.7-2.2-.6"/><path color="#036be0" d="M570.5 90.1l-2.1-.6-2.8 1.5 2.2 1"/><path color="#06a4c9" d="M481.2 85.8l-2.2-1.3-2.7 .5 2.1 2.9"/><path color="#06a2cb" d="M436.5 84.7l2.1 .4 2.8-.3-2.2-.7"/><path color="#06a6c7" d="M640.3 83.9l2.8-.4-2.1-1.1-2.8 .4"/><path color="#069ece" d="M535.6 87.3l2.8 .9-2.1-2-2.8 0"/><path color="#06a5c8" d="M605.4 84.8l2.8-.6-2.1-.5-2.8 .3"/><path color="#06a7c5" d="M456 86.4l2.8-.9-2.1-1-2.8 1"/><path color="#75bf7e" d="M471.4 80.9l-2.1-.2-2.8 2.4 2.1 .6"/><path color="#2152d3" d="M560.7 91.3l-2.7 1.5 2.1 1 2.8-1.3"/><path color="#06a5c9" d="M630.5 83.7l-2.1-.8-2.7 1.1 2.1 .4"/><path color="#06a5c8" d="M506.3 85.7l-2.8 .3 2.1 1 2.8-.4"/><path color="#0aacbe" d="M490.9 84.6l2.8-.4-2.1-1.1-2.8 .9"/><path color="#4cbc92" d="M471.4 80.9l2.1 4.6 2.8-.5-2.2-2.9"/><path color="#3144bc" d="M555.2 94.3l2.8-1.5-2.1-.9-2.8 1.2"/><path color="#06a7c5" d="M595.6 83.9l-2.1 0-2.7 .9 2.1 .5"/><path color="#07aac2" d="M481.2 85.8l2.1 .8 2.8-1.3-2.2-.7"/><path color="#079bd0" d="M620.8 85l-2.8-1 2.1 1.1 2.8 0"/><path color="#06a5c8" d="M446.3 85.5l-2.2-1-2.7 .3 2.1 .8"/><path color="#0b74dd" d="M570.5 90.1l2.2 .9 2.7-1.8-2.1-.2"/><path color="#06a6c7" d="M630.5 83.7l2.2 .7 2.7-.8-2.1-.9"/><path color="#06a8c4" d="M525.8 85.9l-2.1-.6-2.7 .7 2.1 .6"/><path color="#06a5c9" d="M585.9 84.8l-2.8 1.1 2.1 .9 2.8-1.1"/><path color="#07a9c2" d="M426.7 82.6l-2.8-.2 2.1 1.7 2.8-.2"/><path color="#06a5c9" d="M446.3 85.5l2.1 1.2 2.8-.6-2.2-1.1"/><path color="#115bdc" d="M545.4 93.7l-2.1-2.3-2.8-.7 2.1 2.5"/><path color="#06a5c8" d="M500.7 86.4l2.8-.4-2.1-1.7-2.8 .8"/><path color="#3243b9" d="M545.4 93.7l2.1 .9 2.8-.8-2.1-1"/><path color="#079dcf" d="M580.3 87l2.8-1.1-2.1-.3-2.8 1.8"/><path color="#0faeb9" d="M595.6 83.9l2.2 .1 2.7 0-2.1-.4"/><path color="#07a9c3" d="M525.8 85.9l2.2 .5 2.7-.1-2.1-.8"/><path color="#06a5c8" d="M516.1 86.1l-2.8 .7 2.1 .6 2.8-.7"/><path color="#06a7c6" d="M640.3 83.9l-2.1-1.1-2.8 .8 2.2 .9"/><path color="#06a7c6" d="M456 86.4l-2.1-.9-2.7 .6 2.1 1.1"/><path color="#0bacbd" d="M490.9 84.6l-2.1-.6-2.7 1.3 2.1 .8"/><path color="#06a4c9" d="M436.5 84.7l-2.8 .3 2.1 0 2.8 .1"/><path color="#16b1b4" d="M465.8 86.6l2.8-2.9-2.1-.6-2.8 2.5"/><path color="#0e91d2" d="M535.6 87.3l2.2 2.7 2.7 .7-2.1-2.5"/><path color="#06a2cc" d="M481.2 85.8l-2.8 2.1 2.1 1.2 2.8-2.5"/><path color="#4dbc92" d="M471.4 80.9l-2.8 2.8 2.1 3.2 2.8-1.4"/><path color="#08aac0" d="M605.4 84.8l-2.1-.8-2.8 0 2.2 .4"/><path color="#06a0cd" d="M510.5 87.6l2.8-.8-2.1 .3-2.8-.5"/><path color="#06a7c5" d="M535.6 87.3l-2.1-1.1-2.8 .1 2.2 .8"/><path color="#3440b3" d="M555.2 94.3l-2.1-1.2-2.8 .7 2.1 1.1"/><path color="#0cadbc" d="M615.2 82.9l2.8 1.1-2.1-.6-2.8-.1"/><path color="#1d54d5" d="M565 93.8l2.8-1.8-2.2-1-2.7 1.5"/><path color="#046ce0" d="M570.5 90.1l-2.7 1.9 2.1 .4 2.8-1.4"/><path color="#079ecf" d="M475.6 90.1l2.8-2.2-2.1-2.9-2.8 .5"/><path color="#06a7c6" d="M456 86.4l2.2 1.3 2.7-1-2.1-1.2"/><path color="#1ab2b1" d="M421.1 82.2l2.8 .2-2.1-1.9-2.8 0"/><path color="#06a6c7" d="M630.5 83.7l-2.7 .7 2.1 1 2.8-1"/><path color="#0dadbb" d="M490.9 84.6l2.2 .4 2.7 0-2.1-.8"/><path color="#08aac0" d="M605.4 84.8l2.2-.4 2.7-.6-2.1 .4"/><path color="#108ed2" d="M580.3 87l-2.1 .4-2.8 1.8 2.2 .2"/><path color="#3342b6" d="M555.2 94.3l2.1 .8 2.8-1.3-2.1-1"/><path color="#06a5c8" d="M430.9 85.3l2.8-.3-2.1-1.6-2.8 .5"/><path color="#06a6c6" d="M446.3 85.5l-2.8 .1 2.1 1.3 2.8-.2"/><path color="#0eaeba" d="M595.6 83.9l-2.7 1.4 2.1 .5 2.8-1.8"/><path color="#06a3ca" d="M625 85.2l2.8-.8-2.1-.4-2.8 1.1"/><path color="#06a7c5" d="M500.7 86.4l-2.1-1.3-2.8-.1 2.2 .9"/><path color="#06a5c8" d="M590.1 86.7l2.8-1.4-2.1-.5-2.8 .9"/><path color="#284dca" d="M545.4 93.7l-2.8-.5 2.2 .8 2.7 .6"/><path color="#06a6c7" d="M465.8 86.6l-2.1-1-2.8 1.1 2.2 1.1"/><path color="#06a3cb" d="M500.7 86.4l2.2 1 2.7-.4-2.1-1"/><path color="#0aacbe" d="M525.8 85.9l-2.7 .7 2.1-.4 2.8 .2"/><path color="#06a4ca" d="M580.3 87l2.1 .9 2.8-1.1-2.1-.9"/><path color="#3046be" d="M565 93.8l-2.1-1.3-2.8 1.3 2.1 1.1"/><path color="#06a8c5" d="M520.3 87.3l2.8-.7-2.1-.6-2.8 .7"/><path color="#0faeb9" d="M465.8 86.6l2.2 1.8 2.7-1.5-2.1-3.2"/><path color="#079ccf" d="M475.6 90.1l-2.1-4.6-2.8 1.4 2.1 3.2"/><path color="#06a8c4" d="M440.7 85.6l2.8 0-2.1-.8-2.8 .3"/><path color="#06a2cc" d="M510.5 87.6l-2.1-1-2.8 .4 2.2 1"/><path color="#06a7c6" d="M456 86.4l-2.7 .8 2.1 .7 2.8-.2"/><path color="#1482d5" d="M475.6 90.1l2.1 1.5 2.8-2.5-2.1-1.2"/><path color="#1db3af" d="M615.2 82.9l-2.1 .4-2.8 .5 2.1-.3"/><path color="#06a1cc" d="M535.6 87.3l-2.7-.2 2.1 1.9 2.8 1"/><path color="#353eae" d="M555.2 94.3l-2.8 .6 2.2 .8 2.7-.6"/><path color="#11afb8" d="M490.9 84.6l-2.7 1.5 2.1-.1 2.8-1"/><path color="#09abbf" d="M485.4 87.5l2.8-1.4-2.1-.8-2.8 1.3"/><path color="#0faeb9" d="M421.1 82.2l2.2 2.2 2.7-.3-2.1-1.7"/><path color="#0cadbc" d="M615.2 82.9l2.1 2.2 2.8 0-2.1-1.1"/><path color="#06a3ca" d="M510.5 87.6l2.1 .6 2.8-.8-2.1-.6"/><path color="#0eaeba" d="M605.4 84.8l-2.7-.4 2.1 .2 2.8-.2"/><path color="#06a7c6" d="M430.9 85.3l-2.1-1.4-2.8 .2 2.2 1.8"/><path color="#1658d9" d="M565 93.8l2.1 0 2.8-1.4-2.1-.4"/><path color="#06a7c5" d="M634.8 85.2l2.8-.7-2.2-.9-2.7 .8"/><path color="#0e77db" d="M574.8 91.8l2.8-2.4-2.2-.2-2.7 1.8"/><path color="#06a4ca" d="M590.1 86.7l-2.1-1-2.8 1.1 2.1 1"/><path color="#06a6c7" d="M450.5 87.9l2.8-.7-2.1-1.1-2.8 .6"/><path color="#0c74dd" d="M539.9 92.7l2.7 .5-2.1-2.5-2.7-.7"/><path color="#06a4c9" d="M625 85.2l-2.1-.1-2.8 0 2.1 1.2"/><path color="#3243b8" d="M549.7 95.4l2.7-.5-2.1-1.1-2.8 .8"/><path color="#07a9c2" d="M430.9 85.3l2.2-.4 2.7 .1-2.1 0"/><path color="#0899d1" d="M580.3 87l-2.7 2.4 2.1 .4 2.7-1.9"/><path color="#06a8c5" d="M500.7 86.4l-2.7-.5 2.1 .5 2.8 1"/><path color="#06a5c9" d="M465.8 86.6l-2.7 1.2 2.1 1.6 2.8-1"/><path color="#06a7c6" d="M625 85.2l2.1 1.1 2.8-.9-2.1-1"/><path color="#08aac0" d="M530.1 86.9l2.8 .2-2.2-.8-2.7 .1"/><path color="#06a6c6" d="M590.1 86.7l2.1 .8 2.8-1.7-2.1-.5"/><path color="#1db3af" d="M599.9 84.1l2.8 .3-2.2-.4-2.7 0"/><path color="#06a7c6" d="M520.3 87.3l-2.1-.6-2.8 .7 2.1 .7"/><path color="#137ed7" d="M475.6 90.1l-2.8 0 2.2 1.9 2.7-.4"/><path color="#06a1cc" d="M485.4 87.5l-2.1-.9-2.8 2.5 2.1 1.2"/><path color="#06a3ca" d="M460.3 89l2.8-1.2-2.2-1.1-2.7 1"/><path color="#0aacbd" d="M440.7 85.6l-2.1-.5-2.8-.1 2.2 .1"/><path color="#046ce0" d="M574.8 91.8l-2.1-.8-2.8 1.4 2.1 .4"/><path color="#2b4bc7" d="M565 93.8l-2.8 1.1 2.1-.1 2.8-1"/><path color="#07aac1" d="M440.7 85.6l2.1 1.5 2.8-.2-2.1-1.3"/><path color="#06a1cc" d="M510.5 87.6l-2.7 .4 2.1 .8 2.7-.6"/><path color="#1db3af" d="M615.2 82.9l-2.8 .6 2.2 2.4 2.7-.8"/><path color="#06a7c6" d="M634.8 85.2l-2.1-.8-2.8 1 2.1 .9"/><path color="#15b0b5" d="M520.3 87.3l2.1-1.4 2.8 .3-2.1 .4"/><path color="#343fb1" d="M559.5 96l2.7-1.1-2.1-1.1-2.8 1.3"/><path color="#06a6c7" d="M450.5 87.9l-2.1-1.2-2.8 .2 2.1 1.4"/><path color="#12afb7" d="M495.2 85.4l2.8 .5-2.2-.9-2.7 0"/><path color="#0269e1" d="M539.9 92.7l2.1 .8 2.8 .5-2.2-.8"/><path color="#07aac1" d="M430.9 85.3l-2.7 .6 2.1 .2 2.8-1.2"/><path color="#0faeb9" d="M485.4 87.5l2.1-.5 2.8-1-2.1 .1"/><path color="#2450cf" d="M549.7 95.4l-2.2-.8-2.7-.6 2.1 .8"/><path color="#06a3ca" d="M590.1 86.7l-2.8 1.1 2.2 .8 2.7-1.1"/><path color="#069fce" d="M505 88.5l2.8-.5-2.2-1-2.7 .4"/><path color="#07a9c3" d="M450.5 87.9l2.1 .2 2.8-.2-2.1-.7"/><path color="#1486d4" d="M539.9 92.7l-2.1-2.7-2.8-1 2.1 1.8"/><path color="#06a0cd" d="M470.1 90.2l2.7-.1-2.1-3.2-2.7 1.5"/><path color="#06a7c6" d="M625 85.2l-2.8 1.1 2.2 .9 2.7-.9"/><path color="#1fb3ae" d="M609.7 84l2.7-.5-2.1 .3-2.7 .6"/><path color="#117bd9" d="M574.8 91.8l2.1 0 2.8-2-2.1-.4"/><path color="#1cb3b0" d="M599.9 84.1l-2.1-.1-2.8 1.8 2.1 .4"/><path color="#3242b7" d="M549.7 95.4l2.1 .9 2.8-.6-2.2-.8"/><path color="#06a3ca" d="M584.6 88.8l2.7-1-2.1-1-2.8 1.1"/><path color="#1bb2b0" d="M530.1 86.9l-2.1-.5-2.8-.2 2.1-.4"/><path color="#127cd8" d="M479.9 93.1l2.7-2.8-2.1-1.2-2.8 2.5"/><path color="#06a8c4" d="M425.4 86.6l2.8-.7-2.2-1.8-2.7 .3"/><path color="#07a9c2" d="M530.1 86.9l2.1 1 2.8 1.1-2.1-1.9"/><path color="#07a9c3" d="M619.5 87.3l2.7-1-2.1-1.2-2.8 0"/><path color="#06a6c7" d="M460.3 89l-2.1-1.3-2.8 .2 2.1 .7"/><path color="#25b5a9" d="M599.9 84.1l2.1 .8 2.8-.3-2.1-.2"/><path color="#06a1cd" d="M460.3 89l2.1 1.3 2.8-.9-2.1-1.6"/><path color="#0cadbb" d="M440.7 85.6l-2.7-.5 2.1 2.3 2.7-.3"/><path color="#353eaf" d="M559.5 96l-2.2-.9-2.7 .6 2.1 .8"/><path color="#12b0b6" d="M520.3 87.3l-2.8 .8 2.2-.5 2.7-1.7"/><path color="#06a6c7" d="M485.4 87.5l-2.8 2.8 2.2-1.1 2.7-2.2"/><path color="#06a5c8" d="M514.8 88.9l2.7-.8-2.1-.7-2.8 .8"/><path color="#1db3af" d="M495.2 85.4l-2.1-.4-2.8 1 2.1-.1"/><path color="#0972de" d="M574.8 91.8l-2.8 1 2.1-.5 2.8-.5"/><path color="#06a2cb" d="M470.1 90.2l-2.1-1.8-2.8 1 2.1 1.5"/><path color="#108fd2" d="M470.1 90.2l2.1 2.3 2.8-.5-2.2-1.9"/><path color="#07a9c2" d="M450.5 87.9l-2.8 .4 2.2 .6 2.7-.8"/><path color="#0267e1" d="M569.2 93.8l2.8-1-2.1-.4-2.8 1.4"/><path color="#2e48c1" d="M559.5 96l2.1-.2 2.7-1-2.1 .1"/><path color="#22b4ac" d="M609.7 84l-2.1 .4-2.8 .2 2.1 .3"/><path color="#079cd0" d="M584.6 88.8l-2.2-.9-2.7 1.9 2.1 .5"/><path color="#24b5aa" d="M495.2 85.4l2.1 0 2.8 1-2.1-.5"/><path color="#0871de" d="M479.9 93.1l-2.2-1.5-2.7 .4 2.1 2"/><path color="#06a4c9" d="M629.3 87.4l2.7-1.1-2.1-.9-2.8 .9"/><path color="#127cd8" d="M539.9 92.7l-2.8-1.9 2.1 .9 2.8 1.8"/><path color="#08aac0" d="M505 88.5l-2.1-1.1-2.8-1 2.1 .5"/><path color="#2350d0" d="M549.7 95.4l-2.8-.6 2.1 .9 2.8 .6"/><path color="#06a0cd" d="M505 88.5l2.1 .8 2.8-.5-2.1-.8"/><path color="#1eb3ae" d="M609.7 84l2.1 2.6 2.8-.7-2.2-2.4"/><path color="#07a9c3" d="M594.4 88.3l2.7-2.1-2.1-.4-2.8 1.7"/><path color="#07a9c2" d="M619.5 87.3l-2.2-2.2-2.7 .8 2.1 2.4"/><path color="#1cb3b0" d="M435.2 84.5l2.8 .6-2.2-.1-2.7-.1"/><path color="#25b5aa" d="M599.9 84.1l-2.8 2.1 2.1 0 2.8-1.3"/><path color="#07a9c2" d="M445 88.6l2.7-.3-2.1-1.4-2.8 .2"/><path color="#06a2cb" d="M584.6 88.8l2.1 .8 2.8-1-2.2-.8"/><path color="#06a6c7" d="M425.4 86.6l2.1 .7 2.8-1.2-2.1-.2"/><path color="#06a6c7" d="M619.5 87.3l2.1 .7 2.8-.8-2.2-.9"/><path color="#06a4c9" d="M460.3 89l-2.8-.4 2.1 1.7 2.8 0"/><path color="#23b4ab" d="M530.1 86.9l-2.8-1.1 2.1 .6 2.8 1.5"/><path color="#1388d3" d="M479.9 93.1l2.1-1.6 2.8-2.3-2.2 1.1"/><path color="#06a5c9" d="M514.8 88.9l-2.2-.7-2.7 .6 2.1 .7"/><path color="#0265e1" d="M569.2 93.8l-2.1 0-2.8 1 2.2-.1"/><path color="#036be0" d="M544.1 94.3l2.8 .5-2.1-.8-2.8-.5"/><path color="#2e48c1" d="M559.5 96l-2.8 .5 2.1-.1 2.8-.6"/><path color="#0998d1" d="M470.1 90.2l-2.8 .7 2.1 1.5 2.8 .1"/><path color="#06a4c9" d="M629.3 87.4l-2.2-1.1-2.7 .9 2.1 .8"/><path color="#06a3ca" d="M594.4 88.3l-2.2-.8-2.7 1.1 2.1 .8"/><path color="#06a8c4" d="M514.8 88.9l2.1 .4 2.8-1.7-2.2 .5"/><path color="#38b99e" d="M495.2 85.4l-2.8 .5 2.1 .2 2.8-.7"/><path color="#1fb3ae" d="M609.7 84l-2.8 .9 2.1 2.6 2.8-.9"/><path color="#3341b5" d="M553.9 97.1l2.8-.6-2.1-.8-2.8 .6"/><path color="#0eaeba" d="M454.8 88.2l2.7 .4-2.1-.7-2.8 .2"/><path color="#06a3ca" d="M534.3 89l2.8 1.8-2.1-1.8-2.8-1.1"/><path color="#19b2b2" d="M435.2 84.5l-2.1 .4-2.8 1.2 2.1 .2"/><path color="#5fbe89" d="M524.6 84.6l2.7 1.2-2.1 .4-2.8-.3"/><path color="#079dcf" d="M584.6 88.8l-2.8 1.5 2.1 .4 2.8-1.1"/><path color="#1484d4" d="M579 91.8l2.8-1.5-2.1-.5-2.8 2"/><path color="#08abc0" d="M505 88.5l-2.8-1.6 2.1 1.4 2.8 1"/><path color="#20b4ad" d="M489.7 86.5l2.7-.6-2.1 .1-2.8 1"/><path color="#0e76db" d="M569.2 93.8l2.2-.9 2.7-.6-2.1 .5"/><path color="#06a7c5" d="M445 88.6l-2.2-1.5-2.7 .3 2.1 2.3"/><path color="#06a6c6" d="M619.5 87.3l-2.8 1 2.1-.1 2.8-.2"/><path color="#069ece" d="M464.5 91.7l2.8-.8-2.1-1.5-2.8 .9"/><path color="#127cd8" d="M479.9 93.1l-2.8 .9 2.1-2.1 2.8-.4"/><path color="#14b0b5" d="M435.2 84.5l2.1 3.1 2.8-.2-2.1-2.3"/><path color="#2bb6a6" d="M604.1 85.7l2.8-.8-2.1-.3-2.8 .3"/><path color="#0dadbb" d="M594.4 88.3l2.1-.8 2.7-1.3-2.1 0"/><path color="#07a9c2" d="M445 88.6l2.1 1.1 2.8-.8-2.2-.6"/><path color="#0e76dc" d="M474.3 94.8l2.8-.8-2.1-2-2.8 .5"/><path color="#07a9c2" d="M613.9 89.3l2.8-1-2.1-2.4-2.8 .7"/><path color="#06a6c7" d="M514.8 88.9l-2.8 .6 2.1 .3 2.8-.5"/><path color="#046ce0" d="M544.1 94.3l2.1 .7 2.8 .7-2.1-.9"/><path color="#19b2b2" d="M489.7 86.5l-2.2 .5-2.7 2.2 2.1-1.1"/><path color="#137dd8" d="M544.1 94.3l-2.1-.8-2.8-1.8 2.2 .9"/><path color="#11afb8" d="M454.8 88.2l-2.2-.1-2.7 .8 2.1 .6"/><path color="#1482d5" d="M579 91.8l-2.1 0-2.8 .5 2.2-.4"/><path color="#58bd8c" d="M524.6 84.6l-2.2 1.3-2.7 1.7 2.1-.4"/><path color="#254fce" d="M553.9 97.1l-2.1-.8-2.8-.6 2.1 .8"/><path color="#06a3ca" d="M509.2 90.2l2.8-.7-2.1-.7-2.8 .5"/><path color="#0e76dc" d="M569.2 93.8l-2.7 .9 2.1-.7 2.8-1.1"/><path color="#52bd8f" d="M499.4 85.4l2.8 1.5-2.1-.5-2.8-1"/><path color="#0363e1" d="M563.7 95.6l2.8-.9-2.2 .1-2.7 1"/><path color="#0eaeba" d="M454.8 88.2l2.1 2 2.7 .1-2.1-1.7"/><path color="#06a0cd" d="M464.5 91.7l-2.1-1.4-2.8 0 2.2 1.6"/><path color="#06a1cd" d="M534.3 89l2.2 1 2.7 1.7-2.1-.9"/><path color="#08aac0" d="M594.4 88.3l-2.8 1.1 2.1-1.5 2.8-.4"/><path color="#12b0b7" d="M435.2 84.5l-2.8 1.8 2.1 1.7 2.8-.4"/><path color="#06a1cc" d="M588.8 90.5l2.8-1.1-2.1-.8-2.8 1"/><path color="#2db7a5" d="M604.1 85.7l-2.1-.8-2.8 1.3 2.2-.1"/><path color="#2b4bc8" d="M553.9 97.1l2.1-.1 2.8-.6-2.1 .1"/><path color="#06a5c8" d="M445 88.6l-2.8 1.1 2.1 .9 2.8-.9"/><path color="#07a9c2" d="M429.6 88.1l2.8-1.8-2.1-.2-2.8 1.2"/><path color="#069ece" d="M464.5 91.7l2.2 .5 2.7 .2-2.1-1.5"/><path color="#06a6c7" d="M623.7 88.6l2.8-.6-2.1-.8-2.8 .8"/><path color="#2bb6a6" d="M534.3 89l-2.1-1.1-2.8-1.5 2.2 .6"/><path color="#1481d5" d="M474.3 94.8l-2.1-2.3-2.8-.1 2.2 1.4"/><path color="#108fd2" d="M579 91.8l2.1 0 2.8-1.1-2.1-.4"/><path color="#1fb4ad" d="M604.1 85.7l2.2 2.7 2.7-.9-2.1-2.6"/><path color="#07aac1" d="M613.9 89.3l-2.1-2.7-2.8 .9 2.2 2.7"/><path color="#92bf72" d="M524.6 84.6l2.1 .2 2.7 1.6-2.1-.6"/><path color="#3fba99" d="M489.7 86.5l2.1 .4 2.7-.8-2.1-.2"/><path color="#069fce" d="M439.4 90.7l2.8-1-2.1-2.3-2.8 .2"/><path color="#07aac1" d="M613.9 89.3l2.1-.8 2.8-.3-2.1 .1"/><path color="#137ed7" d="M474.3 94.8l2.1-2.4 2.8-.5-2.1 2.1"/><path color="#0364e1" d="M563.7 95.6l-2.1 .2-2.8 .6 2.1-.2"/><path color="#0eaeba" d="M519 89.8l2.8-2.6-2.1 .4-2.8 1.7"/><path color="#07a9c3" d="M509.2 90.2l-2.1-.9-2.8-1 2.2 1.3"/><path color="#11afb8" d="M454.8 88.2l-2.8 1.3 2.1 1.6 2.8-.9"/><path color="#069fce" d="M588.8 90.5l-2.1-.9-2.8 1.1 2.1 .4"/><path color="#07a9c3" d="M484.1 89.8l2.8-1.7-2.1 1.1-2.8 2.3"/><path color="#137dd7" d="M544.1 94.3l-2.7-1.7 2.1 .9 2.7 1.5"/><path color="#80bf7a" d="M499.4 85.4l-2.1 0-2.8 .7 2.2 .2"/><path color="#31b8a2" d="M489.7 86.5l-2.8 1.6 2.1 1.7 2.8-2.9"/><path color="#55bd8d" d="M499.4 85.4l2.2 1.9 2.7 1-2.1-1.4"/><path color="#1956d8" d="M553.9 97.1l-2.8-.6 2.2 .7 2.7-.2"/><path color="#06a7c5" d="M509.2 90.2l2.1 0 2.8-.4-2.1-.3"/><path color="#09abbf" d="M623.7 88.6l-2.1-.6-2.8 .2 2.1 0"/><path color="#0f90d2" d="M579 91.8l-2.7 .1 2.1 0 2.7-.1"/><path color="#08aac0" d="M449.2 90.8l2.8-1.3-2.1-.6-2.8 .8"/><path color="#22b4ac" d="M604.1 85.7l-2.7 .4 2.1 3 2.8-.7"/><path color="#8cbf75" d="M524.6 84.6l-2.8 2.6 2.1 .5 2.8-2.9"/><path color="#06a2cb" d="M464.5 91.7l-2.7 .2 2.1 0 2.8 .3"/><path color="#0871df" d="M563.7 95.6l2.1-.4 2.8-1.2-2.1 .7"/><path color="#09abbf" d="M429.6 88.1l2.2 .3 2.7-.4-2.1-1.7"/><path color="#29b6a7" d="M534.3 89l-2.7-2 2.1 1.1 2.8 1.9"/><path color="#08abc0" d="M613.9 89.3l-2.7 .9 2.1-.4 2.7-1.3"/><path color="#0e91d2" d="M573.5 92l2.8-.1-2.2 .4-2.7 .6"/><path color="#06a2cc" d="M439.4 90.7l-2.1-3.1-2.8 .4 2.2 1.7"/><path color="#0faeb9" d="M588.8 90.5l2.1-2.2 2.8-.4-2.1 1.5"/><path color="#0998d1" d="M439.4 90.7l2.1 .8 2.8-.9-2.1-.9"/><path color="#1389d3" d="M474.3 94.8l-2.7-1 2.1-1.4 2.7 0"/><path color="#27b6a8" d="M598.6 86.6l2.8-.5-2.2 .1-2.7 1.3"/><path color="#06a8c4" d="M459 92.1l2.8-.2-2.2-1.6-2.7-.1"/><path color="#06a8c5" d="M519 89.8l-2.1-.5-2.8 .5 2.1 .2"/><path color="#09abbf" d="M608.4 91.1l2.8-.9-2.2-2.7-2.7 .9"/><path color="#046ce0" d="M548.4 95.8l2.7 .7-2.1-.8-2.8-.7"/><path color="#06a7c5" d="M484.1 89.8l-2.1 1.7-2.8 .4 2.1-2"/><path color="#069fce" d="M538.6 91l2.8 1.6-2.2-.9-2.7-1.7"/><path color="#06a7c6" d="M449.2 90.8l-2.1-1.1-2.8 .9 2.1 .9"/><path color="#08abc0" d="M509.2 90.2l-2.7-.6 2.1 1.3 2.7-.7"/><path color="#83bf78" d="M499.4 85.4l-2.7 .9 2.1 1.9 2.8-.9"/><path color="#13b0b6" d="M519 89.8l2.1 .7 2.8-2.8-2.1-.5"/><path color="#079cd0" d="M468.8 92.7l2.8 1.1-2.2-1.4-2.7-.2"/><path color="#0870df" d="M563.7 95.6l-2.8 .6 2.1-.5 2.8-.5"/><path color="#08aac1" d="M484.1 89.8l2.1 3 2.8-3-2.1-1.7"/><path color="#07aac1" d="M449.2 90.8l2.1 1.3 2.8-1-2.1-1.6"/><path color="#0f90d2" d="M573.5 92l-2.1 .9-2.8 1.1 2.1-.6"/><path color="#0268e1" d="M558.2 96.9l2.7-.7-2.1 .2-2.8 .6"/><path color="#11afb8" d="M588.8 90.5l-2.8 .6 2.2-2 2.7-.8"/><path color="#aebe67" d="M528.8 85l2.8 2-2.2-.6-2.7-1.6"/><path color="#86bf78" d="M493.9 87.2l2.8-.9-2.2-.2-2.7 .8"/><path color="#079cd0" d="M583.3 91.7l2.7-.6-2.1-.4-2.8 1.1"/><path color="#079cd0" d="M439.4 90.7l-2.7-1 2.1 1.5 2.7 .3"/><path color="#42bb98" d="M598.6 86.6l-2.1 .9-2.8 .4 2.1-1.5"/><path color="#09abbf" d="M608.4 91.1l-2.1-2.7-2.8 .7 2.1 3"/><path color="#07a9c2" d="M459 92.1l-2.1-1.9-2.8 .9 2.1 1.7"/><path color="#27b5a9" d="M598.6 86.6l2.1 3.3 2.8-.8-2.1-3"/><path color="#2cb7a5" d="M503.7 89.1l2.8 .5-2.2-1.3-2.7-1"/><path color="#06a0cd" d="M573.5 92l2.1 .1 2.8-.2-2.1 0"/><path color="#07aac1" d="M608.4 91.1l2.1 .1 2.8-1.4-2.1 .4"/><path color="#07a9c2" d="M459 92.1l2.1-.5 2.8 .3-2.1 0"/><path color="#06a8c4" d="M519 89.8l-2.8 .2 2.2 .9 2.7-.4"/><path color="#0265e1" d="M548.4 95.8l2.1 1.7 2.8-.3-2.2-.7"/><path color="#1eb3ae" d="M618.2 87.8l2.7 .4-2.1 0-2.8 .3"/><path color="#137dd7" d="M548.4 95.8l-2.2-.8-2.7-1.5 2.1 .8"/><path color="#07a9c3" d="M484.1 89.8l-2.8 .1 2.2 2.8 2.7 .1"/><path color="#44bb97" d="M493.9 87.2l-2.1-.3-2.8 2.9 2.1 1.7"/><path color="#079ecf" d="M538.6 91l2.1 .9 2.8 1.6-2.1-.9"/><path color="#06a6c7" d="M449.2 90.8l-2.8 .7 2.2 1.4 2.7-.8"/><path color="#1eb3ae" d="M538.6 91l-2.1-1-2.8-1.9 2.1 1.1"/><path color="#0462e1" d="M558.2 96.9l-2.2 .1-2.7 .2 2.1 .8"/><path color="#07a9c3" d="M468.8 92.7l-2.1-.5-2.8-.3 2.1 0"/><path color="#0eaeba" d="M513.5 90.3l2.7-.3-2.1-.2-2.8 .4"/><path color="#aabe69" d="M528.8 85l-2.1-.2-2.8 2.9 2.1 .4"/><path color="#069ece" d="M583.3 91.7l-2.2 .1-2.7 .1 2.1 .1"/><path color="#0bacbd" d="M433.9 88.6l2.8 1.1-2.2-1.7-2.7 .4"/><path color="#0aacbe" d="M478.6 90l2.7-.1-2.1 2-2.8 .5"/><path color="#06a2cb" d="M468.8 92.7l2.1-.3 2.8 0-2.1 1.4"/><path color="#06a1cc" d="M443.7 92.3l2.7-.8-2.1-.9-2.8 .9"/><path color="#87bf77" d="M493.9 87.2l2.1 2 2.8-1-2.1-1.9"/><path color="#b1bd66" d="M528.8 85l2.1 1.2 2.8 1.9-2.1-1.1"/><path color="#0a96d1" d="M488.4 95.9l2.7-4.4-2.1-1.7-2.8 3"/><path color="#40ba99" d="M598.6 86.6l-2.8-.2 2.1 4.3 2.8-.8"/><path color="#07a9c2" d="M608.4 91.1l-2.8 1 2.1 .5 2.8-1.4"/><path color="#1480d6" d="M567.9 94.9l2.8-1.5-2.1 .6-2.8 1.2"/><path color="#069fce" d="M573.5 92l-2.8 1.4 2.1-.1 2.8-1.2"/><path color="#0c74dd" d="M558.2 96.9l2.1-.6 2.7-.6-2.1 .5"/><path color="#42bb98" d="M503.7 89.1l-2.1-1.8-2.8 .9 2.1 1.9"/><path color="#24b5aa" d="M618.2 87.8l-2.2 .7-2.7 1.3 2.1-.3"/><path color="#08aac0" d="M459 92.1l-2.8 .7 2.1-.2 2.8-1"/><path color="#14b0b5" d="M503.7 89.1l2.1 2.5 2.8-.7-2.1-1.3"/><path color="#0daebb" d="M583.3 91.7l2.1-1.7 2.8-.9-2.2 2"/><path color="#09acbe" d="M602.8 93.2l2.8-1.1-2.1-3-2.8 .8"/><path color="#0e77db" d="M548.4 95.8l-2.8-1.5 2.1 1.5 2.8 1.7"/><path color="#06a6c6" d="M453.5 93.4l2.7-.6-2.1-1.7-2.8 1"/><path color="#3eba9a" d="M493.9 87.2l-2.8 4.3 2.1 1.6 2.8-3.9"/><path color="#1bb2b0" d="M523.3 91.2l2.7-3.1-2.1-.4-2.8 2.8"/><path color="#0eaeba" d="M513.5 90.3l-2.2-.1-2.7 .7 2.1 1.3"/><path color="#8abf76" d="M593.1 86.1l2.7 .3-2.1 1.5-2.8 .4"/><path color="#1487d3" d="M488.4 95.9l-2.2-3.1-2.7-.1 2.1 2.8"/><path color="#0eaeba" d="M478.6 90l-2.2 2.4-2.7 0 2.1-1.4"/><path color="#19b2b2" d="M538.6 91l-2.8-1.8 2.1 1 2.8 1.7"/><path color="#06a1cc" d="M443.7 92.3l-2.2-.8-2.7-.3 2.1 1.5"/><path color="#0aacbe" d="M433.9 88.6l2.1 2.2 2.8 .4-2.1-1.5"/><path color="#adbe68" d="M528.8 85l-2.8 3.1 2.1 1.2 2.8-3.1"/><path color="#127cd8" d="M567.9 94.9l-2.1 .3-2.8 .5 2.2-.4"/><path color="#14b0b5" d="M513.5 90.3l2.1 1 2.8-.4-2.2-.9"/><path color="#0cadbb" d="M468.8 92.7l-2.8-.8 2.1 .3 2.8 .2"/><path color="#0870df" d="M558.2 96.9l-2.8 1.1 2.1-1.3 2.8-.4"/><path color="#06a4ca" d="M443.7 92.3l2.1 1.3 2.8-.7-2.2-1.4"/><path color="#1487d3" d="M488.4 95.9l2.1 1.1 2.7-3.9-2.1-1.6"/><path color="#254fce" d="M552.6 99.1l2.8-1.1-2.1-.8-2.8 .3"/><path color="#1ab2b1" d="M478.6 90l2.1 2.6 2.8 .1-2.2-2.8"/><path color="#1db3af" d="M503.7 89.1l-2.8 1 2.1 2.4 2.8-.9"/><path color="#0dadbb" d="M583.3 91.7l-2.8 .3 2.1-.7 2.8-1.3"/><path color="#06a7c5" d="M602.8 93.2l-2.1-3.3-2.8 .8 2.2 4.3"/><path color="#06a8c4" d="M523.3 91.2l-2.2-.7-2.7 .4 2.1 .8"/><path color="#06a7c6" d="M577.7 92.2l2.8-.2-2.1-.1-2.8 .2"/><path color="#06a5c9" d="M453.5 93.4l-2.2-1.3-2.7 .8 2.1 1.3"/><path color="#06a7c6" d="M602.8 93.2l2.2 .8 2.7-1.4-2.1-.5"/><path color="#108ed2" d="M567.9 94.9l2.2-.5 2.7-1.1-2.1 .1"/><path color="#16b1b4" d="M612.6 91.2l2.8-1.7-2.1 .3-2.8 1.4"/><path color="#079cd0" d="M542.8 92.9l2.8 1.4-2.1-.8-2.8-1.6"/><path color="#19b2b2" d="M463.2 91.1l2.8 .8-2.1 0-2.8-.3"/><path color="#9dbf6e" d="M593.1 86.1l-2.2 2.2-2.7 .8 2.1-2"/><path color="#45bb96" d="M498.1 91.1l2.8-1-2.1-1.9-2.8 1"/><path color="#06a8c5" d="M453.5 93.4l2.1 .1 2.7-.9-2.1 .2"/><path color="#1ab2b1" d="M523.3 91.2l2.1 1.2 2.7-3.1-2.1-1.2"/><path color="#78bf7d" d="M593.1 86.1l2.1 5.4 2.7-.8-2.1-4.3"/><path color="#13b0b6" d="M513.5 90.3l-2.8 1.9 2.1 .9 2.8-1.8"/><path color="#117ad9" d="M488.4 95.9l-2.8-.4 2.1 1.1 2.8 .4"/><path color="#08aac1" d="M507.9 94l2.8-1.8-2.1-1.3-2.8 .7"/><path color="#9cbf6f" d="M533 87.4l2.8 1.8-2.1-1.1-2.8-1.9"/><path color="#06a3cb" d="M443.7 92.3l-2.8 .4 2.1 1.7 2.8-.8"/><path color="#21b4ad" d="M478.6 90l-2.8 1 2.1 2.4 2.8-.8"/><path color="#0cadbc" d="M612.6 91.2l-2.1 0-2.8 1.4 2.2 .5"/><path color="#06a0cd" d="M602.8 93.2l-2.7 1.8 2.1 .2 2.8-1.2"/><path color="#0363e1" d="M552.6 99.1l-2.1-1.6-2.8-1.7 2.1 1.4"/><path color="#19b2b1" d="M498.1 91.1l-2.1-1.9-2.8 3.9 2.2 1.5"/><path color="#13b0b6" d="M473 92l2.8-1-2.1 1.4-2.8 0"/><path color="#1388d3" d="M567.9 94.9l-2.7 .4 2.1-.4 2.8-.5"/><path color="#06a7c5" d="M577.7 92.2l-2.1-.1-2.8 1.2 2.2-.2"/><path color="#06a7c6" d="M523.3 91.2l-2.8 .5 2.1 1.5 2.8-.8"/><path color="#0365e1" d="M552.6 99.1l2.1-2 2.8-.4-2.1 1.3"/><path color="#06a8c3" d="M438.1 93.1l2.8-.4-2.1-1.5-2.8-.4"/><path color="#1481d5" d="M562.4 95.6l2.8-.3-2.2 .4-2.7 .6"/><path color="#069fce" d="M597.3 96.8l2.8-1.8-2.2-4.3-2.7 .8"/><path color="#1cb3af" d="M463.2 91.1l-2.1 .5-2.8 1 2.2-.2"/><path color="#06a4c9" d="M482.8 95.2l2.8 .3-2.1-2.8-2.8-.1"/><path color="#21b4ac" d="M498.1 91.1l2.2 2.3 2.7-.9-2.1-2.4"/><path color="#0998d1" d="M542.8 92.9l2.2 1.1 2.7 1.8-2.1-1.5"/><path color="#06a6c7" d="M453.5 93.4l-2.8 .8 2.1 0 2.8-.7"/><path color="#8dbf75" d="M593.1 86.1l-2.8 1 2.1 4.6 2.8-.2"/><path color="#07a9c3" d="M507.9 94l-2.1-2.4-2.8 .9 2.2 2.4"/><path color="#08aac0" d="M577.7 92.2l2.1 .5 2.8-1.4-2.1 .7"/><path color="#14b0b5" d="M542.8 92.9l-2.1-1-2.8-1.7 2.2 .9"/><path color="#96bf71" d="M533 87.4l-2.1-1.2-2.8 3.1 2.2 1.2"/><path color="#13b0b6" d="M517.7 92.2l2.8-.5-2.1-.8-2.8 .4"/><path color="#24b5aa" d="M463.2 91.1l2.2 1 2.7 .1-2.1-.3"/><path color="#06a2cb" d="M447.9 95l2.8-.8-2.1-1.3-2.8 .7"/><path color="#1483d5" d="M492.6 98.2l2.8-3.6-2.2-1.5-2.7 3.9"/><path color="#06a7c5" d="M507.9 94l2.1 .9 2.8-1.8-2.1-.9"/><path color="#8fbf74" d="M533 87.4l2.2 1 2.7 1.8-2.1-1"/><path color="#88bf76" d="M587.5 88.2l2.8-1.1-2.1 2-2.8 .9"/><path color="#18b1b3" d="M473 92l-2.1 .4-2.8-.2 2.2 .4"/><path color="#0aacbe" d="M498.1 91.1l-2.7 3.5 2.1 1.1 2.8-2.3"/><path color="#06a7c5" d="M607.1 94.9l2.8-1.8-2.2-.5-2.7 1.4"/><path color="#06a1cd" d="M597.3 96.8l-2.1-5.3-2.8 .2 2.1 4.6"/><path color="#128bd3" d="M597.3 96.8l2.1-.4 2.8-1.2-2.1-.2"/><path color="#1487d3" d="M562.4 95.6l-2.1 .7-2.8 .4 2.1-1.4"/><path color="#18b1b2" d="M473 92l2.2 2.2 2.7-.8-2.1-2.4"/><path color="#06a2cb" d="M438.1 93.1l2.1 2.1 2.8-.8-2.1-1.7"/><path color="#0aacbe" d="M482.8 95.2l-2.1-2.6-2.8 .8 2.1 2.4"/><path color="#066edf" d="M552.6 99.1l-2.8-1.9 2.2-1.1 2.7 1"/><path color="#069fce" d="M482.8 95.2l2.1 1 2.8 .4-2.1-1.1"/><path color="#10afb8" d="M527.5 93.7l2.8-3.2-2.2-1.2-2.7 3.1"/><path color="#07aac2" d="M577.7 92.2l-2.7 .9 2.1 0 2.7-.4"/><path color="#127dd8" d="M492.6 98.2l-2.1-1.2-2.8-.4 2.1 1.1"/><path color="#14b0b5" d="M517.7 92.2l-2.1-.9-2.8 1.8 2.1 .9"/><path color="#06a4c9" d="M507.9 94l-2.7 .9 2.1 1 2.7-1"/><path color="#069fce" d="M572.2 94l2.8-.9-2.2 .2-2.7 1.1"/><path color="#079ecf" d="M447.9 95l-2.1-1.4-2.8 .8 2.1 1.8"/><path color="#26b5a9" d="M463.2 91.1l-2.7 1.3 2.1 1.2 2.8-1.5"/><path color="#59bd8b" d="M587.5 88.2l-2.1 1.8-2.8 1.3 2.1-.6"/><path color="#118dd2" d="M562.4 95.6l2.1-.2 2.8-.5-2.1 .4"/><path color="#0dadbb" d="M457.7 93.7l2.8-1.3-2.2 .2-2.7 .9"/><path color="#10afb8" d="M542.8 92.9l-2.7-1.8 2.1 1 2.8 1.9"/><path color="#8abf76" d="M533 87.4l-2.7 3.1 2.1 1 2.8-3.1"/><path color="#0dadbb" d="M517.7 92.2l2.1 1.8 2.8-.8-2.1-1.5"/><path color="#118cd2" d="M492.6 98.2l2.1-.2 2.8-2.3-2.1-1.1"/><path color="#06a5c8" d="M447.9 95l2.1-.2 2.8-.6-2.1 0"/><path color="#09abbf" d="M502.4 95.7l2.8-.8-2.2-2.4-2.7 .9"/><path color="#88bf76" d="M587.5 88.2l2.1 3.7 2.8-.2-2.1-4.6"/><path color="#06a5c9" d="M607.1 94.9l-2.1-.9-2.8 1.2 2.1 .3"/><path color="#06a2cb" d="M527.5 93.7l-2.1-1.3-2.8 .8 2.1 1.6"/><path color="#128bd2" d="M597.3 96.8l-2.8-.5 2.2 0 2.7 .1"/><path color="#16b1b3" d="M473 92l-2.7 .6 2.1 2.3 2.8-.7"/><path color="#128bd2" d="M547.1 95.2l2.7 2-2.1-1.4-2.7-1.8"/><path color="#07a9c3" d="M482.8 95.2l-2.8 .6 2.2 1.1 2.7-.7"/><path color="#079dcf" d="M572.2 94l-2.1 .4-2.8 .5 2.1-.3"/><path color="#0eaeba" d="M527.5 93.7l2.1 .8 2.8-3-2.1-1"/><path color="#0aacbe" d="M457.7 93.7l-2.1-.2-2.8 .7 2.1 0"/><path color="#0eaeba" d="M517.7 92.2l-2.8 1.8 2.2 1.4 2.7-1.4"/><path color="#26b5a9" d="M467.5 93.1l2.8-.5-2.2-.4-2.7-.1"/><path color="#1486d3" d="M492.6 98.2l-2.8-.5 2.2 .9 2.7-.6"/><path color="#15b1b4" d="M582 93.2l2.7-2.5-2.1 .6-2.8 1.4"/><path color="#0a97d1" d="M562.4 95.6l-2.8-.3 2.2 .1 2.7 0"/><path color="#07a9c2" d="M512.2 95.7l2.7-1.7-2.1-.9-2.8 1.8"/><path color="#08aac1" d="M502.4 95.7l-2.1-2.3-2.8 2.3 2.1 1"/><path color="#87bf77" d="M537.3 89.4l2.8 1.7-2.2-.9-2.7-1.8"/><path color="#06a1cc" d="M447.9 95l-2.8 1.2 2.2 0 2.7-1.4"/><path color="#5bbd8a" d="M587.5 88.2l-2.8 2.5 2.2 2.8 2.7-1.6"/><path color="#09abbf" d="M477.3 96.4l2.7-.6-2.1-2.4-2.7 .8"/><path color="#07a9c3" d="M572.2 94l2.1-.5 2.8-.4-2.1 0"/><path color="#10afb8" d="M457.7 93.7l2.1 1.4 2.8-1.5-2.1-1.2"/><path color="#0b96d1" d="M442.4 97.4l2.7-1.2-2.1-1.8-2.8 .8"/><path color="#06a6c7" d="M502.4 95.7l2.1 1.3 2.8-1.1-2.1-1"/><path color="#0f90d2" d="M556.9 95.1l2.7 .2-2.1 1.4-2.8 .4"/><path color="#0aacbd" d="M591.8 95.7l2.7 .6-2.1-4.6-2.8 .2"/><path color="#06a1cd" d="M527.5 93.7l-2.8 1.1 2.2 1.4 2.7-1.7"/><path color="#06a2cb" d="M487.1 97.2l2.7 .5-2.1-1.1-2.8-.4"/><path color="#06a6c7" d="M512.2 95.7l-2.2-.8-2.7 1 2.1 1.1"/><path color="#06a8c4" d="M522 95.9l2.7-1.1-2.1-1.6-2.8 .8"/><path color="#21b4ac" d="M467.5 93.1l-2.1-1-2.8 1.5 2.1 1.2"/><path color="#06a2cb" d="M601.5 96.1l2.8-.6-2.1-.3-2.8 1.2"/><path color="#09abbf" d="M582 93.2l-2.2-.5-2.7 .4 2.1 0"/><path color="#108ed2" d="M547.1 95.2l2.1 0 2.8 .9-2.2 1.1"/><path color="#0aacbd" d="M547.1 95.2l-2.1-1.2-2.8-1.9 2.1 .9"/><path color="#85bf78" d="M537.3 89.4l-2.1-1-2.8 3.1 2.1 .9"/><path color="#1bb2b0" d="M467.5 93.1l2.1 2.4 2.8-.6-2.1-2.3"/><path color="#08abc0" d="M477.3 96.4l-2.1-2.2-2.8 .7 2.1 2.3"/><path color="#0badbc" d="M457.7 93.7l-2.8 .5 2.2 1.5 2.7-.6"/><path color="#10afb9" d="M582 93.2l2.1 1.9 2.8-1.6-2.2-2.8"/><path color="#06a7c5" d="M572.2 94l-2.8 .6 2.1-.1 2.8-1"/><path color="#06a7c5" d="M502.4 95.7l-2.8 1 2.1 1.2 2.8-.9"/><path color="#07aac2" d="M512.2 95.7l2.1 1.1 2.8-1.4-2.2-1.4"/><path color="#06a8c4" d="M477.3 96.4l2.1 1.2 2.8-.7-2.2-1.1"/><path color="#85bf78" d="M537.3 89.4l2.1 .7 2.8 2-2.1-1"/><path color="#0eaeba" d="M591.8 95.7l-2.2-3.8-2.7 1.6 2.1 2.9"/><path color="#069fce" d="M566.6 95.2l2.8-.6-2.1 .3-2.8 .5"/><path color="#06a1cd" d="M591.8 95.7l2.1 .5 2.8 .1-2.2 0"/><path color="#0998d1" d="M556.9 95.1l-2.2 2-2.7-1 2.1-1"/><path color="#06a2cc" d="M496.8 97.8l2.8-1.1-2.1-1-2.8 2.3"/><path color="#0a96d1" d="M442.4 97.4l2.1 .1 2.8-1.3-2.2 0"/><path color="#0dadbb" d="M452.2 94.7l2.7-.5-2.1 0-2.8 .6"/><path color="#08aac0" d="M487.1 97.2l-2.2-1-2.7 .7 2.1 1.1"/><path color="#07a9c2" d="M522 95.9l-2.2-1.9-2.7 1.4 2.1 1.5"/><path color="#069ece" d="M487.1 97.2l2.1 2 2.8-.6-2.2-.9"/><path color="#06a3ca" d="M556.9 95.1l2.1 .3 2.8 0-2.2-.1"/><path color="#06a3ca" d="M601.5 96.1l-2.1 .3-2.7-.1 2.1 .1"/><path color="#10afb8" d="M531.7 95.4l2.8-3-2.1-.9-2.8 3"/><path color="#06a0cd" d="M522 95.9l2.1 1.9 2.8-1.6-2.2-1.4"/><path color="#15b1b4" d="M467.5 93.1l-2.8 1.7 2.1 1.8 2.8-1.1"/><path color="#06a6c6" d="M512.2 95.7l-2.8 1.3 2.1 .8 2.8-1"/><path color="#07a9c2" d="M582 93.2l-2.8-.1 2.1 2 2.8 0"/><path color="#0cadbc" d="M461.9 96.4l2.8-1.6-2.1-1.2-2.8 1.5"/><path color="#06a8c5" d="M477.3 96.4l-2.8 .8 2.1 1.1 2.8-.7"/><path color="#0badbc" d="M547.1 95.2l-2.8-2.2 2.1 .3 2.8 1.9"/><path color="#86bf77" d="M537.3 89.4l-2.8 3 2.1 .6 2.8-2.9"/><path color="#06a4c9" d="M506.6 98.2l2.8-1.2-2.1-1.1-2.8 1.1"/><path color="#079bd0" d="M496.8 97.8l-2.1 .2-2.7 .6 2.1 .8"/><path color="#06a1cc" d="M566.6 95.2l-2.1 .2-2.7 0 2.1 .1"/><path color="#09acbe" d="M452.2 94.7l-2.2 .1-2.7 1.4 2.1-.1"/><path color="#06a6c7" d="M591.8 95.7l-2.8 .7 2.1-.1 2.8-.1"/><path color="#069ece" d="M531.7 95.4l-2.1-.9-2.7 1.7 2.1 1.3"/><path color="#14b0b5" d="M576.4 92.9l2.8 .2-2.1 0-2.8 .4"/><path color="#06a7c6" d="M496.8 97.8l2.2 1.1 2.7-1-2.1-1.2"/><path color="#08aac1" d="M471.7 97.9l2.8-.7-2.1-2.3-2.8 .6"/><path color="#06a5c9" d="M566.6 95.2l2.2 .3 2.7-1-2.1 .1"/><path color="#0faeb9" d="M452.2 94.7l2.1 1.7 2.8-.7-2.2-1.5"/><path color="#06a2cb" d="M522 95.9l-2.8 1 2.1 1.6 2.8-.7"/><path color="#06a6c7" d="M487.1 97.2l-2.8 .8 2.1 1.5 2.8-.3"/><path color="#06a2cb" d="M586.2 97.1l2.8-.7-2.1-2.9-2.8 1.6"/><path color="#06a7c5" d="M556.9 95.1l-2.8 0 2.1 .4 2.8-.1"/><path color="#07aac1" d="M461.9 96.4l-2.1-1.3-2.7 .6 2.1 1.6"/><path color="#06a3ca" d="M506.6 98.2l-2.1-1.2-2.8 .9 2.2 1.2"/><path color="#14b0b5" d="M531.7 95.4l2.2 .5 2.7-2.9-2.1-.6"/><path color="#06a7c5" d="M516.4 97.9l2.8-1-2.1-1.5-2.8 1.4"/><path color="#06a8c5" d="M481.5 98.8l2.8-.8-2.1-1.1-2.8 .7"/><path color="#06a2cb" d="M551.3 95.1l2.8 0-2.1 1-2.8-.9"/><path color="#09abbf" d="M461.9 96.4l2.2 1.3 2.7-1.1-2.1-1.8"/><path color="#85bf78" d="M541.5 90.8l2.8 2.2-2.1-.9-2.8-2"/><path color="#06a4c9" d="M506.6 98.2l2.2 .7 2.7-1.1-2.1-.8"/><path color="#06a2cb" d="M496.8 97.8l-2.7 1.6 2.1 .6 2.8-1.1"/><path color="#06a8c4" d="M596 96.7l2.8-.3-2.1-.1-2.8-.1"/><path color="#07a9c3" d="M471.7 97.9l-2.1-2.4-2.8 1.1 2.2 1.9"/><path color="#12afb7" d="M576.4 92.9l-2.1 .6-2.8 1 2.2-.1"/><path color="#0c94d2" d="M491.3 101.1l2.8-1.7-2.1-.8-2.8 .6"/><path color="#0cadbb" d="M452.2 94.7l-2.8 1.4 2.1 1.4 2.8-1.1"/><path color="#0e92d2" d="M526.2 99.7l2.8-2.2-2.1-1.3-2.8 1.6"/><path color="#06a6c7" d="M566.6 95.2l-2.7 .3 2.1-.1 2.8 .1"/><path color="#06a4c9" d="M446.6 97.6l2.8-1.5-2.1 .1-2.8 1.3"/><path color="#06a6c6" d="M471.7 97.9l2.2 1.1 2.7-.7-2.1-1.1"/><path color="#06a0cd" d="M531.7 95.4l-2.7 2.1 2.1 .3 2.8-1.9"/><path color="#06a2cc" d="M586.2 97.1l-2.1-2-2.8 0 2.1 2"/><path color="#16b1b4" d="M576.4 92.9l2.2 2.1 2.7 .1-2.1-2"/><path color="#06a4c9" d="M586.2 97.1l2.1-.8 2.8 0-2.1 .1"/><path color="#06a7c6" d="M516.4 97.9l-2.1-1.1-2.8 1 2.1 .9"/><path color="#06a7c6" d="M561.1 95.8l2.8-.3-2.1-.1-2.8 0"/><path color="#06a6c6" d="M481.5 98.8l-2.1-1.2-2.8 .7 2.1 1.1"/><path color="#07a9c3" d="M461.9 96.4l-2.7 .9 2.1 .4 2.8 0"/><path color="#06a5c8" d="M516.4 97.9l2.1 1.3 2.8-.7-2.1-1.6"/><path color="#8ebf74" d="M541.5 90.8l-2.1-.7-2.8 2.9 2.2 .6"/><path color="#06a3ca" d="M506.6 98.2l-2.7 .9 2.1 .5 2.8-.7"/><path color="#06a7c6" d="M481.5 98.8l2.1 1 2.8-.3-2.1-1.5"/><path color="#14b0b5" d="M551.3 95.1l-2.1 .1-2.8-1.9 2.1 .2"/><path color="#07a9c2" d="M456.4 98.2l2.8-.9-2.1-1.6-2.8 .7"/><path color="#0d92d2" d="M526.2 99.7l-2.1-1.9-2.8 .7 2.1 1.6"/><path color="#0a96d1" d="M491.3 101.1l-2.1-1.9-2.8 .3 2.1 1.4"/><path color="#09acbe" d="M596 96.7l-2.1-.5-2.8 .1 2.1-.1"/><path color="#88bf77" d="M541.5 90.8l2.2 .6 2.7 1.9-2.1-.3"/><path color="#06a2cb" d="M501.1 100l2.8-.9-2.2-1.2-2.7 1"/><path color="#06a7c6" d="M551.3 95.1l2.1 .5 2.8-.1-2.1-.4"/><path color="#06a5c8" d="M471.7 97.9l-2.7 .6 2.1 1 2.8-.5"/><path color="#0d93d2" d="M491.3 101.1l2.1 .1 2.8-1.2-2.1-.6"/><path color="#16b1b4" d="M576.4 92.9l-2.7 1.5 2.1 1.6 2.8-1"/><path color="#0e91d2" d="M526.2 99.7l2.1 0 2.8-1.9-2.1-.3"/><path color="#06a8c3" d="M570.9 95.9l2.8-1.5-2.2 .1-2.7 1"/><path color="#06a5c8" d="M586.2 97.1l-2.8 0 2.2 .2 2.7-1"/><path color="#06a8c4" d="M446.6 97.6l2.1 1 2.8-1.1-2.1-1.4"/><path color="#06a8c4" d="M561.1 95.8l-2.1-.4-2.8 .1 2.1 .5"/><path color="#06a6c7" d="M466.2 99l2.8-.5-2.2-1.9-2.7 1.1"/><path color="#06a6c7" d="M516.4 97.9l-2.8 .8 2.2 1.6 2.7-1.1"/><path color="#1cb3af" d="M536 96.3l2.8-2.7-2.2-.6-2.7 2.9"/><path color="#06a6c6" d="M481.5 98.8l-2.8 .6 2.2 1.1 2.7-.7"/><path color="#09abbf" d="M561.1 95.8l2.1-.5 2.8 .1-2.1 .1"/><path color="#07a9c3" d="M456.4 98.2l-2.1-1.8-2.8 1.1 2.1 1.3"/><path color="#06a2cc" d="M501.1 100l-2.1-1.1-2.8 1.1 2.1 .6"/><path color="#06a7c6" d="M510.9 99.5l2.7-.8-2.1-.9-2.7 1.1"/><path color="#08aac1" d="M580.7 97.1l2.7 0-2.1-2-2.7-.1"/><path color="#92bf72" d="M541.5 90.8l-2.7 2.8 2.1 .2 2.8-2.4"/><path color="#06a6c6" d="M476 100.1l2.7-.7-2.1-1.1-2.7 .7"/><path color="#09abbf" d="M456.4 98.2l2.1-.5 2.8 0-2.1-.4"/><path color="#0c93d2" d="M491.3 101.1l-2.8-.2 2.2 .5 2.7-.2"/><path color="#0e91d2" d="M526.2 99.7l-2.8 .4 2.2 .2 2.7-.6"/><path color="#1bb2b0" d="M551.3 95.1l-2.8-1.6 2.2 .3 2.7 1.8"/><path color="#06a2cb" d="M501.1 100l2.1 .4 2.8-.8-2.1-.5"/><path color="#07a9c3" d="M570.9 95.9l-2.1-.4-2.8-.1 2.1-.1"/><path color="#06a6c6" d="M536 96.3l-2.1-.4-2.8 1.9 2.1 .2"/><path color="#07aac2" d="M466.2 99l-2.1-1.3-2.8 0 2.1 .4"/><path color="#07aac2" d="M570.9 95.9l2.1 1.2 2.8-1.1-2.1-1.6"/><path color="#06a0cd" d="M520.7 100.4l2.7-.3-2.1-1.6-2.8 .7"/><path color="#06a5c8" d="M466.2 99l2.1 1.1 2.8-.6-2.1-1"/><path color="#06a4c9" d="M485.8 100.7l2.7 .2-2.1-1.4-2.8 .3"/><path color="#06a7c6" d="M510.9 99.5l-2.1-.6-2.8 .7 2.1 .5"/><path color="#0aacbd" d="M561.1 95.8l-2.8 .2 2.2-.4 2.7-.3"/><path color="#16b1b4" d="M590.5 95.6l2.7 .6-2.1 .1-2.8 0"/><path color="#0aacbe" d="M580.7 97.1l-2.1-2.1-2.8 1 2.1 1.7"/><path color="#25b5a9" d="M536 96.3l2.1-.1 2.8-2.4-2.1-.2"/><path color="#06a6c6" d="M476 100.1l-2.1-1.1-2.8 .5 2.1 1.1"/><path color="#06a3ca" d="M510.9 99.5l2.1 1.9 2.8-1.1-2.2-1.6"/><path color="#09abbf" d="M456.4 98.2l-2.8 .6 2.2 .3 2.7-1.4"/><path color="#06a7c6" d="M580.7 97.1l2.1 1.2 2.8-1-2.2-.2"/><path color="#8dbf74" d="M545.8 91.9l2.7 1.6-2.1-.2-2.7-1.9"/><path color="#06a7c5" d="M555.6 96.2l2.7-.2-2.1-.5-2.8 .1"/><path color="#06a3ca" d="M501.1 100l-2.8 .6 2.1 0 2.8-.2"/><path color="#06a6c7" d="M476 100.1l2.1 1.1 2.8-.7-2.2-1.1"/><path color="#06a8c5" d="M450.9 99.5l2.7-.7-2.1-1.3-2.8 1.1"/><path color="#069ece" d="M495.5 101.2l2.8-.6-2.1-.6-2.8 1.2"/><path color="#06a1cd" d="M520.7 100.4l-2.2-1.2-2.7 1.1 2.1 1.6"/><path color="#07aac1" d="M570.9 95.9l-2.8-.6 2.1 1.7 2.8 .1"/><path color="#069fce" d="M530.4 99.7l2.8-1.7-2.1-.2-2.8 1.9"/><path color="#08abc0" d="M536 96.3l-2.8 1.7 2.1-.4 2.8-1.4"/><path color="#06a7c5" d="M485.8 100.7l-2.2-.9-2.7 .7 2.1 1"/><path color="#07a9c2" d="M466.2 99l-2.8-.9 2.1 1.9 2.8 .1"/><path color="#06a0cd" d="M520.7 100.4l2.1 .5 2.8-.6-2.2-.2"/><path color="#12b0b7" d="M590.5 95.6l-2.2 .7-2.7 1 2.1 .3"/><path color="#06a4ca" d="M485.8 100.7l2.1 .8 2.8-.1-2.2-.5"/><path color="#06a3cb" d="M510.9 99.5l-2.8 .6 2.1 1.9 2.8-.6"/><path color="#06a8c4" d="M580.7 97.1l-2.8 .6 2.1 1.2 2.8-.6"/><path color="#97bf70" d="M545.8 91.9l-2.1-.5-2.8 2.4 2.1 .2"/><path color="#17b1b3" d="M565.3 94.7l2.8 .6-2.1 .1-2.8-.1"/><path color="#06a6c7" d="M476 100.1l-2.8 .5 2.1 1.1 2.8-.5"/><path color="#27b5a8" d="M555.6 96.2l-2.2-.6-2.7-1.8 2.1 .2"/><path color="#06a0cd" d="M495.5 101.2l-2.1 0-2.7 .2 2.1 .4"/><path color="#06a6c7" d="M505.3 100.8l2.8-.7-2.1-.5-2.8 .8"/><path color="#079ecf" d="M530.4 99.7l-2.1 0-2.7 .6 2.1 .2"/><path color="#a0be6d" d="M545.8 91.9l2.1 0 2.8 1.9-2.2-.3"/><path color="#07a9c3" d="M575.1 98.2l2.8-.5-2.1-1.7-2.8 1.1"/><path color="#1cb3af" d="M460.6 97.3l2.8 .8-2.1-.4-2.8 0"/><path color="#09abbf" d="M555.6 96.2l2.1-.3 2.8-.3-2.2 .4"/><path color="#06a8c4" d="M450.9 99.5l2.1 .9 2.8-1.3-2.2-.3"/><path color="#06a6c6" d="M470.4 101.2l2.8-.6-2.1-1.1-2.8 .6"/><path color="#06a1cc" d="M520.7 100.4l-2.8 1.5 2.1 .1 2.8-1.1"/><path color="#06a7c6" d="M495.5 101.2l2.2-.4 2.7-.2-2.1 0"/><path color="#0b96d1" d="M515.1 103.3l2.8-1.4-2.1-1.6-2.8 1.1"/><path color="#06a8c5" d="M485.8 100.7l-2.8 .8 2.1 .8 2.8-.8"/><path color="#06a8c4" d="M530.4 99.7l2.2-.6 2.7-1.5-2.1 .4"/><path color="#06a7c5" d="M584.9 99.5l2.8-1.9-2.1-.3-2.8 1"/><path color="#06a5c8" d="M480.2 102.3l2.8-.8-2.1-1-2.8 .7"/><path color="#22b4ac" d="M565.3 94.7l-2.1 .6-2.7 .3 2.1-.4"/><path color="#33b8a1" d="M540.2 96.1l2.8-2.1-2.1-.2-2.8 2.4"/><path color="#07a9c2" d="M505.3 100.8l-2.1-.4-2.8 .2 2.2-.1"/><path color="#19b2b2" d="M565.3 94.7l2.2 2.2 2.7 .1-2.1-1.7"/><path color="#1db3af" d="M460.6 97.3l-2.1 .4-2.7 1.4 2.1 .2"/><path color="#07a9c3" d="M575.1 98.2l-2.1-1.1-2.8-.1 2.2 1.7"/><path color="#aabe69" d="M545.8 91.9l-2.8 2.1 2.1 .2 2.8-2.3"/><path color="#06a3ca" d="M505.3 100.8l2.2 1.8 2.7-.6-2.1-1.9"/><path color="#06a8c5" d="M575.1 98.2l2.2 1.3 2.7-.6-2.1-1.2"/><path color="#06a7c6" d="M470.4 101.2l-2.1-1.1-2.8-.1 2.2 1.9"/><path color="#1ab2b1" d="M460.6 97.3l2.2 2.6 2.7 .1-2.1-1.9"/><path color="#32b8a1" d="M555.6 96.2l-2.8-2.2 2.1 .8 2.8 1.1"/><path color="#0f90d2" d="M515.1 103.3l-2.1-1.9-2.8 .6 2.2 1.9"/><path color="#06a8c5" d="M495.5 101.2l-2.7 .6 2.1 .2 2.8-1.2"/><path color="#06a7c6" d="M530.4 99.7l-2.7 .8 2.1 0 2.8-1.4"/><path color="#06a7c6" d="M470.4 101.2l2.2 1.1 2.7-.6-2.1-1.1"/><path color="#06a5c9" d="M524.9 101.4l2.8-.9-2.1-.2-2.8 .6"/><path color="#06a3ca" d="M584.9 99.5l-2.1-1.2-2.8 .6 2.2 1.2"/><path color="#06a5c8" d="M490 102.4l2.8-.6-2.1-.4-2.8 .1"/><path color="#17b1b3" d="M540.2 96.1l-2.1 .1-2.8 1.4 2.2-.3"/><path color="#0b95d1" d="M515.1 103.3l2.1-.3 2.8-1-2.1-.1"/><path color="#06a4c9" d="M480.2 102.3l-2.1-1.1-2.8 .5 2.1 1.1"/><path color="#06a5c8" d="M480.2 102.3l2.1 .7 2.8-.7-2.1-.8"/><path color="#23b4ab" d="M565.3 94.7l-2.7 .5 2.1 2.2 2.8-.5"/><path color="#06a8c4" d="M575.1 98.2l-2.7 .5 2.1 1.3 2.8-.5"/><path color="#06a7c5" d="M505.3 100.8l-2.7-.3 2.1 1.9 2.8 .2"/><path color="#42bb98" d="M540.2 96.1l2.2 .4 2.7-2.3-2.1-.2"/><path color="#1bb2b0" d="M460.6 97.3l-2.7 2 2.1 1.8 2.8-1.2"/><path color="#08aac1" d="M455.1 101.2l2.8-1.9-2.1-.2-2.8 1.3"/><path color="#c3bc5f" d="M550 91.9l2.8 2.1-2.1-.2-2.8-1.9"/><path color="#06a6c7" d="M470.4 101.2l-2.7 .7 2.1 1.1 2.8-.7"/><path color="#06a6c7" d="M524.9 101.4l-2.1-.5-2.8 1.1 2.1 0"/><path color="#20b4ad" d="M559.8 95.6l2.8-.4-2.1 .4-2.8 .3"/><path color="#06a7c6" d="M490 102.4l-2.1-.9-2.8 .8 2.1 .7"/><path color="#0e91d2" d="M515.1 103.3l-2.7 .6 2.1-.7 2.7-.2"/><path color="#0cadbb" d="M569.6 99.1l2.8-.4-2.2-1.7-2.7-.1"/><path color="#12afb7" d="M499.8 100.3l2.8 .2-2.2 .1-2.7 .2"/><path color="#07a9c3" d="M464.9 102.6l2.8-.7-2.2-1.9-2.7-.1"/><path color="#06a7c6" d="M524.9 101.4l2.1 .6 2.8-1.5-2.1 0"/><path color="#06a6c7" d="M490 102.4l2.1 .7 2.8-1.1-2.1-.2"/><path color="#0d92d2" d="M509.6 104.4l2.8-.5-2.2-1.9-2.7 .6"/><path color="#21b4ac" d="M540.2 96.1l-2.7 1.2 2.1 1.2 2.8-2"/><path color="#06a4c9" d="M480.2 102.3l-2.8 .5 2.2 .7 2.7-.5"/><path color="#18b1b2" d="M534.7 98.5l2.8-1.2-2.2 .3-2.7 1.5"/><path color="#06a5c8" d="M579.4 100.7l2.8-.6-2.2-1.2-2.7 .6"/><path color="#d1bb59" d="M550 91.9l-2.1 0-2.8 2.3 2.1 .2"/><path color="#06a5c8" d="M474.7 103.4l2.7-.6-2.1-1.1-2.7 .6"/><path color="#08abc0" d="M455.1 101.2l2.1 1.1 2.8-1.2-2.1-1.8"/><path color="#3fba9a" d="M559.8 95.6l-2.1 .3-2.8-1.1 2.1 .7"/><path color="#c5bc5e" d="M550 91.9l2.1 1.8 2.8 1.1-2.1-.8"/><path color="#1fb3ae" d="M559.8 95.6l2.1 2.4 2.8-.6-2.1-2.2"/><path color="#0cadbb" d="M569.6 99.1l-2.1-2.2-2.8 .5 2.1 2.3"/><path color="#11afb8" d="M499.8 100.3l-2.1 .5-2.8 1.2 2.1 .1"/><path color="#06a7c5" d="M524.9 101.4l-2.8 .6 2.2 .3 2.7-.3"/><path color="#06a5c8" d="M490 102.4l-2.8 .6 2.2 1.2 2.7-1.1"/><path color="#07a9c2" d="M464.9 102.6l-2.1-2.7-2.8 1.2 2.1 1.8"/><path color="#07a9c2" d="M569.6 99.1l2.1 1.4 2.8-.5-2.1-1.3"/><path color="#12afb7" d="M534.7 98.5l-2.1 .6-2.8 1.4 2.1 0"/><path color="#06a4ca" d="M464.9 102.6l2.1 1.1 2.8-.7-2.1-1.1"/><path color="#089ad0" d="M509.6 104.4l-2.1-1.8-2.8-.2 2.1 1.8"/><path color="#06a3cb" d="M519.4 102.7l2.7-.7-2.1 0-2.8 1"/><path color="#13b0b6" d="M499.8 100.3l2.1 1.9 2.8 .2-2.1-1.9"/><path color="#06a5c8" d="M579.4 100.7l-2.1-1.2-2.8 .5 2.1 1.3"/><path color="#06a6c7" d="M484.5 103.6l2.7-.6-2.1-.7-2.8 .7"/><path color="#0a96d1" d="M509.6 104.4l2.1-1.1 2.8-.1-2.1 .7"/><path color="#1db3af" d="M534.7 98.5l2.1 2 2.8-2-2.1-1.2"/><path color="#06a5c8" d="M474.7 103.4l-2.1-1.1-2.8 .7 2.1 1.1"/><path color="#62be87" d="M544.5 96.9l2.7-2.5-2.1-.2-2.7 2.3"/><path color="#cfbb5a" d="M550 91.9l-2.8 2.5 2.2 2.2 2.7-2.9"/><path color="#06a5c8" d="M474.7 103.4l2.1 .7 2.8-.6-2.2-.7"/><path color="#3ab99d" d="M559.8 95.6l-2.8-.1 2.2 1.8 2.7 .7"/><path color="#07a9c3" d="M569.6 99.1l-2.8 .6 2.1 1.2 2.8-.4"/><path color="#06a3ca" d="M464.9 102.6l-2.8 .3 2.1 1.8 2.8-1"/><path color="#12afb7" d="M499.8 100.3l-2.8 1.8 2.1 1.8 2.8-1.7"/><path color="#06a5c8" d="M519.4 102.7l-2.2 .3-2.7 .2 2.1-.7"/><path color="#06a8c4" d="M494.3 103.9l2.7-1.8-2.1-.1-2.8 1.1"/><path color="#07a9c2" d="M529.2 102.6l2.7-2.1-2.1 0-2.8 1.5"/><path color="#13b0b6" d="M534.7 98.5l-2.8 2 2.1 1.7 2.8-1.7"/><path color="#24b5aa" d="M544.5 96.9l-2.1-.4-2.8 2 2.1 1.2"/><path color="#06a6c6" d="M484.5 103.6l-2.2-.6-2.7 .5 2.1 .7"/><path color="#069ece" d="M509.6 104.4l-2.8-.2 2.1-.8 2.8-.1"/><path color="#08aac0" d="M564.1 100.3l2.7-.6-2.1-2.3-2.8 .6"/><path color="#06a4ca" d="M484.5 103.6l2.1 1.6 2.8-1-2.2-1.2"/><path color="#07aac2" d="M519.4 102.7l2.1 0 2.8-.4-2.2-.3"/><path color="#07a9c2" d="M459.4 103.3l2.7-.4-2.1-1.8-2.8 1.2"/><path color="#aabe69" d="M554.3 95.5l2.7 0-2.1-.7-2.8-1.1"/><path color="#55bd8e" d="M544.5 96.9l2.1 2.5 2.8-2.8-2.2-2.2"/><path color="#06a6c7" d="M474.7 103.4l-2.8 .7 2.1 .5 2.8-.5"/><path color="#06a5c8" d="M573.8 102l2.8-.7-2.1-1.3-2.8 .5"/><path color="#06a8c4" d="M504 104.1l2.8 .1-2.1-1.8-2.8-.2"/><path color="#06a2cc" d="M494.3 103.9l-2.2-.8-2.7 1.1 2.1 1.2"/><path color="#06a4c9" d="M469.1 104.8l2.8-.7-2.1-1.1-2.8 .7"/><path color="#07a9c2" d="M529.2 102.6l-2.2-.6-2.7 .3 2.1 .4"/><path color="#0faeb9" d="M538.9 102.4l2.8-2.7-2.1-1.2-2.8 2"/><path color="#06a5c8" d="M494.3 103.9l2.1 1.6 2.7-1.6-2.1-1.8"/><path color="#1bb2b0" d="M544.5 96.9l-2.8 2.8 2.1 1.4 2.8-1.7"/><path color="#06a8c4" d="M529.2 102.6l2.1 1.3 2.7-1.7-2.1-1.7"/><path color="#06a4ca" d="M484.5 103.6l-2.8 .6 2.1 1.6 2.8-.6"/><path color="#9fbe6d" d="M554.3 95.5l-2.2-1.8-2.7 2.9 2.1 2.1"/><path color="#0aacbe" d="M519.4 102.7l-2.8-.2 2.1 .9 2.8-.7"/><path color="#06a7c6" d="M564.1 100.3l2.1 1 2.7-.4-2.1-1.2"/><path color="#1db3af" d="M564.1 100.3l-2.2-2.3-2.7-.7 2.1 1.7"/><path color="#06a3cb" d="M459.4 103.3l2.1 2.5 2.7-1.1-2.1-1.8"/><path color="#97bf70" d="M554.3 95.5l2.1 1.1 2.8 .7-2.2-1.8"/><path color="#06a6c7" d="M573.8 102l-2.1-1.5-2.8 .4 2.2 1.3"/><path color="#06a7c6" d="M478.9 104.8l2.8-.6-2.1-.7-2.8 .6"/><path color="#06a8c4" d="M504 104.1l-2.1-1.9-2.8 1.7 2.2 1.7"/><path color="#069ece" d="M469.1 104.8l-2.1-1.1-2.8 1 2.2 1.9"/><path color="#07a9c3" d="M538.9 102.4l-2.1-1.9-2.8 1.7 2.2 1.7"/><path color="#09abbf" d="M513.8 102.2l2.8 .3-2.1 .7-2.8 .1"/><path color="#079ccf" d="M494.3 103.9l-2.8 1.5 2.1 1.5 2.8-1.4"/><path color="#07a9c3" d="M504 104.1l2.2-.5 2.7-.2-2.1 .8"/><path color="#06a6c7" d="M469.1 104.8l2.2 .3 2.7-.5-2.1-.5"/><path color="#20b4ad" d="M548.7 101.9l2.8-3.2-2.1-2.1-2.8 2.8"/><path color="#06a8c3" d="M529.2 102.6l-2.8 .1 2.1 1 2.8 .2"/><path color="#089ad0" d="M488.7 106.8l2.8-1.4-2.1-1.2-2.8 1"/><path color="#0dadbb" d="M538.9 102.4l2.2 .4 2.7-1.7-2.1-1.4"/><path color="#8cbf75" d="M554.3 95.5l-2.8 3.2 2.1 .3 2.8-2.4"/><path color="#14b0b5" d="M564.1 100.3l-2.8-1.3 2.1 1.1 2.8 1.2"/><path color="#11afb8" d="M523.6 102.7l2.8 0-2.1-.4-2.8 .4"/><path color="#06a7c5" d="M478.9 104.8l-2.1-.7-2.8 .5 2.2 .5"/><path color="#09abbf" d="M548.7 101.9l-2.1-2.5-2.8 1.7 2.2 1.4"/><path color="#10afb8" d="M513.8 102.2l-2.1 1.1-2.8 .1 2.2-.7"/><path color="#06a6c7" d="M478.9 104.8l2.1 1.5 2.8-.5-2.1-1.6"/><path color="#06a8c5" d="M504 104.1l-2.7 1.5 2.1 .3 2.8-2.3"/><path color="#06a8c4" d="M538.9 102.4l-2.7 1.5 2.1 .6 2.8-1.7"/><path color="#089ad0" d="M498.5 107.2l2.8-1.6-2.2-1.7-2.7 1.6"/><path color="#06a2cb" d="M469.1 104.8l-2.7 1.8 2.1-1.3 2.8-.2"/><path color="#118dd2" d="M463.6 108.3l2.8-1.7-2.2-1.9-2.7 1.1"/><path color="#0899d1" d="M488.7 106.8l-2.1-1.6-2.8 .6 2.1 1.5"/><path color="#06a2cb" d="M533.4 105.3l2.8-1.4-2.2-1.7-2.7 1.7"/><path color="#10afb9" d="M513.8 102.2l2.1 1.9 2.8-.7-2.1-.9"/><path color="#1db3af" d="M548.7 101.9l2.1-.4 2.8-2.5-2.1-.3"/><path color="#0e91d2" d="M488.7 106.8l2.1 1.4 2.8-1.3-2.1-1.5"/><path color="#06a6c6" d="M568.3 102.4l2.8-.2-2.2-1.3-2.7 .4"/><path color="#8abf76" d="M558.5 97.6l2.8 1.4-2.1-1.7-2.8-.7"/><path color="#11afb8" d="M523.6 102.7l-2.1 0-2.8 .7 2.1 1"/><path color="#0f8fd2" d="M498.5 107.2l-2.1-1.7-2.8 1.4 2.1 1.5"/><path color="#06a5c8" d="M478.9 104.8l-2.7 .3 2.1 2.3 2.7-1.1"/><path color="#1ab2b1" d="M523.6 102.7l2.1 .7 2.8 .3-2.1-1"/><path color="#09abbe" d="M548.7 101.9l-2.7 .6 2.1 .3 2.7-1.3"/><path color="#06a6c6" d="M533.4 105.3l-2.1-1.4-2.8-.2 2.1 1"/><path color="#16b1b3" d="M513.8 102.2l-2.7 .5 2.1 2 2.7-.6"/><path color="#0d93d2" d="M498.5 107.2l2.1 .9 2.8-2.2-2.1-.3"/><path color="#108fd2" d="M488.7 106.8l-2.8 .5 2.2 1.7 2.7-.8"/><path color="#06a2cc" d="M533.4 105.3l2.1 .9 2.8-1.7-2.1-.6"/><path color="#06a8c4" d="M473.4 105.5l2.8-.4-2.2-.5-2.7 .5"/><path color="#11afb8" d="M543.2 103.1l2.8-.6-2.2-1.4-2.7 1.7"/><path color="#079cd0" d="M463.6 108.3l2.1-2.8 2.8-.2-2.1 1.3"/><path color="#97bf70" d="M558.5 97.6l-2.1-1-2.8 2.4 2.1 .3"/><path color="#1db3af" d="M508.3 103.1l2.8-.4-2.2 .7-2.7 .2"/><path color="#16b1b4" d="M568.3 102.4l-2.1-1.1-2.8-1.2 2.1 1.1"/><path color="#83bf78" d="M558.5 97.6l2.1 1.3 2.8 1.2-2.1-1.1"/><path color="#06a1cd" d="M483.2 107.8l2.7-.5-2.1-1.5-2.8 .5"/><path color="#19b2b1" d="M523.6 102.7l-2.8 1.7 2.2 .9 2.7-1.9"/><path color="#08aac1" d="M518.1 106l2.7-1.6-2.1-1-2.8 .7"/><path color="#1487d3" d="M498.5 107.2l-2.8 1.2 2.1 .9 2.8-1.2"/><path color="#0faeb9" d="M543.2 103.1l-2.1-.3-2.8 1.7 2.1 .6"/><path color="#1487d3" d="M493 109.6l2.7-1.2-2.1-1.5-2.8 1.3"/><path color="#06a5c8" d="M533.4 105.3l-2.8-.6 2.1 1.7 2.8-.2"/><path color="#0cadbc" d="M508.3 103.1l-2.1 .5-2.8 2.3 2.1 .2"/><path color="#12afb7" d="M473.4 105.5l-2.1-.4-2.8 .2 2.1-1.2"/><path color="#06a0cd" d="M473.4 105.5l2.1 3 2.8-1.1-2.1-2.3"/><path color="#15b0b5" d="M543.2 103.1l2.1 1.1 2.8-1.4-2.1-.3"/><path color="#079bd0" d="M483.2 107.8l-2.2-1.5-2.7 1.1 2.1 2.3"/><path color="#96bf71" d="M558.5 97.6l-2.8 1.7 2.2 1.4 2.7-1.8"/><path color="#40ba99" d="M553 101l2.7-1.7-2.1-.3-2.8 2.5"/><path color="#1db3af" d="M508.3 103.1l2.1 2.2 2.8-.6-2.1-2"/><path color="#0c93d2" d="M483.2 107.8l2.1 2.1 2.8-.9-2.2-1.7"/><path color="#06a8c4" d="M518.1 106l-2.2-1.9-2.7 .6 2.1 2"/><path color="#1eb3ae" d="M527.9 104.1l2.7 .6-2.1-1-2.8-.3"/><path color="#1481d6" d="M493 109.6l-2.2-1.4-2.7 .8 2.1 1.7"/><path color="#06a8c4" d="M518.1 106l2.1 1.1 2.8-1.8-2.2-.9"/><path color="#0f90d2" d="M502.7 109.1l2.8-3-2.1-.2-2.8 2.2"/><path color="#06a7c6" d="M537.6 107.1l2.8-2-2.1-.6-2.8 1.7"/><path color="#1482d5" d="M493 109.6l2.1 .8 2.7-1.1-2.1-.9"/><path color="#14b0b5" d="M543.2 103.1l-2.8 2 2.1 1 2.8-1.9"/><path color="#20b4ad" d="M553 101l-2.2 .5-2.7 1.3 2.1 .3"/><path color="#08aac0" d="M473.4 105.5l-2.8-1.4 2.1 3.4 2.8 1"/><path color="#0cadbc" d="M508.3 103.1l-2.8 3 2.1 .8 2.8-1.6"/><path color="#7ebf7b" d="M562.8 100.1l2.7 1.1-2.1-1.1-2.8-1.2"/><path color="#108fd2" d="M483.2 107.8l-2.8 1.9 2.1 .1 2.8 .1"/><path color="#1482d5" d="M477.6 111.6l2.8-1.9-2.1-2.3-2.8 1.1"/><path color="#21b4ac" d="M527.9 104.1l-2.2-.7-2.7 1.9 2.1 .8"/><path color="#4bbc93" d="M553 101l2.1 1.6 2.8-1.9-2.2-1.4"/><path color="#06a4c9" d="M518.1 106l-2.8 .7 2.1 1.2 2.8-.8"/><path color="#1380d6" d="M502.7 109.1l-2.1-1-2.8 1.2 2.2 .9"/><path color="#16b1b3" d="M527.9 104.1l2.1 2.5 2.7-.2-2.1-1.7"/><path color="#06a5c9" d="M537.6 107.1l-2.1-.9-2.8 .2 2.2 1.7"/><path color="#137dd8" d="M493 109.6l-2.8 1.1 2.1 .1 2.8-.4"/><path color="#07a9c2" d="M512.5 107.4l2.8-.7-2.1-2-2.8 .6"/><path color="#46bb96" d="M467.8 102.8l2.8 1.3-2.1 1.2-2.8 .2"/><path color="#1079da" d="M487.4 111.9l2.8-1.2-2.1-1.7-2.8 .9"/><path color="#0a96d1" d="M502.7 109.1l2.2-.5 2.7-1.7-2.1-.8"/><path color="#07a9c3" d="M537.6 107.1l2.2 .9 2.7-1.9-2.1-1"/><path color="#8bbf75" d="M562.8 100.1l-2.2-1.2-2.7 1.8 2.1 1.5"/><path color="#1ab2b1" d="M547.4 105.2l2.8-2.1-2.1-.3-2.8 1.4"/><path color="#28b6a8" d="M553 101l-2.8 2.1 2.1 1.7 2.8-2.2"/><path color="#1486d4" d="M477.6 111.6l-2.1-3.1-2.8-1 2.2 3.5"/><path color="#19b2b1" d="M527.9 104.1l-2.8 2 2.1 1.9 2.8-1.4"/><path color="#1487d3" d="M477.6 111.6l2.2-1.9 2.7 .1-2.1-.1"/><path color="#07aac2" d="M522.3 108.1l2.8-2-2.1-.8-2.8 1.8"/><path color="#07a9c3" d="M512.5 107.4l-2.1-2.1-2.8 1.6 2.2 .8"/><path color="#11afb8" d="M547.4 105.2l-2.1-1-2.8 1.9 2.2 .9"/><path color="#06a6c7" d="M537.6 107.1l-2.7 1 2.1 .9 2.8-1"/><path color="#1387d3" d="M502.7 109.1l-2.7 1.1 2.1-1.5 2.8-.1"/><path color="#127cd8" d="M497.2 111.2l2.8-1-2.2-.9-2.7 1.1"/><path color="#06a4ca" d="M512.5 107.4l2.1 1.4 2.8-.9-2.1-1.2"/><path color="#1485d4" d="M487.4 111.9l-2.1-2-2.8-.1 2.1 .1"/><path color="#55bd8d" d="M467.8 102.8l2.2 3.8 2.7 .9-2.1-3.4"/><path color="#07aac1" d="M532.1 109l2.8-.9-2.2-1.7-2.7 .2"/><path color="#1079da" d="M487.4 111.9l2.1-.7 2.8-.4-2.1-.1"/><path color="#3cba9c" d="M557.2 104.2l2.8-2-2.1-1.5-2.8 1.9"/><path color="#13b0b6" d="M547.4 105.2l2.2 1.8 2.7-2.2-2.1-1.7"/><path color="#06a3ca" d="M522.3 108.1l-2.1-1-2.8 .8 2.1 1.2"/><path color="#1487d3" d="M477.6 111.6l-2.7-.6 2.1 .7 2.8-2"/><path color="#07a9c2" d="M522.3 108.1l2.1 1.3 2.8-1.4-2.1-1.9"/><path color="#1481d6" d="M497.2 111.2l-2.1-.8-2.8 .4 2.1 .1"/><path color="#06a4c9" d="M512.5 107.4l-2.7 .3 2.1 1.4 2.7-.3"/><path color="#18b2b2" d="M557.2 104.2l-2.1-1.6-2.8 2.2 2.1 1.6"/><path color="#0cadbc" d="M547.4 105.2l-2.7 1.8 2.1 .9 2.8-.9"/><path color="#08aac1" d="M541.9 108.8l2.8-1.8-2.2-.9-2.7 1.9"/><path color="#07aac1" d="M532.1 109l-2.1-2.4-2.8 1.4 2.1 1.8"/><path color="#1487d3" d="M487.4 111.9l-2.8-2 2.2 .9 2.7 .4"/><path color="#06a8c4" d="M472.1 110.4l2.8 .6-2.2-3.5-2.7-.9"/><path color="#06a6c6" d="M532.1 109l2.1 1 2.8-1-2.1-.9"/><path color="#128bd2" d="M497.2 111.2l2.1-2.4 2.8-.1-2.1 1.5"/><path color="#06a2cb" d="M507 108.1l2.8-.4-2.2-.8-2.7 1.7"/><path color="#06a3ca" d="M522.3 108.1l-2.8 1 2.2 1 2.7-.7"/><path color="#06a1cd" d="M516.8 110.1l2.7-1-2.1-1.2-2.8 .9"/><path color="#06a8c4" d="M541.9 108.8l-2.1-.8-2.8 1 2.1 .9"/><path color="#07aac1" d="M551.7 108.7l2.7-2.3-2.1-1.6-2.7 2.2"/><path color="#06a6c7" d="M532.1 109l-2.8 .8 2.2 1 2.7-.8"/><path color="#118cd2" d="M472.1 110.4l2.1 3.3 2.8-2-2.1-.7"/><path color="#06a8c3" d="M481.9 107.9l2.7 2-2.1-.1-2.7-.1"/><path color="#0badbc" d="M541.9 108.8l2.1 0 2.8-.9-2.1-.9"/><path color="#0c93d2" d="M497.2 111.2l-2.8-.3 2.2-1.2 2.7-.9"/><path color="#06a6c6" d="M507 108.1l-2.1 .5-2.8 .1 2.1-1.5"/><path color="#06a6c7" d="M507 108.1l2.1 1.3 2.8-.3-2.1-1.4"/><path color="#06a5c8" d="M526.6 110.7l2.7-.9-2.1-1.8-2.8 1.4"/><path color="#0e92d2" d="M491.7 110.6l2.7 .3-2.1-.1-2.8 .4"/><path color="#06a0cd" d="M516.8 110.1l-2.2-1.3-2.7 .3 2.1 1.3"/><path color="#07aac2" d="M551.7 108.7l-2.1-1.7-2.8 .9 2.1 .9"/><path color="#06a0cd" d="M516.8 110.1l2.1 .8 2.8-.8-2.2-1"/><path color="#06a5c8" d="M481.9 107.9l-2.1 1.8-2.8 2 2.1 .7"/><path color="#09acbe" d="M541.9 108.8l-2.8 1.1 2.1-.1 2.8-1"/><path color="#06a7c5" d="M536.3 111l2.8-1.1-2.1-.9-2.8 1"/><path color="#06a4c9" d="M526.6 110.7l-2.2-1.3-2.7 .7 2.1 1.1"/><path color="#0badbc" d="M481.9 107.9l2.1 2.5 2.8 .4-2.2-.9"/><path color="#089ad0" d="M491.7 110.6l-2.2 .6-2.7-.4 2.1 .9"/><path color="#0aacbd" d="M507 108.1l-2.8-.9 2.1 1.4 2.8 .8"/><path color="#0e76dc" d="M476.3 117l2.8-4.6-2.1-.7-2.8 2"/><path color="#06a5c8" d="M526.6 110.7l2.1 1 2.8-.9-2.2-1"/><path color="#06a1cc" d="M516.8 110.1l-2.8 .3 2.1 .3 2.8 .2"/><path color="#06a0cd" d="M491.7 110.6l2.1 0 2.8-.9-2.2 1.2"/><path color="#06a7c6" d="M536.3 111l-2.1-1-2.7 .8 2.1 1"/><path color="#13b0b6" d="M501.4 106.3l2.8 .9-2.1 1.5-2.8 .1"/><path color="#07aac2" d="M481.9 107.9l-2.8 4.5 2.1 .4 2.8-2.4"/><path color="#06a3ca" d="M511.2 110.6l2.8-.2-2.1-1.3-2.8 .3"/><path color="#12b0b6" d="M546.1 108.9l2.8-.1-2.1-.9-2.8 .9"/><path color="#08abc0" d="M536.3 111l2.2-.1 2.7-1.1-2.1 .1"/><path color="#06a4c9" d="M526.6 110.7l-2.8 .5 2.1 1 2.8-.5"/><path color="#0f77db" d="M476.3 117l2.2-1.7 2.7-2.5-2.1-.4"/><path color="#06a3ca" d="M491.7 110.6l-2.8 1.1 2.1-.8 2.8-.3"/><path color="#06a3ca" d="M521 111.6l2.8-.4-2.1-1.1-2.8 .8"/><path color="#06a0cd" d="M486.1 112.8l2.8-1.1-2.1-.9-2.8-.4"/><path color="#14b0b5" d="M501.4 106.3l-2.1 2.5-2.7 .9 2.1-1.2"/><path color="#1ab2b1" d="M546.1 108.9l-2.1-.1-2.8 1 2.2 0"/><path color="#07aac2" d="M536.3 111l-2.7 .8 2.1 .4 2.8-1.3"/><path color="#07a9c2" d="M511.2 110.6l-2.1-1.2-2.8-.8 2.2 1.3"/><path color="#30b7a2" d="M501.4 106.3l2.2 1.5 2.7 .8-2.1-1.4"/><path color="#06a6c7" d="M530.8 112.7l2.8-.9-2.1-1-2.8 .9"/><path color="#06a6c7" d="M511.2 110.6l2.2 0 2.7 .1-2.1-.3"/><path color="#069fce" d="M486.1 112.8l-2.1-2.4-2.8 2.4 2.1 .4"/><path color="#06a7c6" d="M521 111.6l-2.1-.7-2.8-.2 2.1 .4"/><path color="#06a5c9" d="M521 111.6l2.1 1.2 2.8-.6-2.1-1"/><path color="#07a9c3" d="M495.9 110.6l2.8-2.1-2.1 1.2-2.8 .9"/><path color="#06a1cc" d="M486.1 112.8l2.1-1.7 2.8-.2-2.1 .8"/><path color="#06a6c7" d="M530.8 112.7l-2.1-1-2.8 .5 2.1 1.1"/><path color="#30b7a2" d="M501.4 106.3l-2.7 2.2 2.1 .7 2.8-1.4"/><path color="#09abbf" d="M511.2 110.6l-2.7-.7 2.1 .6 2.8 .1"/><path color="#19b2b2" d="M540.6 110.8l2.8-1-2.2 0-2.7 1.1"/><path color="#06a7c6" d="M530.8 112.7l2.1 .8 2.8-1.3-2.1-.4"/><path color="#07a9c3" d="M521 111.6l-2.8-.5 2.2 1.6 2.7 .1"/><path color="#07a9c3" d="M495.9 110.6l-2.1 0-2.8 .3 2.1-.9"/><path color="#06a1cc" d="M486.1 112.8l-2.8 .4 2.2-1.4 2.7-.7"/><path color="#22b4ac" d="M505.7 109.2l2.8 .7-2.2-1.3-2.7-.8"/><path color="#0d92d2" d="M480.6 113.7l2.7-.5-2.1-.4-2.7 2.5"/><path color="#11afb7" d="M540.6 110.8l-2.1 .1-2.8 1.3 2.1 .3"/><path color="#0cadbb" d="M495.9 110.6l2.1 .1 2.8-1.5-2.1-.7"/><path color="#06a6c7" d="M530.8 112.7l-2.8 .6 2.2 1 2.7-.8"/><path color="#10afb8" d="M515.5 110.6l2.7 .5-2.1-.4-2.7-.1"/><path color="#06a6c7" d="M525.3 113.9l2.7-.6-2.1-1.1-2.8 .6"/><path color="#2cb6a5" d="M505.7 109.2l-2.1-1.4-2.8 1.4 2.1 .7"/><path color="#1eb3ae" d="M505.7 109.2l2.1 1.1 2.8 .2-2.1-.6"/><path color="#0badbd" d="M495.9 110.6l-2.8-.6 2.2 .6 2.7 .1"/><path color="#07a9c2" d="M535 114.3l2.8-1.8-2.1-.3-2.8 1.3"/><path color="#1bb2b0" d="M515.5 110.6l-2.1 0-2.8-.1 2.1 .5"/><path color="#06a6c7" d="M480.6 113.7l2.1-1.2 2.8-.7-2.2 1.4"/><path color="#15b1b4" d="M515.5 110.6l2.1 2 2.8 .1-2.2-1.6"/><path color="#06a8c4" d="M525.3 113.9l-2.2-1.1-2.7-.1 2.1 1.6"/><path color="#16b1b4" d="M490.4 109.4l2.7 .6-2.1 .9-2.8 .2"/><path color="#06a6c7" d="M525.3 113.9l2.1 1.1 2.8-.7-2.2-1"/><path color="#28b6a8" d="M505.7 109.2l-2.8 .7 2.1 1.3 2.8-.9"/><path color="#06a6c7" d="M535 114.3l-2.1-.8-2.7 .8 2.1 .9"/><path color="#1ab2b1" d="M500.1 110.7l2.8-.8-2.1-.7-2.8 1.5"/><path color="#1fb3ae" d="M515.5 110.6l-2.8 .4 2.1 2.3 2.8-.7"/><path color="#20b4ad" d="M490.4 109.4l-2.2 1.7-2.7 .7 2.1-1.5"/><path color="#06a8c4" d="M525.3 113.9l-2.8 .4 2.1 1.1 2.8-.4"/><path color="#28b6a7" d="M490.4 109.4l2.1 1.2 2.8 0-2.2-.6"/><path color="#25b5a9" d="M509.9 111.5l2.8-.5-2.1-.5-2.8-.2"/><path color="#0eaeba" d="M519.7 114.7l2.8-.4-2.1-1.6-2.8-.1"/><path color="#1ab2b1" d="M500.1 110.7l-2.1 0-2.7-.1 2.1 .6"/><path color="#22b4ac" d="M500.1 110.7l2.2 1.3 2.7-.8-2.1-1.3"/><path color="#06a6c7" d="M529.5 116.1l2.8-.9-2.1-.9-2.8 .7"/><path color="#35b89f" d="M490.4 109.4l-2.8 .9 2.1 1.1 2.8-.8"/><path color="#26b5a9" d="M509.9 111.5l-2.1-1.2-2.8 .9 2.2 1.2"/><path color="#1db3af" d="M484.8 111.3l2.8-1-2.1 1.5-2.8 .7"/><path color="#1db3af" d="M509.9 111.5l2.2 2.6 2.7-.8-2.1-2.3"/><path color="#0faeb9" d="M519.7 114.7l-2.1-2.1-2.8 .7 2.1 2.3"/><path color="#0aacbe" d="M519.7 114.7l2.1 1.1 2.8-.4-2.1-1.1"/><path color="#21b4ac" d="M500.1 110.7l-2.7 .5 2.1 1.3 2.8-.5"/><path color="#06a7c6" d="M529.5 116.1l-2.1-1.1-2.8 .4 2.1 1.1"/><path color="#28b6a8" d="M494.6 111.8l2.8-.6-2.1-.6-2.8 0"/><path color="#1bb2b0" d="M509.9 111.5l-2.7 .9 2.1 2.4 2.8-.7"/><path color="#0bacbd" d="M519.7 114.7l-2.8 .9 2.2 .6 2.7-.4"/><path color="#2db7a4" d="M484.8 111.3l2.1 .9 2.8-.8-2.1-1.1"/><path color="#21b4ac" d="M504.4 113.2l2.8-.8-2.2-1.2-2.7 .8"/><path color="#09acbe" d="M514.2 116.6l2.7-1-2.1-2.3-2.7 .8"/><path color="#2cb7a5" d="M494.6 111.8l-2.1-1.2-2.8 .8 2.1 1"/><path color="#25b5a9" d="M494.6 111.8l2.1 1.3 2.8-.6-2.1-1.3"/><path color="#07aac1" d="M524 116.9l2.7-.4-2.1-1.1-2.8 .4"/><path color="#20b4ad" d="M504.4 113.2l-2.1-1.2-2.8 .5 2.1 1.3"/><path color="#17b1b3" d="M504.4 113.2l2.1 2.4 2.8-.8-2.1-2.4"/><path color="#08aac1" d="M514.2 116.6l-2.1-2.5-2.8 .7 2.1 2.5"/><path color="#09abbf" d="M514.2 116.6l2.1 0 2.8-.4-2.2-.6"/><path color="#28b6a8" d="M494.6 111.8l-2.8 .6 2.2 1.3 2.7-.6"/><path color="#0cadbc" d="M524 116.9l-2.2-1.1-2.7 .4 2.1 .5"/><path color="#2bb6a5" d="M489.1 113l2.7-.6-2.1-1-2.8 .8"/><path color="#19b2b2" d="M504.4 113.2l-2.8 .6 2.1 2 2.8-.2"/><path color="#08aac1" d="M514.2 116.6l-2.8 .7 2.1 .1 2.8-.8"/><path color="#24b5aa" d="M498.9 114.4l2.7-.6-2.1-1.3-2.8 .6"/><path color="#07aac1" d="M508.6 118l2.8-.7-2.1-2.5-2.8 .8"/><path color="#2bb6a6" d="M489.1 113l2.1 1.3 2.8-.6-2.2-1.3"/><path color="#27b5a8" d="M498.9 114.4l-2.2-1.3-2.7 .6 2.1 1.2"/><path color="#15b1b4" d="M518.4 116.5l2.8 .2-2.1-.5-2.8 .4"/><path color="#22b4ab" d="M498.9 114.4l2.1 1.6 2.7-.2-2.1-2"/><path color="#0badbc" d="M508.6 118l-2.1-2.4-2.8 .2 2.2 2"/><path color="#07aac2" d="M508.6 118l2.2 .2 2.7-.8-2.1-.1"/><path color="#19b2b2" d="M518.4 116.5l-2.1 .1-2.8 .8 2.2 .1"/><path color="#25b5aa" d="M498.9 114.4l-2.8 .5 2.1 2.1 2.8-1"/><path color="#0aacbe" d="M508.6 118l-2.7-.2 2.1 1.2 2.8-.8"/><path color="#2ab6a6" d="M493.3 115.5l2.8-.6-2.1-1.2-2.8 .6"/><path color="#1bb2b0" d="M503.1 117.6l2.8 .2-2.2-2-2.7 .2"/><path color="#15b0b4" d="M512.9 118.5l2.8-1-2.2-.1-2.7 .8"/><path color="#22b4ac" d="M493.3 115.5l2.1 2.5 2.8-1-2.1-2.1"/><path color="#1eb3ae" d="M503.1 117.6l-2.1-1.6-2.8 1 2.1 2.1"/><path color="#13b0b6" d="M503.1 117.6l2.1 2.1 2.8-.7-2.1-1.2"/><path color="#0faeb9" d="M512.9 118.5l-2.1-.3-2.8 .8 2.1 1.2"/><path color="#13b0b6" d="M503.1 117.6l-2.8 1.5 2.1 1.8 2.8-1.2"/><path color="#11afb8" d="M497.6 120.5l2.7-1.4-2.1-2.1-2.8 1"/><path color="#09abbf" d="M507.3 121.9l2.8-1.7-2.1-1.2-2.8 .7"/><path color="#09abbf" d="M497.6 120.5l2.1 1.6 2.7-1.2-2.1-1.8"/><path color="#07a9c3" d="M507.3 121.9l-2.1-2.2-2.8 1.2 2.2 1.8"/><path color="#06a7c5" d="M501.8 123.6l2.8-.9-2.2-1.8-2.7 1.2"/></g><path d="M373.8 174.1L501.2 232.1L667.4 187.4M373.8 174.1L373.8 46.3" stroke="#5a5a5a" stroke-width="0.9" fill="none"/><path d="M501.2 232.1L505 233.9M501.2 232.1L497.1 233.2M556.6 217.2L560.4 219M458.7 212.8L454.6 213.9M612 202.3L615.8 204.1M416.3 193.4L412.2 194.5M667.4 187.4L671.2 189.2M373.8 174.1L369.8 175.2M373.8 174.1L370 172.3M373.8 152.8L370 151M373.8 131.5L370 129.7M373.8 110.2L370 108.4M373.8 88.9L370 87.1M373.8 67.6L370 65.8M373.8 46.3L370 44.5" stroke="#5a5a5a" stroke-width="0.9" fill="none"/><circle cx="501.8" cy="228.7" r="2.5" fill="none" stroke="#ff0000" stroke-width="2.9"/><circle cx="378.7" cy="172.6" r="2.5" fill="none" stroke="#0000ff" stroke-width="2.9"/><circle cx="662.5" cy="185.5" r="2.5" fill="none" stroke="#00ff00" stroke-width="2.9"/><text x="366.5" y="175.4" text-anchor="end" font-family="'Liberation Sans', sans-serif" font-size="9" fill="#262626">0</text><text x="366.5" y="154.1" text-anchor="end" font-family="'Liberation Sans', sans-serif" font-size="9" fill="#262626">2</text><text x="366.5" y="132.8" text-anchor="end" font-family="'Liberation Sans', sans-serif" font-size="9" fill="#262626">4</text><text x="366.5" y="111.5" text-anchor="end" font-family="'Liberation Sans', sans-serif" font-size="9" fill="#262626">6</text><text x="366.5" y="90.2" text-anchor="end" font-family="'Liberation Sans', sans-serif" font-size="9" fill="#262626">8</text><text x="366.5" y="68.9" text-anchor="end" font-family="'Liberation Sans', sans-serif" font-size="9" fill="#262626">10</text><text x="366.5" y="47.6" text-anchor="end" font-family="'Liberation Sans', sans-serif" font-size="9" fill="#262626">12</text><text x="490.3" y="243.2" text-anchor="middle" font-family="'Liberation Sans', sans-serif" font-size="9" fill="#262626">0</text><text x="445.8" y="223.9" text-anchor="middle" font-family="'Liberation Sans', sans-serif" font-size="9" fill="#262626">10</text><text x="403" y="204.9" text-anchor="middle" font-family="'Liberation Sans', sans-serif" font-size="9" fill="#262626">20</text><text x="360.8" y="184.8" text-anchor="middle" font-family="'Liberation Sans', sans-serif" font-size="9" fill="#262626">30</text><text x="510.2" y="244.5" text-anchor="middle" font-family="'Liberation Sans', sans-serif" font-size="9" fill="#262626">0</text><text x="569" y="229.6" text-anchor="middle" font-family="'Liberation Sans', sans-serif" font-size="9" fill="#262626">10</text><text x="623.7" y="215.2" text-anchor="middle" font-family="'Liberation Sans', sans-serif" font-size="9" fill="#262626">20</text><text x="679" y="200.3" text-anchor="middle" font-family="'Liberation Sans', sans-serif" font-size="9" fill="#262626">30</text><text transform="translate(599,227) rotate(-15)" y="4" text-anchor="middle" font-family="'Liberation Serif', serif" font-size="13" font-weight="bold" fill="#262626">x/m</text><text transform="translate(416,221) rotate(24.5)" y="4" text-anchor="middle" font-family="'Liberation Serif', serif" font-size="13" font-weight="bold" fill="#262626">y/m</text><text transform="translate(349.8,114.7) rotate(-90)" text-anchor="middle" font-family="'Liberation Serif', serif" font-size="16.2" fill="#262626">Elevation/m</text><text x="498" y="267.5" text-anchor="middle" font-family="'Liberation Serif', serif" font-size="16" fill="#000">(b)</text></svg></body></html>
